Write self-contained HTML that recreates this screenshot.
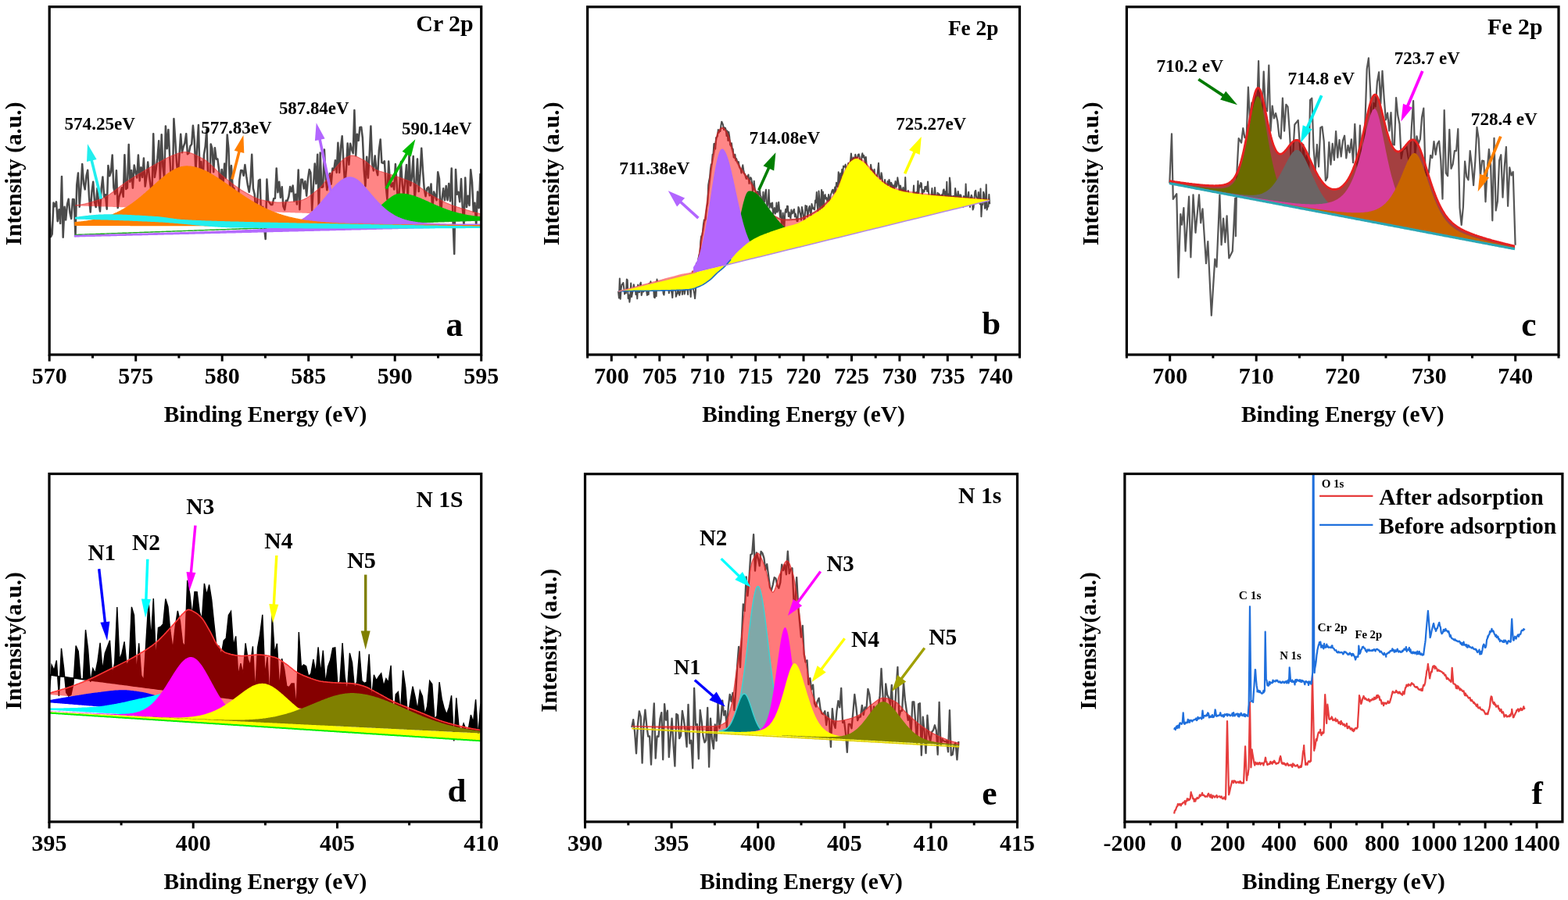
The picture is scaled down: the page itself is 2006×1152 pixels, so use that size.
<!DOCTYPE html><html><head><meta charset="utf-8"><style>html,body{margin:0;padding:0;background:#fff;}svg{display:block;}</style></head><body><svg width="2006" height="1152" viewBox="0 0 2006 1152" font-family="'Liberation Serif', 'Times New Roman', serif"><path d="M63.2 272.8L65 303.1L66.7 299.8L68.5 259.6L70.2 264.1L72 258.4L73.7 283.2L75.5 268.2L77.2 286.1L79 225.9L80.7 303.8L82.5 264.7L84.2 281.5L86 261.6L87.7 254.8L89.5 272.8L91.2 279.9L93 255.1L94.7 255.2L96.5 302L98.2 237L100 221.4L101.7 264.7L103.5 239.5L105.2 210.1L107 235L108.7 242.4L110.5 225.1L112.2 217.7L114 252.3L115.7 271.6L117.5 245L119.2 232.7L121 258.1L122.7 265.1L124.5 241.1L126.2 259.9L128 270.6L129.7 241.1L131.4 226.4L133.2 252.2L134.9 249L136.7 267.7L138.4 211.9L140.2 225.3L141.9 220.2L143.7 198.6L145.4 240.3L147.2 248.5L148.9 218.3L150.7 266.1L152.4 252L154.2 246.5L155.9 240.2L157.7 251.9L159.4 198.2L161.2 241.9L162.9 240.6L164.7 185.1L166.4 232.7L168.2 217.9L169.9 240.7L171.7 211.6L173.4 220.2L175.2 227.5L176.9 198.5L178.7 231.4L180.4 214.2L182.2 226.9L183.9 202.6L185.7 238.6L187.4 226.5L189.2 207.5L190.9 225.1L192.7 238.5L194.4 249.7L196.2 171.3L197.9 226.9L199.7 216.2L201.4 202.4L203.2 180.3L204.9 231.3L206.7 172.3L208.4 213.3L210.2 229.2L211.9 161.4L213.7 190.2L215.4 166.1L217.2 200.9L218.9 229.2L220.7 240.1L222.4 151.9L224.2 178.8L225.9 207.3L227.7 226.7L229.4 199.2L231.2 171.7L232.9 195.2L234.7 187.7L236.4 183.3L238.2 171.2L239.9 197.2L241.7 195.7L243.4 187L245.2 184.5L246.9 160.7L248.7 179.7L250.4 219.4L252.2 188L253.9 160.1L255.7 224.8L257.4 207.1L259.2 244.2L260.9 198.1L262.7 187.1L264.4 165.6L266.2 230.7L267.9 260.8L269.7 184.4L271.4 190L273.2 220.3L274.9 189.2L276.7 203.7L278.4 203.6L280.2 217.7L281.9 240.1L283.7 216.9L285.4 238.9L287.2 209.5L288.9 228L290.7 172.6L292.4 189.8L294.2 242.7L295.9 212.1L297.7 240.3L299.4 240.7L301.2 259.8L302.9 249.3L304.7 255.1L306.4 230.3L308.2 217.9L309.9 218.2L311.7 224.8L313.4 211L315.2 225.4L316.9 236.9L318.7 245.8L320.4 233.2L322.2 197.7L323.9 241.1L325.7 248.8L327.4 269.4L329.2 258.5L330.9 231L332.7 229.8L334.4 293.1L336.2 264.7L337.9 289.8L339.7 306L341.4 229.5L343.2 257.5L344.9 259.5L346.7 262.1L348.4 262L350.2 254.3L351.9 253.9L353.7 215.4L355.4 246.2L357.2 232.8L358.9 252.9L360.7 239.2L362.4 264.1L364.2 268.6L365.9 256.8L367.7 256.8L369.4 251.5L371.2 239L372.9 245.3L374.7 237.5L376.4 257.6L378.2 248.8L379.9 261.6L381.7 217.5L383.4 268.2L385.2 229.7L386.9 229.8L388.7 241.4L390.4 232.1L392.2 250.7L393.9 229.7L395.7 217.1L397.4 221L399.2 269.3L400.9 238.8L402.7 209.5L404.4 235.1L406.2 197.7L407.9 273.2L409.7 195.4L411.4 239.8L413.2 239.3L414.9 191.4L416.7 229.5L418.4 243.3L420.2 228.9L421.9 222L423.7 235.7L425.4 215.5L427.2 217.7L428.9 205.3L430.7 220.9L432.4 182.8L434.2 220.9L435.9 189.3L437.7 174.2L439.4 206.3L441.2 235.7L442.9 218.1L444.7 183.4L446.4 210.7L448.2 183.7L449.9 191.1L451.7 196.2L453.4 141.1L455.2 199.3L456.9 171.7L458.7 180L460.4 162.9L462.2 162.7L463.9 176.7L465.7 218.1L467.4 238.4L469.2 200.7L470.9 227.7L472.7 197.9L474.4 161.4L476.2 210.3L477.9 218.4L479.7 199.4L481.4 217.2L483.2 224.2L484.9 191.9L486.7 178.5L488.4 208.1L490.2 208.9L491.9 206.3L493.7 237.7L495.4 255.3L497.2 206.6L498.9 232.8L500.7 239L502.4 234.3L504.2 242.5L505.9 210L507.7 236.5L509.4 266.6L511.2 239.1L513 207L514.7 235.8L516.5 251.5L518.2 231.6L520 210.9L521.7 260L523.5 196.5L525.2 237.5L527 226.4L528.7 200.1L530.5 256.4L532.2 237.3L534 203.4L535.7 245.1L537.5 222.4L539.2 189.7L541 218.7L542.7 241.6L544.5 251.2L546.2 241.4L548 239.5L549.7 250.2L551.5 235.4L553.2 268.2L555 245.5L556.7 249.7L558.5 256.2L560.2 220.3L562 229.1L563.7 281.3L565.5 254.7L567.2 241.2L569 256.3L570.7 238L572.5 256.2L574.2 235.1L576 257.4L577.7 215.4L579.5 282.8L581.2 325L583 216.9L584.7 248.7L586.5 245.8L588.2 258.3L590 229L591.7 265L593.5 290L595.2 227.4L597 265.1L598.7 250.8L600.5 262.9L602.2 217.3L604 233.1L605.7 270.7L607.5 259.7L609.2 290L611 245.5L612.7 266.3L614.5 222" fill="none" stroke="#4a4a4a" stroke-width="2.5" stroke-linejoin="round"/><path d="M96 262.8L97 262.8L98 262.7L99 262.6L100 262.5L101 262.4L102 262.2L103 262.1L104 261.9L105 261.8L106 261.6L107 261.4L108 261.2L109 260.9L110 260.7L111 260.4L112 260.2L113 259.9L114 259.6L115 259.3L116 259L117 258.7L118 258.4L119 258.1L120 257.8L121 257.4L122 257.1L123 256.8L124 256.4L125 256.1L126 255.7L127 255.4L128 255L129 254.6L130 254.3L131 253.9L132 253.4L133 253L134 252.5L135 251.9L136 251.4L137 250.8L138 250.2L139 249.5L140 248.9L141 248.2L142 247.5L143 246.8L144 246.1L145 245.3L146 244.6L147 243.8L148 243.1L149 242.3L150 241.5L151 240.7L152 240L153 239.2L154 238.4L155 237.6L156 236.9L157 236.1L158 235.4L159 234.7L160 233.9L161 233.2L162 232.5L163 231.9L164 231.2L165 230.6L166 230L167 229.3L168 228.7L169 228.1L170 227.4L171 226.8L172 226.2L173 225.6L174 225L175 224.3L176 223.7L177 223.1L178 222.5L179 221.9L180 221.3L181 220.7L182 220.1L183 219.5L184 218.9L185 218.3L186 217.7L187 217.1L188 216.5L189 215.9L190 215.3L191 214.7L192 214.2L193 213.6L194 213L195 212.5L196 211.9L197 211.3L198 210.8L199 210.2L200 209.7L201 209.1L202 208.6L203 208L204 207.4L205 206.9L206 206.3L207 205.8L208 205.2L209 204.6L210 204.1L211 203.6L212 203L213 202.5L214 202L215 201.5L216 201L217 200.6L218 200.1L219 199.7L220 199.3L221 198.9L222 198.5L223 198.1L224 197.8L225 197.4L226 197L227 196.6L228 196.2L229 195.9L230 195.5L231 195.3L232 195L233 194.8L234 194.6L235 194.5L236 194.5L237 194.5L238 194.6L239 194.7L240 194.9L241 195.1L242 195.3L243 195.6L244 195.9L245 196.2L246 196.6L247 197L248 197.4L249 197.9L250 198.3L251 198.8L252 199.3L253 199.8L254 200.3L255 200.8L256 201.4L257 201.9L258 202.4L259 202.9L260 203.5L261 204L262 204.6L263 205.3L264 206L265 206.8L266 207.6L267 208.4L268 209.3L269 210.2L270 211.1L271 212.1L272 213L273 214L274 215L275 216L276 216.9L277 217.9L278 218.9L279 219.9L280 220.9L281 221.8L282 222.7L283 223.6L284 224.5L285 225.3L286 226.1L287 226.9L288 227.7L289 228.5L290 229.3L291 230.1L292 230.9L293 231.7L294 232.5L295 233.3L296 234.1L297 234.9L298 235.6L299 236.4L300 237.2L301 237.9L302 238.6L303 239.4L304 240.1L305 240.8L306 241.4L307 242.1L308 242.8L309 243.4L310 244L311 244.6L312 245.2L313 245.7L314 246.3L315 246.9L316 247.5L317 248.1L318 248.6L319 249.2L320 249.7L321 250.3L322 250.8L323 251.4L324 251.9L325 252.4L326 252.8L327 253.3L328 253.7L329 254.1L330 254.5L331 254.9L332 255.2L333 255.5L334 255.8L335 256L336 256.2L337 256.4L338 256.6L339 256.9L340 257.1L341 257.3L342 257.5L343 257.6L344 257.8L345 258L346 258.1L347 258.3L348 258.4L349 258.6L350 258.7L351 258.8L352 258.8L353 258.9L354 259L355 259L356 259L357 259L358 259L359 259L360 258.9L361 258.9L362 258.9L363 258.8L364 258.8L365 258.8L366 258.7L367 258.6L368 258.6L369 258.5L370 258.4L371 258.3L372 258.3L373 258.2L374 258.1L375 258L376 257.9L377 257.8L378 257.7L379 257.6L380 257.4L381 257.3L382 257.2L383 257L384 256.8L385 256.6L386 256.3L387 255.9L388 255.5L389 255.1L390 254.6L391 254.1L392 253.5L393 252.9L394 252.3L395 251.7L396 251L397 250.3L398 249.5L399 248.8L400 248L401 247.2L402 246.4L403 245.6L404 244.8L405 244L406 243.2L407 242.3L408 241.5L409 240.6L410 239.6L411 238.6L412 237.4L413 236.2L414 234.9L415 233.6L416 232.3L417 230.9L418 229.5L419 228L420 226.6L421 225.2L422 223.8L423 222.4L424 221.1L425 219.8L426 218.6L427 217.4L428 216.3L429 215.2L430 214L431 212.8L432 211.6L433 210.5L434 209.3L435 208.2L436 207.2L437 206.1L438 205.2L439 204.3L440 203.4L441 202.7L442 202L443 201.5L444 201L445 200.5L446 200L447 199.6L448 199.3L449 199.1L450 199L451 199.1L452 199.2L453 199.4L454 199.6L455 200L456 200.3L457 200.7L458 201.2L459 201.7L460 202.2L461 202.7L462 203.2L463 203.7L464 204.3L465 204.8L466 205.3L467 206L468 206.7L469 207.5L470 208.3L471 209.2L472 210.1L473 211L474 211.9L475 212.8L476 213.7L477 214.6L478 215.3L479 216.1L480 216.7L481 217.2L482 217.6L483 218.1L484 218.5L485 218.8L486 219.2L487 219.5L488 219.8L489 220.1L490 220.4L491 220.7L492 221L493 221.3L494 221.6L495 221.9L496 222.2L497 222.5L498 222.8L499 223.2L500 223.5L501 223.8L502 224.1L503 224.5L504 224.8L505 225.1L506 225.4L507 225.8L508 226.1L509 226.4L510 226.8L511 227.1L512 227.5L513 227.9L514 228.2L515 228.6L516 228.9L517 229.3L518 229.7L519 230L520 230.4L521 230.8L522 231.2L523 231.6L524 232L525 232.4L526 232.8L527 233.3L528 233.8L529 234.2L530 234.8L531 235.3L532 235.9L533 236.5L534 237.2L535 237.9L536 238.7L537 239.4L538 240.2L539 240.9L540 241.7L541 242.5L542 243.2L543 244L544 244.7L545 245.4L546 246.1L547 246.7L548 247.3L549 247.9L550 248.5L551 249.1L552 249.7L553 250.3L554 250.9L555 251.5L556 252.1L557 252.6L558 253.2L559 253.7L560 254.3L561 254.8L562 255.4L563 255.9L564 256.4L565 256.9L566 257.4L567 257.9L568 258.4L569 258.9L570 259.3L571 259.8L572 260.2L573 260.6L574 261L575 261.4L576 261.8L577 262.2L578 262.5L579 262.9L580 263.3L581 263.6L582 264L583 264.3L584 264.6L585 265L586 265.3L587 265.6L588 265.9L589 266.3L590 266.6L591 266.9L592 267.2L593 267.5L594 267.8L595 268.1L596 268.4L597 268.7L598 269L599 269.3L600 269.6L601 269.9L602 270.2L603 270.5L604 270.8L605 271.1L606 271.4L607 271.6L608 271.9L609 272.2L610 272.5L611 272.7L612 273L613 273.3L614 273.5L615 273.8L615 280L614 280L613 279.9L612 279.9L611 279.9L610 279.8L609 279.8L608 279.8L607 279.7L606 279.7L605 279.7L604 279.6L603 279.6L602 279.6L601 279.5L600 279.5L599 279.5L598 279.5L597 279.4L596 279.4L595 279.4L594 279.3L593 279.3L592 279.3L591 279.2L590 279.2L589 279.2L588 279.1L587 279.1L586 279.1L585 279L584 279L583 279L582 278.9L581 278.9L580 278.9L579 278.8L578 278.8L577 278.8L576 278.7L575 278.7L574 278.7L573 278.6L572 278.6L571 278.6L570 278.6L569 278.5L568 278.5L567 278.5L566 278.4L565 278.4L564 278.4L563 278.3L562 278.3L561 278.3L560 278.2L559 278.2L558 278.2L557 278.1L556 278.1L555 278.1L554 278L553 278L552 278L551 277.9L550 277.9L549 277.9L548 277.8L547 277.8L546 277.8L545 277.7L544 277.7L543 277.7L542 277.7L541 277.6L540 277.6L539 277.6L538 277.5L537 277.5L536 277.5L535 277.4L534 277.4L533 277.4L532 277.3L531 277.3L530 277.3L529 277.2L528 277.2L527 277.2L526 277.1L525 277.1L524 277.1L523 277L522 277L521 277L520 276.9L519 276.9L518 276.9L517 276.8L516 276.8L515 276.8L514 276.8L513 276.7L512 276.7L511 276.7L510 276.6L509 276.6L508 276.6L507 276.5L506 276.5L505 276.5L504 276.4L503 276.4L502 276.4L501 276.3L500 276.3L499 276.3L498 276.2L497 276.2L496 276.2L495 276.1L494 276.1L493 276.1L492 276L491 276L490 276L489 275.9L488 275.9L487 275.9L486 275.8L485 275.8L484 275.8L483 275.8L482 275.7L481 275.7L480 275.7L479 275.6L478 275.6L477 275.6L476 275.5L475 275.5L474 275.5L473 275.4L472 275.4L471 275.4L470 275.3L469 275.3L468 275.3L467 275.2L466 275.2L465 275.2L464 275.1L463 275.1L462 275.1L461 275L460 275L459 275L458 274.9L457 274.9L456 274.9L455 274.9L454 274.8L453 274.8L452 274.8L451 274.7L450 274.7L449 274.7L448 274.6L447 274.6L446 274.6L445 274.5L444 274.5L443 274.5L442 274.4L441 274.4L440 274.4L439 274.3L438 274.3L437 274.3L436 274.2L435 274.2L434 274.2L433 274.1L432 274.1L431 274.1L430 274L429 274L428 274L427 274L426 273.9L425 273.9L424 273.9L423 273.8L422 273.8L421 273.8L420 273.7L419 273.7L418 273.7L417 273.6L416 273.6L415 273.6L414 273.5L413 273.5L412 273.5L411 273.4L410 273.4L409 273.4L408 273.3L407 273.3L406 273.3L405 273.2L404 273.2L403 273.2L402 273.1L401 273.1L400 273.1L399 273L398 273L397 273L396 273L395 272.9L394 272.9L393 272.9L392 272.8L391 272.8L390 272.8L389 272.7L388 272.7L387 272.7L386 272.6L385 272.6L384 272.6L383 272.5L382 272.5L381 272.5L380 272.4L379 272.4L378 272.4L377 272.3L376 272.3L375 272.3L374 272.2L373 272.2L372 272.2L371 272.1L370 272.1L369 272.1L368 272.1L367 272L366 272L365 272L364 271.9L363 271.9L362 271.9L361 271.8L360 271.8L359 271.8L358 271.7L357 271.7L356 271.7L355 271.6L354 271.6L353 271.6L352 271.5L351 271.5L350 271.5L349 271.4L348 271.4L347 271.4L346 271.3L345 271.3L344 271.3L343 271.2L342 271.2L341 271.2L340 271.2L339 271.1L338 271.1L337 271.1L336 271L335 271L334 271L333 270.9L332 270.9L331 270.9L330 270.8L329 270.8L328 270.8L327 270.7L326 270.7L325 270.7L324 270.6L323 270.6L322 270.6L321 270.5L320 270.5L319 270.5L318 270.4L317 270.4L316 270.4L315 270.3L314 270.3L313 270.3L312 270.3L311 270.2L310 270.2L309 270.2L308 270.1L307 270.1L306 270.1L305 270L304 270L303 270L302 269.9L301 269.9L300 269.9L299 269.8L298 269.8L297 269.8L296 269.7L295 269.7L294 269.7L293 269.6L292 269.6L291 269.6L290 269.5L289 269.5L288 269.5L287 269.4L286 269.4L285 269.4L284 269.3L283 269.3L282 269.3L281 269.3L280 269.2L279 269.2L278 269.2L277 269.1L276 269.1L275 269.1L274 269L273 269L272 269L271 268.9L270 268.9L269 268.9L268 268.8L267 268.8L266 268.8L265 268.7L264 268.7L263 268.7L262 268.6L261 268.6L260 268.6L259 268.5L258 268.5L257 268.5L256 268.4L255 268.4L254 268.4L253 268.4L252 268.3L251 268.3L250 268.3L249 268.2L248 268.2L247 268.2L246 268.1L245 268.1L244 268.1L243 268L242 268L241 268L240 267.9L239 267.9L238 267.9L237 267.8L236 267.8L235 267.8L234 267.7L233 267.7L232 267.7L231 267.6L230 267.6L229 267.6L228 267.5L227 267.5L226 267.5L225 267.5L224 267.4L223 267.4L222 267.4L221 267.3L220 267.3L219 267.3L218 267.2L217 267.2L216 267.2L215 267.1L214 267.1L213 267.1L212 267L211 267L210 267L209 266.9L208 266.9L207 266.9L206 266.8L205 266.8L204 266.8L203 266.7L202 266.7L201 266.7L200 266.6L199 266.6L198 266.6L197 266.5L196 266.5L195 266.5L194 266.5L193 266.4L192 266.4L191 266.4L190 266.3L189 266.3L188 266.3L187 266.2L186 266.2L185 266.2L184 266.1L183 266.1L182 266.1L181 266L180 266L179 266L178 265.9L177 265.9L176 265.9L175 265.8L174 265.8L173 265.8L172 265.7L171 265.7L170 265.7L169 265.6L168 265.6L167 265.6L166 265.6L165 265.5L164 265.5L163 265.5L162 265.4L161 265.4L160 265.4L159 265.3L158 265.3L157 265.3L156 265.2L155 265.2L154 265.2L153 265.1L152 265.1L151 265.1L150 265L149 265L148 265L147 264.9L146 264.9L145 264.9L144 264.8L143 264.8L142 264.8L141 264.7L140 264.7L139 264.7L138 264.7L137 264.6L136 264.6L135 264.6L134 264.5L133 264.5L132 264.5L131 264.4L130 264.4L129 264.4L128 264.3L127 264.3L126 264.3L125 264.2L124 264.2L123 264.2L122 264.1L121 264.1L120 264.1L119 264L118 264L117 264L116 263.9L115 263.9L114 263.9L113 263.8L112 263.8L111 263.8L110 263.8L109 263.7L108 263.7L107 263.7L106 263.6L105 263.6L104 263.6L103 263.5L102 263.5L101 263.5L100 263.4L99 263.4L98 263.4L97 263.3L96 263.3Z" fill="#ff0000" fill-opacity="0.48"/><path d="M96 262.8L97 262.8L98 262.7L99 262.6L100 262.5L101 262.4L102 262.2L103 262.1L104 261.9L105 261.8L106 261.6L107 261.4L108 261.2L109 260.9L110 260.7L111 260.4L112 260.2L113 259.9L114 259.6L115 259.3L116 259L117 258.7L118 258.4L119 258.1L120 257.8L121 257.4L122 257.1L123 256.8L124 256.4L125 256.1L126 255.7L127 255.4L128 255L129 254.6L130 254.3L131 253.9L132 253.4L133 253L134 252.5L135 251.9L136 251.4L137 250.8L138 250.2L139 249.5L140 248.9L141 248.2L142 247.5L143 246.8L144 246.1L145 245.3L146 244.6L147 243.8L148 243.1L149 242.3L150 241.5L151 240.7L152 240L153 239.2L154 238.4L155 237.6L156 236.9L157 236.1L158 235.4L159 234.7L160 233.9L161 233.2L162 232.5L163 231.9L164 231.2L165 230.6L166 230L167 229.3L168 228.7L169 228.1L170 227.4L171 226.8L172 226.2L173 225.6L174 225L175 224.3L176 223.7L177 223.1L178 222.5L179 221.9L180 221.3L181 220.7L182 220.1L183 219.5L184 218.9L185 218.3L186 217.7L187 217.1L188 216.5L189 215.9L190 215.3L191 214.7L192 214.2L193 213.6L194 213L195 212.5L196 211.9L197 211.3L198 210.8L199 210.2L200 209.7L201 209.1L202 208.6L203 208L204 207.4L205 206.9L206 206.3L207 205.8L208 205.2L209 204.6L210 204.1L211 203.6L212 203L213 202.5L214 202L215 201.5L216 201L217 200.6L218 200.1L219 199.7L220 199.3L221 198.9L222 198.5L223 198.1L224 197.8L225 197.4L226 197L227 196.6L228 196.2L229 195.9L230 195.5L231 195.3L232 195L233 194.8L234 194.6L235 194.5L236 194.5L237 194.5L238 194.6L239 194.7L240 194.9L241 195.1L242 195.3L243 195.6L244 195.9L245 196.2L246 196.6L247 197L248 197.4L249 197.9L250 198.3L251 198.8L252 199.3L253 199.8L254 200.3L255 200.8L256 201.4L257 201.9L258 202.4L259 202.9L260 203.5L261 204L262 204.6L263 205.3L264 206L265 206.8L266 207.6L267 208.4L268 209.3L269 210.2L270 211.1L271 212.1L272 213L273 214L274 215L275 216L276 216.9L277 217.9L278 218.9L279 219.9L280 220.9L281 221.8L282 222.7L283 223.6L284 224.5L285 225.3L286 226.1L287 226.9L288 227.7L289 228.5L290 229.3L291 230.1L292 230.9L293 231.7L294 232.5L295 233.3L296 234.1L297 234.9L298 235.6L299 236.4L300 237.2L301 237.9L302 238.6L303 239.4L304 240.1L305 240.8L306 241.4L307 242.1L308 242.8L309 243.4L310 244L311 244.6L312 245.2L313 245.7L314 246.3L315 246.9L316 247.5L317 248.1L318 248.6L319 249.2L320 249.7L321 250.3L322 250.8L323 251.4L324 251.9L325 252.4L326 252.8L327 253.3L328 253.7L329 254.1L330 254.5L331 254.9L332 255.2L333 255.5L334 255.8L335 256L336 256.2L337 256.4L338 256.6L339 256.9L340 257.1L341 257.3L342 257.5L343 257.6L344 257.8L345 258L346 258.1L347 258.3L348 258.4L349 258.6L350 258.7L351 258.8L352 258.8L353 258.9L354 259L355 259L356 259L357 259L358 259L359 259L360 258.9L361 258.9L362 258.9L363 258.8L364 258.8L365 258.8L366 258.7L367 258.6L368 258.6L369 258.5L370 258.4L371 258.3L372 258.3L373 258.2L374 258.1L375 258L376 257.9L377 257.8L378 257.7L379 257.6L380 257.4L381 257.3L382 257.2L383 257L384 256.8L385 256.6L386 256.3L387 255.9L388 255.5L389 255.1L390 254.6L391 254.1L392 253.5L393 252.9L394 252.3L395 251.7L396 251L397 250.3L398 249.5L399 248.8L400 248L401 247.2L402 246.4L403 245.6L404 244.8L405 244L406 243.2L407 242.3L408 241.5L409 240.6L410 239.6L411 238.6L412 237.4L413 236.2L414 234.9L415 233.6L416 232.3L417 230.9L418 229.5L419 228L420 226.6L421 225.2L422 223.8L423 222.4L424 221.1L425 219.8L426 218.6L427 217.4L428 216.3L429 215.2L430 214L431 212.8L432 211.6L433 210.5L434 209.3L435 208.2L436 207.2L437 206.1L438 205.2L439 204.3L440 203.4L441 202.7L442 202L443 201.5L444 201L445 200.5L446 200L447 199.6L448 199.3L449 199.1L450 199L451 199.1L452 199.2L453 199.4L454 199.6L455 200L456 200.3L457 200.7L458 201.2L459 201.7L460 202.2L461 202.7L462 203.2L463 203.7L464 204.3L465 204.8L466 205.3L467 206L468 206.7L469 207.5L470 208.3L471 209.2L472 210.1L473 211L474 211.9L475 212.8L476 213.7L477 214.6L478 215.3L479 216.1L480 216.7L481 217.2L482 217.6L483 218.1L484 218.5L485 218.8L486 219.2L487 219.5L488 219.8L489 220.1L490 220.4L491 220.7L492 221L493 221.3L494 221.6L495 221.9L496 222.2L497 222.5L498 222.8L499 223.2L500 223.5L501 223.8L502 224.1L503 224.5L504 224.8L505 225.1L506 225.4L507 225.8L508 226.1L509 226.4L510 226.8L511 227.1L512 227.5L513 227.9L514 228.2L515 228.6L516 228.9L517 229.3L518 229.7L519 230L520 230.4L521 230.8L522 231.2L523 231.6L524 232L525 232.4L526 232.8L527 233.3L528 233.8L529 234.2L530 234.8L531 235.3L532 235.9L533 236.5L534 237.2L535 237.9L536 238.7L537 239.4L538 240.2L539 240.9L540 241.7L541 242.5L542 243.2L543 244L544 244.7L545 245.4L546 246.1L547 246.7L548 247.3L549 247.9L550 248.5L551 249.1L552 249.7L553 250.3L554 250.9L555 251.5L556 252.1L557 252.6L558 253.2L559 253.7L560 254.3L561 254.8L562 255.4L563 255.9L564 256.4L565 256.9L566 257.4L567 257.9L568 258.4L569 258.9L570 259.3L571 259.8L572 260.2L573 260.6L574 261L575 261.4L576 261.8L577 262.2L578 262.5L579 262.9L580 263.3L581 263.6L582 264L583 264.3L584 264.6L585 265L586 265.3L587 265.6L588 265.9L589 266.3L590 266.6L591 266.9L592 267.2L593 267.5L594 267.8L595 268.1L596 268.4L597 268.7L598 269L599 269.3L600 269.6L601 269.9L602 270.2L603 270.5L604 270.8L605 271.1L606 271.4L607 271.6L608 271.9L609 272.2L610 272.5L611 272.7L612 273L613 273.3L614 273.5L615 273.8" fill="none" stroke="#e03030" stroke-width="1.2" stroke-opacity="0.6"/><path d="M96 300.4L97 300.4L98 300.3L99 300.3L100 300.3L101 300.2L102 300.2L103 300.2L104 300.1L105 300.1L106 300.1L107 300L108 300L109 299.9L110 299.9L111 299.9L112 299.8L113 299.8L114 299.8L115 299.7L116 299.7L117 299.7L118 299.6L119 299.6L120 299.5L121 299.5L122 299.5L123 299.4L124 299.4L125 299.4L126 299.3L127 299.3L128 299.3L129 299.2L130 299.2L131 299.1L132 299.1L133 299.1L134 299L135 299L136 299L137 298.9L138 298.9L139 298.9L140 298.8L141 298.8L142 298.7L143 298.7L144 298.7L145 298.6L146 298.6L147 298.6L148 298.5L149 298.5L150 298.5L151 298.4L152 298.4L153 298.3L154 298.3L155 298.3L156 298.2L157 298.2L158 298.2L159 298.1L160 298.1L161 298.1L162 298L163 298L164 297.9L165 297.9L166 297.9L167 297.8L168 297.8L169 297.8L170 297.7L171 297.7L172 297.7L173 297.6L174 297.6L175 297.5L176 297.5L177 297.5L178 297.4L179 297.4L180 297.4L181 297.3L182 297.3L183 297.3L184 297.2L185 297.2L186 297.1L187 297.1L188 297.1L189 297L190 297L191 297L192 296.9L193 296.9L194 296.9L195 296.8L196 296.8L197 296.7L198 296.7L199 296.7L200 296.6L201 296.6L202 296.6L203 296.5L204 296.5L205 296.5L206 296.4L207 296.4L208 296.3L209 296.3L210 296.3L211 296.2L212 296.2L213 296.2L214 296.1L215 296.1L216 296L217 296L218 296L219 295.9L220 295.9L221 295.9L222 295.8L223 295.8L224 295.8L225 295.7L226 295.7L227 295.6L228 295.6L229 295.6L230 295.5L231 295.5L232 295.5L233 295.4L234 295.4L235 295.3L236 295.3L237 295.3L238 295.2L239 295.2L240 295.2L241 295.1L242 295.1L243 295L244 295L245 295L246 294.9L247 294.9L248 294.9L249 294.8L250 294.8L251 294.8L252 294.7L253 294.7L254 294.6L255 294.6L256 294.6L257 294.5L258 294.5L259 294.5L260 294.4L261 294.4L262 294.3L263 294.3L264 294.3L265 294.2L266 294.2L267 294.2L268 294.1L269 294.1L270 294L271 294L272 294L273 293.9L274 293.9L275 293.8L276 293.8L277 293.8L278 293.7L279 293.7L280 293.7L281 293.6L282 293.6L283 293.5L284 293.5L285 293.5L286 293.4L287 293.4L288 293.4L289 293.3L290 293.3L291 293.2L292 293.2L293 293.2L294 293.1L295 293.1L296 293L297 293L298 293L299 292.9L300 292.9L301 292.9L302 292.8L303 292.8L304 292.7L305 292.7L306 292.7L307 292.6L308 292.6L309 292.5L310 292.5L311 292.5L312 292.4L313 292.4L314 292.3L315 292.3L316 292.3L317 292.2L318 292.2L319 292.1L320 292.1L321 292.1L322 292L323 292L324 291.9L325 291.9L326 291.9L327 291.8L328 291.8L329 291.7L330 291.7L331 291.7L332 291.6L333 291.6L334 291.5L335 291.5L336 291.5L337 291.4L338 291.4L339 291.3L340 291.3L341 291.3L342 291.2L343 291.2L344 291.1L345 291.1L346 291L347 291L348 291L349 290.9L350 290.9L351 290.8L352 290.8L353 290.7L354 290.7L355 290.7L356 290.6L357 290.6L358 290.5L359 290.5L360 290.4L361 290.4L362 290.4L363 290.3L364 290.3L365 290.2L366 290.2L367 290.1L368 290.1L369 290L370 290L371 289.9L372 289.9L373 289.9L374 289.8L375 289.8L376 289.7L377 289.7L378 289.6L379 289.6L380 289.5L381 289.5L382 289.4L383 289.4L384 289.3L385 289.3L386 289.2L387 289.2L388 289.1L389 289.1L390 289L391 289L392 288.9L393 288.9L394 288.8L395 288.8L396 288.7L397 288.7L398 288.6L399 288.6L400 288.5L401 288.4L402 288.4L403 288.3L404 288.3L405 288.2L406 288.2L407 288.1L408 288L409 288L410 287.9L411 287.9L412 287.8L413 287.7L414 287.7L415 287.6L416 287.5L417 287.5L418 287.4L419 287.3L420 287.3L421 287.2L422 287.1L423 287L424 286.9L425 286.9L426 286.8L427 286.7L428 286.6L429 286.5L430 286.4L431 286.3L432 286.2L433 286.1L434 286L435 285.9L436 285.8L437 285.7L438 285.5L439 285.4L440 285.3L441 285.1L442 285L443 284.8L444 284.6L445 284.5L446 284.3L447 284.1L448 283.9L449 283.7L450 283.4L451 283.2L452 283L453 282.7L454 282.4L455 282.1L456 281.8L457 281.5L458 281.2L459 280.8L460 280.5L461 280.1L462 279.7L463 279.2L464 278.8L465 278.3L466 277.9L467 277.4L468 276.8L469 276.3L470 275.7L471 275.1L472 274.5L473 273.9L474 273.2L475 272.6L476 271.9L477 271.2L478 270.4L479 269.7L480 268.9L481 268.1L482 267.3L483 266.5L484 265.6L485 264.8L486 263.9L487 263.1L488 262.2L489 261.3L490 260.5L491 259.6L492 258.7L493 257.8L494 257L495 256.1L496 255.3L497 254.5L498 253.7L499 252.9L500 252.2L501 251.5L502 250.9L503 250.3L504 249.8L505 249.3L506 248.8L507 248.5L508 248.1L509 247.9L510 247.7L511 247.6L512 247.6L513 247.6L514 247.6L515 247.6L516 247.7L517 247.7L518 247.8L519 248L520 248.1L521 248.3L522 248.5L523 248.7L524 248.9L525 249.1L526 249.4L527 249.7L528 250L529 250.3L530 250.6L531 251L532 251.3L533 251.7L534 252L535 252.4L536 252.8L537 253.2L538 253.6L539 254L540 254.5L541 254.9L542 255.3L543 255.8L544 256.2L545 256.7L546 257.1L547 257.6L548 258L549 258.5L550 258.9L551 259.4L552 259.8L553 260.3L554 260.7L555 261.2L556 261.6L557 262L558 262.5L559 262.9L560 263.3L561 263.7L562 264.2L563 264.6L564 265L565 265.4L566 265.8L567 266.2L568 266.6L569 266.9L570 267.3L571 267.7L572 268L573 268.4L574 268.7L575 269.1L576 269.4L577 269.7L578 270.1L579 270.4L580 270.7L581 271L582 271.3L583 271.6L584 271.8L585 272.1L586 272.4L587 272.6L588 272.9L589 273.1L590 273.3L591 273.6L592 273.8L593 274L594 274.2L595 274.4L596 274.6L597 274.8L598 275L599 275.2L600 275.3L601 275.5L602 275.6L603 275.8L604 275.9L605 276.1L606 276.2L607 276.3L608 276.5L609 276.6L610 276.7L611 276.8L612 276.9L613 277L614 277.1L615 277.2L615 282L614 282L613 282.1L612 282.1L611 282.1L610 282.2L609 282.2L608 282.2L607 282.3L606 282.3L605 282.4L604 282.4L603 282.4L602 282.5L601 282.5L600 282.5L599 282.6L598 282.6L597 282.6L596 282.7L595 282.7L594 282.7L593 282.8L592 282.8L591 282.9L590 282.9L589 282.9L588 283L587 283L586 283L585 283.1L584 283.1L583 283.1L582 283.2L581 283.2L580 283.2L579 283.3L578 283.3L577 283.4L576 283.4L575 283.4L574 283.5L573 283.5L572 283.5L571 283.6L570 283.6L569 283.6L568 283.7L567 283.7L566 283.7L565 283.8L564 283.8L563 283.9L562 283.9L561 283.9L560 284L559 284L558 284L557 284.1L556 284.1L555 284.1L554 284.2L553 284.2L552 284.2L551 284.3L550 284.3L549 284.4L548 284.4L547 284.4L546 284.5L545 284.5L544 284.5L543 284.6L542 284.6L541 284.6L540 284.7L539 284.7L538 284.7L537 284.8L536 284.8L535 284.9L534 284.9L533 284.9L532 285L531 285L530 285L529 285.1L528 285.1L527 285.1L526 285.2L525 285.2L524 285.2L523 285.3L522 285.3L521 285.4L520 285.4L519 285.4L518 285.5L517 285.5L516 285.5L515 285.6L514 285.6L513 285.6L512 285.7L511 285.7L510 285.7L509 285.8L508 285.8L507 285.8L506 285.9L505 285.9L504 286L503 286L502 286L501 286.1L500 286.1L499 286.1L498 286.2L497 286.2L496 286.2L495 286.3L494 286.3L493 286.3L492 286.4L491 286.4L490 286.5L489 286.5L488 286.5L487 286.6L486 286.6L485 286.6L484 286.7L483 286.7L482 286.7L481 286.8L480 286.8L479 286.8L478 286.9L477 286.9L476 287L475 287L474 287L473 287.1L472 287.1L471 287.1L470 287.2L469 287.2L468 287.2L467 287.3L466 287.3L465 287.3L464 287.4L463 287.4L462 287.5L461 287.5L460 287.5L459 287.6L458 287.6L457 287.6L456 287.7L455 287.7L454 287.7L453 287.8L452 287.8L451 287.8L450 287.9L449 287.9L448 288L447 288L446 288L445 288.1L444 288.1L443 288.1L442 288.2L441 288.2L440 288.2L439 288.3L438 288.3L437 288.3L436 288.4L435 288.4L434 288.5L433 288.5L432 288.5L431 288.6L430 288.6L429 288.6L428 288.7L427 288.7L426 288.7L425 288.8L424 288.8L423 288.8L422 288.9L421 288.9L420 289L419 289L418 289L417 289.1L416 289.1L415 289.1L414 289.2L413 289.2L412 289.2L411 289.3L410 289.3L409 289.3L408 289.4L407 289.4L406 289.4L405 289.5L404 289.5L403 289.6L402 289.6L401 289.6L400 289.7L399 289.7L398 289.7L397 289.8L396 289.8L395 289.8L394 289.9L393 289.9L392 289.9L391 290L390 290L389 290.1L388 290.1L387 290.1L386 290.2L385 290.2L384 290.2L383 290.3L382 290.3L381 290.3L380 290.4L379 290.4L378 290.4L377 290.5L376 290.5L375 290.6L374 290.6L373 290.6L372 290.7L371 290.7L370 290.7L369 290.8L368 290.8L367 290.8L366 290.9L365 290.9L364 290.9L363 291L362 291L361 291.1L360 291.1L359 291.1L358 291.2L357 291.2L356 291.2L355 291.3L354 291.3L353 291.3L352 291.4L351 291.4L350 291.4L349 291.5L348 291.5L347 291.6L346 291.6L345 291.6L344 291.7L343 291.7L342 291.7L341 291.8L340 291.8L339 291.8L338 291.9L337 291.9L336 291.9L335 292L334 292L333 292.1L332 292.1L331 292.1L330 292.2L329 292.2L328 292.2L327 292.3L326 292.3L325 292.3L324 292.4L323 292.4L322 292.4L321 292.5L320 292.5L319 292.6L318 292.6L317 292.6L316 292.7L315 292.7L314 292.7L313 292.8L312 292.8L311 292.8L310 292.9L309 292.9L308 292.9L307 293L306 293L305 293.1L304 293.1L303 293.1L302 293.2L301 293.2L300 293.2L299 293.3L298 293.3L297 293.3L296 293.4L295 293.4L294 293.4L293 293.5L292 293.5L291 293.5L290 293.6L289 293.6L288 293.7L287 293.7L286 293.7L285 293.8L284 293.8L283 293.8L282 293.9L281 293.9L280 293.9L279 294L278 294L277 294L276 294.1L275 294.1L274 294.2L273 294.2L272 294.2L271 294.3L270 294.3L269 294.3L268 294.4L267 294.4L266 294.4L265 294.5L264 294.5L263 294.5L262 294.6L261 294.6L260 294.7L259 294.7L258 294.7L257 294.8L256 294.8L255 294.8L254 294.9L253 294.9L252 294.9L251 295L250 295L249 295L248 295.1L247 295.1L246 295.2L245 295.2L244 295.2L243 295.3L242 295.3L241 295.3L240 295.4L239 295.4L238 295.4L237 295.5L236 295.5L235 295.5L234 295.6L233 295.6L232 295.7L231 295.7L230 295.7L229 295.8L228 295.8L227 295.8L226 295.9L225 295.9L224 295.9L223 296L222 296L221 296L220 296.1L219 296.1L218 296.2L217 296.2L216 296.2L215 296.3L214 296.3L213 296.3L212 296.4L211 296.4L210 296.4L209 296.5L208 296.5L207 296.5L206 296.6L205 296.6L204 296.7L203 296.7L202 296.7L201 296.8L200 296.8L199 296.8L198 296.9L197 296.9L196 296.9L195 297L194 297L193 297L192 297.1L191 297.1L190 297.1L189 297.2L188 297.2L187 297.3L186 297.3L185 297.3L184 297.4L183 297.4L182 297.4L181 297.5L180 297.5L179 297.5L178 297.6L177 297.6L176 297.6L175 297.7L174 297.7L173 297.8L172 297.8L171 297.8L170 297.9L169 297.9L168 297.9L167 298L166 298L165 298L164 298.1L163 298.1L162 298.1L161 298.2L160 298.2L159 298.3L158 298.3L157 298.3L156 298.4L155 298.4L154 298.4L153 298.5L152 298.5L151 298.5L150 298.6L149 298.6L148 298.6L147 298.7L146 298.7L145 298.8L144 298.8L143 298.8L142 298.9L141 298.9L140 298.9L139 299L138 299L137 299L136 299.1L135 299.1L134 299.1L133 299.2L132 299.2L131 299.3L130 299.3L129 299.3L128 299.4L127 299.4L126 299.4L125 299.5L124 299.5L123 299.5L122 299.6L121 299.6L120 299.6L119 299.7L118 299.7L117 299.8L116 299.8L115 299.8L114 299.9L113 299.9L112 299.9L111 300L110 300L109 300L108 300.1L107 300.1L106 300.1L105 300.2L104 300.2L103 300.3L102 300.3L101 300.3L100 300.4L99 300.4L98 300.4L97 300.5L96 300.5Z" fill="#00bf00"/><path d="M96 300.5L97 300.5L98 300.4L99 300.4L100 300.4L101 300.3L102 300.3L103 300.3L104 300.2L105 300.2L106 300.1L107 300.1L108 300.1L109 300L110 300L111 300L112 299.9L113 299.9L114 299.9L115 299.8L116 299.8L117 299.8L118 299.7L119 299.7L120 299.6L121 299.6L122 299.6L123 299.5L124 299.5L125 299.5L126 299.4L127 299.4L128 299.4L129 299.3L130 299.3L131 299.3L132 299.2L133 299.2L134 299.1L135 299.1L136 299.1L137 299L138 299L139 299L140 298.9L141 298.9L142 298.9L143 298.8L144 298.8L145 298.8L146 298.7L147 298.7L148 298.6L149 298.6L150 298.6L151 298.5L152 298.5L153 298.5L154 298.4L155 298.4L156 298.4L157 298.3L158 298.3L159 298.3L160 298.2L161 298.2L162 298.1L163 298.1L164 298.1L165 298L166 298L167 298L168 297.9L169 297.9L170 297.9L171 297.8L172 297.8L173 297.8L174 297.7L175 297.7L176 297.6L177 297.6L178 297.6L179 297.5L180 297.5L181 297.5L182 297.4L183 297.4L184 297.4L185 297.3L186 297.3L187 297.3L188 297.2L189 297.2L190 297.1L191 297.1L192 297.1L193 297L194 297L195 297L196 296.9L197 296.9L198 296.9L199 296.8L200 296.8L201 296.8L202 296.7L203 296.7L204 296.7L205 296.6L206 296.6L207 296.5L208 296.5L209 296.5L210 296.4L211 296.4L212 296.4L213 296.3L214 296.3L215 296.3L216 296.2L217 296.2L218 296.2L219 296.1L220 296.1L221 296L222 296L223 296L224 295.9L225 295.9L226 295.9L227 295.8L228 295.8L229 295.8L230 295.7L231 295.7L232 295.7L233 295.6L234 295.6L235 295.5L236 295.5L237 295.5L238 295.4L239 295.4L240 295.4L241 295.3L242 295.3L243 295.3L244 295.2L245 295.2L246 295.2L247 295.1L248 295.1L249 295L250 295L251 295L252 294.9L253 294.9L254 294.9L255 294.8L256 294.8L257 294.8L258 294.7L259 294.7L260 294.7L261 294.6L262 294.6L263 294.5L264 294.5L265 294.5L266 294.4L267 294.4L268 294.4L269 294.3L270 294.3L271 294.3L272 294.2L273 294.2L274 294.2L275 294.1L276 294.1L277 294L278 294L279 294L280 293.9L281 293.9L282 293.9L283 293.8L284 293.8L285 293.8L286 293.7L287 293.7L288 293.7L289 293.6L290 293.6L291 293.5L292 293.5L293 293.5L294 293.4L295 293.4L296 293.4L297 293.3L298 293.3L299 293.3L300 293.2L301 293.2L302 293.2L303 293.1L304 293.1L305 293.1L306 293L307 293L308 292.9L309 292.9L310 292.9L311 292.8L312 292.8L313 292.8L314 292.7L315 292.7L316 292.7L317 292.6L318 292.6L319 292.6L320 292.5L321 292.5L322 292.4L323 292.4L324 292.4L325 292.3L326 292.3L327 292.3L328 292.2L329 292.2L330 292.2L331 292.1L332 292.1L333 292.1L334 292L335 292L336 291.9L337 291.9L338 291.9L339 291.8L340 291.8L341 291.8L342 291.7L343 291.7L344 291.7L345 291.6L346 291.6L347 291.6L348 291.5L349 291.5L350 291.4L351 291.4L352 291.4L353 291.3L354 291.3L355 291.3L356 291.2L357 291.2L358 291.2L359 291.1L360 291.1L361 291.1L362 291L363 291L364 290.9L365 290.9L366 290.9L367 290.8L368 290.8L369 290.8L370 290.7L371 290.7L372 290.7L373 290.6L374 290.6L375 290.6L376 290.5L377 290.5L378 290.4L379 290.4L380 290.4L381 290.3L382 290.3L383 290.3L384 290.2L385 290.2L386 290.2L387 290.1L388 290.1L389 290.1L390 290L391 290L392 289.9L393 289.9L394 289.9L395 289.8L396 289.8L397 289.8L398 289.7L399 289.7L400 289.7L401 289.6L402 289.6L403 289.6L404 289.5L405 289.5L406 289.4L407 289.4L408 289.4L409 289.3L410 289.3L411 289.3L412 289.2L413 289.2L414 289.2L415 289.1L416 289.1L417 289.1L418 289L419 289L420 289L421 288.9L422 288.9L423 288.8L424 288.8L425 288.8L426 288.7L427 288.7L428 288.7L429 288.6L430 288.6L431 288.6L432 288.5L433 288.5L434 288.5L435 288.4L436 288.4L437 288.3L438 288.3L439 288.3L440 288.2L441 288.2L442 288.2L443 288.1L444 288.1L445 288.1L446 288L447 288L448 288L449 287.9L450 287.9L451 287.8L452 287.8L453 287.8L454 287.7L455 287.7L456 287.7L457 287.6L458 287.6L459 287.6L460 287.5L461 287.5L462 287.5L463 287.4L464 287.4L465 287.3L466 287.3L467 287.3L468 287.2L469 287.2L470 287.2L471 287.1L472 287.1L473 287.1L474 287L475 287L476 287L477 286.9L478 286.9L479 286.8L480 286.8L481 286.8L482 286.7L483 286.7L484 286.7L485 286.6L486 286.6L487 286.6L488 286.5L489 286.5L490 286.5L491 286.4L492 286.4L493 286.3L494 286.3L495 286.3L496 286.2L497 286.2L498 286.2L499 286.1L500 286.1L501 286.1L502 286L503 286L504 286L505 285.9L506 285.9L507 285.8L508 285.8L509 285.8L510 285.7L511 285.7L512 285.7L513 285.6L514 285.6L515 285.6L516 285.5L517 285.5L518 285.5L519 285.4L520 285.4L521 285.4L522 285.3L523 285.3L524 285.2L525 285.2L526 285.2L527 285.1L528 285.1L529 285.1L530 285L531 285L532 285L533 284.9L534 284.9L535 284.9L536 284.8L537 284.8L538 284.7L539 284.7L540 284.7L541 284.6L542 284.6L543 284.6L544 284.5L545 284.5L546 284.5L547 284.4L548 284.4L549 284.4L550 284.3L551 284.3L552 284.2L553 284.2L554 284.2L555 284.1L556 284.1L557 284.1L558 284L559 284L560 284L561 283.9L562 283.9L563 283.9L564 283.8L565 283.8L566 283.7L567 283.7L568 283.7L569 283.6L570 283.6L571 283.6L572 283.5L573 283.5L574 283.5L575 283.4L576 283.4L577 283.4L578 283.3L579 283.3L580 283.2L581 283.2L582 283.2L583 283.1L584 283.1L585 283.1L586 283L587 283L588 283L589 282.9L590 282.9L591 282.9L592 282.8L593 282.8L594 282.7L595 282.7L596 282.7L597 282.6L598 282.6L599 282.6L600 282.5L601 282.5L602 282.5L603 282.4L604 282.4L605 282.4L606 282.3L607 282.3L608 282.2L609 282.2L610 282.2L611 282.1L612 282.1L613 282.1L614 282L615 282" fill="none" stroke="#1aaa1a" stroke-width="1.4"/><path d="M96 302.1L97 302L98 302L99 302L100 302L101 301.9L102 301.9L103 301.9L104 301.9L105 301.8L106 301.8L107 301.8L108 301.8L109 301.7L110 301.7L111 301.7L112 301.6L113 301.6L114 301.6L115 301.6L116 301.5L117 301.5L118 301.5L119 301.5L120 301.4L121 301.4L122 301.4L123 301.4L124 301.3L125 301.3L126 301.3L127 301.2L128 301.2L129 301.2L130 301.2L131 301.1L132 301.1L133 301.1L134 301.1L135 301L136 301L137 301L138 301L139 300.9L140 300.9L141 300.9L142 300.8L143 300.8L144 300.8L145 300.8L146 300.7L147 300.7L148 300.7L149 300.7L150 300.6L151 300.6L152 300.6L153 300.5L154 300.5L155 300.5L156 300.5L157 300.4L158 300.4L159 300.4L160 300.4L161 300.3L162 300.3L163 300.3L164 300.2L165 300.2L166 300.2L167 300.2L168 300.1L169 300.1L170 300.1L171 300.1L172 300L173 300L174 300L175 299.9L176 299.9L177 299.9L178 299.9L179 299.8L180 299.8L181 299.8L182 299.7L183 299.7L184 299.7L185 299.7L186 299.6L187 299.6L188 299.6L189 299.6L190 299.5L191 299.5L192 299.5L193 299.4L194 299.4L195 299.4L196 299.4L197 299.3L198 299.3L199 299.3L200 299.2L201 299.2L202 299.2L203 299.2L204 299.1L205 299.1L206 299.1L207 299L208 299L209 299L210 299L211 298.9L212 298.9L213 298.9L214 298.8L215 298.8L216 298.8L217 298.7L218 298.7L219 298.7L220 298.7L221 298.6L222 298.6L223 298.6L224 298.5L225 298.5L226 298.5L227 298.4L228 298.4L229 298.4L230 298.4L231 298.3L232 298.3L233 298.3L234 298.2L235 298.2L236 298.2L237 298.1L238 298.1L239 298.1L240 298.1L241 298L242 298L243 298L244 297.9L245 297.9L246 297.9L247 297.8L248 297.8L249 297.8L250 297.7L251 297.7L252 297.7L253 297.6L254 297.6L255 297.6L256 297.5L257 297.5L258 297.5L259 297.4L260 297.4L261 297.4L262 297.3L263 297.3L264 297.3L265 297.2L266 297.2L267 297.2L268 297.1L269 297.1L270 297.1L271 297L272 297L273 297L274 296.9L275 296.9L276 296.9L277 296.8L278 296.8L279 296.8L280 296.7L281 296.7L282 296.6L283 296.6L284 296.6L285 296.5L286 296.5L287 296.5L288 296.4L289 296.4L290 296.4L291 296.3L292 296.3L293 296.2L294 296.2L295 296.2L296 296.1L297 296.1L298 296L299 296L300 296L301 295.9L302 295.9L303 295.8L304 295.8L305 295.7L306 295.7L307 295.7L308 295.6L309 295.6L310 295.5L311 295.5L312 295.4L313 295.4L314 295.3L315 295.3L316 295.3L317 295.2L318 295.2L319 295.1L320 295.1L321 295L322 295L323 294.9L324 294.8L325 294.8L326 294.7L327 294.7L328 294.6L329 294.6L330 294.5L331 294.4L332 294.4L333 294.3L334 294.2L335 294.2L336 294.1L337 294L338 294L339 293.9L340 293.8L341 293.7L342 293.6L343 293.6L344 293.5L345 293.4L346 293.3L347 293.2L348 293.1L349 293L350 292.8L351 292.7L352 292.6L353 292.5L354 292.3L355 292.2L356 292L357 291.9L358 291.7L359 291.6L360 291.4L361 291.2L362 291L363 290.8L364 290.6L365 290.3L366 290.1L367 289.8L368 289.6L369 289.3L370 289L371 288.7L372 288.4L373 288.1L374 287.7L375 287.3L376 287L377 286.6L378 286.1L379 285.7L380 285.2L381 284.8L382 284.3L383 283.7L384 283.2L385 282.6L386 282L387 281.4L388 280.8L389 280.1L390 279.5L391 278.8L392 278L393 277.3L394 276.5L395 275.7L396 274.9L397 274L398 273.1L399 272.2L400 271.3L401 270.4L402 269.4L403 268.4L404 267.4L405 266.4L406 265.3L407 264.2L408 263.1L409 262L410 260.9L411 259.7L412 258.6L413 257.4L414 256.2L415 255L416 253.9L417 252.7L418 251.5L419 250.3L420 249.1L421 247.9L422 246.7L423 245.5L424 244.3L425 243.2L426 242L427 240.9L428 239.8L429 238.8L430 237.7L431 236.7L432 235.7L433 234.8L434 233.9L435 233.1L436 232.3L437 231.5L438 230.9L439 230.2L440 229.7L441 229.1L442 228.7L443 228.3L444 228L445 227.8L446 227.6L447 227.5L448 227.5L449 227.6L450 227.7L451 227.9L452 228.3L453 228.7L454 229.1L455 229.7L456 230.3L457 231L458 231.8L459 232.6L460 233.5L461 234.4L462 235.4L463 236.4L464 237.4L465 238.5L466 239.6L467 240.7L468 241.8L469 243L470 244.2L471 245.3L472 246.5L473 247.7L474 248.9L475 250.1L476 251.2L477 252.4L478 253.5L479 254.7L480 255.8L481 256.9L482 258L483 259.1L484 260.1L485 261.1L486 262.2L487 263.1L488 264.1L489 265L490 266L491 266.9L492 267.7L493 268.6L494 269.4L495 270.2L496 270.9L497 271.7L498 272.4L499 273.1L500 273.8L501 274.4L502 275L503 275.6L504 276.2L505 276.8L506 277.3L507 277.8L508 278.3L509 278.8L510 279.2L511 279.6L512 280L513 280.4L514 280.8L515 281.2L516 281.5L517 281.8L518 282.1L519 282.4L520 282.7L521 283L522 283.2L523 283.5L524 283.7L525 283.9L526 284.1L527 284.3L528 284.5L529 284.7L530 284.8L531 285L532 285.2L533 285.3L534 285.4L535 285.6L536 285.7L537 285.8L538 285.9L539 286L540 286.1L541 286.2L542 286.3L543 286.4L544 286.4L545 286.5L546 286.6L547 286.7L548 286.7L549 286.8L550 286.8L551 286.9L552 286.9L553 287L554 287L555 287.1L556 287.1L557 287.2L558 287.2L559 287.2L560 287.3L561 287.3L562 287.3L563 287.4L564 287.4L565 287.4L566 287.4L567 287.5L568 287.5L569 287.5L570 287.5L571 287.6L572 287.6L573 287.6L574 287.6L575 287.6L576 287.6L577 287.6L578 287.7L579 287.7L580 287.7L581 287.7L582 287.7L583 287.7L584 287.7L585 287.7L586 287.7L587 287.7L588 287.7L589 287.7L590 287.7L591 287.8L592 287.8L593 287.8L594 287.8L595 287.8L596 287.8L597 287.8L598 287.8L599 287.8L600 287.8L601 287.8L602 287.8L603 287.8L604 287.8L605 287.7L606 287.7L607 287.7L608 287.7L609 287.7L610 287.7L611 287.7L612 287.7L613 287.7L614 287.7L615 287.7L615 289.3L614 289.3L613 289.4L612 289.4L611 289.4L610 289.4L609 289.5L608 289.5L607 289.5L606 289.5L605 289.6L604 289.6L603 289.6L602 289.6L601 289.7L600 289.7L599 289.7L598 289.7L597 289.8L596 289.8L595 289.8L594 289.8L593 289.9L592 289.9L591 289.9L590 289.9L589 290L588 290L587 290L586 290L585 290.1L584 290.1L583 290.1L582 290.1L581 290.2L580 290.2L579 290.2L578 290.2L577 290.3L576 290.3L575 290.3L574 290.3L573 290.4L572 290.4L571 290.4L570 290.4L569 290.5L568 290.5L567 290.5L566 290.5L565 290.6L564 290.6L563 290.6L562 290.6L561 290.7L560 290.7L559 290.7L558 290.7L557 290.8L556 290.8L555 290.8L554 290.8L553 290.9L552 290.9L551 290.9L550 290.9L549 291L548 291L547 291L546 291L545 291.1L544 291.1L543 291.1L542 291.1L541 291.2L540 291.2L539 291.2L538 291.2L537 291.3L536 291.3L535 291.3L534 291.3L533 291.4L532 291.4L531 291.4L530 291.4L529 291.5L528 291.5L527 291.5L526 291.5L525 291.6L524 291.6L523 291.6L522 291.6L521 291.7L520 291.7L519 291.7L518 291.7L517 291.8L516 291.8L515 291.8L514 291.8L513 291.9L512 291.9L511 291.9L510 291.9L509 292L508 292L507 292L506 292L505 292.1L504 292.1L503 292.1L502 292.1L501 292.2L500 292.2L499 292.2L498 292.2L497 292.3L496 292.3L495 292.3L494 292.3L493 292.4L492 292.4L491 292.4L490 292.4L489 292.5L488 292.5L487 292.5L486 292.5L485 292.6L484 292.6L483 292.6L482 292.6L481 292.7L480 292.7L479 292.7L478 292.7L477 292.8L476 292.8L475 292.8L474 292.8L473 292.9L472 292.9L471 292.9L470 292.9L469 293L468 293L467 293L466 293L465 293.1L464 293.1L463 293.1L462 293.1L461 293.2L460 293.2L459 293.2L458 293.2L457 293.3L456 293.3L455 293.3L454 293.3L453 293.4L452 293.4L451 293.4L450 293.4L449 293.5L448 293.5L447 293.5L446 293.5L445 293.6L444 293.6L443 293.6L442 293.6L441 293.7L440 293.7L439 293.7L438 293.7L437 293.8L436 293.8L435 293.8L434 293.8L433 293.9L432 293.9L431 293.9L430 293.9L429 294L428 294L427 294L426 294L425 294.1L424 294.1L423 294.1L422 294.1L421 294.2L420 294.2L419 294.2L418 294.2L417 294.3L416 294.3L415 294.3L414 294.3L413 294.4L412 294.4L411 294.4L410 294.4L409 294.5L408 294.5L407 294.5L406 294.5L405 294.6L404 294.6L403 294.6L402 294.6L401 294.7L400 294.7L399 294.7L398 294.7L397 294.8L396 294.8L395 294.8L394 294.8L393 294.9L392 294.9L391 294.9L390 294.9L389 295L388 295L387 295L386 295L385 295.1L384 295.1L383 295.1L382 295.1L381 295.2L380 295.2L379 295.2L378 295.2L377 295.3L376 295.3L375 295.3L374 295.3L373 295.4L372 295.4L371 295.4L370 295.4L369 295.5L368 295.5L367 295.5L366 295.5L365 295.6L364 295.6L363 295.6L362 295.6L361 295.7L360 295.7L359 295.7L358 295.7L357 295.8L356 295.8L355 295.8L354 295.8L353 295.9L352 295.9L351 295.9L350 295.9L349 296L348 296L347 296L346 296L345 296.1L344 296.1L343 296.1L342 296.1L341 296.2L340 296.2L339 296.2L338 296.2L337 296.3L336 296.3L335 296.3L334 296.3L333 296.4L332 296.4L331 296.4L330 296.4L329 296.5L328 296.5L327 296.5L326 296.5L325 296.6L324 296.6L323 296.6L322 296.6L321 296.7L320 296.7L319 296.7L318 296.7L317 296.8L316 296.8L315 296.8L314 296.8L313 296.9L312 296.9L311 296.9L310 296.9L309 297L308 297L307 297L306 297L305 297.1L304 297.1L303 297.1L302 297.1L301 297.2L300 297.2L299 297.2L298 297.2L297 297.3L296 297.3L295 297.3L294 297.3L293 297.4L292 297.4L291 297.4L290 297.4L289 297.5L288 297.5L287 297.5L286 297.5L285 297.6L284 297.6L283 297.6L282 297.6L281 297.7L280 297.7L279 297.7L278 297.7L277 297.8L276 297.8L275 297.8L274 297.8L273 297.9L272 297.9L271 297.9L270 297.9L269 298L268 298L267 298L266 298L265 298.1L264 298.1L263 298.1L262 298.1L261 298.2L260 298.2L259 298.2L258 298.2L257 298.3L256 298.3L255 298.3L254 298.3L253 298.4L252 298.4L251 298.4L250 298.4L249 298.5L248 298.5L247 298.5L246 298.5L245 298.6L244 298.6L243 298.6L242 298.6L241 298.7L240 298.7L239 298.7L238 298.7L237 298.8L236 298.8L235 298.8L234 298.8L233 298.9L232 298.9L231 298.9L230 298.9L229 299L228 299L227 299L226 299L225 299.1L224 299.1L223 299.1L222 299.1L221 299.2L220 299.2L219 299.2L218 299.2L217 299.3L216 299.3L215 299.3L214 299.3L213 299.4L212 299.4L211 299.4L210 299.4L209 299.5L208 299.5L207 299.5L206 299.5L205 299.6L204 299.6L203 299.6L202 299.6L201 299.7L200 299.7L199 299.7L198 299.7L197 299.8L196 299.8L195 299.8L194 299.8L193 299.9L192 299.9L191 299.9L190 299.9L189 300L188 300L187 300L186 300L185 300.1L184 300.1L183 300.1L182 300.1L181 300.2L180 300.2L179 300.2L178 300.2L177 300.3L176 300.3L175 300.3L174 300.3L173 300.4L172 300.4L171 300.4L170 300.4L169 300.5L168 300.5L167 300.5L166 300.5L165 300.6L164 300.6L163 300.6L162 300.6L161 300.7L160 300.7L159 300.7L158 300.7L157 300.8L156 300.8L155 300.8L154 300.8L153 300.9L152 300.9L151 300.9L150 300.9L149 301L148 301L147 301L146 301L145 301.1L144 301.1L143 301.1L142 301.1L141 301.2L140 301.2L139 301.2L138 301.2L137 301.3L136 301.3L135 301.3L134 301.3L133 301.4L132 301.4L131 301.4L130 301.4L129 301.5L128 301.5L127 301.5L126 301.5L125 301.6L124 301.6L123 301.6L122 301.6L121 301.7L120 301.7L119 301.7L118 301.7L117 301.8L116 301.8L115 301.8L114 301.8L113 301.9L112 301.9L111 301.9L110 301.9L109 302L108 302L107 302L106 302L105 302.1L104 302.1L103 302.1L102 302.1L101 302.2L100 302.2L99 302.2L98 302.2L97 302.3L96 302.3Z" fill="#b46bff" stroke="#b46bff" stroke-width="2.4"/><path d="M96 284.6L97 284.5L98 284.4L99 284.3L100 284.3L101 284.2L102 284.1L103 284L104 283.9L105 283.8L106 283.7L107 283.5L108 283.4L109 283.3L110 283.2L111 283L112 282.9L113 282.7L114 282.6L115 282.4L116 282.3L117 282.1L118 281.9L119 281.8L120 281.6L121 281.4L122 281.2L123 281L124 280.8L125 280.6L126 280.3L127 280.1L128 279.8L129 279.6L130 279.3L131 279.1L132 278.8L133 278.5L134 278.2L135 277.9L136 277.6L137 277.2L138 276.9L139 276.6L140 276.2L141 275.8L142 275.5L143 275.1L144 274.7L145 274.3L146 273.8L147 273.4L148 272.9L149 272.5L150 272L151 271.5L152 271L153 270.5L154 270L155 269.5L156 268.9L157 268.4L158 267.8L159 267.2L160 266.6L161 266L162 265.4L163 264.8L164 264.1L165 263.4L166 262.8L167 262.1L168 261.4L169 260.7L170 260L171 259.2L172 258.5L173 257.7L174 257L175 256.2L176 255.4L177 254.6L178 253.8L179 253L180 252.2L181 251.4L182 250.5L183 249.7L184 248.8L185 247.9L186 247.1L187 246.2L188 245.3L189 244.4L190 243.6L191 242.7L192 241.8L193 240.9L194 240L195 239.1L196 238.2L197 237.3L198 236.4L199 235.5L200 234.6L201 233.7L202 232.8L203 232L204 231.1L205 230.2L206 229.4L207 228.5L208 227.7L209 226.9L210 226.1L211 225.3L212 224.5L213 223.7L214 223L215 222.3L216 221.6L217 220.9L218 220.2L219 219.6L220 218.9L221 218.4L222 217.8L223 217.2L224 216.7L225 216.2L226 215.8L227 215.4L228 215L229 214.6L230 214.3L231 214L232 213.7L233 213.5L234 213.3L235 213.2L236 213L237 213L238 212.9L239 212.9L240 212.9L241 213L242 213L243 213.1L244 213.2L245 213.3L246 213.5L247 213.7L248 213.9L249 214.1L250 214.3L251 214.6L252 214.8L253 215.1L254 215.5L255 215.8L256 216.1L257 216.5L258 216.9L259 217.3L260 217.7L261 218.2L262 218.6L263 219.1L264 219.6L265 220.1L266 220.6L267 221.1L268 221.7L269 222.2L270 222.8L271 223.4L272 224L273 224.6L274 225.2L275 225.8L276 226.4L277 227L278 227.7L279 228.3L280 229L281 229.7L282 230.3L283 231L284 231.7L285 232.4L286 233.1L287 233.7L288 234.4L289 235.1L290 235.8L291 236.5L292 237.2L293 237.9L294 238.7L295 239.4L296 240.1L297 240.8L298 241.5L299 242.2L300 242.9L301 243.6L302 244.3L303 245L304 245.7L305 246.4L306 247L307 247.7L308 248.4L309 249.1L310 249.8L311 250.4L312 251.1L313 251.7L314 252.4L315 253L316 253.7L317 254.3L318 255L319 255.6L320 256.2L321 256.8L322 257.4L323 258L324 258.6L325 259.2L326 259.8L327 260.4L328 260.9L329 261.5L330 262L331 262.6L332 263.1L333 263.6L334 264.2L335 264.7L336 265.2L337 265.7L338 266.2L339 266.7L340 267.1L341 267.6L342 268.1L343 268.5L344 269L345 269.4L346 269.8L347 270.2L348 270.7L349 271.1L350 271.5L351 271.9L352 272.2L353 272.6L354 273L355 273.4L356 273.7L357 274.1L358 274.4L359 274.7L360 275.1L361 275.4L362 275.7L363 276L364 276.3L365 276.6L366 276.9L367 277.1L368 277.4L369 277.7L370 278L371 278.2L372 278.5L373 278.7L374 278.9L375 279.2L376 279.4L377 279.6L378 279.8L379 280L380 280.2L381 280.4L382 280.6L383 280.8L384 281L385 281.2L386 281.4L387 281.5L388 281.7L389 281.9L390 282L391 282.2L392 282.3L393 282.5L394 282.6L395 282.7L396 282.9L397 283L398 283.1L399 283.2L400 283.4L401 283.5L402 283.6L403 283.7L404 283.8L405 283.9L406 284L407 284.1L408 284.2L409 284.3L410 284.4L411 284.5L412 284.6L413 284.7L414 284.7L415 284.8L416 284.9L417 285L418 285L419 285.1L420 285.2L421 285.2L422 285.3L423 285.4L424 285.4L425 285.5L426 285.5L427 285.6L428 285.7L429 285.7L430 285.8L431 285.8L432 285.9L433 285.9L434 286L435 286L436 286L437 286.1L438 286.1L439 286.2L440 286.2L441 286.2L442 286.3L443 286.3L444 286.4L445 286.4L446 286.4L447 286.5L448 286.5L449 286.5L450 286.6L451 286.6L452 286.6L453 286.7L454 286.7L455 286.7L456 286.7L457 286.8L458 286.8L459 286.8L460 286.8L461 286.9L462 286.9L463 286.9L464 286.9L465 287L466 287L467 287L468 287L469 287.1L470 287.1L471 287.1L472 287.1L473 287.1L474 287.2L475 287.2L476 287.2L477 287.2L478 287.2L479 287.3L480 287.3L481 287.3L482 287.3L483 287.3L484 287.3L485 287.4L486 287.4L487 287.4L488 287.4L489 287.4L490 287.4L491 287.5L492 287.5L493 287.5L494 287.5L495 287.5L496 287.5L497 287.6L498 287.6L499 287.6L500 287.6L501 287.6L502 287.6L503 287.6L504 287.7L505 287.7L506 287.7L507 287.7L508 287.7L509 287.7L510 287.7L511 287.8L512 287.8L513 287.8L514 287.8L515 287.8L516 287.8L517 287.8L518 287.8L519 287.8L520 287.9L521 287.9L522 287.9L523 287.9L524 287.9L525 287.9L526 287.9L527 287.9L528 288L529 288L530 288L531 288L532 288L533 288L534 288L535 288L536 288L537 288L538 288.1L539 288.1L540 288.1L541 288.1L542 288.1L543 288.1L544 288.1L545 288.1L546 288.1L547 288.1L548 288.2L549 288.2L550 288.2L551 288.2L552 288.2L553 288.2L554 288.2L555 288.2L556 288.2L557 288.2L558 288.2L559 288.3L560 288.3L561 288.3L562 288.3L563 288.3L564 288.3L565 288.3L566 288.3L567 288.3L568 288.3L569 288.3L570 288.4L571 288.4L572 288.4L573 288.4L574 288.4L575 288.4L576 288.4L577 288.4L578 288.4L579 288.4L580 288.4L581 288.4L582 288.4L583 288.5L584 288.5L585 288.5L586 288.5L587 288.5L588 288.5L589 288.5L590 288.5L591 288.5L592 288.5L593 288.5L594 288.5L595 288.5L596 288.5L597 288.6L598 288.6L599 288.6L600 288.6L601 288.6L602 288.6L603 288.6L604 288.6L605 288.6L606 288.6L607 288.6L608 288.6L609 288.6L610 288.6L611 288.6L612 288.7L613 288.7L614 288.7L615 288.7L615 289.5L614 289.5L613 289.5L612 289.5L611 289.5L610 289.5L609 289.5L608 289.5L607 289.5L606 289.5L605 289.5L604 289.5L603 289.5L602 289.5L601 289.5L600 289.5L599 289.5L598 289.5L597 289.5L596 289.5L595 289.5L594 289.5L593 289.5L592 289.5L591 289.4L590 289.4L589 289.4L588 289.4L587 289.4L586 289.4L585 289.4L584 289.4L583 289.4L582 289.4L581 289.4L580 289.4L579 289.4L578 289.4L577 289.4L576 289.4L575 289.4L574 289.4L573 289.4L572 289.4L571 289.4L570 289.4L569 289.4L568 289.4L567 289.4L566 289.4L565 289.4L564 289.4L563 289.4L562 289.4L561 289.4L560 289.4L559 289.4L558 289.4L557 289.4L556 289.4L555 289.4L554 289.4L553 289.4L552 289.4L551 289.4L550 289.4L549 289.4L548 289.4L547 289.4L546 289.4L545 289.4L544 289.3L543 289.3L542 289.3L541 289.3L540 289.3L539 289.3L538 289.3L537 289.3L536 289.3L535 289.3L534 289.3L533 289.3L532 289.3L531 289.3L530 289.3L529 289.3L528 289.3L527 289.3L526 289.3L525 289.3L524 289.3L523 289.3L522 289.3L521 289.3L520 289.3L519 289.3L518 289.3L517 289.3L516 289.3L515 289.3L514 289.3L513 289.3L512 289.3L511 289.3L510 289.3L509 289.3L508 289.3L507 289.3L506 289.3L505 289.3L504 289.3L503 289.3L502 289.3L501 289.3L500 289.3L499 289.3L498 289.3L497 289.2L496 289.2L495 289.2L494 289.2L493 289.2L492 289.2L491 289.2L490 289.2L489 289.2L488 289.2L487 289.2L486 289.2L485 289.2L484 289.2L483 289.2L482 289.2L481 289.2L480 289.2L479 289.2L478 289.2L477 289.2L476 289.2L475 289.2L474 289.2L473 289.2L472 289.2L471 289.2L470 289.2L469 289.2L468 289.2L467 289.2L466 289.2L465 289.2L464 289.2L463 289.2L462 289.2L461 289.2L460 289.2L459 289.2L458 289.2L457 289.2L456 289.2L455 289.2L454 289.2L453 289.2L452 289.2L451 289.2L450 289.2L449 289.1L448 289.1L447 289.1L446 289.1L445 289.1L444 289.1L443 289.1L442 289.1L441 289.1L440 289.1L439 289.1L438 289.1L437 289.1L436 289.1L435 289.1L434 289.1L433 289.1L432 289.1L431 289.1L430 289.1L429 289.1L428 289.1L427 289.1L426 289.1L425 289.1L424 289.1L423 289.1L422 289.1L421 289.1L420 289.1L419 289.1L418 289.1L417 289.1L416 289.1L415 289.1L414 289.1L413 289.1L412 289.1L411 289.1L410 289.1L409 289.1L408 289.1L407 289.1L406 289.1L405 289.1L404 289.1L403 289.1L402 289L401 289L400 289L399 289L398 289L397 289L396 289L395 289L394 289L393 289L392 289L391 289L390 289L389 289L388 289L387 289L386 289L385 289L384 289L383 289L382 289L381 289L380 289L379 289L378 289L377 289L376 289L375 289L374 289L373 289L372 289L371 289L370 289L369 289L368 289L367 289L366 289L365 289L364 289L363 289L362 289L361 289L360 289L359 289L358 289L357 289L356 289L355 288.9L354 288.9L353 288.9L352 288.9L351 288.9L350 288.9L349 288.9L348 288.9L347 288.9L346 288.9L345 288.9L344 288.9L343 288.9L342 288.9L341 288.9L340 288.9L339 288.9L338 288.9L337 288.9L336 288.9L335 288.9L334 288.9L333 288.9L332 288.9L331 288.9L330 288.9L329 288.9L328 288.9L327 288.9L326 288.9L325 288.9L324 288.9L323 288.9L322 288.9L321 288.9L320 288.9L319 288.9L318 288.9L317 288.9L316 288.9L315 288.9L314 288.9L313 288.9L312 288.9L311 288.9L310 288.9L309 288.9L308 288.8L307 288.8L306 288.8L305 288.8L304 288.8L303 288.8L302 288.8L301 288.8L300 288.8L299 288.8L298 288.8L297 288.8L296 288.8L295 288.8L294 288.8L293 288.8L292 288.8L291 288.8L290 288.8L289 288.8L288 288.8L287 288.8L286 288.8L285 288.8L284 288.8L283 288.8L282 288.8L281 288.8L280 288.8L279 288.8L278 288.8L277 288.8L276 288.8L275 288.8L274 288.8L273 288.8L272 288.8L271 288.8L270 288.8L269 288.8L268 288.8L267 288.8L266 288.8L265 288.8L264 288.8L263 288.8L262 288.8L261 288.7L260 288.7L259 288.7L258 288.7L257 288.7L256 288.7L255 288.7L254 288.7L253 288.7L252 288.7L251 288.7L250 288.7L249 288.7L248 288.7L247 288.7L246 288.7L245 288.7L244 288.7L243 288.7L242 288.7L241 288.7L240 288.7L239 288.7L238 288.7L237 288.7L236 288.7L235 288.7L234 288.7L233 288.7L232 288.7L231 288.7L230 288.7L229 288.7L228 288.7L227 288.7L226 288.7L225 288.7L224 288.7L223 288.7L222 288.7L221 288.7L220 288.7L219 288.7L218 288.7L217 288.7L216 288.7L215 288.7L214 288.7L213 288.6L212 288.6L211 288.6L210 288.6L209 288.6L208 288.6L207 288.6L206 288.6L205 288.6L204 288.6L203 288.6L202 288.6L201 288.6L200 288.6L199 288.6L198 288.6L197 288.6L196 288.6L195 288.6L194 288.6L193 288.6L192 288.6L191 288.6L190 288.6L189 288.6L188 288.6L187 288.6L186 288.6L185 288.6L184 288.6L183 288.6L182 288.6L181 288.6L180 288.6L179 288.6L178 288.6L177 288.6L176 288.6L175 288.6L174 288.6L173 288.6L172 288.6L171 288.6L170 288.6L169 288.6L168 288.6L167 288.6L166 288.5L165 288.5L164 288.5L163 288.5L162 288.5L161 288.5L160 288.5L159 288.5L158 288.5L157 288.5L156 288.5L155 288.5L154 288.5L153 288.5L152 288.5L151 288.5L150 288.5L149 288.5L148 288.5L147 288.5L146 288.5L145 288.5L144 288.5L143 288.5L142 288.5L141 288.5L140 288.5L139 288.5L138 288.5L137 288.5L136 288.5L135 288.5L134 288.5L133 288.5L132 288.5L131 288.5L130 288.5L129 288.5L128 288.5L127 288.5L126 288.5L125 288.5L124 288.5L123 288.5L122 288.5L121 288.5L120 288.5L119 288.4L118 288.4L117 288.4L116 288.4L115 288.4L114 288.4L113 288.4L112 288.4L111 288.4L110 288.4L109 288.4L108 288.4L107 288.4L106 288.4L105 288.4L104 288.4L103 288.4L102 288.4L101 288.4L100 288.4L99 288.4L98 288.4L97 288.4L96 288.4Z" fill="#ff7f00" stroke="#ff7f00" stroke-width="1.2"/><path d="M96 277.9L97 277.8L98 277.6L99 277.5L100 277.4L101 277.2L102 277.1L103 277L104 276.8L105 276.7L106 276.6L107 276.4L108 276.3L109 276.2L110 276.1L111 276L112 275.9L113 275.7L114 275.6L115 275.5L116 275.4L117 275.3L118 275.2L119 275.2L120 275.1L121 275L122 274.9L123 274.8L124 274.8L125 274.7L126 274.6L127 274.6L128 274.5L129 274.5L130 274.4L131 274.4L132 274.4L133 274.3L134 274.3L135 274.3L136 274.3L137 274.3L138 274.3L139 274.3L140 274.3L141 274.3L142 274.3L143 274.3L144 274.3L145 274.4L146 274.4L147 274.4L148 274.4L149 274.4L150 274.5L151 274.5L152 274.5L153 274.5L154 274.6L155 274.6L156 274.6L157 274.7L158 274.7L159 274.7L160 274.8L161 274.8L162 274.8L163 274.9L164 274.9L165 275L166 275L167 275.1L168 275.1L169 275.2L170 275.2L171 275.3L172 275.3L173 275.4L174 275.4L175 275.5L176 275.5L177 275.6L178 275.6L179 275.7L180 275.7L181 275.8L182 275.9L183 275.9L184 276L185 276L186 276.1L187 276.2L188 276.2L189 276.3L190 276.4L191 276.4L192 276.5L193 276.5L194 276.6L195 276.7L196 276.7L197 276.8L198 276.9L199 276.9L200 277L201 277.1L202 277.1L203 277.2L204 277.3L205 277.4L206 277.5L207 277.7L208 277.8L209 277.9L210 278L211 278.2L212 278.3L213 278.4L214 278.6L215 278.7L216 278.9L217 279L218 279.2L219 279.3L220 279.5L221 279.6L222 279.7L223 279.9L224 280L225 280.1L226 280.3L227 280.4L228 280.5L229 280.6L230 280.7L231 280.8L232 280.9L233 280.9L234 281L235 281.1L236 281.1L237 281.2L238 281.2L239 281.3L240 281.3L241 281.4L242 281.5L243 281.5L244 281.6L245 281.6L246 281.7L247 281.7L248 281.8L249 281.8L250 281.8L251 281.9L252 281.9L253 282L254 282L255 282.1L256 282.1L257 282.1L258 282.2L259 282.2L260 282.3L261 282.3L262 282.3L263 282.4L264 282.4L265 282.4L266 282.5L267 282.5L268 282.6L269 282.6L270 282.6L271 282.7L272 282.7L273 282.7L274 282.7L275 282.8L276 282.8L277 282.8L278 282.9L279 282.9L280 282.9L281 283L282 283L283 283L284 283L285 283.1L286 283.1L287 283.1L288 283.2L289 283.2L290 283.2L291 283.2L292 283.3L293 283.3L294 283.3L295 283.4L296 283.4L297 283.4L298 283.4L299 283.5L300 283.5L301 283.5L302 283.6L303 283.6L304 283.6L305 283.6L306 283.7L307 283.7L308 283.7L309 283.7L310 283.8L311 283.8L312 283.8L313 283.9L314 283.9L315 283.9L316 283.9L317 284L318 284L319 284L320 284L321 284.1L322 284.1L323 284.1L324 284.1L325 284.2L326 284.2L327 284.2L328 284.2L329 284.3L330 284.3L331 284.3L332 284.3L333 284.4L334 284.4L335 284.4L336 284.4L337 284.4L338 284.5L339 284.5L340 284.5L341 284.5L342 284.6L343 284.6L344 284.6L345 284.6L346 284.7L347 284.7L348 284.7L349 284.7L350 284.7L351 284.8L352 284.8L353 284.8L354 284.8L355 284.8L356 284.9L357 284.9L358 284.9L359 284.9L360 285L361 285L362 285L363 285L364 285L365 285.1L366 285.1L367 285.1L368 285.1L369 285.1L370 285.2L371 285.2L372 285.2L373 285.2L374 285.2L375 285.3L376 285.3L377 285.3L378 285.3L379 285.3L380 285.4L381 285.4L382 285.4L383 285.4L384 285.4L385 285.5L386 285.5L387 285.5L388 285.5L389 285.5L390 285.6L391 285.6L392 285.6L393 285.6L394 285.6L395 285.7L396 285.7L397 285.7L398 285.7L399 285.7L400 285.7L401 285.8L402 285.8L403 285.8L404 285.8L405 285.8L406 285.9L407 285.9L408 285.9L409 285.9L410 285.9L411 286L412 286L413 286L414 286L415 286L416 286L417 286.1L418 286.1L419 286.1L420 286.1L421 286.1L422 286.2L423 286.2L424 286.2L425 286.2L426 286.2L427 286.3L428 286.3L429 286.3L430 286.3L431 286.3L432 286.3L433 286.4L434 286.4L435 286.4L436 286.4L437 286.4L438 286.5L439 286.5L440 286.5L441 286.5L442 286.5L443 286.6L444 286.6L445 286.6L446 286.6L447 286.6L448 286.7L449 286.7L450 286.7L451 286.7L452 286.7L453 286.7L454 286.8L455 286.8L456 286.8L457 286.8L458 286.8L459 286.9L460 286.9L461 286.9L462 286.9L463 286.9L464 287L465 287L466 287L467 287L468 287L469 287L470 287.1L471 287.1L472 287.1L473 287.1L474 287.1L475 287.2L476 287.2L477 287.2L478 287.2L479 287.2L480 287.2L481 287.3L482 287.3L483 287.3L484 287.3L485 287.3L486 287.4L487 287.4L488 287.4L489 287.4L490 287.4L491 287.5L492 287.5L493 287.5L494 287.5L495 287.5L496 287.5L497 287.6L498 287.6L499 287.6L500 287.6L501 287.6L502 287.6L503 287.7L504 287.7L505 287.7L506 287.7L507 287.7L508 287.8L509 287.8L510 287.8L511 287.8L512 287.8L513 287.8L514 287.9L515 287.9L516 287.9L517 287.9L518 287.9L519 287.9L520 288L521 288L522 288L523 288L524 288L525 288.1L526 288.1L527 288.1L528 288.1L529 288.1L530 288.1L531 288.2L532 288.2L533 288.2L534 288.2L535 288.2L536 288.2L537 288.3L538 288.3L539 288.3L540 288.3L541 288.3L542 288.3L543 288.4L544 288.4L545 288.4L546 288.4L547 288.4L548 288.4L549 288.5L550 288.5L551 288.5L552 288.5L553 288.5L554 288.5L555 288.6L556 288.6L557 288.6L558 288.6L559 288.6L560 288.6L561 288.7L562 288.7L563 288.7L564 288.7L565 288.7L566 288.7L567 288.8L568 288.8L569 288.8L570 288.8L571 288.8L572 288.8L573 288.9L574 288.9L575 288.9L576 288.9L577 288.9L578 288.9L579 288.9L580 289L581 289L582 289L583 289L584 289L585 289L586 289.1L587 289.1L588 289.1L589 289.1L590 289.1L591 289.1L592 289.2L593 289.2L594 289.2L595 289.2L596 289.2L597 289.2L598 289.2L599 289.3L600 289.3L601 289.3L602 289.3L603 289.3L604 289.3L605 289.4L606 289.4L607 289.4L608 289.4L609 289.4L610 289.4L611 289.4L612 289.5L613 289.5L614 289.5L615 289.5L615 292L614 292L613 292L612 292L611 292L610 292L609 292L608 292.1L607 292.1L606 292.1L605 292.1L604 292.1L603 292.1L602 292.1L601 292.1L600 292.1L599 292.1L598 292.1L597 292.1L596 292.1L595 292.2L594 292.2L593 292.2L592 292.2L591 292.2L590 292.2L589 292.2L588 292.2L587 292.2L586 292.2L585 292.2L584 292.2L583 292.2L582 292.2L581 292.2L580 292.2L579 292.2L578 292.3L577 292.3L576 292.3L575 292.3L574 292.3L573 292.3L572 292.3L571 292.3L570 292.3L569 292.3L568 292.3L567 292.3L566 292.3L565 292.3L564 292.3L563 292.3L562 292.3L561 292.3L560 292.3L559 292.3L558 292.3L557 292.3L556 292.4L555 292.4L554 292.4L553 292.4L552 292.4L551 292.4L550 292.4L549 292.4L548 292.4L547 292.4L546 292.4L545 292.4L544 292.4L543 292.4L542 292.4L541 292.4L540 292.4L539 292.4L538 292.4L537 292.4L536 292.4L535 292.4L534 292.4L533 292.4L532 292.4L531 292.4L530 292.4L529 292.4L528 292.4L527 292.4L526 292.4L525 292.4L524 292.4L523 292.4L522 292.4L521 292.4L520 292.4L519 292.5L518 292.5L517 292.5L516 292.5L515 292.5L514 292.5L513 292.5L512 292.5L511 292.5L510 292.5L509 292.5L508 292.5L507 292.5L506 292.5L505 292.5L504 292.5L503 292.5L502 292.5L501 292.5L500 292.5L499 292.5L498 292.5L497 292.5L496 292.5L495 292.5L494 292.5L493 292.5L492 292.5L491 292.5L490 292.5L489 292.5L488 292.5L487 292.5L486 292.5L485 292.5L484 292.5L483 292.5L482 292.5L481 292.5L480 292.5L479 292.5L478 292.5L477 292.5L476 292.5L475 292.5L474 292.5L473 292.5L472 292.5L471 292.5L470 292.5L469 292.5L468 292.5L467 292.5L466 292.5L465 292.5L464 292.5L463 292.5L462 292.5L461 292.5L460 292.5L459 292.5L458 292.5L457 292.5L456 292.5L455 292.5L454 292.5L453 292.5L452 292.5L451 292.5L450 292.5L449 292.5L448 292.5L447 292.5L446 292.5L445 292.5L444 292.5L443 292.5L442 292.5L441 292.5L440 292.5L439 292.5L438 292.5L437 292.5L436 292.5L435 292.5L434 292.5L433 292.5L432 292.5L431 292.5L430 292.5L429 292.5L428 292.5L427 292.5L426 292.5L425 292.5L424 292.5L423 292.5L422 292.5L421 292.5L420 292.5L419 292.5L418 292.5L417 292.5L416 292.5L415 292.5L414 292.5L413 292.5L412 292.5L411 292.5L410 292.5L409 292.4L408 292.4L407 292.4L406 292.4L405 292.4L404 292.4L403 292.4L402 292.4L401 292.4L400 292.4L399 292.4L398 292.4L397 292.4L396 292.4L395 292.4L394 292.4L393 292.4L392 292.4L391 292.4L390 292.4L389 292.4L388 292.4L387 292.3L386 292.3L385 292.3L384 292.3L383 292.3L382 292.3L381 292.3L380 292.3L379 292.3L378 292.3L377 292.3L376 292.3L375 292.3L374 292.3L373 292.3L372 292.3L371 292.2L370 292.2L369 292.2L368 292.2L367 292.2L366 292.2L365 292.2L364 292.2L363 292.2L362 292.2L361 292.2L360 292.2L359 292.2L358 292.1L357 292.1L356 292.1L355 292.1L354 292.1L353 292.1L352 292.1L351 292.1L350 292.1L349 292.1L348 292.1L347 292L346 292L345 292L344 292L343 292L342 292L341 292L340 292L339 292L338 292L337 291.9L336 291.9L335 291.9L334 291.9L333 291.9L332 291.9L331 291.9L330 291.9L329 291.9L328 291.8L327 291.8L326 291.8L325 291.8L324 291.8L323 291.8L322 291.8L321 291.8L320 291.8L319 291.7L318 291.7L317 291.7L316 291.7L315 291.7L314 291.7L313 291.7L312 291.7L311 291.6L310 291.6L309 291.6L308 291.6L307 291.6L306 291.6L305 291.6L304 291.6L303 291.5L302 291.5L301 291.5L300 291.5L299 291.5L298 291.5L297 291.4L296 291.4L295 291.4L294 291.4L293 291.3L292 291.3L291 291.3L290 291.2L289 291.2L288 291.1L287 291.1L286 291L285 291L284 290.9L283 290.9L282 290.8L281 290.8L280 290.7L279 290.7L278 290.6L277 290.5L276 290.5L275 290.4L274 290.3L273 290.2L272 290.2L271 290.1L270 290L269 289.9L268 289.9L267 289.8L266 289.7L265 289.6L264 289.5L263 289.4L262 289.4L261 289.3L260 289.2L259 289.1L258 289L257 288.9L256 288.8L255 288.7L254 288.6L253 288.5L252 288.5L251 288.4L250 288.3L249 288.2L248 288.1L247 288L246 287.9L245 287.8L244 287.7L243 287.6L242 287.5L241 287.4L240 287.3L239 287.2L238 287.1L237 287L236 286.9L235 286.8L234 286.8L233 286.7L232 286.6L231 286.5L230 286.4L229 286.3L228 286.2L227 286.1L226 286L225 285.9L224 285.9L223 285.8L222 285.7L221 285.6L220 285.5L219 285.4L218 285.4L217 285.3L216 285.2L215 285.1L214 285.1L213 285L212 284.9L211 284.8L210 284.8L209 284.7L208 284.6L207 284.6L206 284.5L205 284.5L204 284.4L203 284.4L202 284.3L201 284.2L200 284.2L199 284.2L198 284.1L197 284.1L196 284L195 284L194 283.9L193 283.9L192 283.8L191 283.8L190 283.7L189 283.7L188 283.6L187 283.6L186 283.6L185 283.5L184 283.5L183 283.4L182 283.4L181 283.3L180 283.3L179 283.2L178 283.2L177 283.2L176 283.1L175 283.1L174 283L173 283L172 282.9L171 282.9L170 282.9L169 282.8L168 282.8L167 282.7L166 282.7L165 282.6L164 282.6L163 282.6L162 282.5L161 282.5L160 282.4L159 282.4L158 282.4L157 282.3L156 282.3L155 282.2L154 282.2L153 282.2L152 282.1L151 282.1L150 282.1L149 282L148 282L147 281.9L146 281.9L145 281.9L144 281.8L143 281.8L142 281.8L141 281.7L140 281.7L139 281.7L138 281.6L137 281.6L136 281.6L135 281.5L134 281.5L133 281.5L132 281.4L131 281.4L130 281.4L129 281.4L128 281.3L127 281.3L126 281.3L125 281.2L124 281.2L123 281.2L122 281.2L121 281.1L120 281.1L119 281.1L118 281L117 281L116 281L115 281L114 281L113 280.9L112 280.9L111 280.9L110 280.9L109 280.8L108 280.8L107 280.8L106 280.8L105 280.8L104 280.7L103 280.7L102 280.7L101 280.7L100 280.7L99 280.6L98 280.6L97 280.6L96 280.6Z" fill="#22eeee"/><line x1="129.4" y1="254.5" x2="116.2" y2="201.3" stroke="#22eeee" stroke-width="3.6"/><path d="M112 184.2L123.6 204L111 207.1Z" fill="#22eeee"/><line x1="297" y1="229.4" x2="307" y2="190.1" stroke="#ff7f00" stroke-width="3.6"/><path d="M311.4 173L312.3 195.9L299.7 192.7Z" fill="#ff7f00"/><line x1="422.9" y1="244.1" x2="408.3" y2="174.5" stroke="#b266ff" stroke-width="3.6"/><path d="M404.7 157.3L415.6 177.5L402.9 180.2Z" fill="#b266ff"/><line x1="494" y1="241.5" x2="522.4" y2="193.4" stroke="#00bb00" stroke-width="3.6"/><path d="M531.4 178.2L525.8 200.4L514.6 193.8Z" fill="#00bb00"/><text x="82.5" y="166.4" font-size="23.1" font-weight="bold" text-anchor="start" fill="#000">574.25eV</text><text x="257.3" y="171.1" font-size="23.1" font-weight="bold" text-anchor="start" fill="#000">577.83eV</text><text x="356.9" y="145.5" font-size="22.87" font-weight="bold" text-anchor="start" fill="#000">587.84eV</text><text x="514" y="171.6" font-size="22.87" font-weight="bold" text-anchor="start" fill="#000">590.14eV</text><text x="532.3" y="39.6" font-size="29.92" font-weight="bold" text-anchor="start" fill="#000">Cr 2p</text><text x="570.6" y="429.6" font-size="43.5" font-weight="bold" text-anchor="start" fill="#000">a</text><rect x="63.2" y="8.7" width="552.5" height="445.3" fill="none" stroke="#000" stroke-width="3.2"/><line x1="63.2" y1="454" x2="63.2" y2="462.5" stroke="#000" stroke-width="3.0"/><line x1="173.7" y1="454" x2="173.7" y2="462.5" stroke="#000" stroke-width="3.0"/><line x1="284.2" y1="454" x2="284.2" y2="462.5" stroke="#000" stroke-width="3.0"/><line x1="394.7" y1="454" x2="394.7" y2="462.5" stroke="#000" stroke-width="3.0"/><line x1="505.2" y1="454" x2="505.2" y2="462.5" stroke="#000" stroke-width="3.0"/><line x1="615.7" y1="454" x2="615.7" y2="462.5" stroke="#000" stroke-width="3.0"/><line x1="118.5" y1="454" x2="118.5" y2="458.5" stroke="#000" stroke-width="3.0"/><line x1="228.9" y1="454" x2="228.9" y2="458.5" stroke="#000" stroke-width="3.0"/><line x1="339.4" y1="454" x2="339.4" y2="458.5" stroke="#000" stroke-width="3.0"/><line x1="449.9" y1="454" x2="449.9" y2="458.5" stroke="#000" stroke-width="3.0"/><line x1="560.5" y1="454" x2="560.5" y2="458.5" stroke="#000" stroke-width="3.0"/><text x="63.2" y="491.3" font-size="29.9" font-weight="bold" text-anchor="middle" fill="#000">570</text><text x="173.7" y="491.3" font-size="29.9" font-weight="bold" text-anchor="middle" fill="#000">575</text><text x="284.2" y="491.3" font-size="29.9" font-weight="bold" text-anchor="middle" fill="#000">580</text><text x="394.7" y="491.3" font-size="29.9" font-weight="bold" text-anchor="middle" fill="#000">585</text><text x="505.2" y="491.3" font-size="29.9" font-weight="bold" text-anchor="middle" fill="#000">590</text><text x="615.7" y="491.3" font-size="29.9" font-weight="bold" text-anchor="middle" fill="#000">595</text><text x="339.5" y="539.8" font-size="29.4" font-weight="bold" text-anchor="middle" fill="#000">Binding Energy (eV)</text><text x="0" y="0" font-size="29.4" font-weight="bold" text-anchor="middle" transform="translate(26.8 222.4) rotate(-90)">Intensity (a.u.)</text><path d="M791 372.7L791.9 381.4L792.8 356.6L793.7 382.7L794.6 369.7L795.5 364.1L796.4 364.1L797.3 362L798.2 368.5L799.1 376.4L800 374.6L800.9 375L801.8 357.5L802.7 358.5L803.6 381.9L804.5 377.5L805.4 386.7L806.3 379.4L807.2 362.6L808.1 380L809 375L809.9 372L810.8 364.2L811.7 370.4L812.6 369.3L813.5 377.1L814.4 371.3L815.3 382.3L816.2 364.6L817.1 373.9L818 374.2L818.9 363.9L819.8 361.6L820.7 378L821.6 374.3L822.5 369.2L823.4 373.4L824.3 365.4L825.2 372.3L826.1 365.9L827 371.9L827.9 377.9L828.8 367.9L829.7 376.9L830.6 362.7L831.5 368.3L832.4 360.3L833.3 369.7L834.2 371.1L835.1 369L836 368.5L836.9 380.5L837.8 381.2L838.7 361.4L839.6 379.3L840.5 357.6L841.4 365L842.3 369.2L843.2 371.3L844.1 362.6L845 365.1L845.9 371.1L846.8 365.3L847.7 365.7L848.6 375.5L849.5 377.5L850.4 370L851.3 370.6L852.2 370.3L853.1 367.1L854 366.6L854.9 362.7L855.8 375.3L856.7 369.8L857.6 369.4L858.5 371.9L859.4 374.4L860.3 381L861.2 368.3L862.1 367.3L863 371.8L863.9 363.9L864.8 379.8L865.7 377.1L866.6 375.4L867.5 369.2L868.4 375.6L869.3 377.9L870.2 373.8L871.1 367.9L872 357.3L872.9 377L873.8 367.2L874.7 363.5L875.6 376.5L876.5 372.3L877.4 359L878.3 368.9L879.2 367.6L880.1 377L881 355.3L881.9 366.6L882.8 368.4L883.7 380L884.6 361.2L885.5 349.8L886.4 358.8L887.3 371.1L888.2 375.2L889.1 382.1L890 372L890.9 336.9L891.8 342.7L892.7 335.2L893.6 330.3L894.5 326.1L895.4 326.3L896.3 309L897.2 302.2L898.1 301.5L899 296.2L899.9 287.3L900.8 281.6L901.7 282.2L902.6 280.8L903.5 271.2L904.4 264.2L905.3 260L906.2 236.6L907.1 231.5L908 227.3L908.9 216.8L909.8 210.6L910.7 209.8L911.6 197.7L912.5 196.9L913.4 184L914.3 184.3L915.2 190.6L916.1 176.1L917 175.8L917.9 174.2L918.8 166L919.7 169.8L920.6 166.7L921.5 168L922.4 160.4L923.3 155.8L924.2 157.6L925.1 160.1L926 166.1L926.9 163.4L927.8 163.7L928.7 166.2L929.6 174.1L930.5 167.5L931.4 180L932.3 168.9L933.2 174.9L934.1 185.2L935 186.6L935.9 183.2L936.8 190.6L937.7 190.8L938.6 201.2L939.5 201.9L940.4 197.8L941.3 205.3L942.2 203.2L943.1 206.4L944 208.7L944.9 207.1L945.8 213.6L946.7 215.3L947.6 216.6L948.5 221.5L949.4 216L950.3 211.3L951.2 217.5L952.1 222.2L953 222.6L953.9 226.6L954.8 228.9L955.7 225.5L956.6 226.8L957.5 223.6L958.4 235L959.3 229.9L960.2 227.1L961.1 228.4L962 233.4L962.9 244.8L963.8 242.4L964.7 231.7L965.6 241.1L966.5 244.7L967.4 248.1L968.3 248.3L969.2 244.9L970.1 251.7L971 248.3L971.9 241.3L972.8 250.3L973.7 251.9L974.6 261.5L975.5 262.2L976.4 245.8L977.3 257.6L978.2 258.3L979.1 246.7L980 242.8L980.9 260.8L981.8 264L982.7 259L983.6 243L984.5 265.9L985.4 262.1L986.3 260.3L987.2 265.8L988.1 259.6L989 274.5L989.9 270.4L990.8 266.1L991.7 273.7L992.6 271.6L993.5 259.4L994.4 271.5L995.3 269.3L996.2 258.8L997.1 268.4L998 277.9L998.9 269.3L999.8 286.8L1000.7 289.5L1001.6 272.6L1002.5 280L1003.4 292.3L1004.3 272.6L1005.2 267.8L1006.1 271.8L1007 263.7L1007.9 263.9L1008.8 277.1L1009.7 271.7L1010.6 277.3L1011.5 279.3L1012.4 268.6L1013.3 273.4L1014.2 272.7L1015.1 269.3L1016 267.8L1016.9 277.5L1017.8 273.6L1018.7 277.5L1019.6 283.1L1020.5 283.1L1021.4 264.9L1022.3 266.9L1023.2 271.8L1024.1 274.8L1025 281.5L1025.9 265L1026.8 269.2L1027.7 274.6L1028.6 282.6L1029.5 283.5L1030.4 262.9L1031.3 269.2L1032.2 263.7L1033.1 277.4L1034 273.6L1034.9 266.3L1035.8 263.8L1036.7 271L1037.6 276.4L1038.5 261.1L1039.4 264.4L1040.3 267.6L1041.2 266.3L1042.1 268.4L1043 256.5L1043.9 259.4L1044.8 246L1045.7 263.7L1046.6 271.7L1047.5 244.4L1048.4 255.9L1049.3 268.2L1050.2 258.6L1051.1 243L1052 268.3L1052.9 245.5L1053.8 268.4L1054.7 251L1055.6 249.1L1056.5 254.5L1057.4 253.1L1058.3 257.5L1059.2 255.6L1060.1 249.1L1061 260.5L1061.9 254.3L1062.8 249.4L1063.7 247L1064.6 243.9L1065.5 242.7L1066.4 247.8L1067.3 244.8L1068.2 239.6L1069.1 246.3L1070 233.7L1070.9 237.6L1071.8 239.2L1072.7 220.2L1073.6 225.2L1074.5 239.4L1075.4 221.7L1076.3 233.2L1077.2 216.7L1078.1 224.1L1079 212.6L1079.9 213.7L1080.8 213.5L1081.7 210.6L1082.6 219L1083.5 216.1L1084.4 214.7L1085.3 208.8L1086.2 216.8L1087.1 211.6L1088 206.1L1088.9 196.4L1089.8 206.9L1090.7 205.9L1091.6 201.6L1092.5 205L1093.4 205L1094.3 197.7L1095.2 203.2L1096.1 201.8L1097 201.8L1097.9 197.8L1098.8 197.4L1099.7 201.6L1100.6 210.7L1101.5 217L1102.4 200.1L1103.3 196.2L1104.2 201.4L1105.1 198.9L1106 202.3L1106.9 208.5L1107.8 200.9L1108.7 211.7L1109.6 213.9L1110.5 219.7L1111.4 222.7L1112.3 218.5L1113.2 227.8L1114.1 210.8L1115 216.8L1115.9 217.1L1116.8 219.8L1117.7 224.6L1118.6 216.8L1119.5 231L1120.4 229.2L1121.3 224.2L1122.2 225.9L1123.1 217.6L1124 208.7L1124.9 225.2L1125.8 228.7L1126.7 229L1127.6 221.2L1128.5 226.2L1129.4 241.3L1130.3 235.3L1131.2 235.3L1132.1 230L1133 237.5L1133.9 241.7L1134.8 238.9L1135.7 232L1136.6 237L1137.5 230L1138.4 234.3L1139.3 240.6L1140.2 233.8L1141.1 236.1L1142 247.3L1142.9 237.3L1143.8 243.7L1144.7 237.1L1145.6 232L1146.5 239.7L1147.4 237.7L1148.3 227.3L1149.2 232.8L1150.1 238.1L1151 250.6L1151.9 237.6L1152.8 241.3L1153.7 245.8L1154.6 243.8L1155.5 240L1156.4 253.3L1157.3 251.2L1158.2 227L1159.1 249.1L1160 246.6L1160.9 249.6L1161.8 244.1L1162.7 249L1163.6 256.2L1164.5 255L1165.4 255.7L1166.3 251.1L1167.2 250.4L1168.1 250.7L1169 237.5L1169.9 259.5L1170.8 246.5L1171.7 247.2L1172.6 246L1173.5 248.5L1174.4 231.8L1175.3 247.1L1176.2 237.6L1177.1 239.5L1178 234L1178.9 235L1179.8 250L1180.7 243.1L1181.6 245.7L1182.5 245.4L1183.4 239.1L1184.3 242.1L1185.2 238.7L1186.1 244.9L1187 232.6L1187.9 244.5L1188.8 253L1189.7 255L1190.6 254.7L1191.5 250.6L1192.4 241L1193.3 253.4L1194.2 251L1195.1 249.4L1196 240L1196.9 250.4L1197.8 257.1L1198.7 252.8L1199.6 246.7L1200.5 251.7L1201.4 248.3L1202.3 249.5L1203.2 253.9L1204.1 250.8L1205 249.1L1205.9 251.2L1206.8 243.5L1207.7 242.4L1208.6 252.1L1209.5 245.2L1210.4 254.1L1211.3 232.7L1212.2 260L1213.1 248.5L1214 264.3L1214.9 227.4L1215.8 234.6L1216.7 262.2L1217.6 251.2L1218.5 252.6L1219.4 251L1220.3 251.4L1221.2 254.9L1222.1 241.1L1223 248.7L1223.9 261.9L1224.8 252L1225.7 245L1226.6 251.6L1227.5 260.3L1228.4 249.3L1229.3 249.7L1230.2 255.9L1231.1 259.3L1232 265.1L1232.9 250.9L1233.8 255.3L1234.7 261.7L1235.6 235.6L1236.5 254.1L1237.4 257.1L1238.3 252.4L1239.2 245.7L1240.1 258.8L1241 264.9L1241.9 253.1L1242.8 249.8L1243.7 252.4L1244.6 268.4L1245.5 265.8L1246.4 255.3L1247.3 245.3L1248.2 243.9L1249.1 252.6L1250 252.8L1250.9 258.2L1251.8 245.9L1252.7 255.1L1253.6 261.2L1254.5 241.5L1255.4 277.3L1256.3 262.1L1257.2 261.9L1258.1 245.7L1259 248.3L1259.9 266.8L1260.8 265.9L1261.7 236.2L1262.6 268.6L1263.5 265L1264.4 264.2L1265.3 248.9L1266.2 261.3" fill="none" stroke="#4a4a4a" stroke-width="2.0" stroke-linejoin="round"/><path d="M791 372.5L792 372.2L793 372L794 371.7L795 371.4L796 371.1L797 370.9L798 370.6L799 370.3L800 370L801 369.8L802 369.5L803 369.2L804 369L805 368.7L806 368.4L807 368.1L808 367.9L809 367.6L810 367.3L811 367.1L812 366.8L813 366.5L814 366.3L815 366L816 365.7L817 365.4L818 365.2L819 364.9L820 364.6L821 364.4L822 364.1L823 363.8L824 363.6L825 363.3L826 363L827 362.8L828 362.5L829 362.2L830 361.9L831 361.7L832 361.4L833 361.1L834 360.9L835 360.6L836 360.3L837 360.1L838 359.8L839 359.5L840 359.3L841 359L842 358.7L843 358.5L844 358.2L845 357.9L846 357.7L847 357.4L848 357.1L849 356.9L850 356.6L851 356.3L852 356.1L853 355.8L854 355.5L855 355.3L856 355L857 354.7L858 354.5L859 354.2L860 353.9L861 353.7L862 353.4L863 353.2L864 352.9L865 352.6L866 352.4L867 352.1L868 351.8L869 351.6L870 351.3L871 351.1L872 350.8L873 350.6L874 350.4L875 350.3L876 350.1L877 350L878 349.8L879 349.6L880 349.4L881 349.2L882 349L883 348.7L884 348.4L885 348L886 347.6L887 347.2L888 346.7L889 345.8L890 344.1L891 341.7L892 338.7L893 335.3L894 330.3L895 323.8L896 316.6L897 309.6L898 303.4L899 297.6L900 291.8L901 285.8L902 279.3L903 272.3L904 264.9L905 257.2L906 249.2L907 240.9L908 231.8L909 222.8L910 215L911 208.6L912 202.8L913 197.5L914 191.9L915 186L916 180.3L917 175.2L918 171.3L919 169L920 167.4L921 166L922 164.9L923 164.1L924 163.7L925 163.8L926 164.5L927 165.5L928 167L929 168.6L930 170.3L931 172.4L932 175.1L933 178.2L934 181.6L935 185L936 188.8L937 193L938 196.4L939 199L940 201.5L941 203.7L942 205.7L943 207.6L944 209.4L945 211.1L946 212.8L947 214.5L948 216.2L949 217.7L950 219.2L951 220.7L952 222.1L953 223.5L954 224.8L955 226.2L956 227.5L957 228.9L958 230.3L959 231.7L960 233.2L961 234.8L962 236.4L963 238.1L964 239.9L965 241.7L966 243.5L967 245.3L968 247L969 248.8L970 250.5L971 252.1L972 253.7L973 255.2L974 256.8L975 258.4L976 260L977 261.6L978 263.2L979 264.8L980 266.3L981 267.7L982 269.1L983 270.4L984 271.6L985 272.7L986 273.6L987 274.5L988 275.1L989 275.7L990 276.3L991 276.9L992 277.5L993 278.1L994 278.6L995 279.1L996 279.5L997 279.9L998 280.3L999 280.6L1000 280.9L1001 281.1L1002 281.3L1003 281.4L1004 281.4L1005 281.4L1006 281.4L1007 281.4L1008 281.3L1009 281.3L1010 281.3L1011 281.2L1012 281.2L1013 281.1L1014 281L1015 281L1016 280.9L1017 280.8L1018 280.7L1019 280.7L1020 280.6L1021 280.4L1022 280.3L1023 280L1024 279.8L1025 279.5L1026 279.2L1027 278.8L1028 278.4L1029 278L1030 277.6L1031 277.1L1032 276.7L1033 276.2L1034 275.8L1035 275.3L1036 274.9L1037 274.4L1038 273.9L1039 273.4L1040 272.8L1041 272.2L1042 271.6L1043 271L1044 270.4L1045 269.7L1046 269L1047 268.3L1048 267.5L1049 266.8L1050 266L1051 265.2L1052 264.4L1053 263.5L1054 262.6L1055 261.7L1056 260.7L1057 259.7L1058 258.7L1059 257.6L1060 256.5L1061 255.3L1062 254.1L1063 252.8L1064 251.5L1065 250.1L1066 248.7L1067 247.2L1068 245.7L1069 243.9L1070 241.9L1071 239.7L1072 237.4L1073 235L1074 232.5L1075 230L1076 227.5L1077 225L1078 222.7L1079 220.5L1080 218.5L1081 216.6L1082 214.6L1083 212.6L1084 210.7L1085 209L1086 207.4L1087 206.1L1088 205L1089 204.1L1090 203.2L1091 202.4L1092 201.7L1093 201.1L1094 200.7L1095 200.5L1096 200.5L1097 200.7L1098 201.1L1099 201.5L1100 202L1101 202.6L1102 203.2L1103 203.9L1104 204.5L1105 205.2L1106 206L1107 207L1108 208L1109 209.1L1110 210.3L1111 211.4L1112 212.6L1113 213.8L1114 214.9L1115 216L1116 217.1L1117 218.1L1118 219.2L1119 220.3L1120 221.5L1121 222.6L1122 223.7L1123 224.7L1124 225.8L1125 226.8L1126 227.8L1127 228.8L1128 229.7L1129 230.5L1130 231.3L1131 232.1L1132 232.9L1133 233.6L1134 234.3L1135 235.1L1136 235.7L1137 236.4L1138 237L1139 237.5L1140 238L1141 238.5L1142 238.9L1143 239.3L1144 239.7L1145 240.1L1146 240.4L1147 240.8L1148 241.1L1149 241.4L1150 241.7L1151 242L1152 242.2L1153 242.5L1154 242.7L1155 243L1156 243.2L1157 243.4L1158 243.6L1159 243.8L1160 244L1161 244.2L1162 244.4L1163 244.6L1164 244.8L1165 245L1166 245.1L1167 245.3L1168 245.5L1169 245.6L1170 245.8L1171 245.9L1172 246.1L1173 246.2L1174 246.4L1175 246.5L1176 246.6L1177 246.8L1178 246.9L1179 247L1180 247.1L1181 247.2L1182 247.4L1183 247.5L1184 247.6L1185 247.7L1186 247.8L1187 247.9L1188 248L1189 248.1L1190 248.2L1191 248.3L1192 248.4L1193 248.5L1194 248.6L1195 248.7L1196 248.8L1197 248.9L1198 249L1199 249.1L1200 249.2L1201 249.2L1202 249.3L1203 249.4L1204 249.5L1205 249.6L1206 249.7L1207 249.8L1208 249.9L1209 250L1210 250.1L1211 250.2L1212 250.3L1213 250.3L1214 250.4L1215 250.5L1216 250.6L1217 250.7L1218 250.8L1219 250.9L1220 250.9L1221 251L1222 251.1L1223 251.2L1224 251.3L1225 251.4L1226 251.4L1227 251.5L1228 251.6L1229 251.7L1230 251.8L1231 251.9L1232 251.9L1233 252L1234 252.1L1235 252.2L1236 252.3L1237 252.4L1238 252.5L1239 252.5L1240 252.6L1241 252.7L1242 252.8L1243 252.9L1244 253L1245 253L1246 253.1L1247 253.2L1248 253.3L1249 253.4L1250 253.5L1251 253.5L1252 253.6L1253 253.7L1254 253.8L1255 253.9L1256 253.9L1257 254L1258 254.1L1259 254.2L1260 254.3L1261 254.4L1262 254.4L1263 254.5L1264 254.6L1265 254.7L1266 254.8L1266 256.6L1265 256.9L1264 257.1L1263 257.4L1262 257.6L1261 257.8L1260 258.1L1259 258.3L1258 258.6L1257 258.8L1256 259.1L1255 259.3L1254 259.6L1253 259.8L1252 260.1L1251 260.3L1250 260.5L1249 260.8L1248 261L1247 261.3L1246 261.5L1245 261.8L1244 262L1243 262.3L1242 262.5L1241 262.7L1240 263L1239 263.2L1238 263.5L1237 263.7L1236 264L1235 264.2L1234 264.5L1233 264.7L1232 265L1231 265.2L1230 265.4L1229 265.7L1228 265.9L1227 266.2L1226 266.4L1225 266.7L1224 266.9L1223 267.2L1222 267.4L1221 267.6L1220 267.9L1219 268.1L1218 268.4L1217 268.6L1216 268.9L1215 269.1L1214 269.4L1213 269.6L1212 269.9L1211 270.1L1210 270.3L1209 270.6L1208 270.8L1207 271.1L1206 271.3L1205 271.6L1204 271.8L1203 272.1L1202 272.3L1201 272.5L1200 272.8L1199 273L1198 273.3L1197 273.5L1196 273.8L1195 274L1194 274.3L1193 274.5L1192 274.8L1191 275L1190 275.2L1189 275.5L1188 275.7L1187 276L1186 276.2L1185 276.5L1184 276.7L1183 277L1182 277.2L1181 277.4L1180 277.7L1179 277.9L1178 278.2L1177 278.4L1176 278.7L1175 278.9L1174 279.2L1173 279.4L1172 279.7L1171 279.9L1170 280.1L1169 280.4L1168 280.6L1167 280.9L1166 281.1L1165 281.4L1164 281.6L1163 281.9L1162 282.1L1161 282.3L1160 282.6L1159 282.8L1158 283.1L1157 283.3L1156 283.6L1155 283.8L1154 284.1L1153 284.3L1152 284.6L1151 284.8L1150 285L1149 285.3L1148 285.5L1147 285.8L1146 286L1145 286.3L1144 286.5L1143 286.8L1142 287L1141 287.2L1140 287.5L1139 287.7L1138 288L1137 288.2L1136 288.5L1135 288.7L1134 289L1133 289.2L1132 289.5L1131 289.7L1130 289.9L1129 290.2L1128 290.4L1127 290.7L1126 290.9L1125 291.2L1124 291.4L1123 291.7L1122 291.9L1121 292.1L1120 292.4L1119 292.6L1118 292.9L1117 293.1L1116 293.4L1115 293.6L1114 293.9L1113 294.1L1112 294.4L1111 294.6L1110 294.8L1109 295.1L1108 295.3L1107 295.6L1106 295.8L1105 296.1L1104 296.3L1103 296.6L1102 296.8L1101 297L1100 297.3L1099 297.5L1098 297.8L1097 298L1096 298.3L1095 298.5L1094 298.8L1093 299L1092 299.3L1091 299.5L1090 299.7L1089 300L1088 300.2L1087 300.5L1086 300.7L1085 301L1084 301.2L1083 301.5L1082 301.7L1081 301.9L1080 302.2L1079 302.4L1078 302.7L1077 302.9L1076 303.2L1075 303.4L1074 303.7L1073 303.9L1072 304.2L1071 304.4L1070 304.6L1069 304.9L1068 305.1L1067 305.4L1066 305.6L1065 305.9L1064 306.1L1063 306.4L1062 306.6L1061 306.8L1060 307.1L1059 307.3L1058 307.6L1057 307.8L1056 308.1L1055 308.3L1054 308.6L1053 308.8L1052 309.1L1051 309.3L1050 309.5L1049 309.8L1048 310L1047 310.3L1046 310.5L1045 310.8L1044 311L1043 311.3L1042 311.5L1041 311.7L1040 312L1039 312.2L1038 312.5L1037 312.7L1036 313L1035 313.2L1034 313.5L1033 313.7L1032 314L1031 314.2L1030 314.4L1029 314.7L1028 314.9L1027 315.2L1026 315.4L1025 315.7L1024 315.9L1023 316.2L1022 316.4L1021 316.6L1020 316.9L1019 317.1L1018 317.4L1017 317.6L1016 317.9L1015 318.1L1014 318.4L1013 318.6L1012 318.9L1011 319.1L1010 319.3L1009 319.6L1008 319.8L1007 320.1L1006 320.3L1005 320.6L1004 320.8L1003 321.1L1002 321.3L1001 321.5L1000 321.8L999 322L998 322.3L997 322.5L996 322.8L995 323L994 323.3L993 323.5L992 323.8L991 324L990 324.2L989 324.5L988 324.7L987 325L986 325.2L985 325.5L984 325.7L983 326L982 326.2L981 326.4L980 326.7L979 326.9L978 327.2L977 327.4L976 327.7L975 327.9L974 328.2L973 328.4L972 328.7L971 328.9L970 329.1L969 329.4L968 329.6L967 329.9L966 330.1L965 330.4L964 330.6L963 330.9L962 331.1L961 331.3L960 331.6L959 331.8L958 332.1L957 332.3L956 332.6L955 332.8L954 333.1L953 333.3L952 333.6L951 333.8L950 334L949 334.3L948 334.5L947 334.8L946 335L945 335.3L944 335.5L943 335.8L942 336L941 336.2L940 336.5L939 336.7L938 337L937 337.2L936 337.5L935 337.7L934 338L933 338.2L932 338.5L931 338.7L930 338.9L929 339.2L928 339.4L927 339.7L926 339.9L925 340.2L924 340.4L923 340.7L922 340.9L921 341.1L920 341.4L919 341.6L918 341.9L917 342.1L916 342.4L915 342.6L914 342.9L913 343.1L912 343.4L911 343.6L910 343.8L909 344.1L908 344.3L907 344.6L906 344.8L905 345.1L904 345.3L903 345.6L902 345.8L901 346L900 346.3L899 346.5L898 346.8L897 347L896 347.3L895 347.5L894 347.8L893 348L892 348.3L891 348.5L890 348.7L889 349L888 349.2L887 349.5L886 349.7L885 350L884 350.2L883 350.5L882 350.7L881 350.9L880 351.2L879 351.4L878 351.7L877 351.9L876 352.2L875 352.4L874 352.7L873 352.9L872 353.2L871 353.4L870 353.6L869 353.9L868 354.1L867 354.4L866 354.6L865 354.9L864 355.1L863 355.4L862 355.6L861 355.8L860 356.1L859 356.3L858 356.6L857 356.8L856 357.1L855 357.3L854 357.6L853 357.8L852 358.1L851 358.3L850 358.5L849 358.8L848 359L847 359.3L846 359.5L845 359.8L844 360L843 360.3L842 360.5L841 360.7L840 361L839 361.2L838 361.5L837 361.7L836 362L835 362.2L834 362.5L833 362.7L832 363L831 363.2L830 363.4L829 363.7L828 363.9L827 364.2L826 364.4L825 364.7L824 364.9L823 365.2L822 365.4L821 365.6L820 365.9L819 366.1L818 366.4L817 366.6L816 366.9L815 367.1L814 367.4L813 367.6L812 367.9L811 368.1L810 368.3L809 368.6L808 368.8L807 369.1L806 369.3L805 369.6L804 369.8L803 370.1L802 370.3L801 370.5L800 370.8L799 371L798 371.3L797 371.5L796 371.8L795 372L794 372.3L793 372.5L792 372.8L791 373Z" fill="#ff0000" fill-opacity="0.47"/><path d="M885 348L886 347.6L887 347.2L888 346.7L889 345.8L890 344.1L891 341.7L892 338.7L893 335.3L894 330.3L895 323.8L896 316.6L897 309.6L898 303.4L899 297.6L900 291.8L901 285.8L902 279.3L903 272.3L904 264.9L905 257.2L906 249.2L907 240.9L908 231.8L909 222.8L910 215L911 208.6L912 202.8L913 197.5L914 191.9L915 186L916 180.3L917 175.2L918 171.3L919 169L920 167.4L921 166L922 164.9L923 164.1L924 163.7L925 163.8L926 164.5L927 165.5L928 167L929 168.6L930 170.3L931 172.4L932 175.1L933 178.2L934 181.6L935 185L936 188.8L937 193L938 196.4L939 199L940 201.5L941 203.7L942 205.7L943 207.6L944 209.4L945 211.1L946 212.8L947 214.5L948 216.2L949 217.7L950 219.2L951 220.7L952 222.1L953 223.5L954 224.8L955 226.2L956 227.5L957 228.9L958 230.3L959 231.7L960 233.2L961 234.8L962 236.4L963 238.1L964 239.9L965 241.7L966 243.5L967 245.3L968 247L969 248.8L970 250.5L971 252.1L972 253.7L973 255.2L974 256.8L975 258.4L976 260L977 261.6L978 263.2L979 264.8L980 266.3L981 267.7L982 269.1L983 270.4L984 271.6L985 272.7L986 273.6L987 274.5L988 275.1L989 275.7L990 276.3L991 276.9L992 277.5L993 278.1L994 278.6L995 279.1L996 279.5L997 279.9L998 280.3L999 280.6L1000 280.9L1001 281.1L1002 281.3L1003 281.4L1004 281.4L1005 281.4L1006 281.4L1007 281.4L1008 281.3L1009 281.3L1010 281.3L1011 281.2L1012 281.2L1013 281.1L1014 281L1015 281L1016 280.9L1017 280.8L1018 280.7L1019 280.7L1020 280.6L1021 280.4L1022 280.3L1023 280L1024 279.8L1025 279.5L1026 279.2L1027 278.8L1028 278.4L1029 278L1030 277.6L1031 277.1L1032 276.7L1033 276.2L1034 275.8L1035 275.3L1036 274.9L1037 274.4L1038 273.9L1039 273.4L1040 272.8L1041 272.2L1042 271.6L1043 271L1044 270.4L1045 269.7L1046 269L1047 268.3L1048 267.5L1049 266.8L1050 266L1051 265.2L1052 264.4L1053 263.5L1054 262.6L1055 261.7L1056 260.7L1057 259.7L1058 258.7L1059 257.6L1060 256.5" fill="none" stroke="#c02828" stroke-width="2.2" stroke-opacity="0.8"/><path d="M930 328.7L931 327.3L932 325.7L933 323.9L934 321.9L935 319.7L936 317.3L937 314.6L938 311.7L939 308.6L940 305.3L941 301.7L942 297.9L943 293.9L944 289.8L945 285.5L946 281.1L947 276.7L948 272.2L949 267.9L950 263.6L951 259.6L952 255.9L953 252.6L954 249.8L955 247.5L956 245.9L957 244.9L958 244.6L959 244.5L960 244.4L961 244.5L962 244.7L963 245L964 245.4L965 245.9L966 246.5L967 247.2L968 248L969 248.8L970 249.7L971 250.7L972 251.8L973 252.9L974 254L975 255.2L976 256.4L977 257.7L978 259L979 260.3L980 261.7L981 263L982 264.4L983 265.8L984 267.1L985 268.5L986 269.9L987 271.2L988 272.6L989 273.9L990 275.2L991 276.5L992 277.8L993 279L994 280.2L995 281.5L996 282.6L997 283.8L998 284.9L999 286L1000 287L1001 288.1L1002 289L1003 290L1004 290.9L1005 291.8L1006 292.7L1007 293.5L1008 294.3L1009 295L1010 295.7L1011 296.4L1012 297.1L1013 297.7L1014 298.3L1015 298.8L1016 299.3L1017 299.8L1018 300.3L1019 300.7L1020 301.1L1021 301.5L1022 301.9L1023 302.2L1024 302.5L1025 302.7L1026 303L1027 303.2L1028 303.4L1029 303.6L1030 303.8L1031 303.9L1032 304L1033 304.1L1034 304.2L1035 304.3L1036 304.3L1037 304.4L1038 304.4L1039 304.4L1040 304.4L1041 304.4L1042 304.4L1043 304.4L1044 304.3L1045 304.3L1046 304.2L1047 304.1L1048 304.1L1049 304L1050 303.9L1051 303.8L1052 303.7L1053 303.5L1054 303.4L1055 303.3L1056 303.2L1057 303L1058 302.9L1059 302.7L1060 302.6L1061 302.4L1062 302.3L1063 302.1L1064 302L1065 301.8L1066 301.6L1067 301.5L1068 301.3L1069 301.1L1070 300.9L1071 300.8L1072 300.6L1073 300.4L1074 300.2L1075 300L1076 299.8L1077 299.6L1078 299.4L1079 299.2L1080 299L1081 298.9L1082 298.7L1083 298.5L1084 298.3L1085 298.1L1086 297.9L1087 297.6L1088 297.4L1089 297.2L1090 297L1091 296.8L1092 296.6L1093 296.4L1094 296.2L1095 296L1096 295.8L1097 295.6L1098 295.4L1099 295.1L1100 294.9L1100 297.3L1099 297.5L1098 297.8L1097 298L1096 298.3L1095 298.5L1094 298.8L1093 299L1092 299.3L1091 299.5L1090 299.7L1089 300L1088 300.2L1087 300.5L1086 300.7L1085 301L1084 301.2L1083 301.5L1082 301.7L1081 301.9L1080 302.2L1079 302.4L1078 302.7L1077 302.9L1076 303.2L1075 303.4L1074 303.7L1073 303.9L1072 304.2L1071 304.4L1070 304.6L1069 304.9L1068 305.1L1067 305.4L1066 305.6L1065 305.9L1064 306.1L1063 306.4L1062 306.6L1061 306.8L1060 307.1L1059 307.3L1058 307.6L1057 307.8L1056 308.1L1055 308.3L1054 308.6L1053 308.8L1052 309.1L1051 309.3L1050 309.5L1049 309.8L1048 310L1047 310.3L1046 310.5L1045 310.8L1044 311L1043 311.3L1042 311.5L1041 311.7L1040 312L1039 312.2L1038 312.5L1037 312.7L1036 313L1035 313.2L1034 313.5L1033 313.7L1032 314L1031 314.2L1030 314.4L1029 314.7L1028 314.9L1027 315.2L1026 315.4L1025 315.7L1024 315.9L1023 316.2L1022 316.4L1021 316.6L1020 316.9L1019 317.1L1018 317.4L1017 317.6L1016 317.9L1015 318.1L1014 318.4L1013 318.6L1012 318.9L1011 319.1L1010 319.3L1009 319.6L1008 319.8L1007 320.1L1006 320.3L1005 320.6L1004 320.8L1003 321.1L1002 321.3L1001 321.5L1000 321.8L999 322L998 322.3L997 322.5L996 322.8L995 323L994 323.3L993 323.5L992 323.8L991 324L990 324.2L989 324.5L988 324.7L987 325L986 325.2L985 325.5L984 325.7L983 326L982 326.2L981 326.4L980 326.7L979 326.9L978 327.2L977 327.4L976 327.7L975 327.9L974 328.2L973 328.4L972 328.7L971 328.9L970 329.1L969 329.4L968 329.6L967 329.9L966 330.1L965 330.4L964 330.6L963 330.9L962 331.1L961 331.3L960 331.6L959 331.8L958 332.1L957 332.3L956 332.6L955 332.8L954 333.1L953 333.3L952 333.6L951 333.8L950 334L949 334.3L948 334.5L947 334.8L946 335L945 335.3L944 335.5L943 335.8L942 336L941 336.2L940 336.5L939 336.7L938 337L937 337.2L936 337.5L935 337.7L934 338L933 338.2L932 338.5L931 338.7L930 338.9Z" fill="#007f00"/><path d="M887 342.1L888 340.6L889 339L890 337.2L891 335.2L892 333L893 330.5L894 327.7L895 324.7L896 321.3L897 317.7L898 313.8L899 309.5L900 304.9L901 300.1L902 294.9L903 289.4L904 283.7L905 277.8L906 271.6L907 265.3L908 258.9L909 252.4L910 246L911 239.5L912 233.2L913 227.1L914 221.3L915 215.8L916 210.6L917 206L918 201.8L919 198.3L920 195.3L921 193.1L922 191.5L923 190.7L924 190.5L925 190.8L926 191.6L927 192.8L928 194.4L929 196.5L930 198.9L931 201.7L932 204.8L933 208.2L934 211.9L935 215.9L936 220L937 224.4L938 228.8L939 233.4L940 238L941 242.7L942 247.4L943 252.1L944 256.7L945 261.2L946 265.7L947 270L948 274.2L949 278.3L950 282.2L951 285.9L952 289.4L953 292.8L954 295.9L955 298.9L956 301.6L957 304.2L958 306.6L959 308.8L960 310.8L961 312.6L962 314.3L963 315.7L964 317.1L965 318.3L966 319.4L967 320.3L968 321.1L969 321.8L970 322.4L971 322.9L972 323.4L973 323.7L974 324L975 324.2L976 324.4L977 324.5L978 324.6L979 324.6L980 324.6L981 324.6L982 324.5L983 324.4L984 324.3L985 324.2L986 324L987 323.9L988 323.7L989 323.5L990 323.4L991 323.2L992 323L993 322.8L994 322.5L995 322.3L996 322.1L997 321.9L998 321.7L999 321.5L1000 321.2L1000 321.8L999 322L998 322.3L997 322.5L996 322.8L995 323L994 323.3L993 323.5L992 323.8L991 324L990 324.2L989 324.5L988 324.7L987 325L986 325.2L985 325.5L984 325.7L983 326L982 326.2L981 326.4L980 326.7L979 326.9L978 327.2L977 327.4L976 327.7L975 327.9L974 328.2L973 328.4L972 328.7L971 328.9L970 329.1L969 329.4L968 329.6L967 329.9L966 330.1L965 330.4L964 330.6L963 330.9L962 331.1L961 331.3L960 331.6L959 331.8L958 332.1L957 332.3L956 332.6L955 332.8L954 333.1L953 333.3L952 333.6L951 333.8L950 334L949 334.3L948 334.5L947 334.8L946 335L945 335.3L944 335.5L943 335.8L942 336L941 336.2L940 336.5L939 336.7L938 337L937 337.2L936 337.5L935 337.7L934 338L933 338.2L932 338.5L931 338.7L930 338.9L929 339.2L928 339.4L927 339.7L926 339.9L925 340.2L924 340.4L923 340.7L922 340.9L921 341.1L920 341.4L919 341.6L918 341.9L917 342.1L916 342.4L915 342.6L914 342.9L913 343.1L912 343.4L911 343.6L910 343.8L909 344.1L908 344.3L907 344.6L906 344.8L905 345.1L904 345.3L903 345.6L902 345.8L901 346L900 346.3L899 346.5L898 346.8L897 347L896 347.3L895 347.5L894 347.8L893 348L892 348.3L891 348.5L890 348.7L889 349L888 349.2L887 349.5Z" fill="#b266ff"/><path d="M791 372.6L792 372.6L793 372.6L794 372.6L795 372.6L796 372.6L797 372.6L798 372.6L799 372.6L800 372.5L801 372.5L802 372.5L803 372.5L804 372.5L805 372.5L806 372.5L807 372.5L808 372.5L809 372.5L810 372.4L811 372.4L812 372.4L813 372.4L814 372.4L815 372.4L816 372.4L817 372.4L818 372.4L819 372.3L820 372.3L821 372.3L822 372.3L823 372.3L824 372.3L825 372.3L826 372.3L827 372.2L828 372.2L829 372.2L830 372.2L831 372.2L832 372.2L833 372.2L834 372.1L835 372.1L836 372.1L837 372.1L838 372.1L839 372.1L840 372L841 372L842 372L843 372L844 372L845 372L846 371.9L847 371.9L848 371.9L849 371.9L850 371.9L851 371.8L852 371.8L853 371.8L854 371.8L855 371.7L856 371.7L857 371.7L858 371.7L859 371.6L860 371.6L861 371.6L862 371.5L863 371.5L864 371.5L865 371.5L866 371.4L867 371.4L868 371.4L869 371.3L870 371.3L871 371.2L872 371.2L873 371.2L874 371.1L875 371.1L876 371L877 370.9L878 370.9L879 370.8L880 370.7L881 370.7L882 370.6L883 370.4L884 370.3L885 370L886 369.8L887 369.5L888 369.2L889 368.9L890 368.5L891 368.1L892 367.7L893 367.3L894 366.9L895 366.5L896 366.1L897 365.6L898 365.1L899 364.6L900 364L901 363.4L902 362.7L903 362.1L904 361.4L905 360.7L906 360L907 359.2L908 358.5L909 357.7L910 356.8L911 355.9L912 354.9L913 353.9L914 352.9L915 351.9L916 350.9L917 349.9L918 349L919 348.1L920 347.3L921 346.4L922 345.6L923 344.8L924 343.9L925 343.1L926 342.2L927 341.2L928 340.2L929 339.2L930 338.1L931 336.9L932 335.8L933 334.6L934 333.4L935 332.2L936 331L937 329.8L938 328.6L939 327.4L940 326.2L941 325.1L942 324L943 323L944 321.9L945 321L946 320.1L947 319.2L948 318.3L949 317.4L950 316.5L951 315.6L952 314.8L953 314L954 313.1L955 312.3L956 311.5L957 310.8L958 310L959 309.3L960 308.6L961 307.9L962 307.3L963 306.7L964 306.1L965 305.5L966 305L967 304.4L968 303.9L969 303.4L970 303L971 302.5L972 302.1L973 301.6L974 301.2L975 300.8L976 300.4L977 300L978 299.6L979 299.2L980 298.9L981 298.5L982 298.1L983 297.7L984 297.4L985 297L986 296.6L987 296.3L988 295.9L989 295.6L990 295.2L991 294.9L992 294.5L993 294.2L994 293.9L995 293.5L996 293.2L997 292.9L998 292.6L999 292.2L1000 291.9L1001 291.6L1002 291.3L1003 291L1004 290.7L1005 290.4L1006 290.1L1007 289.8L1008 289.6L1009 289.3L1010 289L1011 288.8L1012 288.5L1013 288.3L1014 288L1015 287.7L1016 287.4L1017 287.1L1018 286.8L1019 286.5L1020 286.1L1021 285.7L1022 285.2L1023 284.8L1024 284.3L1025 283.8L1026 283.2L1027 282.6L1028 282.1L1029 281.5L1030 280.9L1031 280.3L1032 279.7L1033 279L1034 278.4L1035 277.8L1036 277.2L1037 276.6L1038 276L1039 275.4L1040 274.9L1041 274.3L1042 273.7L1043 273L1044 272.4L1045 271.8L1046 271.1L1047 270.4L1048 269.7L1049 269L1050 268.3L1051 267.5L1052 266.7L1053 265.8L1054 264.9L1055 264L1056 263L1057 262L1058 260.9L1059 259.8L1060 258.7L1061 257.5L1062 256.3L1063 255.1L1064 253.8L1065 252.4L1066 251L1067 249.5L1068 247.9L1069 246.3L1070 244.5L1071 242.7L1072 240.7L1073 238.4L1074 235.8L1075 233L1076 230.2L1077 227.4L1078 224.7L1079 222.3L1080 220.2L1081 218.2L1082 216.1L1083 214.2L1084 212.4L1085 210.7L1086 209.2L1087 208L1088 207L1089 206.2L1090 205.4L1091 204.7L1092 204L1093 203.5L1094 203.2L1095 203L1096 203L1097 203.2L1098 203.5L1099 204L1100 204.5L1101 205.1L1102 205.7L1103 206.4L1104 207L1105 207.7L1106 208.6L1107 209.6L1108 210.7L1109 211.8L1110 213.1L1111 214.3L1112 215.5L1113 216.7L1114 217.9L1115 219L1116 220.1L1117 221.1L1118 222.2L1119 223.3L1120 224.4L1121 225.4L1122 226.5L1123 227.5L1124 228.5L1125 229.5L1126 230.5L1127 231.4L1128 232.2L1129 233L1130 233.8L1131 234.5L1132 235.2L1133 235.9L1134 236.6L1135 237.3L1136 237.9L1137 238.5L1138 239L1139 239.6L1140 240L1141 240.5L1142 240.9L1143 241.3L1144 241.7L1145 242.1L1146 242.4L1147 242.8L1148 243.1L1149 243.4L1150 243.7L1151 244L1152 244.2L1153 244.5L1154 244.7L1155 244.9L1156 245.2L1157 245.4L1158 245.6L1159 245.8L1160 246L1161 246.1L1162 246.3L1163 246.5L1164 246.7L1165 246.8L1166 247L1167 247.1L1168 247.3L1169 247.4L1170 247.6L1171 247.7L1172 247.8L1173 248L1174 248.1L1175 248.2L1176 248.3L1177 248.4L1178 248.6L1179 248.7L1180 248.8L1181 248.9L1182 249L1183 249.1L1184 249.2L1185 249.3L1186 249.4L1187 249.5L1188 249.6L1189 249.6L1190 249.7L1191 249.8L1192 249.9L1193 250L1194 250.1L1195 250.2L1196 250.2L1197 250.3L1198 250.4L1199 250.5L1200 250.6L1201 250.7L1202 250.8L1203 250.8L1204 250.9L1205 251L1206 251.1L1207 251.2L1208 251.3L1209 251.3L1210 251.4L1211 251.5L1212 251.6L1213 251.7L1214 251.8L1215 251.8L1216 251.9L1217 252L1218 252.1L1219 252.1L1220 252.2L1221 252.3L1222 252.4L1223 252.5L1224 252.5L1225 252.6L1226 252.7L1227 252.8L1228 252.9L1229 252.9L1230 253L1231 253.1L1232 253.2L1233 253.2L1234 253.3L1235 253.4L1236 253.5L1237 253.6L1238 253.6L1239 253.7L1240 253.8L1241 253.9L1242 254L1243 254L1244 254.1L1245 254.2L1246 254.3L1247 254.4L1248 254.4L1249 254.5L1250 254.6L1251 254.7L1252 254.8L1253 254.8L1254 254.9L1255 255L1256 255.1L1257 255.1L1258 255.2L1259 255.3L1260 255.4L1261 255.5L1262 255.5L1263 255.6L1264 255.7L1265 255.8L1266 255.9L1266 256.6L1265 256.9L1264 257.1L1263 257.4L1262 257.6L1261 257.8L1260 258.1L1259 258.3L1258 258.6L1257 258.8L1256 259.1L1255 259.3L1254 259.6L1253 259.8L1252 260.1L1251 260.3L1250 260.5L1249 260.8L1248 261L1247 261.3L1246 261.5L1245 261.8L1244 262L1243 262.3L1242 262.5L1241 262.7L1240 263L1239 263.2L1238 263.5L1237 263.7L1236 264L1235 264.2L1234 264.5L1233 264.7L1232 265L1231 265.2L1230 265.4L1229 265.7L1228 265.9L1227 266.2L1226 266.4L1225 266.7L1224 266.9L1223 267.2L1222 267.4L1221 267.6L1220 267.9L1219 268.1L1218 268.4L1217 268.6L1216 268.9L1215 269.1L1214 269.4L1213 269.6L1212 269.9L1211 270.1L1210 270.3L1209 270.6L1208 270.8L1207 271.1L1206 271.3L1205 271.6L1204 271.8L1203 272.1L1202 272.3L1201 272.5L1200 272.8L1199 273L1198 273.3L1197 273.5L1196 273.8L1195 274L1194 274.3L1193 274.5L1192 274.8L1191 275L1190 275.2L1189 275.5L1188 275.7L1187 276L1186 276.2L1185 276.5L1184 276.7L1183 277L1182 277.2L1181 277.4L1180 277.7L1179 277.9L1178 278.2L1177 278.4L1176 278.7L1175 278.9L1174 279.2L1173 279.4L1172 279.7L1171 279.9L1170 280.1L1169 280.4L1168 280.6L1167 280.9L1166 281.1L1165 281.4L1164 281.6L1163 281.9L1162 282.1L1161 282.3L1160 282.6L1159 282.8L1158 283.1L1157 283.3L1156 283.6L1155 283.8L1154 284.1L1153 284.3L1152 284.6L1151 284.8L1150 285L1149 285.3L1148 285.5L1147 285.8L1146 286L1145 286.3L1144 286.5L1143 286.8L1142 287L1141 287.2L1140 287.5L1139 287.7L1138 288L1137 288.2L1136 288.5L1135 288.7L1134 289L1133 289.2L1132 289.5L1131 289.7L1130 289.9L1129 290.2L1128 290.4L1127 290.7L1126 290.9L1125 291.2L1124 291.4L1123 291.7L1122 291.9L1121 292.1L1120 292.4L1119 292.6L1118 292.9L1117 293.1L1116 293.4L1115 293.6L1114 293.9L1113 294.1L1112 294.4L1111 294.6L1110 294.8L1109 295.1L1108 295.3L1107 295.6L1106 295.8L1105 296.1L1104 296.3L1103 296.6L1102 296.8L1101 297L1100 297.3L1099 297.5L1098 297.8L1097 298L1096 298.3L1095 298.5L1094 298.8L1093 299L1092 299.3L1091 299.5L1090 299.7L1089 300L1088 300.2L1087 300.5L1086 300.7L1085 301L1084 301.2L1083 301.5L1082 301.7L1081 301.9L1080 302.2L1079 302.4L1078 302.7L1077 302.9L1076 303.2L1075 303.4L1074 303.7L1073 303.9L1072 304.2L1071 304.4L1070 304.6L1069 304.9L1068 305.1L1067 305.4L1066 305.6L1065 305.9L1064 306.1L1063 306.4L1062 306.6L1061 306.8L1060 307.1L1059 307.3L1058 307.6L1057 307.8L1056 308.1L1055 308.3L1054 308.6L1053 308.8L1052 309.1L1051 309.3L1050 309.5L1049 309.8L1048 310L1047 310.3L1046 310.5L1045 310.8L1044 311L1043 311.3L1042 311.5L1041 311.7L1040 312L1039 312.2L1038 312.5L1037 312.7L1036 313L1035 313.2L1034 313.5L1033 313.7L1032 314L1031 314.2L1030 314.4L1029 314.7L1028 314.9L1027 315.2L1026 315.4L1025 315.7L1024 315.9L1023 316.2L1022 316.4L1021 316.6L1020 316.9L1019 317.1L1018 317.4L1017 317.6L1016 317.9L1015 318.1L1014 318.4L1013 318.6L1012 318.9L1011 319.1L1010 319.3L1009 319.6L1008 319.8L1007 320.1L1006 320.3L1005 320.6L1004 320.8L1003 321.1L1002 321.3L1001 321.5L1000 321.8L999 322L998 322.3L997 322.5L996 322.8L995 323L994 323.3L993 323.5L992 323.8L991 324L990 324.2L989 324.5L988 324.7L987 325L986 325.2L985 325.5L984 325.7L983 326L982 326.2L981 326.4L980 326.7L979 326.9L978 327.2L977 327.4L976 327.7L975 327.9L974 328.2L973 328.4L972 328.7L971 328.9L970 329.1L969 329.4L968 329.6L967 329.9L966 330.1L965 330.4L964 330.6L963 330.9L962 331.1L961 331.3L960 331.6L959 331.8L958 332.1L957 332.3L956 332.6L955 332.8L954 333.1L953 333.3L952 333.6L951 333.8L950 334L949 334.3L948 334.5L947 334.8L946 335L945 335.3L944 335.5L943 335.8L942 336L941 336.2L940 336.5L939 336.7L938 337L937 337.2L936 337.5L935 337.7L934 338L933 338.2L932 338.5L931 338.7L930 338.9L929 339.2L928 339.4L927 339.7L926 339.9L925 340.2L924 340.4L923 340.7L922 340.9L921 341.1L920 341.4L919 341.6L918 341.9L917 342.1L916 342.4L915 342.6L914 342.9L913 343.1L912 343.4L911 343.6L910 343.8L909 344.1L908 344.3L907 344.6L906 344.8L905 345.1L904 345.3L903 345.6L902 345.8L901 346L900 346.3L899 346.5L898 346.8L897 347L896 347.3L895 347.5L894 347.8L893 348L892 348.3L891 348.5L890 348.7L889 349L888 349.2L887 349.5L886 349.7L885 350L884 350.2L883 350.5L882 350.7L881 350.9L880 351.2L879 351.4L878 351.7L877 351.9L876 352.2L875 352.4L874 352.7L873 352.9L872 353.2L871 353.4L870 353.6L869 353.9L868 354.1L867 354.4L866 354.6L865 354.9L864 355.1L863 355.4L862 355.6L861 355.8L860 356.1L859 356.3L858 356.6L857 356.8L856 357.1L855 357.3L854 357.6L853 357.8L852 358.1L851 358.3L850 358.5L849 358.8L848 359L847 359.3L846 359.5L845 359.8L844 360L843 360.3L842 360.5L841 360.7L840 361L839 361.2L838 361.5L837 361.7L836 362L835 362.2L834 362.5L833 362.7L832 363L831 363.2L830 363.4L829 363.7L828 363.9L827 364.2L826 364.4L825 364.7L824 364.9L823 365.2L822 365.4L821 365.6L820 365.9L819 366.1L818 366.4L817 366.6L816 366.9L815 367.1L814 367.4L813 367.6L812 367.9L811 368.1L810 368.3L809 368.6L808 368.8L807 369.1L806 369.3L805 369.6L804 369.8L803 370.1L802 370.3L801 370.5L800 370.8L799 371L798 371.3L797 371.5L796 371.8L795 372L794 372.3L793 372.5L792 372.8L791 373Z" fill="#ffff00"/><path d="M791 372.6L792 372.6L793 372.6L794 372.6L795 372.6L796 372.6L797 372.6L798 372.6L799 372.6L800 372.5L801 372.5L802 372.5L803 372.5L804 372.5L805 372.5L806 372.5L807 372.5L808 372.5L809 372.5L810 372.4L811 372.4L812 372.4L813 372.4L814 372.4L815 372.4L816 372.4L817 372.4L818 372.4L819 372.3L820 372.3L821 372.3L822 372.3L823 372.3L824 372.3L825 372.3L826 372.3L827 372.2L828 372.2L829 372.2L830 372.2L831 372.2L832 372.2L833 372.2L834 372.1L835 372.1L836 372.1L837 372.1L838 372.1L839 372.1L840 372L841 372L842 372L843 372L844 372L845 372L846 371.9L847 371.9L848 371.9L849 371.9L850 371.9L851 371.8L852 371.8L853 371.8L854 371.8L855 371.7L856 371.7L857 371.7L858 371.7L859 371.6L860 371.6L861 371.6L862 371.5L863 371.5L864 371.5L865 371.5L866 371.4L867 371.4L868 371.4L869 371.3L870 371.3L871 371.2L872 371.2L873 371.2L874 371.1L875 371.1L876 371L877 370.9L878 370.9L879 370.8L880 370.7L881 370.7L882 370.6L883 370.4L884 370.3L885 370L886 369.8L887 369.5L888 369.2L889 368.9L890 368.5L891 368.1L892 367.7L893 367.3L894 366.9L895 366.5L896 366.1L897 365.6L898 365.1L899 364.6L900 364L901 363.4L902 362.7L903 362.1L904 361.4L905 360.7L906 360L907 359.2L908 358.5L909 357.7L910 356.8L911 355.9L912 354.9L913 353.9L914 352.9L915 351.9L916 350.9L917 349.9L918 349L919 348.1L920 347.3L921 346.4L922 345.6L923 344.8L924 343.9L925 343.1L926 342.2L927 341.2L928 340.2L929 339.2L930 338.1L931 336.9L932 335.8L933 334.6L934 333.4L935 332.2" fill="none" stroke="#1f6fc0" stroke-width="1.6"/><path d="M791 373L792 372.8L793 372.5L794 372.3L795 372L796 371.8L797 371.5L798 371.3L799 371L800 370.8L801 370.5L802 370.3L803 370.1L804 369.8L805 369.6L806 369.3L807 369.1L808 368.8L809 368.6L810 368.3L811 368.1L812 367.9L813 367.6L814 367.4L815 367.1L816 366.9L817 366.6L818 366.4L819 366.1L820 365.9L821 365.6L822 365.4L823 365.2L824 364.9L825 364.7L826 364.4L827 364.2L828 363.9L829 363.7L830 363.4L831 363.2L832 363L833 362.7L834 362.5L835 362.2L836 362L837 361.7L838 361.5L839 361.2L840 361L841 360.7L842 360.5L843 360.3L844 360L845 359.8L846 359.5L847 359.3L848 359L849 358.8L850 358.5L851 358.3L852 358.1L853 357.8L854 357.6L855 357.3L856 357.1L857 356.8L858 356.6L859 356.3L860 356.1L861 355.8L862 355.6L863 355.4L864 355.1L865 354.9L866 354.6L867 354.4L868 354.1L869 353.9L870 353.6L871 353.4L872 353.2L873 352.9L874 352.7L875 352.4L876 352.2L877 351.9L878 351.7L879 351.4L880 351.2L881 350.9L882 350.7L883 350.5L884 350.2L885 350L886 349.7L887 349.5L888 349.2L889 349L890 348.7" fill="none" stroke="#f08080" stroke-width="1.3"/><path d="M925 340.2L926 339.9L927 339.7L928 339.4L929 339.2L930 338.9L931 338.7L932 338.5L933 338.2L934 338L935 337.7L936 337.5L937 337.2L938 337L939 336.7L940 336.5L941 336.2L942 336L943 335.8L944 335.5L945 335.3L946 335L947 334.8L948 334.5L949 334.3L950 334L951 333.8L952 333.6L953 333.3L954 333.1L955 332.8L956 332.6L957 332.3L958 332.1L959 331.8L960 331.6L961 331.3L962 331.1L963 330.9L964 330.6L965 330.4L966 330.1L967 329.9L968 329.6L969 329.4L970 329.1L971 328.9L972 328.7L973 328.4L974 328.2L975 327.9L976 327.7L977 327.4L978 327.2L979 326.9L980 326.7L981 326.4L982 326.2L983 326L984 325.7L985 325.5L986 325.2L987 325L988 324.7L989 324.5L990 324.2L991 324L992 323.8L993 323.5L994 323.3L995 323L996 322.8L997 322.5L998 322.3L999 322L1000 321.8L1001 321.5L1002 321.3L1003 321.1L1004 320.8L1005 320.6L1006 320.3L1007 320.1L1008 319.8L1009 319.6L1010 319.3L1011 319.1L1012 318.9L1013 318.6L1014 318.4L1015 318.1L1016 317.9L1017 317.6L1018 317.4L1019 317.1L1020 316.9L1021 316.6L1022 316.4L1023 316.2L1024 315.9L1025 315.7L1026 315.4L1027 315.2L1028 314.9L1029 314.7L1030 314.4L1031 314.2L1032 314L1033 313.7L1034 313.5L1035 313.2L1036 313L1037 312.7L1038 312.5L1039 312.2L1040 312L1041 311.7L1042 311.5L1043 311.3L1044 311L1045 310.8L1046 310.5L1047 310.3L1048 310L1049 309.8L1050 309.5L1051 309.3L1052 309.1L1053 308.8L1054 308.6L1055 308.3L1056 308.1L1057 307.8L1058 307.6L1059 307.3L1060 307.1L1061 306.8L1062 306.6L1063 306.4L1064 306.1L1065 305.9L1066 305.6L1067 305.4L1068 305.1L1069 304.9L1070 304.6L1071 304.4L1072 304.2L1073 303.9L1074 303.7L1075 303.4L1076 303.2L1077 302.9L1078 302.7L1079 302.4L1080 302.2L1081 301.9L1082 301.7L1083 301.5L1084 301.2L1085 301L1086 300.7L1087 300.5L1088 300.2L1089 300L1090 299.7L1091 299.5L1092 299.3L1093 299L1094 298.8L1095 298.5L1096 298.3L1097 298L1098 297.8L1099 297.5L1100 297.3L1101 297L1102 296.8L1103 296.6L1104 296.3L1105 296.1L1106 295.8L1107 295.6L1108 295.3L1109 295.1L1110 294.8L1111 294.6L1112 294.4L1113 294.1L1114 293.9L1115 293.6L1116 293.4L1117 293.1L1118 292.9L1119 292.6L1120 292.4L1121 292.1L1122 291.9L1123 291.7L1124 291.4L1125 291.2L1126 290.9L1127 290.7L1128 290.4L1129 290.2L1130 289.9L1131 289.7L1132 289.5L1133 289.2L1134 289L1135 288.7L1136 288.5L1137 288.2L1138 288L1139 287.7L1140 287.5L1141 287.2L1142 287L1143 286.8L1144 286.5L1145 286.3L1146 286L1147 285.8L1148 285.5L1149 285.3L1150 285L1151 284.8L1152 284.6L1153 284.3L1154 284.1L1155 283.8L1156 283.6L1157 283.3L1158 283.1L1159 282.8L1160 282.6L1161 282.3L1162 282.1L1163 281.9L1164 281.6L1165 281.4L1166 281.1L1167 280.9L1168 280.6L1169 280.4L1170 280.1L1171 279.9L1172 279.7L1173 279.4L1174 279.2L1175 278.9L1176 278.7L1177 278.4L1178 278.2L1179 277.9L1180 277.7L1181 277.4L1182 277.2L1183 277L1184 276.7L1185 276.5L1186 276.2L1187 276L1188 275.7L1189 275.5L1190 275.2L1191 275L1192 274.8L1193 274.5L1194 274.3L1195 274L1196 273.8L1197 273.5L1198 273.3L1199 273L1200 272.8L1201 272.5L1202 272.3L1203 272.1L1204 271.8L1205 271.6L1206 271.3L1207 271.1L1208 270.8L1209 270.6L1210 270.3L1211 270.1L1212 269.9L1213 269.6L1214 269.4L1215 269.1L1216 268.9L1217 268.6L1218 268.4L1219 268.1L1220 267.9L1221 267.6L1222 267.4L1223 267.2L1224 266.9L1225 266.7L1226 266.4L1227 266.2L1228 265.9L1229 265.7L1230 265.4L1231 265.2L1232 265L1233 264.7L1234 264.5L1235 264.2L1236 264L1237 263.7L1238 263.5L1239 263.2L1240 263L1241 262.7L1242 262.5L1243 262.3L1244 262L1245 261.8L1246 261.5L1247 261.3L1248 261L1249 260.8L1250 260.5L1251 260.3L1252 260.1L1253 259.8L1254 259.6L1255 259.3L1256 259.1L1257 258.8L1258 258.6L1259 258.3L1260 258.1L1261 257.8L1262 257.6L1263 257.4L1264 257.1L1265 256.9L1266 256.6" fill="none" stroke="#b48ae0" stroke-width="1.5"/><line x1="893.4" y1="279.1" x2="867.9" y2="256" stroke="#b266ff" stroke-width="3.6"/><path d="M854.8 244.2L876.1 253.4L866.1 264.5Z" fill="#b266ff"/><line x1="970.7" y1="243.4" x2="985.2" y2="211.3" stroke="#007f00" stroke-width="3.6"/><path d="M992.4 195.3L990.2 218.4L976.5 212.3Z" fill="#007f00"/><line x1="1157.6" y1="222.3" x2="1171.6" y2="191" stroke="#ffff00" stroke-width="3.6"/><path d="M1178.8 174.9L1176.7 198L1163 191.9Z" fill="#ffff00"/><text x="792.3" y="223" font-size="23.35" font-weight="bold" text-anchor="start" fill="#000">711.38eV</text><text x="958.6" y="184.4" font-size="23.17" font-weight="bold" text-anchor="start" fill="#000">714.08eV</text><text x="1146.2" y="166.4" font-size="22.99" font-weight="bold" text-anchor="start" fill="#000">725.27eV</text><text x="1212.9" y="45" font-size="27.3" font-weight="bold" text-anchor="start" fill="#000">Fe 2p</text><text x="1256.3" y="428.4" font-size="43.0" font-weight="bold" text-anchor="start" fill="#000">b</text><rect x="751.6" y="8.8" width="552.9" height="445.2" fill="none" stroke="#000" stroke-width="3.2"/><line x1="782.3" y1="454" x2="782.3" y2="462.5" stroke="#000" stroke-width="3.0"/><line x1="843.8" y1="454" x2="843.8" y2="462.5" stroke="#000" stroke-width="3.0"/><line x1="905.2" y1="454" x2="905.2" y2="462.5" stroke="#000" stroke-width="3.0"/><line x1="966.6" y1="454" x2="966.6" y2="462.5" stroke="#000" stroke-width="3.0"/><line x1="1028" y1="454" x2="1028" y2="462.5" stroke="#000" stroke-width="3.0"/><line x1="1089.5" y1="454" x2="1089.5" y2="462.5" stroke="#000" stroke-width="3.0"/><line x1="1150.9" y1="454" x2="1150.9" y2="462.5" stroke="#000" stroke-width="3.0"/><line x1="1212.3" y1="454" x2="1212.3" y2="462.5" stroke="#000" stroke-width="3.0"/><line x1="1273.8" y1="454" x2="1273.8" y2="462.5" stroke="#000" stroke-width="3.0"/><line x1="751.6" y1="454" x2="751.6" y2="458.5" stroke="#000" stroke-width="3.0"/><line x1="813" y1="454" x2="813" y2="458.5" stroke="#000" stroke-width="3.0"/><line x1="874.5" y1="454" x2="874.5" y2="458.5" stroke="#000" stroke-width="3.0"/><line x1="935.9" y1="454" x2="935.9" y2="458.5" stroke="#000" stroke-width="3.0"/><line x1="997.3" y1="454" x2="997.3" y2="458.5" stroke="#000" stroke-width="3.0"/><line x1="1058.8" y1="454" x2="1058.8" y2="458.5" stroke="#000" stroke-width="3.0"/><line x1="1120.2" y1="454" x2="1120.2" y2="458.5" stroke="#000" stroke-width="3.0"/><line x1="1181.6" y1="454" x2="1181.6" y2="458.5" stroke="#000" stroke-width="3.0"/><line x1="1243.1" y1="454" x2="1243.1" y2="458.5" stroke="#000" stroke-width="3.0"/><line x1="1304.5" y1="454" x2="1304.5" y2="458.5" stroke="#000" stroke-width="3.0"/><text x="782.3" y="491.3" font-size="29.9" font-weight="bold" text-anchor="middle" fill="#000">700</text><text x="843.8" y="491.3" font-size="29.9" font-weight="bold" text-anchor="middle" fill="#000">705</text><text x="905.2" y="491.3" font-size="29.9" font-weight="bold" text-anchor="middle" fill="#000">710</text><text x="966.6" y="491.3" font-size="29.9" font-weight="bold" text-anchor="middle" fill="#000">715</text><text x="1028" y="491.3" font-size="29.9" font-weight="bold" text-anchor="middle" fill="#000">720</text><text x="1089.5" y="491.3" font-size="29.9" font-weight="bold" text-anchor="middle" fill="#000">725</text><text x="1150.9" y="491.3" font-size="29.9" font-weight="bold" text-anchor="middle" fill="#000">730</text><text x="1212.3" y="491.3" font-size="29.9" font-weight="bold" text-anchor="middle" fill="#000">735</text><text x="1273.8" y="491.3" font-size="29.9" font-weight="bold" text-anchor="middle" fill="#000">740</text><text x="1028" y="539.8" font-size="29.4" font-weight="bold" text-anchor="middle" fill="#000">Binding Energy (eV)</text><text x="0" y="0" font-size="29.4" font-weight="bold" text-anchor="middle" transform="translate(715 222.4) rotate(-90)">Intensity (a.u.)</text><path d="M1496.3 234.6L1499 171.4L1500.8 254.9L1505.3 248.1L1507.6 355.3L1510.3 274L1512.1 287.6L1514.4 266.2L1516.6 321.4L1521.1 251.5L1523.4 329.3L1526.5 249.3L1529.5 297.8L1534 249.3L1536.2 285.3L1538.5 267.3L1543 337.2L1545.3 309L1549.8 403.8L1554.3 331.6L1556.5 341.7L1560.4 249.3L1562.6 313.5L1565.1 279.7L1567.4 310.2L1569.6 276.3L1572.3 330.5L1576.8 321.4L1580.2 253.8L1580.9 302.3L1582.5 217.7L1584.7 177.1L1588.1 182.7L1590.3 164.2L1592.5 176.2L1594.7 175.3L1596.9 111.7L1599.1 156.1L1601.3 131.7L1603.5 141.2L1605.7 119.1L1607.9 145.2L1610.1 78.1L1612.3 165.5L1614.5 147.8L1616.7 91.5L1618.9 138.4L1621.1 142.2L1623.3 83.6L1625.5 167.6L1627.7 135.5L1629.9 151.5L1632.1 145L1634.3 154.8L1636.5 174.1L1638.7 177.3L1640.9 125.5L1643.1 167.6L1645.3 133.8L1647.5 136.6L1649.7 166.6L1651.9 205.4L1654.1 198.6L1656.3 159.5L1658.5 156.8L1660.7 153.8L1662.9 186L1665.1 212.9L1667.3 185.2L1669.5 208.7L1671.7 198.5L1673.9 238.5L1676.1 128L1678.3 125.7L1680.5 189L1682.7 217.1L1684.9 185L1687.1 213.3L1689.3 163.5L1691.5 162.1L1693.7 180.5L1695.9 231.2L1698.1 227.1L1700.3 182.2L1702.5 210.7L1704.7 183.9L1706.9 204.9L1709.1 168.1L1711.3 201.7L1713.5 179L1715.7 200.3L1717.9 180L1720.1 173.7L1722.3 202.3L1724.5 186.1L1726.7 195.3L1728.9 178.3L1731.1 208.2L1733.3 158.8L1735.5 205.5L1737.7 219L1739.9 160.7L1742.1 215.8L1744.3 214.6L1746.5 153.9L1748.7 88.1L1750.9 74.3L1753.1 115.4L1755.3 173.5L1757.5 131.8L1759.7 136.3L1761.9 105L1764.1 92.4L1766.3 132.8L1768.5 90.9L1770.7 125.7L1772.9 153.5L1775.1 144.5L1777.3 167.4L1779.5 144L1781.7 184.9L1783.9 185.4L1786.1 125L1788.3 147.8L1790.5 158.8L1792.7 202.9L1794.9 191.3L1797.1 190.4L1799.3 186.5L1801.5 201L1803.7 210.5L1805.9 162.3L1808.1 129.1L1810.3 201.7L1812.5 174.4L1814.7 183.8L1816.9 178.2L1819.1 149.7L1821.3 138.6L1823.5 219.3L1825.7 224.8L1827.9 220.8L1830.1 198.9L1832.3 202L1834.5 181.1L1836.7 197.9L1838.9 184L1841.1 180.6L1843.3 205.7L1845.5 254.6L1847.7 141.1L1849.9 221.7L1852.1 225.2L1854.3 165.8L1856.5 215.8L1858.7 210.1L1860.9 193.1L1863.1 193.2L1865.3 165.2L1867.5 266L1869.7 287.9L1871.9 265L1874.1 206.5L1876.3 226.2L1878.5 230.3L1880.7 193.2L1882.9 211.5L1885.1 237.1L1887.3 206.3L1889.5 162.8L1891.7 177.7L1893.9 225.5L1896.1 205.6L1898.3 206L1900.5 258.3L1902.7 217.1L1904.9 191.1L1907.1 211.6L1909.3 282.3L1911.5 176.8L1913.7 269.5L1915.9 257.8L1918.1 205.3L1920.3 198.2L1922.5 252.7L1924.7 213.7L1926.9 188.1L1929.1 263.8L1931.3 214.4L1933.5 224.4L1935.7 220L1938.6 313.8" fill="none" stroke="#555555" stroke-width="2.2" stroke-linejoin="round"/><path d="M1496 231.6L1497 231.7L1498 231.9L1499 232.1L1500 232.2L1501 232.4L1502 232.5L1503 232.7L1504 232.8L1505 232.9L1506 233.1L1507 233.2L1508 233.4L1509 233.5L1510 233.7L1511 233.8L1512 234L1513 234.1L1514 234.2L1515 234.4L1516 234.5L1517 234.6L1518 234.8L1519 234.9L1520 235L1521 235.2L1522 235.3L1523 235.4L1524 235.5L1525 235.6L1526 235.8L1527 235.9L1528 236L1529 236.1L1530 236.2L1531 236.3L1532 236.4L1533 236.5L1534 236.6L1535 236.7L1536 236.8L1537 236.9L1538 237L1539 237.1L1540 237.2L1541 237.2L1542 237.3L1543 237.4L1544 237.4L1545 237.5L1546 237.5L1547 237.6L1548 237.6L1549 237.7L1550 237.7L1551 237.7L1552 237.7L1553 237.8L1554 237.8L1555 237.7L1556 237.7L1557 237.7L1558 237.7L1559 237.6L1560 237.5L1561 237.4L1562 237.3L1563 237.2L1564 237.1L1565 236.9L1566 236.7L1567 236.4L1568 236.1L1569 235.8L1570 235.4L1571 234.9L1572 234.4L1573 233.8L1574 233.1L1575 232.3L1576 231.4L1577 230.3L1578 229.1L1579 227.8L1580 226.2L1581 224.5L1582 222.5L1583 220.4L1584 218L1585 215.3L1586 212.4L1587 209.2L1588 205.7L1589 201.9L1590 197.9L1591 193.5L1592 188.9L1593 184.1L1594 179L1595 173.7L1596 168.2L1597 162.6L1598 156.9L1599 151.2L1600 145.6L1601 140.1L1602 134.8L1603 129.8L1604 125.3L1605 121.3L1606 118L1607 115.4L1608 113.6L1609 112.6L1610 112.6L1611 113.4L1612 115.1L1613 117.5L1614 120.6L1615 124.3L1616 128.5L1617 133.1L1618 137.8L1619 142.8L1620 147.8L1621 152.7L1622 157.6L1623 162.3L1624 166.9L1625 171.2L1626 175.2L1627 178.8L1628 182.2L1629 185.2L1630 187.9L1631 190.2L1632 192.2L1633 193.8L1634 195.1L1635 196.1L1636 196.7L1637 197.1L1638 197.2L1639 197.1L1640 196.7L1641 196.1L1642 195.4L1643 194.5L1644 193.4L1645 192.3L1646 191.1L1647 189.8L1648 188.5L1649 187.2L1650 185.9L1651 184.7L1652 183.5L1653 182.4L1654 181.5L1655 180.7L1656 180L1657 179.6L1658 179.3L1659 179.3L1660 179.4L1661 179.8L1662 180.4L1663 181.1L1664 182.1L1665 183.3L1666 184.7L1667 186.2L1668 187.9L1669 189.7L1670 191.6L1671 193.6L1672 195.6L1673 197.8L1674 199.9L1675 202.1L1676 204.3L1677 206.5L1678 208.7L1679 210.8L1680 213L1681 215L1682 217.1L1683 219L1684 221L1685 222.8L1686 224.6L1687 226.3L1688 227.9L1689 229.4L1690 230.8L1691 232.2L1692 233.5L1693 234.7L1694 235.8L1695 236.8L1696 237.7L1697 238.6L1698 239.3L1699 240L1700 240.6L1701 241.1L1702 241.5L1703 241.9L1704 242.2L1705 242.4L1706 242.5L1707 242.5L1708 242.5L1709 242.4L1710 242.2L1711 241.9L1712 241.6L1713 241.2L1714 240.7L1715 240.1L1716 239.4L1717 238.7L1718 237.8L1719 236.9L1720 235.8L1721 234.7L1722 233.5L1723 232.1L1724 230.6L1725 229L1726 227.3L1727 225.5L1728 223.5L1729 221.4L1730 219.1L1731 216.7L1732 214.1L1733 211.4L1734 208.5L1735 205.5L1736 202.2L1737 198.8L1738 195.3L1739 191.6L1740 187.7L1741 183.7L1742 179.5L1743 175.2L1744 170.8L1745 166.3L1746 161.8L1747 157.3L1748 152.7L1749 148.3L1750 144L1751 139.9L1752 136L1753 132.5L1754 129.3L1755 126.6L1756 124.4L1757 122.7L1758 121.6L1759 121.1L1760 121.3L1761 122.2L1762 123.8L1763 126L1764 128.7L1765 131.9L1766 135.5L1767 139.3L1768 143.3L1769 147.5L1770 151.6L1771 155.8L1772 159.8L1773 163.7L1774 167.5L1775 171L1776 174.3L1777 177.4L1778 180.2L1779 182.8L1780 185.1L1781 187.1L1782 188.8L1783 190.3L1784 191.6L1785 192.5L1786 193.2L1787 193.7L1788 194L1789 194L1790 193.8L1791 193.4L1792 192.9L1793 192.1L1794 191.3L1795 190.3L1796 189.2L1797 188L1798 186.8L1799 185.5L1800 184.3L1801 183.1L1802 182L1803 181L1804 180.1L1805 179.5L1806 179L1807 178.8L1808 178.8L1809 179.1L1810 179.7L1811 180.6L1812 181.8L1813 183.3L1814 185L1815 187L1816 189.3L1817 191.8L1818 194.4L1819 197.2L1820 200.2L1821 203.2L1822 206.4L1823 209.6L1824 212.8L1825 216.1L1826 219.4L1827 222.6L1828 225.8L1829 229L1830 232.1L1831 235.2L1832 238.1L1833 241L1834 243.9L1835 246.6L1836 249.2L1837 251.8L1838 254.2L1839 256.6L1840 258.9L1841 261L1842 263.1L1843 265.1L1844 267L1845 268.8L1846 270.5L1847 272.1L1848 273.7L1849 275.2L1850 276.6L1851 277.9L1852 279.2L1853 280.4L1854 281.5L1855 282.6L1856 283.6L1857 284.6L1858 285.5L1859 286.3L1860 287.2L1861 288L1862 288.7L1863 289.4L1864 290.1L1865 290.8L1866 291.4L1867 292L1868 292.6L1869 293.2L1870 293.7L1871 294.2L1872 294.8L1873 295.2L1874 295.7L1875 296.2L1876 296.6L1877 297.1L1878 297.5L1879 297.9L1880 298.3L1881 298.7L1882 299.1L1883 299.5L1884 299.9L1885 300.2L1886 300.6L1887 301L1888 301.3L1889 301.6L1890 302L1891 302.3L1892 302.7L1893 303L1894 303.3L1895 303.6L1896 303.9L1897 304.3L1898 304.6L1899 304.9L1900 305.2L1901 305.5L1902 305.8L1903 306.1L1904 306.3L1905 306.6L1906 306.9L1907 307.2L1908 307.5L1909 307.8L1910 308L1911 308.3L1912 308.6L1913 308.8L1914 309.1L1915 309.4L1916 309.6L1917 309.9L1918 310.2L1919 310.4L1920 310.7L1921 310.9L1922 311.2L1923 311.5L1924 311.7L1925 312L1926 312.2L1927 312.5L1928 312.7L1929 312.9L1930 313.2L1931 313.4L1932 313.7L1933 313.9L1934 314.2L1935 314.4L1936 314.6L1937 314.9L1938 315.1L1938 318.7L1937 318.5L1936 318.3L1935 318.1L1934 317.9L1933 317.7L1932 317.5L1931 317.4L1930 317.2L1929 317L1928 316.8L1927 316.6L1926 316.4L1925 316.2L1924 316L1923 315.8L1922 315.6L1921 315.5L1920 315.3L1919 315.1L1918 314.9L1917 314.7L1916 314.5L1915 314.3L1914 314.1L1913 313.9L1912 313.7L1911 313.5L1910 313.4L1909 313.2L1908 313L1907 312.8L1906 312.6L1905 312.4L1904 312.2L1903 312L1902 311.8L1901 311.6L1900 311.5L1899 311.3L1898 311.1L1897 310.9L1896 310.7L1895 310.5L1894 310.3L1893 310.1L1892 309.9L1891 309.7L1890 309.6L1889 309.4L1888 309.2L1887 309L1886 308.8L1885 308.6L1884 308.4L1883 308.2L1882 308L1881 307.8L1880 307.7L1879 307.5L1878 307.3L1877 307.1L1876 306.9L1875 306.7L1874 306.5L1873 306.3L1872 306.1L1871 305.9L1870 305.7L1869 305.6L1868 305.4L1867 305.2L1866 305L1865 304.8L1864 304.6L1863 304.4L1862 304.2L1861 304L1860 303.8L1859 303.7L1858 303.5L1857 303.3L1856 303.1L1855 302.9L1854 302.7L1853 302.5L1852 302.3L1851 302.1L1850 301.9L1849 301.8L1848 301.6L1847 301.4L1846 301.2L1845 301L1844 300.8L1843 300.6L1842 300.4L1841 300.2L1840 300L1839 299.9L1838 299.7L1837 299.5L1836 299.3L1835 299.1L1834 298.9L1833 298.7L1832 298.5L1831 298.3L1830 298.1L1829 297.9L1828 297.8L1827 297.6L1826 297.4L1825 297.2L1824 297L1823 296.8L1822 296.6L1821 296.4L1820 296.2L1819 296L1818 295.9L1817 295.7L1816 295.5L1815 295.3L1814 295.1L1813 294.9L1812 294.7L1811 294.5L1810 294.3L1809 294.1L1808 294L1807 293.8L1806 293.6L1805 293.4L1804 293.2L1803 293L1802 292.8L1801 292.6L1800 292.4L1799 292.2L1798 292.1L1797 291.9L1796 291.7L1795 291.5L1794 291.3L1793 291.1L1792 290.9L1791 290.7L1790 290.5L1789 290.3L1788 290.1L1787 290L1786 289.8L1785 289.6L1784 289.4L1783 289.2L1782 289L1781 288.8L1780 288.6L1779 288.4L1778 288.2L1777 288.1L1776 287.9L1775 287.7L1774 287.5L1773 287.3L1772 287.1L1771 286.9L1770 286.7L1769 286.5L1768 286.3L1767 286.2L1766 286L1765 285.8L1764 285.6L1763 285.4L1762 285.2L1761 285L1760 284.8L1759 284.6L1758 284.4L1757 284.3L1756 284.1L1755 283.9L1754 283.7L1753 283.5L1752 283.3L1751 283.1L1750 282.9L1749 282.7L1748 282.5L1747 282.4L1746 282.2L1745 282L1744 281.8L1743 281.6L1742 281.4L1741 281.2L1740 281L1739 280.8L1738 280.6L1737 280.4L1736 280.3L1735 280.1L1734 279.9L1733 279.7L1732 279.5L1731 279.3L1730 279.1L1729 278.9L1728 278.7L1727 278.5L1726 278.4L1725 278.2L1724 278L1723 277.8L1722 277.6L1721 277.4L1720 277.2L1719 277L1718 276.8L1717 276.6L1716 276.5L1715 276.3L1714 276.1L1713 275.9L1712 275.7L1711 275.5L1710 275.3L1709 275.1L1708 274.9L1707 274.7L1706 274.6L1705 274.4L1704 274.2L1703 274L1702 273.8L1701 273.6L1700 273.4L1699 273.2L1698 273L1697 272.8L1696 272.6L1695 272.5L1694 272.3L1693 272.1L1692 271.9L1691 271.7L1690 271.5L1689 271.3L1688 271.1L1687 270.9L1686 270.7L1685 270.6L1684 270.4L1683 270.2L1682 270L1681 269.8L1680 269.6L1679 269.4L1678 269.2L1677 269L1676 268.8L1675 268.7L1674 268.5L1673 268.3L1672 268.1L1671 267.9L1670 267.7L1669 267.5L1668 267.3L1667 267.1L1666 266.9L1665 266.8L1664 266.6L1663 266.4L1662 266.2L1661 266L1660 265.8L1659 265.6L1658 265.4L1657 265.2L1656 265L1655 264.8L1654 264.7L1653 264.5L1652 264.3L1651 264.1L1650 263.9L1649 263.7L1648 263.5L1647 263.3L1646 263.1L1645 262.9L1644 262.8L1643 262.6L1642 262.4L1641 262.2L1640 262L1639 261.8L1638 261.6L1637 261.4L1636 261.2L1635 261L1634 260.9L1633 260.7L1632 260.5L1631 260.3L1630 260.1L1629 259.9L1628 259.7L1627 259.5L1626 259.3L1625 259.1L1624 259L1623 258.8L1622 258.6L1621 258.4L1620 258.2L1619 258L1618 257.8L1617 257.6L1616 257.4L1615 257.2L1614 257L1613 256.9L1612 256.7L1611 256.5L1610 256.3L1609 256.1L1608 255.9L1607 255.7L1606 255.5L1605 255.3L1604 255.1L1603 255L1602 254.8L1601 254.6L1600 254.4L1599 254.2L1598 254L1597 253.8L1596 253.6L1595 253.4L1594 253.2L1593 253.1L1592 252.9L1591 252.7L1590 252.5L1589 252.3L1588 252.1L1587 251.9L1586 251.7L1585 251.5L1584 251.3L1583 251.2L1582 251L1581 250.8L1580 250.6L1579 250.4L1578 250.2L1577 250L1576 249.8L1575 249.6L1574 249.4L1573 249.2L1572 249.1L1571 248.9L1570 248.7L1569 248.5L1568 248.3L1567 248.1L1566 247.9L1565 247.7L1564 247.5L1563 247.3L1562 247.2L1561 247L1560 246.8L1559 246.6L1558 246.4L1557 246.2L1556 246L1555 245.8L1554 245.6L1553 245.4L1552 245.3L1551 245.1L1550 244.9L1549 244.7L1548 244.5L1547 244.3L1546 244.1L1545 243.9L1544 243.7L1543 243.5L1542 243.4L1541 243.2L1540 243L1539 242.8L1538 242.6L1537 242.4L1536 242.2L1535 242L1534 241.8L1533 241.6L1532 241.4L1531 241.3L1530 241.1L1529 240.9L1528 240.7L1527 240.5L1526 240.3L1525 240.1L1524 239.9L1523 239.7L1522 239.5L1521 239.4L1520 239.2L1519 239L1518 238.8L1517 238.6L1516 238.4L1515 238.2L1514 238L1513 237.8L1512 237.6L1511 237.5L1510 237.3L1509 237.1L1508 236.9L1507 236.7L1506 236.5L1505 236.3L1504 236.1L1503 235.9L1502 235.7L1501 235.6L1500 235.4L1499 235.2L1498 235L1497 234.8L1496 234.6Z" fill="#8b0a0a" fill-opacity="0.78"/><path d="M1496 233.5L1497 233.7L1498 233.8L1499 234L1500 234.2L1501 234.3L1502 234.5L1503 234.7L1504 234.9L1505 235L1506 235.2L1507 235.3L1508 235.5L1509 235.7L1510 235.8L1511 236L1512 236.2L1513 236.3L1514 236.5L1515 236.6L1516 236.8L1517 237L1518 237.1L1519 237.3L1520 237.4L1521 237.6L1522 237.7L1523 237.9L1524 238L1525 238.2L1526 238.3L1527 238.4L1528 238.6L1529 238.7L1530 238.9L1531 239L1532 239.1L1533 239.3L1534 239.4L1535 239.5L1536 239.6L1537 239.8L1538 239.9L1539 240L1540 240.1L1541 240.2L1542 240.3L1543 240.4L1544 240.5L1545 240.6L1546 240.7L1547 240.8L1548 240.9L1549 241L1550 241L1551 241.1L1552 241.2L1553 241.2L1554 241.3L1555 241.3L1556 241.3L1557 241.3L1558 241.4L1559 241.3L1560 241.3L1561 241.3L1562 241.2L1563 241.2L1564 241.1L1565 240.9L1566 240.8L1567 240.6L1568 240.4L1569 240.1L1570 239.8L1571 239.4L1572 238.9L1573 238.4L1574 237.8L1575 237L1576 236.2L1577 235.2L1578 234.1L1579 232.8L1580 231.3L1581 229.7L1582 227.9L1583 225.8L1584 223.5L1585 220.9L1586 218.1L1587 215L1588 211.6L1589 208L1590 204L1591 199.8L1592 195.4L1593 190.6L1594 185.7L1595 180.6L1596 175.2L1597 169.8L1598 164.3L1599 158.8L1600 153.4L1601 148.1L1602 143.1L1603 138.4L1604 134.1L1605 130.4L1606 127.4L1607 125.1L1608 123.7L1609 123.1L1610 123.5L1611 124.8L1612 127L1613 129.9L1614 133.6L1615 137.9L1616 142.7L1617 148L1618 153.5L1619 159.2L1620 165.1L1621 171L1622 176.8L1623 182.6L1624 188.2L1625 193.7L1626 198.9L1627 203.9L1628 208.7L1629 213.1L1630 217.3L1631 221.3L1632 224.9L1633 228.3L1634 231.4L1635 234.2L1636 236.8L1637 239.2L1638 241.3L1639 243.3L1640 245L1641 246.6L1642 248L1643 249.4L1644 250.5L1645 251.6L1646 252.6L1647 253.5L1648 254.3L1649 255L1650 255.7L1651 256.3L1652 256.9L1653 257.5L1654 258L1655 258.5L1656 259L1657 259.4L1658 259.8L1659 260.2L1660 260.6L1661 261L1662 261.4L1663 261.7L1664 262.1L1665 262.4L1666 262.8L1667 263.1L1668 263.4L1669 263.7L1670 264L1671 264.3L1672 264.6L1673 264.9L1674 265.2L1675 265.5L1676 265.8L1677 266.1L1678 266.3L1679 266.6L1680 266.9L1681 267.1L1682 267.4L1683 267.6L1684 267.9L1685 268.1L1686 268.4L1687 268.6L1688 268.9L1689 269.1L1690 269.4L1691 269.6L1692 269.9L1693 270.1L1694 270.3L1695 270.6L1696 270.8L1697 271L1698 271.3L1699 271.5L1700 271.7L1701 271.9L1702 272.2L1703 272.4L1704 272.6L1705 272.8L1706 273.1L1707 273.3L1708 273.5L1709 273.7L1710 273.9L1711 274.1L1712 274.4L1713 274.6L1714 274.8L1715 275L1716 275.2L1717 275.4L1718 275.6L1719 275.9L1720 276.1L1721 276.3L1722 276.5L1723 276.7L1724 276.9L1725 277.1L1726 277.3L1727 277.5L1728 277.7L1729 277.9L1730 278.1L1731 278.4L1732 278.6L1733 278.8L1734 279L1735 279.2L1736 279.4L1737 279.6L1738 279.8L1739 280L1740 280.2L1741 280.4L1742 280.6L1743 280.8L1744 281L1745 281.2L1746 281.4L1747 281.6L1748 281.8L1749 282L1750 282.2L1751 282.4L1752 282.6L1753 282.8L1754 283L1755 283.2L1756 283.4L1757 283.6L1758 283.8L1759 284L1760 284.2L1761 284.4L1762 284.6L1763 284.8L1764 285L1765 285.2L1766 285.4L1767 285.6L1768 285.8L1769 286L1770 286.2L1771 286.4L1772 286.6L1773 286.8L1774 287L1775 287.2L1776 287.4L1777 287.6L1778 287.7L1779 287.9L1780 288.1L1781 288.3L1782 288.5L1783 288.7L1784 288.9L1785 289.1L1786 289.3L1787 289.5L1788 289.7L1789 289.9L1790 290.1L1791 290.3L1792 290.5L1793 290.7L1794 290.9L1795 291.1L1796 291.3L1797 291.5L1798 291.7L1799 291.8L1800 292L1801 292.2L1802 292.4L1803 292.6L1804 292.8L1805 293L1806 293.2L1807 293.4L1808 293.6L1809 293.8L1810 294L1811 294.2L1812 294.4L1813 294.6L1814 294.8L1815 294.9L1816 295.1L1817 295.3L1818 295.5L1819 295.7L1820 295.9L1821 296.1L1822 296.3L1823 296.5L1824 296.7L1825 296.9L1826 297.1L1827 297.3L1828 297.5L1829 297.7L1830 297.8L1831 298L1832 298.2L1833 298.4L1834 298.6L1835 298.8L1836 299L1837 299.2L1838 299.4L1839 299.6L1840 299.8L1841 300L1842 300.2L1843 300.4L1844 300.5L1845 300.7L1846 300.9L1847 301.1L1848 301.3L1849 301.5L1850 301.7L1851 301.9L1852 302.1L1853 302.3L1854 302.5L1855 302.7L1856 302.9L1857 303L1858 303.2L1859 303.4L1860 303.6L1861 303.8L1862 304L1863 304.2L1864 304.4L1865 304.6L1866 304.8L1867 305L1868 305.2L1869 305.3L1870 305.5L1871 305.7L1872 305.9L1873 306.1L1874 306.3L1875 306.5L1876 306.7L1877 306.9L1878 307.1L1879 307.3L1880 307.5L1881 307.6L1882 307.8L1883 308L1884 308.2L1885 308.4L1886 308.6L1887 308.8L1888 309L1889 309.2L1890 309.4L1891 309.6L1892 309.8L1893 309.9L1894 310.1L1895 310.3L1896 310.5L1897 310.7L1898 310.9L1899 311.1L1900 311.3L1901 311.5L1902 311.7L1903 311.9L1904 312.1L1905 312.2L1906 312.4L1907 312.6L1908 312.8L1909 313L1910 313.2L1911 313.4L1912 313.6L1913 313.8L1914 314L1915 314.2L1916 314.3L1917 314.5L1918 314.7L1919 314.9L1920 315.1L1921 315.3L1922 315.5L1923 315.7L1924 315.9L1925 316.1L1926 316.3L1927 316.5L1928 316.6L1929 316.8L1930 317L1931 317.2L1932 317.4L1933 317.6L1934 317.8L1935 318L1936 318.2L1937 318.4L1938 318.6L1938 318.7L1937 318.5L1936 318.3L1935 318.1L1934 317.9L1933 317.7L1932 317.5L1931 317.4L1930 317.2L1929 317L1928 316.8L1927 316.6L1926 316.4L1925 316.2L1924 316L1923 315.8L1922 315.6L1921 315.5L1920 315.3L1919 315.1L1918 314.9L1917 314.7L1916 314.5L1915 314.3L1914 314.1L1913 313.9L1912 313.7L1911 313.5L1910 313.4L1909 313.2L1908 313L1907 312.8L1906 312.6L1905 312.4L1904 312.2L1903 312L1902 311.8L1901 311.6L1900 311.5L1899 311.3L1898 311.1L1897 310.9L1896 310.7L1895 310.5L1894 310.3L1893 310.1L1892 309.9L1891 309.7L1890 309.6L1889 309.4L1888 309.2L1887 309L1886 308.8L1885 308.6L1884 308.4L1883 308.2L1882 308L1881 307.8L1880 307.7L1879 307.5L1878 307.3L1877 307.1L1876 306.9L1875 306.7L1874 306.5L1873 306.3L1872 306.1L1871 305.9L1870 305.7L1869 305.6L1868 305.4L1867 305.2L1866 305L1865 304.8L1864 304.6L1863 304.4L1862 304.2L1861 304L1860 303.8L1859 303.7L1858 303.5L1857 303.3L1856 303.1L1855 302.9L1854 302.7L1853 302.5L1852 302.3L1851 302.1L1850 301.9L1849 301.8L1848 301.6L1847 301.4L1846 301.2L1845 301L1844 300.8L1843 300.6L1842 300.4L1841 300.2L1840 300L1839 299.9L1838 299.7L1837 299.5L1836 299.3L1835 299.1L1834 298.9L1833 298.7L1832 298.5L1831 298.3L1830 298.1L1829 297.9L1828 297.8L1827 297.6L1826 297.4L1825 297.2L1824 297L1823 296.8L1822 296.6L1821 296.4L1820 296.2L1819 296L1818 295.9L1817 295.7L1816 295.5L1815 295.3L1814 295.1L1813 294.9L1812 294.7L1811 294.5L1810 294.3L1809 294.1L1808 294L1807 293.8L1806 293.6L1805 293.4L1804 293.2L1803 293L1802 292.8L1801 292.6L1800 292.4L1799 292.2L1798 292.1L1797 291.9L1796 291.7L1795 291.5L1794 291.3L1793 291.1L1792 290.9L1791 290.7L1790 290.5L1789 290.3L1788 290.1L1787 290L1786 289.8L1785 289.6L1784 289.4L1783 289.2L1782 289L1781 288.8L1780 288.6L1779 288.4L1778 288.2L1777 288.1L1776 287.9L1775 287.7L1774 287.5L1773 287.3L1772 287.1L1771 286.9L1770 286.7L1769 286.5L1768 286.3L1767 286.2L1766 286L1765 285.8L1764 285.6L1763 285.4L1762 285.2L1761 285L1760 284.8L1759 284.6L1758 284.4L1757 284.3L1756 284.1L1755 283.9L1754 283.7L1753 283.5L1752 283.3L1751 283.1L1750 282.9L1749 282.7L1748 282.5L1747 282.4L1746 282.2L1745 282L1744 281.8L1743 281.6L1742 281.4L1741 281.2L1740 281L1739 280.8L1738 280.6L1737 280.4L1736 280.3L1735 280.1L1734 279.9L1733 279.7L1732 279.5L1731 279.3L1730 279.1L1729 278.9L1728 278.7L1727 278.5L1726 278.4L1725 278.2L1724 278L1723 277.8L1722 277.6L1721 277.4L1720 277.2L1719 277L1718 276.8L1717 276.6L1716 276.5L1715 276.3L1714 276.1L1713 275.9L1712 275.7L1711 275.5L1710 275.3L1709 275.1L1708 274.9L1707 274.7L1706 274.6L1705 274.4L1704 274.2L1703 274L1702 273.8L1701 273.6L1700 273.4L1699 273.2L1698 273L1697 272.8L1696 272.6L1695 272.5L1694 272.3L1693 272.1L1692 271.9L1691 271.7L1690 271.5L1689 271.3L1688 271.1L1687 270.9L1686 270.7L1685 270.6L1684 270.4L1683 270.2L1682 270L1681 269.8L1680 269.6L1679 269.4L1678 269.2L1677 269L1676 268.8L1675 268.7L1674 268.5L1673 268.3L1672 268.1L1671 267.9L1670 267.7L1669 267.5L1668 267.3L1667 267.1L1666 266.9L1665 266.8L1664 266.6L1663 266.4L1662 266.2L1661 266L1660 265.8L1659 265.6L1658 265.4L1657 265.2L1656 265L1655 264.8L1654 264.7L1653 264.5L1652 264.3L1651 264.1L1650 263.9L1649 263.7L1648 263.5L1647 263.3L1646 263.1L1645 262.9L1644 262.8L1643 262.6L1642 262.4L1641 262.2L1640 262L1639 261.8L1638 261.6L1637 261.4L1636 261.2L1635 261L1634 260.9L1633 260.7L1632 260.5L1631 260.3L1630 260.1L1629 259.9L1628 259.7L1627 259.5L1626 259.3L1625 259.1L1624 259L1623 258.8L1622 258.6L1621 258.4L1620 258.2L1619 258L1618 257.8L1617 257.6L1616 257.4L1615 257.2L1614 257L1613 256.9L1612 256.7L1611 256.5L1610 256.3L1609 256.1L1608 255.9L1607 255.7L1606 255.5L1605 255.3L1604 255.1L1603 255L1602 254.8L1601 254.6L1600 254.4L1599 254.2L1598 254L1597 253.8L1596 253.6L1595 253.4L1594 253.2L1593 253.1L1592 252.9L1591 252.7L1590 252.5L1589 252.3L1588 252.1L1587 251.9L1586 251.7L1585 251.5L1584 251.3L1583 251.2L1582 251L1581 250.8L1580 250.6L1579 250.4L1578 250.2L1577 250L1576 249.8L1575 249.6L1574 249.4L1573 249.2L1572 249.1L1571 248.9L1570 248.7L1569 248.5L1568 248.3L1567 248.1L1566 247.9L1565 247.7L1564 247.5L1563 247.3L1562 247.2L1561 247L1560 246.8L1559 246.6L1558 246.4L1557 246.2L1556 246L1555 245.8L1554 245.6L1553 245.4L1552 245.3L1551 245.1L1550 244.9L1549 244.7L1548 244.5L1547 244.3L1546 244.1L1545 243.9L1544 243.7L1543 243.5L1542 243.4L1541 243.2L1540 243L1539 242.8L1538 242.6L1537 242.4L1536 242.2L1535 242L1534 241.8L1533 241.6L1532 241.4L1531 241.3L1530 241.1L1529 240.9L1528 240.7L1527 240.5L1526 240.3L1525 240.1L1524 239.9L1523 239.7L1522 239.5L1521 239.4L1520 239.2L1519 239L1518 238.8L1517 238.6L1516 238.4L1515 238.2L1514 238L1513 237.8L1512 237.6L1511 237.5L1510 237.3L1509 237.1L1508 236.9L1507 236.7L1506 236.5L1505 236.3L1504 236.1L1503 235.9L1502 235.7L1501 235.6L1500 235.4L1499 235.2L1498 235L1497 234.8L1496 234.6Z" fill="#6b6b00"/><path d="M1496 234L1497 234.1L1498 234.3L1499 234.5L1500 234.7L1501 234.9L1502 235.1L1503 235.2L1504 235.4L1505 235.6L1506 235.8L1507 236L1508 236.1L1509 236.3L1510 236.5L1511 236.7L1512 236.9L1513 237L1514 237.2L1515 237.4L1516 237.6L1517 237.8L1518 237.9L1519 238.1L1520 238.3L1521 238.5L1522 238.6L1523 238.8L1524 239L1525 239.2L1526 239.4L1527 239.5L1528 239.7L1529 239.9L1530 240.1L1531 240.2L1532 240.4L1533 240.6L1534 240.8L1535 240.9L1536 241.1L1537 241.3L1538 241.5L1539 241.6L1540 241.8L1541 242L1542 242.1L1543 242.3L1544 242.5L1545 242.6L1546 242.8L1547 243L1548 243.1L1549 243.3L1550 243.5L1551 243.6L1552 243.8L1553 244L1554 244.1L1555 244.3L1556 244.5L1557 244.6L1558 244.8L1559 244.9L1560 245.1L1561 245.3L1562 245.4L1563 245.6L1564 245.7L1565 245.9L1566 246L1567 246.2L1568 246.3L1569 246.5L1570 246.6L1571 246.8L1572 246.9L1573 247.1L1574 247.2L1575 247.4L1576 247.5L1577 247.6L1578 247.8L1579 247.9L1580 248L1581 248.2L1582 248.3L1583 248.4L1584 248.5L1585 248.7L1586 248.8L1587 248.9L1588 249L1589 249.1L1590 249.2L1591 249.3L1592 249.4L1593 249.4L1594 249.5L1595 249.6L1596 249.6L1597 249.7L1598 249.7L1599 249.8L1600 249.8L1601 249.8L1602 249.8L1603 249.7L1604 249.7L1605 249.6L1606 249.5L1607 249.4L1608 249.3L1609 249.1L1610 249L1611 248.7L1612 248.5L1613 248.2L1614 247.9L1615 247.5L1616 247.1L1617 246.6L1618 246.1L1619 245.6L1620 244.9L1621 244.3L1622 243.5L1623 242.8L1624 241.9L1625 241L1626 240L1627 238.9L1628 237.8L1629 236.6L1630 235.3L1631 234L1632 232.6L1633 231.1L1634 229.5L1635 227.9L1636 226.3L1637 224.5L1638 222.7L1639 220.9L1640 219.1L1641 217.2L1642 215.2L1643 213.3L1644 211.4L1645 209.4L1646 207.5L1647 205.6L1648 203.8L1649 202L1650 200.4L1651 198.8L1652 197.3L1653 196L1654 194.8L1655 193.9L1656 193.1L1657 192.5L1658 192.1L1659 191.9L1660 192L1661 192.3L1662 192.8L1663 193.6L1664 194.6L1665 195.8L1666 197.1L1667 198.7L1668 200.4L1669 202.2L1670 204.2L1671 206.2L1672 208.4L1673 210.6L1674 212.8L1675 215.1L1676 217.4L1677 219.8L1678 222.1L1679 224.4L1680 226.7L1681 228.9L1682 231.1L1683 233.3L1684 235.4L1685 237.4L1686 239.4L1687 241.4L1688 243.2L1689 245L1690 246.7L1691 248.4L1692 250L1693 251.5L1694 252.9L1695 254.3L1696 255.6L1697 256.8L1698 258L1699 259.1L1700 260.2L1701 261.2L1702 262.1L1703 263L1704 263.8L1705 264.6L1706 265.4L1707 266.1L1708 266.7L1709 267.4L1710 268L1711 268.5L1712 269.1L1713 269.6L1714 270.1L1715 270.5L1716 271L1717 271.4L1718 271.8L1719 272.2L1720 272.6L1721 273L1722 273.3L1723 273.7L1724 274L1725 274.3L1726 274.6L1727 274.9L1728 275.2L1729 275.5L1730 275.8L1731 276.1L1732 276.4L1733 276.7L1734 276.9L1735 277.2L1736 277.5L1737 277.7L1738 278L1739 278.2L1740 278.5L1741 278.7L1742 279L1743 279.2L1744 279.5L1745 279.7L1746 279.9L1747 280.2L1748 280.4L1749 280.7L1750 280.9L1751 281.1L1752 281.3L1753 281.6L1754 281.8L1755 282L1756 282.3L1757 282.5L1758 282.7L1759 282.9L1760 283.2L1761 283.4L1762 283.6L1763 283.8L1764 284L1765 284.3L1766 284.5L1767 284.7L1768 284.9L1769 285.1L1770 285.3L1771 285.5L1772 285.8L1773 286L1774 286.2L1775 286.4L1776 286.6L1777 286.8L1778 287L1779 287.2L1780 287.5L1781 287.7L1782 287.9L1783 288.1L1784 288.3L1785 288.5L1786 288.7L1787 288.9L1788 289.1L1789 289.3L1790 289.5L1791 289.7L1792 289.9L1793 290.1L1794 290.3L1795 290.5L1796 290.7L1797 291L1798 291.2L1799 291.4L1800 291.6L1801 291.8L1802 292L1803 292.2L1804 292.4L1805 292.6L1806 292.8L1807 293L1808 293.2L1809 293.4L1810 293.6L1811 293.8L1812 294L1813 294.2L1814 294.4L1815 294.6L1816 294.8L1817 295L1818 295.2L1819 295.4L1820 295.6L1821 295.8L1822 296L1823 296.2L1824 296.4L1825 296.6L1826 296.8L1827 297L1828 297.1L1829 297.3L1830 297.5L1831 297.7L1832 297.9L1833 298.1L1834 298.3L1835 298.5L1836 298.7L1837 298.9L1838 299.1L1839 299.3L1840 299.5L1841 299.7L1842 299.9L1843 300.1L1844 300.3L1845 300.5L1846 300.7L1847 300.9L1848 301.1L1849 301.3L1850 301.5L1851 301.7L1852 301.9L1853 302.1L1854 302.2L1855 302.4L1856 302.6L1857 302.8L1858 303L1859 303.2L1860 303.4L1861 303.6L1862 303.8L1863 304L1864 304.2L1865 304.4L1866 304.6L1867 304.8L1868 305L1869 305.2L1870 305.4L1871 305.5L1872 305.7L1873 305.9L1874 306.1L1875 306.3L1876 306.5L1877 306.7L1878 306.9L1879 307.1L1880 307.3L1881 307.5L1882 307.7L1883 307.9L1884 308.1L1885 308.3L1886 308.5L1887 308.6L1888 308.8L1889 309L1890 309.2L1891 309.4L1892 309.6L1893 309.8L1894 310L1895 310.2L1896 310.4L1897 310.6L1898 310.8L1899 311L1900 311.2L1901 311.3L1902 311.5L1903 311.7L1904 311.9L1905 312.1L1906 312.3L1907 312.5L1908 312.7L1909 312.9L1910 313.1L1911 313.3L1912 313.5L1913 313.7L1914 313.9L1915 314L1916 314.2L1917 314.4L1918 314.6L1919 314.8L1920 315L1921 315.2L1922 315.4L1923 315.6L1924 315.8L1925 316L1926 316.2L1927 316.3L1928 316.5L1929 316.7L1930 316.9L1931 317.1L1932 317.3L1933 317.5L1934 317.7L1935 317.9L1936 318.1L1937 318.3L1938 318.5L1938 318.7L1937 318.5L1936 318.3L1935 318.1L1934 317.9L1933 317.7L1932 317.5L1931 317.4L1930 317.2L1929 317L1928 316.8L1927 316.6L1926 316.4L1925 316.2L1924 316L1923 315.8L1922 315.6L1921 315.5L1920 315.3L1919 315.1L1918 314.9L1917 314.7L1916 314.5L1915 314.3L1914 314.1L1913 313.9L1912 313.7L1911 313.5L1910 313.4L1909 313.2L1908 313L1907 312.8L1906 312.6L1905 312.4L1904 312.2L1903 312L1902 311.8L1901 311.6L1900 311.5L1899 311.3L1898 311.1L1897 310.9L1896 310.7L1895 310.5L1894 310.3L1893 310.1L1892 309.9L1891 309.7L1890 309.6L1889 309.4L1888 309.2L1887 309L1886 308.8L1885 308.6L1884 308.4L1883 308.2L1882 308L1881 307.8L1880 307.7L1879 307.5L1878 307.3L1877 307.1L1876 306.9L1875 306.7L1874 306.5L1873 306.3L1872 306.1L1871 305.9L1870 305.7L1869 305.6L1868 305.4L1867 305.2L1866 305L1865 304.8L1864 304.6L1863 304.4L1862 304.2L1861 304L1860 303.8L1859 303.7L1858 303.5L1857 303.3L1856 303.1L1855 302.9L1854 302.7L1853 302.5L1852 302.3L1851 302.1L1850 301.9L1849 301.8L1848 301.6L1847 301.4L1846 301.2L1845 301L1844 300.8L1843 300.6L1842 300.4L1841 300.2L1840 300L1839 299.9L1838 299.7L1837 299.5L1836 299.3L1835 299.1L1834 298.9L1833 298.7L1832 298.5L1831 298.3L1830 298.1L1829 297.9L1828 297.8L1827 297.6L1826 297.4L1825 297.2L1824 297L1823 296.8L1822 296.6L1821 296.4L1820 296.2L1819 296L1818 295.9L1817 295.7L1816 295.5L1815 295.3L1814 295.1L1813 294.9L1812 294.7L1811 294.5L1810 294.3L1809 294.1L1808 294L1807 293.8L1806 293.6L1805 293.4L1804 293.2L1803 293L1802 292.8L1801 292.6L1800 292.4L1799 292.2L1798 292.1L1797 291.9L1796 291.7L1795 291.5L1794 291.3L1793 291.1L1792 290.9L1791 290.7L1790 290.5L1789 290.3L1788 290.1L1787 290L1786 289.8L1785 289.6L1784 289.4L1783 289.2L1782 289L1781 288.8L1780 288.6L1779 288.4L1778 288.2L1777 288.1L1776 287.9L1775 287.7L1774 287.5L1773 287.3L1772 287.1L1771 286.9L1770 286.7L1769 286.5L1768 286.3L1767 286.2L1766 286L1765 285.8L1764 285.6L1763 285.4L1762 285.2L1761 285L1760 284.8L1759 284.6L1758 284.4L1757 284.3L1756 284.1L1755 283.9L1754 283.7L1753 283.5L1752 283.3L1751 283.1L1750 282.9L1749 282.7L1748 282.5L1747 282.4L1746 282.2L1745 282L1744 281.8L1743 281.6L1742 281.4L1741 281.2L1740 281L1739 280.8L1738 280.6L1737 280.4L1736 280.3L1735 280.1L1734 279.9L1733 279.7L1732 279.5L1731 279.3L1730 279.1L1729 278.9L1728 278.7L1727 278.5L1726 278.4L1725 278.2L1724 278L1723 277.8L1722 277.6L1721 277.4L1720 277.2L1719 277L1718 276.8L1717 276.6L1716 276.5L1715 276.3L1714 276.1L1713 275.9L1712 275.7L1711 275.5L1710 275.3L1709 275.1L1708 274.9L1707 274.7L1706 274.6L1705 274.4L1704 274.2L1703 274L1702 273.8L1701 273.6L1700 273.4L1699 273.2L1698 273L1697 272.8L1696 272.6L1695 272.5L1694 272.3L1693 272.1L1692 271.9L1691 271.7L1690 271.5L1689 271.3L1688 271.1L1687 270.9L1686 270.7L1685 270.6L1684 270.4L1683 270.2L1682 270L1681 269.8L1680 269.6L1679 269.4L1678 269.2L1677 269L1676 268.8L1675 268.7L1674 268.5L1673 268.3L1672 268.1L1671 267.9L1670 267.7L1669 267.5L1668 267.3L1667 267.1L1666 266.9L1665 266.8L1664 266.6L1663 266.4L1662 266.2L1661 266L1660 265.8L1659 265.6L1658 265.4L1657 265.2L1656 265L1655 264.8L1654 264.7L1653 264.5L1652 264.3L1651 264.1L1650 263.9L1649 263.7L1648 263.5L1647 263.3L1646 263.1L1645 262.9L1644 262.8L1643 262.6L1642 262.4L1641 262.2L1640 262L1639 261.8L1638 261.6L1637 261.4L1636 261.2L1635 261L1634 260.9L1633 260.7L1632 260.5L1631 260.3L1630 260.1L1629 259.9L1628 259.7L1627 259.5L1626 259.3L1625 259.1L1624 259L1623 258.8L1622 258.6L1621 258.4L1620 258.2L1619 258L1618 257.8L1617 257.6L1616 257.4L1615 257.2L1614 257L1613 256.9L1612 256.7L1611 256.5L1610 256.3L1609 256.1L1608 255.9L1607 255.7L1606 255.5L1605 255.3L1604 255.1L1603 255L1602 254.8L1601 254.6L1600 254.4L1599 254.2L1598 254L1597 253.8L1596 253.6L1595 253.4L1594 253.2L1593 253.1L1592 252.9L1591 252.7L1590 252.5L1589 252.3L1588 252.1L1587 251.9L1586 251.7L1585 251.5L1584 251.3L1583 251.2L1582 251L1581 250.8L1580 250.6L1579 250.4L1578 250.2L1577 250L1576 249.8L1575 249.6L1574 249.4L1573 249.2L1572 249.1L1571 248.9L1570 248.7L1569 248.5L1568 248.3L1567 248.1L1566 247.9L1565 247.7L1564 247.5L1563 247.3L1562 247.2L1561 247L1560 246.8L1559 246.6L1558 246.4L1557 246.2L1556 246L1555 245.8L1554 245.6L1553 245.4L1552 245.3L1551 245.1L1550 244.9L1549 244.7L1548 244.5L1547 244.3L1546 244.1L1545 243.9L1544 243.7L1543 243.5L1542 243.4L1541 243.2L1540 243L1539 242.8L1538 242.6L1537 242.4L1536 242.2L1535 242L1534 241.8L1533 241.6L1532 241.4L1531 241.3L1530 241.1L1529 240.9L1528 240.7L1527 240.5L1526 240.3L1525 240.1L1524 239.9L1523 239.7L1522 239.5L1521 239.4L1520 239.2L1519 239L1518 238.8L1517 238.6L1516 238.4L1515 238.2L1514 238L1513 237.8L1512 237.6L1511 237.5L1510 237.3L1509 237.1L1508 236.9L1507 236.7L1506 236.5L1505 236.3L1504 236.1L1503 235.9L1502 235.7L1501 235.6L1500 235.4L1499 235.2L1498 235L1497 234.8L1496 234.6Z" fill="#6b6464"/><path d="M1496 233.8L1497 234L1498 234.2L1499 234.4L1500 234.6L1501 234.7L1502 234.9L1503 235.1L1504 235.3L1505 235.5L1506 235.7L1507 235.8L1508 236L1509 236.2L1510 236.4L1511 236.6L1512 236.8L1513 236.9L1514 237.1L1515 237.3L1516 237.5L1517 237.7L1518 237.9L1519 238L1520 238.2L1521 238.4L1522 238.6L1523 238.8L1524 238.9L1525 239.1L1526 239.3L1527 239.5L1528 239.7L1529 239.9L1530 240L1531 240.2L1532 240.4L1533 240.6L1534 240.8L1535 240.9L1536 241.1L1537 241.3L1538 241.5L1539 241.7L1540 241.8L1541 242L1542 242.2L1543 242.4L1544 242.6L1545 242.7L1546 242.9L1547 243.1L1548 243.3L1549 243.5L1550 243.6L1551 243.8L1552 244L1553 244.2L1554 244.3L1555 244.5L1556 244.7L1557 244.9L1558 245.1L1559 245.2L1560 245.4L1561 245.6L1562 245.8L1563 245.9L1564 246.1L1565 246.3L1566 246.5L1567 246.6L1568 246.8L1569 247L1570 247.2L1571 247.3L1572 247.5L1573 247.7L1574 247.9L1575 248L1576 248.2L1577 248.4L1578 248.6L1579 248.7L1580 248.9L1581 249.1L1582 249.2L1583 249.4L1584 249.6L1585 249.8L1586 249.9L1587 250.1L1588 250.3L1589 250.4L1590 250.6L1591 250.8L1592 250.9L1593 251.1L1594 251.3L1595 251.4L1596 251.6L1597 251.8L1598 251.9L1599 252.1L1600 252.3L1601 252.4L1602 252.6L1603 252.8L1604 252.9L1605 253.1L1606 253.2L1607 253.4L1608 253.6L1609 253.7L1610 253.9L1611 254L1612 254.2L1613 254.3L1614 254.5L1615 254.7L1616 254.8L1617 255L1618 255.1L1619 255.3L1620 255.4L1621 255.6L1622 255.7L1623 255.9L1624 256L1625 256.2L1626 256.3L1627 256.5L1628 256.6L1629 256.7L1630 256.9L1631 257L1632 257.2L1633 257.3L1634 257.5L1635 257.6L1636 257.7L1637 257.9L1638 258L1639 258.1L1640 258.2L1641 258.4L1642 258.5L1643 258.6L1644 258.8L1645 258.9L1646 259L1647 259.1L1648 259.2L1649 259.3L1650 259.5L1651 259.6L1652 259.7L1653 259.8L1654 259.9L1655 260L1656 260.1L1657 260.2L1658 260.3L1659 260.4L1660 260.5L1661 260.5L1662 260.6L1663 260.7L1664 260.8L1665 260.9L1666 260.9L1667 261L1668 261L1669 261.1L1670 261.2L1671 261.2L1672 261.2L1673 261.3L1674 261.3L1675 261.3L1676 261.4L1677 261.4L1678 261.4L1679 261.4L1680 261.4L1681 261.4L1682 261.4L1683 261.4L1684 261.3L1685 261.3L1686 261.2L1687 261.2L1688 261.1L1689 261L1690 261L1691 260.9L1692 260.8L1693 260.6L1694 260.5L1695 260.3L1696 260.2L1697 260L1698 259.8L1699 259.6L1700 259.3L1701 259.1L1702 258.8L1703 258.5L1704 258.2L1705 257.8L1706 257.4L1707 257L1708 256.5L1709 256L1710 255.5L1711 254.9L1712 254.3L1713 253.6L1714 252.9L1715 252.1L1716 251.2L1717 250.3L1718 249.4L1719 248.3L1720 247.2L1721 245.9L1722 244.6L1723 243.2L1724 241.7L1725 240.1L1726 238.4L1727 236.6L1728 234.6L1729 232.5L1730 230.3L1731 227.9L1732 225.4L1733 222.8L1734 220L1735 217L1736 213.9L1737 210.6L1738 207.2L1739 203.6L1740 199.9L1741 196L1742 192L1743 187.9L1744 183.7L1745 179.5L1746 175.2L1747 170.9L1748 166.6L1749 162.5L1750 158.5L1751 154.7L1752 151.2L1753 148L1754 145.2L1755 142.9L1756 141.1L1757 139.9L1758 139.2L1759 139.2L1760 140L1761 141.5L1762 143.6L1763 146.5L1764 149.9L1765 153.8L1766 158.2L1767 162.8L1768 167.7L1769 172.7L1770 177.9L1771 183L1772 188.1L1773 193.2L1774 198.1L1775 202.9L1776 207.6L1777 212.1L1778 216.4L1779 220.5L1780 224.4L1781 228.1L1782 231.6L1783 235L1784 238.2L1785 241.1L1786 244L1787 246.6L1788 249.1L1789 251.5L1790 253.7L1791 255.8L1792 257.8L1793 259.6L1794 261.4L1795 263L1796 264.6L1797 266L1798 267.4L1799 268.7L1800 269.9L1801 271.1L1802 272.2L1803 273.2L1804 274.2L1805 275.1L1806 276L1807 276.9L1808 277.7L1809 278.5L1810 279.2L1811 280L1812 280.6L1813 281.3L1814 281.9L1815 282.6L1816 283.2L1817 283.7L1818 284.3L1819 284.8L1820 285.4L1821 285.9L1822 286.4L1823 286.8L1824 287.3L1825 287.8L1826 288.2L1827 288.7L1828 289.1L1829 289.5L1830 289.9L1831 290.3L1832 290.7L1833 291.1L1834 291.5L1835 291.9L1836 292.2L1837 292.6L1838 292.9L1839 293.3L1840 293.6L1841 294L1842 294.3L1843 294.6L1844 294.9L1845 295.3L1846 295.6L1847 295.9L1848 296.2L1849 296.5L1850 296.8L1851 297.1L1852 297.4L1853 297.7L1854 298L1855 298.3L1856 298.5L1857 298.8L1858 299.1L1859 299.4L1860 299.6L1861 299.9L1862 300.2L1863 300.4L1864 300.7L1865 301L1866 301.2L1867 301.5L1868 301.7L1869 302L1870 302.2L1871 302.5L1872 302.7L1873 303L1874 303.2L1875 303.5L1876 303.7L1877 304L1878 304.2L1879 304.4L1880 304.7L1881 304.9L1882 305.2L1883 305.4L1884 305.6L1885 305.9L1886 306.1L1887 306.3L1888 306.6L1889 306.8L1890 307L1891 307.2L1892 307.5L1893 307.7L1894 307.9L1895 308.1L1896 308.4L1897 308.6L1898 308.8L1899 309L1900 309.3L1901 309.5L1902 309.7L1903 309.9L1904 310.1L1905 310.4L1906 310.6L1907 310.8L1908 311L1909 311.2L1910 311.4L1911 311.7L1912 311.9L1913 312.1L1914 312.3L1915 312.5L1916 312.7L1917 312.9L1918 313.1L1919 313.4L1920 313.6L1921 313.8L1922 314L1923 314.2L1924 314.4L1925 314.6L1926 314.8L1927 315L1928 315.2L1929 315.5L1930 315.7L1931 315.9L1932 316.1L1933 316.3L1934 316.5L1935 316.7L1936 316.9L1937 317.1L1938 317.3L1938 318.7L1937 318.5L1936 318.3L1935 318.1L1934 317.9L1933 317.7L1932 317.5L1931 317.4L1930 317.2L1929 317L1928 316.8L1927 316.6L1926 316.4L1925 316.2L1924 316L1923 315.8L1922 315.6L1921 315.5L1920 315.3L1919 315.1L1918 314.9L1917 314.7L1916 314.5L1915 314.3L1914 314.1L1913 313.9L1912 313.7L1911 313.5L1910 313.4L1909 313.2L1908 313L1907 312.8L1906 312.6L1905 312.4L1904 312.2L1903 312L1902 311.8L1901 311.6L1900 311.5L1899 311.3L1898 311.1L1897 310.9L1896 310.7L1895 310.5L1894 310.3L1893 310.1L1892 309.9L1891 309.7L1890 309.6L1889 309.4L1888 309.2L1887 309L1886 308.8L1885 308.6L1884 308.4L1883 308.2L1882 308L1881 307.8L1880 307.7L1879 307.5L1878 307.3L1877 307.1L1876 306.9L1875 306.7L1874 306.5L1873 306.3L1872 306.1L1871 305.9L1870 305.7L1869 305.6L1868 305.4L1867 305.2L1866 305L1865 304.8L1864 304.6L1863 304.4L1862 304.2L1861 304L1860 303.8L1859 303.7L1858 303.5L1857 303.3L1856 303.1L1855 302.9L1854 302.7L1853 302.5L1852 302.3L1851 302.1L1850 301.9L1849 301.8L1848 301.6L1847 301.4L1846 301.2L1845 301L1844 300.8L1843 300.6L1842 300.4L1841 300.2L1840 300L1839 299.9L1838 299.7L1837 299.5L1836 299.3L1835 299.1L1834 298.9L1833 298.7L1832 298.5L1831 298.3L1830 298.1L1829 297.9L1828 297.8L1827 297.6L1826 297.4L1825 297.2L1824 297L1823 296.8L1822 296.6L1821 296.4L1820 296.2L1819 296L1818 295.9L1817 295.7L1816 295.5L1815 295.3L1814 295.1L1813 294.9L1812 294.7L1811 294.5L1810 294.3L1809 294.1L1808 294L1807 293.8L1806 293.6L1805 293.4L1804 293.2L1803 293L1802 292.8L1801 292.6L1800 292.4L1799 292.2L1798 292.1L1797 291.9L1796 291.7L1795 291.5L1794 291.3L1793 291.1L1792 290.9L1791 290.7L1790 290.5L1789 290.3L1788 290.1L1787 290L1786 289.8L1785 289.6L1784 289.4L1783 289.2L1782 289L1781 288.8L1780 288.6L1779 288.4L1778 288.2L1777 288.1L1776 287.9L1775 287.7L1774 287.5L1773 287.3L1772 287.1L1771 286.9L1770 286.7L1769 286.5L1768 286.3L1767 286.2L1766 286L1765 285.8L1764 285.6L1763 285.4L1762 285.2L1761 285L1760 284.8L1759 284.6L1758 284.4L1757 284.3L1756 284.1L1755 283.9L1754 283.7L1753 283.5L1752 283.3L1751 283.1L1750 282.9L1749 282.7L1748 282.5L1747 282.4L1746 282.2L1745 282L1744 281.8L1743 281.6L1742 281.4L1741 281.2L1740 281L1739 280.8L1738 280.6L1737 280.4L1736 280.3L1735 280.1L1734 279.9L1733 279.7L1732 279.5L1731 279.3L1730 279.1L1729 278.9L1728 278.7L1727 278.5L1726 278.4L1725 278.2L1724 278L1723 277.8L1722 277.6L1721 277.4L1720 277.2L1719 277L1718 276.8L1717 276.6L1716 276.5L1715 276.3L1714 276.1L1713 275.9L1712 275.7L1711 275.5L1710 275.3L1709 275.1L1708 274.9L1707 274.7L1706 274.6L1705 274.4L1704 274.2L1703 274L1702 273.8L1701 273.6L1700 273.4L1699 273.2L1698 273L1697 272.8L1696 272.6L1695 272.5L1694 272.3L1693 272.1L1692 271.9L1691 271.7L1690 271.5L1689 271.3L1688 271.1L1687 270.9L1686 270.7L1685 270.6L1684 270.4L1683 270.2L1682 270L1681 269.8L1680 269.6L1679 269.4L1678 269.2L1677 269L1676 268.8L1675 268.7L1674 268.5L1673 268.3L1672 268.1L1671 267.9L1670 267.7L1669 267.5L1668 267.3L1667 267.1L1666 266.9L1665 266.8L1664 266.6L1663 266.4L1662 266.2L1661 266L1660 265.8L1659 265.6L1658 265.4L1657 265.2L1656 265L1655 264.8L1654 264.7L1653 264.5L1652 264.3L1651 264.1L1650 263.9L1649 263.7L1648 263.5L1647 263.3L1646 263.1L1645 262.9L1644 262.8L1643 262.6L1642 262.4L1641 262.2L1640 262L1639 261.8L1638 261.6L1637 261.4L1636 261.2L1635 261L1634 260.9L1633 260.7L1632 260.5L1631 260.3L1630 260.1L1629 259.9L1628 259.7L1627 259.5L1626 259.3L1625 259.1L1624 259L1623 258.8L1622 258.6L1621 258.4L1620 258.2L1619 258L1618 257.8L1617 257.6L1616 257.4L1615 257.2L1614 257L1613 256.9L1612 256.7L1611 256.5L1610 256.3L1609 256.1L1608 255.9L1607 255.7L1606 255.5L1605 255.3L1604 255.1L1603 255L1602 254.8L1601 254.6L1600 254.4L1599 254.2L1598 254L1597 253.8L1596 253.6L1595 253.4L1594 253.2L1593 253.1L1592 252.9L1591 252.7L1590 252.5L1589 252.3L1588 252.1L1587 251.9L1586 251.7L1585 251.5L1584 251.3L1583 251.2L1582 251L1581 250.8L1580 250.6L1579 250.4L1578 250.2L1577 250L1576 249.8L1575 249.6L1574 249.4L1573 249.2L1572 249.1L1571 248.9L1570 248.7L1569 248.5L1568 248.3L1567 248.1L1566 247.9L1565 247.7L1564 247.5L1563 247.3L1562 247.2L1561 247L1560 246.8L1559 246.6L1558 246.4L1557 246.2L1556 246L1555 245.8L1554 245.6L1553 245.4L1552 245.3L1551 245.1L1550 244.9L1549 244.7L1548 244.5L1547 244.3L1546 244.1L1545 243.9L1544 243.7L1543 243.5L1542 243.4L1541 243.2L1540 243L1539 242.8L1538 242.6L1537 242.4L1536 242.2L1535 242L1534 241.8L1533 241.6L1532 241.4L1531 241.3L1530 241.1L1529 240.9L1528 240.7L1527 240.5L1526 240.3L1525 240.1L1524 239.9L1523 239.7L1522 239.5L1521 239.4L1520 239.2L1519 239L1518 238.8L1517 238.6L1516 238.4L1515 238.2L1514 238L1513 237.8L1512 237.6L1511 237.5L1510 237.3L1509 237.1L1508 236.9L1507 236.7L1506 236.5L1505 236.3L1504 236.1L1503 235.9L1502 235.7L1501 235.6L1500 235.4L1499 235.2L1498 235L1497 234.8L1496 234.6Z" fill="#d63e9a"/><path d="M1496 234.1L1497 234.3L1498 234.5L1499 234.7L1500 234.9L1501 235L1502 235.2L1503 235.4L1504 235.6L1505 235.8L1506 236L1507 236.2L1508 236.4L1509 236.5L1510 236.7L1511 236.9L1512 237.1L1513 237.3L1514 237.5L1515 237.7L1516 237.9L1517 238L1518 238.2L1519 238.4L1520 238.6L1521 238.8L1522 239L1523 239.2L1524 239.3L1525 239.5L1526 239.7L1527 239.9L1528 240.1L1529 240.3L1530 240.5L1531 240.6L1532 240.8L1533 241L1534 241.2L1535 241.4L1536 241.6L1537 241.8L1538 241.9L1539 242.1L1540 242.3L1541 242.5L1542 242.7L1543 242.9L1544 243.1L1545 243.2L1546 243.4L1547 243.6L1548 243.8L1549 244L1550 244.2L1551 244.4L1552 244.5L1553 244.7L1554 244.9L1555 245.1L1556 245.3L1557 245.5L1558 245.6L1559 245.8L1560 246L1561 246.2L1562 246.4L1563 246.6L1564 246.7L1565 246.9L1566 247.1L1567 247.3L1568 247.5L1569 247.7L1570 247.8L1571 248L1572 248.2L1573 248.4L1574 248.6L1575 248.8L1576 248.9L1577 249.1L1578 249.3L1579 249.5L1580 249.7L1581 249.9L1582 250L1583 250.2L1584 250.4L1585 250.6L1586 250.8L1587 251L1588 251.1L1589 251.3L1590 251.5L1591 251.7L1592 251.9L1593 252L1594 252.2L1595 252.4L1596 252.6L1597 252.8L1598 252.9L1599 253.1L1600 253.3L1601 253.5L1602 253.7L1603 253.8L1604 254L1605 254.2L1606 254.4L1607 254.6L1608 254.7L1609 254.9L1610 255.1L1611 255.3L1612 255.5L1613 255.6L1614 255.8L1615 256L1616 256.2L1617 256.3L1618 256.5L1619 256.7L1620 256.9L1621 257.1L1622 257.2L1623 257.4L1624 257.6L1625 257.8L1626 257.9L1627 258.1L1628 258.3L1629 258.5L1630 258.6L1631 258.8L1632 259L1633 259.2L1634 259.3L1635 259.5L1636 259.7L1637 259.8L1638 260L1639 260.2L1640 260.4L1641 260.5L1642 260.7L1643 260.9L1644 261L1645 261.2L1646 261.4L1647 261.6L1648 261.7L1649 261.9L1650 262.1L1651 262.2L1652 262.4L1653 262.6L1654 262.7L1655 262.9L1656 263.1L1657 263.2L1658 263.4L1659 263.5L1660 263.7L1661 263.9L1662 264L1663 264.2L1664 264.4L1665 264.5L1666 264.7L1667 264.8L1668 265L1669 265.2L1670 265.3L1671 265.5L1672 265.6L1673 265.8L1674 265.9L1675 266.1L1676 266.2L1677 266.4L1678 266.5L1679 266.7L1680 266.8L1681 267L1682 267.1L1683 267.3L1684 267.4L1685 267.6L1686 267.7L1687 267.9L1688 268L1689 268.2L1690 268.3L1691 268.4L1692 268.6L1693 268.7L1694 268.8L1695 269L1696 269.1L1697 269.2L1698 269.4L1699 269.5L1700 269.6L1701 269.7L1702 269.9L1703 270L1704 270.1L1705 270.2L1706 270.3L1707 270.4L1708 270.5L1709 270.7L1710 270.8L1711 270.9L1712 271L1713 271.1L1714 271.2L1715 271.2L1716 271.3L1717 271.4L1718 271.5L1719 271.6L1720 271.7L1721 271.7L1722 271.8L1723 271.9L1724 271.9L1725 272L1726 272L1727 272.1L1728 272.1L1729 272.2L1730 272.2L1731 272.2L1732 272.3L1733 272.3L1734 272.3L1735 272.3L1736 272.3L1737 272.3L1738 272.2L1739 272.2L1740 272.2L1741 272.1L1742 272.1L1743 272L1744 271.9L1745 271.8L1746 271.7L1747 271.6L1748 271.5L1749 271.4L1750 271.2L1751 271L1752 270.8L1753 270.6L1754 270.4L1755 270.1L1756 269.8L1757 269.5L1758 269.2L1759 268.8L1760 268.4L1761 268L1762 267.6L1763 267.1L1764 266.5L1765 266L1766 265.3L1767 264.7L1768 264L1769 263.2L1770 262.4L1771 261.6L1772 260.7L1773 259.7L1774 258.6L1775 257.5L1776 256.4L1777 255.1L1778 253.8L1779 252.4L1780 251L1781 249.5L1782 247.8L1783 246.1L1784 244.4L1785 242.5L1786 240.6L1787 238.6L1788 236.5L1789 234.3L1790 232L1791 229.7L1792 227.4L1793 225L1794 222.5L1795 220.1L1796 217.6L1797 215.2L1798 212.7L1799 210.4L1800 208.1L1801 205.9L1802 203.9L1803 202L1804 200.3L1805 198.9L1806 197.7L1807 196.8L1808 196.2L1809 195.9L1810 195.9L1811 196.3L1812 197L1813 198L1814 199.2L1815 200.8L1816 202.7L1817 204.7L1818 207L1819 209.5L1820 212.1L1821 214.8L1822 217.6L1823 220.5L1824 223.5L1825 226.5L1826 229.4L1827 232.4L1828 235.4L1829 238.3L1830 241.2L1831 244L1832 246.8L1833 249.5L1834 252.1L1835 254.7L1836 257.1L1837 259.5L1838 261.8L1839 264L1840 266.1L1841 268.1L1842 270L1843 271.9L1844 273.6L1845 275.3L1846 276.9L1847 278.4L1848 279.8L1849 281.2L1850 282.4L1851 283.7L1852 284.8L1853 285.9L1854 286.9L1855 287.9L1856 288.8L1857 289.7L1858 290.5L1859 291.3L1860 292L1861 292.8L1862 293.4L1863 294.1L1864 294.7L1865 295.3L1866 295.8L1867 296.4L1868 296.9L1869 297.4L1870 297.8L1871 298.3L1872 298.7L1873 299.2L1874 299.6L1875 300L1876 300.4L1877 300.7L1878 301.1L1879 301.5L1880 301.8L1881 302.2L1882 302.5L1883 302.9L1884 303.2L1885 303.5L1886 303.8L1887 304.1L1888 304.4L1889 304.7L1890 305L1891 305.3L1892 305.6L1893 305.9L1894 306.2L1895 306.5L1896 306.8L1897 307L1898 307.3L1899 307.6L1900 307.8L1901 308.1L1902 308.4L1903 308.6L1904 308.9L1905 309.1L1906 309.4L1907 309.6L1908 309.9L1909 310.1L1910 310.4L1911 310.6L1912 310.9L1913 311.1L1914 311.4L1915 311.6L1916 311.8L1917 312.1L1918 312.3L1919 312.6L1920 312.8L1921 313L1922 313.3L1923 313.5L1924 313.7L1925 313.9L1926 314.2L1927 314.4L1928 314.6L1929 314.8L1930 315.1L1931 315.3L1932 315.5L1933 315.7L1934 316L1935 316.2L1936 316.4L1937 316.6L1938 316.8L1938 318.7L1937 318.5L1936 318.3L1935 318.1L1934 317.9L1933 317.7L1932 317.5L1931 317.4L1930 317.2L1929 317L1928 316.8L1927 316.6L1926 316.4L1925 316.2L1924 316L1923 315.8L1922 315.6L1921 315.5L1920 315.3L1919 315.1L1918 314.9L1917 314.7L1916 314.5L1915 314.3L1914 314.1L1913 313.9L1912 313.7L1911 313.5L1910 313.4L1909 313.2L1908 313L1907 312.8L1906 312.6L1905 312.4L1904 312.2L1903 312L1902 311.8L1901 311.6L1900 311.5L1899 311.3L1898 311.1L1897 310.9L1896 310.7L1895 310.5L1894 310.3L1893 310.1L1892 309.9L1891 309.7L1890 309.6L1889 309.4L1888 309.2L1887 309L1886 308.8L1885 308.6L1884 308.4L1883 308.2L1882 308L1881 307.8L1880 307.7L1879 307.5L1878 307.3L1877 307.1L1876 306.9L1875 306.7L1874 306.5L1873 306.3L1872 306.1L1871 305.9L1870 305.7L1869 305.6L1868 305.4L1867 305.2L1866 305L1865 304.8L1864 304.6L1863 304.4L1862 304.2L1861 304L1860 303.8L1859 303.7L1858 303.5L1857 303.3L1856 303.1L1855 302.9L1854 302.7L1853 302.5L1852 302.3L1851 302.1L1850 301.9L1849 301.8L1848 301.6L1847 301.4L1846 301.2L1845 301L1844 300.8L1843 300.6L1842 300.4L1841 300.2L1840 300L1839 299.9L1838 299.7L1837 299.5L1836 299.3L1835 299.1L1834 298.9L1833 298.7L1832 298.5L1831 298.3L1830 298.1L1829 297.9L1828 297.8L1827 297.6L1826 297.4L1825 297.2L1824 297L1823 296.8L1822 296.6L1821 296.4L1820 296.2L1819 296L1818 295.9L1817 295.7L1816 295.5L1815 295.3L1814 295.1L1813 294.9L1812 294.7L1811 294.5L1810 294.3L1809 294.1L1808 294L1807 293.8L1806 293.6L1805 293.4L1804 293.2L1803 293L1802 292.8L1801 292.6L1800 292.4L1799 292.2L1798 292.1L1797 291.9L1796 291.7L1795 291.5L1794 291.3L1793 291.1L1792 290.9L1791 290.7L1790 290.5L1789 290.3L1788 290.1L1787 290L1786 289.8L1785 289.6L1784 289.4L1783 289.2L1782 289L1781 288.8L1780 288.6L1779 288.4L1778 288.2L1777 288.1L1776 287.9L1775 287.7L1774 287.5L1773 287.3L1772 287.1L1771 286.9L1770 286.7L1769 286.5L1768 286.3L1767 286.2L1766 286L1765 285.8L1764 285.6L1763 285.4L1762 285.2L1761 285L1760 284.8L1759 284.6L1758 284.4L1757 284.3L1756 284.1L1755 283.9L1754 283.7L1753 283.5L1752 283.3L1751 283.1L1750 282.9L1749 282.7L1748 282.5L1747 282.4L1746 282.2L1745 282L1744 281.8L1743 281.6L1742 281.4L1741 281.2L1740 281L1739 280.8L1738 280.6L1737 280.4L1736 280.3L1735 280.1L1734 279.9L1733 279.7L1732 279.5L1731 279.3L1730 279.1L1729 278.9L1728 278.7L1727 278.5L1726 278.4L1725 278.2L1724 278L1723 277.8L1722 277.6L1721 277.4L1720 277.2L1719 277L1718 276.8L1717 276.6L1716 276.5L1715 276.3L1714 276.1L1713 275.9L1712 275.7L1711 275.5L1710 275.3L1709 275.1L1708 274.9L1707 274.7L1706 274.6L1705 274.4L1704 274.2L1703 274L1702 273.8L1701 273.6L1700 273.4L1699 273.2L1698 273L1697 272.8L1696 272.6L1695 272.5L1694 272.3L1693 272.1L1692 271.9L1691 271.7L1690 271.5L1689 271.3L1688 271.1L1687 270.9L1686 270.7L1685 270.6L1684 270.4L1683 270.2L1682 270L1681 269.8L1680 269.6L1679 269.4L1678 269.2L1677 269L1676 268.8L1675 268.7L1674 268.5L1673 268.3L1672 268.1L1671 267.9L1670 267.7L1669 267.5L1668 267.3L1667 267.1L1666 266.9L1665 266.8L1664 266.6L1663 266.4L1662 266.2L1661 266L1660 265.8L1659 265.6L1658 265.4L1657 265.2L1656 265L1655 264.8L1654 264.7L1653 264.5L1652 264.3L1651 264.1L1650 263.9L1649 263.7L1648 263.5L1647 263.3L1646 263.1L1645 262.9L1644 262.8L1643 262.6L1642 262.4L1641 262.2L1640 262L1639 261.8L1638 261.6L1637 261.4L1636 261.2L1635 261L1634 260.9L1633 260.7L1632 260.5L1631 260.3L1630 260.1L1629 259.9L1628 259.7L1627 259.5L1626 259.3L1625 259.1L1624 259L1623 258.8L1622 258.6L1621 258.4L1620 258.2L1619 258L1618 257.8L1617 257.6L1616 257.4L1615 257.2L1614 257L1613 256.9L1612 256.7L1611 256.5L1610 256.3L1609 256.1L1608 255.9L1607 255.7L1606 255.5L1605 255.3L1604 255.1L1603 255L1602 254.8L1601 254.6L1600 254.4L1599 254.2L1598 254L1597 253.8L1596 253.6L1595 253.4L1594 253.2L1593 253.1L1592 252.9L1591 252.7L1590 252.5L1589 252.3L1588 252.1L1587 251.9L1586 251.7L1585 251.5L1584 251.3L1583 251.2L1582 251L1581 250.8L1580 250.6L1579 250.4L1578 250.2L1577 250L1576 249.8L1575 249.6L1574 249.4L1573 249.2L1572 249.1L1571 248.9L1570 248.7L1569 248.5L1568 248.3L1567 248.1L1566 247.9L1565 247.7L1564 247.5L1563 247.3L1562 247.2L1561 247L1560 246.8L1559 246.6L1558 246.4L1557 246.2L1556 246L1555 245.8L1554 245.6L1553 245.4L1552 245.3L1551 245.1L1550 244.9L1549 244.7L1548 244.5L1547 244.3L1546 244.1L1545 243.9L1544 243.7L1543 243.5L1542 243.4L1541 243.2L1540 243L1539 242.8L1538 242.6L1537 242.4L1536 242.2L1535 242L1534 241.8L1533 241.6L1532 241.4L1531 241.3L1530 241.1L1529 240.9L1528 240.7L1527 240.5L1526 240.3L1525 240.1L1524 239.9L1523 239.7L1522 239.5L1521 239.4L1520 239.2L1519 239L1518 238.8L1517 238.6L1516 238.4L1515 238.2L1514 238L1513 237.8L1512 237.6L1511 237.5L1510 237.3L1509 237.1L1508 236.9L1507 236.7L1506 236.5L1505 236.3L1504 236.1L1503 235.9L1502 235.7L1501 235.6L1500 235.4L1499 235.2L1498 235L1497 234.8L1496 234.6Z" fill="#c86400"/><path d="M1496 231.6L1497 231.7L1498 231.9L1499 232.1L1500 232.2L1501 232.4L1502 232.5L1503 232.7L1504 232.8L1505 232.9L1506 233.1L1507 233.2L1508 233.4L1509 233.5L1510 233.7L1511 233.8L1512 234L1513 234.1L1514 234.2L1515 234.4L1516 234.5L1517 234.6L1518 234.8L1519 234.9L1520 235L1521 235.2L1522 235.3L1523 235.4L1524 235.5L1525 235.6L1526 235.8L1527 235.9L1528 236L1529 236.1L1530 236.2L1531 236.3L1532 236.4L1533 236.5L1534 236.6L1535 236.7L1536 236.8L1537 236.9L1538 237L1539 237.1L1540 237.2L1541 237.2L1542 237.3L1543 237.4L1544 237.4L1545 237.5L1546 237.5L1547 237.6L1548 237.6L1549 237.7L1550 237.7L1551 237.7L1552 237.7L1553 237.8L1554 237.8L1555 237.7L1556 237.7L1557 237.7L1558 237.7L1559 237.6L1560 237.5L1561 237.4L1562 237.3L1563 237.2L1564 237.1L1565 236.9L1566 236.7L1567 236.4L1568 236.1L1569 235.8L1570 235.4L1571 234.9L1572 234.4L1573 233.8L1574 233.1L1575 232.3L1576 231.4L1577 230.3L1578 229.1L1579 227.8L1580 226.2L1581 224.5L1582 222.5L1583 220.4L1584 218L1585 215.3L1586 212.4L1587 209.2L1588 205.7L1589 201.9L1590 197.9L1591 193.5L1592 188.9L1593 184.1L1594 179L1595 173.7L1596 168.2L1597 162.6L1598 156.9L1599 151.2L1600 145.6L1601 140.1L1602 134.8L1603 129.8L1604 125.3L1605 121.3L1606 118L1607 115.4L1608 113.6L1609 112.6L1610 112.6L1611 113.4L1612 115.1L1613 117.5L1614 120.6L1615 124.3L1616 128.5L1617 133.1L1618 137.8L1619 142.8L1620 147.8L1621 152.7L1622 157.6L1623 162.3L1624 166.9L1625 171.2L1626 175.2L1627 178.8L1628 182.2L1629 185.2L1630 187.9L1631 190.2L1632 192.2L1633 193.8L1634 195.1L1635 196.1L1636 196.7L1637 197.1L1638 197.2L1639 197.1L1640 196.7L1641 196.1L1642 195.4L1643 194.5L1644 193.4L1645 192.3L1646 191.1L1647 189.8L1648 188.5L1649 187.2L1650 185.9L1651 184.7L1652 183.5L1653 182.4L1654 181.5L1655 180.7L1656 180L1657 179.6L1658 179.3L1659 179.3L1660 179.4L1661 179.8L1662 180.4L1663 181.1L1664 182.1L1665 183.3L1666 184.7L1667 186.2L1668 187.9L1669 189.7L1670 191.6L1671 193.6L1672 195.6L1673 197.8L1674 199.9L1675 202.1L1676 204.3L1677 206.5L1678 208.7L1679 210.8L1680 213L1681 215L1682 217.1L1683 219L1684 221L1685 222.8L1686 224.6L1687 226.3L1688 227.9L1689 229.4L1690 230.8L1691 232.2L1692 233.5L1693 234.7L1694 235.8L1695 236.8L1696 237.7L1697 238.6L1698 239.3L1699 240L1700 240.6L1701 241.1L1702 241.5L1703 241.9L1704 242.2L1705 242.4L1706 242.5L1707 242.5L1708 242.5L1709 242.4L1710 242.2L1711 241.9L1712 241.6L1713 241.2L1714 240.7L1715 240.1L1716 239.4L1717 238.7L1718 237.8L1719 236.9L1720 235.8L1721 234.7L1722 233.5L1723 232.1L1724 230.6L1725 229L1726 227.3L1727 225.5L1728 223.5L1729 221.4L1730 219.1L1731 216.7L1732 214.1L1733 211.4L1734 208.5L1735 205.5L1736 202.2L1737 198.8L1738 195.3L1739 191.6L1740 187.7L1741 183.7L1742 179.5L1743 175.2L1744 170.8L1745 166.3L1746 161.8L1747 157.3L1748 152.7L1749 148.3L1750 144L1751 139.9L1752 136L1753 132.5L1754 129.3L1755 126.6L1756 124.4L1757 122.7L1758 121.6L1759 121.1L1760 121.3L1761 122.2L1762 123.8L1763 126L1764 128.7L1765 131.9L1766 135.5L1767 139.3L1768 143.3L1769 147.5L1770 151.6L1771 155.8L1772 159.8L1773 163.7L1774 167.5L1775 171L1776 174.3L1777 177.4L1778 180.2L1779 182.8L1780 185.1L1781 187.1L1782 188.8L1783 190.3L1784 191.6L1785 192.5L1786 193.2L1787 193.7L1788 194L1789 194L1790 193.8L1791 193.4L1792 192.9L1793 192.1L1794 191.3L1795 190.3L1796 189.2L1797 188L1798 186.8L1799 185.5L1800 184.3L1801 183.1L1802 182L1803 181L1804 180.1L1805 179.5L1806 179L1807 178.8L1808 178.8L1809 179.1L1810 179.7L1811 180.6L1812 181.8L1813 183.3L1814 185L1815 187L1816 189.3L1817 191.8L1818 194.4L1819 197.2L1820 200.2L1821 203.2L1822 206.4L1823 209.6L1824 212.8L1825 216.1L1826 219.4L1827 222.6L1828 225.8L1829 229L1830 232.1L1831 235.2L1832 238.1L1833 241L1834 243.9L1835 246.6L1836 249.2L1837 251.8L1838 254.2L1839 256.6L1840 258.9L1841 261L1842 263.1L1843 265.1L1844 267L1845 268.8L1846 270.5L1847 272.1L1848 273.7L1849 275.2L1850 276.6L1851 277.9L1852 279.2L1853 280.4L1854 281.5L1855 282.6L1856 283.6L1857 284.6L1858 285.5L1859 286.3L1860 287.2L1861 288L1862 288.7L1863 289.4L1864 290.1L1865 290.8L1866 291.4L1867 292L1868 292.6L1869 293.2L1870 293.7L1871 294.2L1872 294.8L1873 295.2L1874 295.7L1875 296.2L1876 296.6L1877 297.1L1878 297.5L1879 297.9L1880 298.3L1881 298.7L1882 299.1L1883 299.5L1884 299.9L1885 300.2L1886 300.6L1887 301L1888 301.3L1889 301.6L1890 302L1891 302.3L1892 302.7L1893 303L1894 303.3L1895 303.6L1896 303.9L1897 304.3L1898 304.6L1899 304.9L1900 305.2L1901 305.5L1902 305.8L1903 306.1L1904 306.3L1905 306.6L1906 306.9L1907 307.2L1908 307.5L1909 307.8L1910 308L1911 308.3L1912 308.6L1913 308.8L1914 309.1L1915 309.4L1916 309.6L1917 309.9L1918 310.2L1919 310.4L1920 310.7L1921 310.9L1922 311.2L1923 311.5L1924 311.7L1925 312L1926 312.2L1927 312.5L1928 312.7L1929 312.9L1930 313.2L1931 313.4L1932 313.7L1933 313.9L1934 314.2L1935 314.4L1936 314.6L1937 314.9L1938 315.1" fill="none" stroke="#e82020" stroke-width="2.8"/><path d="M1496 234.6L1497 234.8L1498 235L1499 235.2L1500 235.4L1501 235.6L1502 235.7L1503 235.9L1504 236.1L1505 236.3L1506 236.5L1507 236.7L1508 236.9L1509 237.1L1510 237.3L1511 237.5L1512 237.6L1513 237.8L1514 238L1515 238.2L1516 238.4L1517 238.6L1518 238.8L1519 239L1520 239.2L1521 239.4L1522 239.5L1523 239.7L1524 239.9L1525 240.1L1526 240.3L1527 240.5L1528 240.7L1529 240.9L1530 241.1L1531 241.3L1532 241.4L1533 241.6L1534 241.8L1535 242L1536 242.2L1537 242.4L1538 242.6L1539 242.8L1540 243L1541 243.2L1542 243.4L1543 243.5L1544 243.7L1545 243.9L1546 244.1L1547 244.3L1548 244.5L1549 244.7L1550 244.9L1551 245.1L1552 245.3L1553 245.4L1554 245.6L1555 245.8L1556 246L1557 246.2L1558 246.4L1559 246.6L1560 246.8L1561 247L1562 247.2L1563 247.3L1564 247.5L1565 247.7L1566 247.9L1567 248.1L1568 248.3L1569 248.5L1570 248.7L1571 248.9L1572 249.1L1573 249.2L1574 249.4L1575 249.6L1576 249.8L1577 250L1578 250.2L1579 250.4L1580 250.6L1581 250.8L1582 251L1583 251.2L1584 251.3L1585 251.5L1586 251.7L1587 251.9L1588 252.1L1589 252.3L1590 252.5L1591 252.7L1592 252.9L1593 253.1L1594 253.2L1595 253.4L1596 253.6L1597 253.8L1598 254L1599 254.2L1600 254.4L1601 254.6L1602 254.8L1603 255L1604 255.1L1605 255.3L1606 255.5L1607 255.7L1608 255.9L1609 256.1L1610 256.3L1611 256.5L1612 256.7L1613 256.9L1614 257L1615 257.2L1616 257.4L1617 257.6L1618 257.8L1619 258L1620 258.2L1621 258.4L1622 258.6L1623 258.8L1624 259L1625 259.1L1626 259.3L1627 259.5L1628 259.7L1629 259.9L1630 260.1L1631 260.3L1632 260.5L1633 260.7L1634 260.9L1635 261L1636 261.2L1637 261.4L1638 261.6L1639 261.8L1640 262L1641 262.2L1642 262.4L1643 262.6L1644 262.8L1645 262.9L1646 263.1L1647 263.3L1648 263.5L1649 263.7L1650 263.9L1651 264.1L1652 264.3L1653 264.5L1654 264.7L1655 264.8L1656 265L1657 265.2L1658 265.4L1659 265.6L1660 265.8L1661 266L1662 266.2L1663 266.4L1664 266.6L1665 266.8L1666 266.9L1667 267.1L1668 267.3L1669 267.5L1670 267.7L1671 267.9L1672 268.1L1673 268.3L1674 268.5L1675 268.7L1676 268.8L1677 269L1678 269.2L1679 269.4L1680 269.6L1681 269.8L1682 270L1683 270.2L1684 270.4L1685 270.6L1686 270.7L1687 270.9L1688 271.1L1689 271.3L1690 271.5L1691 271.7L1692 271.9L1693 272.1L1694 272.3L1695 272.5L1696 272.6L1697 272.8L1698 273L1699 273.2L1700 273.4L1701 273.6L1702 273.8L1703 274L1704 274.2L1705 274.4L1706 274.6L1707 274.7L1708 274.9L1709 275.1L1710 275.3L1711 275.5L1712 275.7L1713 275.9L1714 276.1L1715 276.3L1716 276.5L1717 276.6L1718 276.8L1719 277L1720 277.2L1721 277.4L1722 277.6L1723 277.8L1724 278L1725 278.2L1726 278.4L1727 278.5L1728 278.7L1729 278.9L1730 279.1L1731 279.3L1732 279.5L1733 279.7L1734 279.9L1735 280.1L1736 280.3L1737 280.4L1738 280.6L1739 280.8L1740 281L1741 281.2L1742 281.4L1743 281.6L1744 281.8L1745 282L1746 282.2L1747 282.4L1748 282.5L1749 282.7L1750 282.9L1751 283.1L1752 283.3L1753 283.5L1754 283.7L1755 283.9L1756 284.1L1757 284.3L1758 284.4L1759 284.6L1760 284.8L1761 285L1762 285.2L1763 285.4L1764 285.6L1765 285.8L1766 286L1767 286.2L1768 286.3L1769 286.5L1770 286.7L1771 286.9L1772 287.1L1773 287.3L1774 287.5L1775 287.7L1776 287.9L1777 288.1L1778 288.2L1779 288.4L1780 288.6L1781 288.8L1782 289L1783 289.2L1784 289.4L1785 289.6L1786 289.8L1787 290L1788 290.1L1789 290.3L1790 290.5L1791 290.7L1792 290.9L1793 291.1L1794 291.3L1795 291.5L1796 291.7L1797 291.9L1798 292.1L1799 292.2L1800 292.4L1801 292.6L1802 292.8L1803 293L1804 293.2L1805 293.4L1806 293.6L1807 293.8L1808 294L1809 294.1L1810 294.3L1811 294.5L1812 294.7L1813 294.9L1814 295.1L1815 295.3L1816 295.5L1817 295.7L1818 295.9L1819 296L1820 296.2L1821 296.4L1822 296.6L1823 296.8L1824 297L1825 297.2L1826 297.4L1827 297.6L1828 297.8L1829 297.9L1830 298.1L1831 298.3L1832 298.5L1833 298.7L1834 298.9L1835 299.1L1836 299.3L1837 299.5L1838 299.7L1839 299.9L1840 300L1841 300.2L1842 300.4L1843 300.6L1844 300.8L1845 301L1846 301.2L1847 301.4L1848 301.6L1849 301.8L1850 301.9L1851 302.1L1852 302.3L1853 302.5L1854 302.7L1855 302.9L1856 303.1L1857 303.3L1858 303.5L1859 303.7L1860 303.8L1861 304L1862 304.2L1863 304.4L1864 304.6L1865 304.8L1866 305L1867 305.2L1868 305.4L1869 305.6L1870 305.7L1871 305.9L1872 306.1L1873 306.3L1874 306.5L1875 306.7L1876 306.9L1877 307.1L1878 307.3L1879 307.5L1880 307.7L1881 307.8L1882 308L1883 308.2L1884 308.4L1885 308.6L1886 308.8L1887 309L1888 309.2L1889 309.4L1890 309.6L1891 309.7L1892 309.9L1893 310.1L1894 310.3L1895 310.5L1896 310.7L1897 310.9L1898 311.1L1899 311.3L1900 311.5L1901 311.6L1902 311.8L1903 312L1904 312.2L1905 312.4L1906 312.6L1907 312.8L1908 313L1909 313.2L1910 313.4L1911 313.5L1912 313.7L1913 313.9L1914 314.1L1915 314.3L1916 314.5L1917 314.7L1918 314.9L1919 315.1L1920 315.3L1921 315.5L1922 315.6L1923 315.8L1924 316L1925 316.2L1926 316.4L1927 316.6L1928 316.8L1929 317L1930 317.2L1931 317.4L1932 317.5L1933 317.7L1934 317.9L1935 318.1L1936 318.3L1937 318.5L1938 318.7" fill="none" stroke="#2aa6b4" stroke-width="3.2"/><line x1="1533.3" y1="101.5" x2="1568.3" y2="124.6" stroke="#007a00" stroke-width="3.8"/><path d="M1583 134.3L1561.1 127.6L1568.2 116.8Z" fill="#007a00"/><line x1="1690.7" y1="122.2" x2="1670.9" y2="167" stroke="#00f0f0" stroke-width="3.8"/><path d="M1663.8 183.1L1666.7 160.3L1678.6 165.6Z" fill="#00f0f0"/><line x1="1819.8" y1="91.1" x2="1799.3" y2="139.3" stroke="#ff00ff" stroke-width="3.8"/><path d="M1792.4 155.5L1795 132.7L1807 137.8Z" fill="#ff00ff"/><line x1="1919.8" y1="174.6" x2="1897.4" y2="228.9" stroke="#ff8000" stroke-width="3.8"/><path d="M1890.7 245.2L1893.1 222.4L1905.1 227.3Z" fill="#ff8000"/><text x="1479.4" y="91.8" font-size="23.36" font-weight="bold" text-anchor="start" fill="#000">710.2 eV</text><text x="1647.6" y="108" font-size="23.36" font-weight="bold" text-anchor="start" fill="#000">714.8 eV</text><text x="1783.8" y="82.4" font-size="22.89" font-weight="bold" text-anchor="start" fill="#000">723.7 eV</text><text x="1881.8" y="159.9" font-size="23.17" font-weight="bold" text-anchor="start" fill="#000">728.4 eV</text><text x="1903.1" y="43.8" font-size="29.83" font-weight="bold" text-anchor="start" fill="#000">Fe 2p</text><text x="1946.2" y="429.6" font-size="43.5" font-weight="bold" text-anchor="start" fill="#000">c</text><rect x="1441.4" y="8.8" width="552.6" height="445.2" fill="none" stroke="#000" stroke-width="3.2"/><line x1="1496.7" y1="454" x2="1496.7" y2="462.5" stroke="#000" stroke-width="3.0"/><line x1="1607.2" y1="454" x2="1607.2" y2="462.5" stroke="#000" stroke-width="3.0"/><line x1="1717.7" y1="454" x2="1717.7" y2="462.5" stroke="#000" stroke-width="3.0"/><line x1="1828.2" y1="454" x2="1828.2" y2="462.5" stroke="#000" stroke-width="3.0"/><line x1="1938.7" y1="454" x2="1938.7" y2="462.5" stroke="#000" stroke-width="3.0"/><line x1="1441.4" y1="454" x2="1441.4" y2="458.5" stroke="#000" stroke-width="3.0"/><line x1="1551.9" y1="454" x2="1551.9" y2="458.5" stroke="#000" stroke-width="3.0"/><line x1="1662.4" y1="454" x2="1662.4" y2="458.5" stroke="#000" stroke-width="3.0"/><line x1="1773" y1="454" x2="1773" y2="458.5" stroke="#000" stroke-width="3.0"/><line x1="1883.5" y1="454" x2="1883.5" y2="458.5" stroke="#000" stroke-width="3.0"/><line x1="1994" y1="454" x2="1994" y2="458.5" stroke="#000" stroke-width="3.0"/><text x="1496.7" y="491.3" font-size="29.9" font-weight="bold" text-anchor="middle" fill="#000">700</text><text x="1607.2" y="491.3" font-size="29.9" font-weight="bold" text-anchor="middle" fill="#000">710</text><text x="1717.7" y="491.3" font-size="29.9" font-weight="bold" text-anchor="middle" fill="#000">720</text><text x="1828.2" y="491.3" font-size="29.9" font-weight="bold" text-anchor="middle" fill="#000">730</text><text x="1938.7" y="491.3" font-size="29.9" font-weight="bold" text-anchor="middle" fill="#000">740</text><text x="1717.7" y="539.8" font-size="29.4" font-weight="bold" text-anchor="middle" fill="#000">Binding Energy (eV)</text><text x="0" y="0" font-size="29.4" font-weight="bold" text-anchor="middle" transform="translate(1405.4 222.4) rotate(-90)">Intensity (a.u.)</text><path d="M63 888.8L66.1 851.3L69.2 858.1L72.3 845.3L75.4 890.9L78.5 829.9L81.6 855.1L84.7 886.5L87.8 891L90.9 889.4L94 874.5L97.1 826.6L100.2 833.6L103.3 869.2L106.4 868.7L109.5 806.2L112.6 831.1L115.7 872.9L118.8 855.7L121.9 861.7L125 846.2L128.1 822.9L131.2 858.2L134.3 836.1L137.4 828.1L140.5 819.7L143.6 863.4L146.7 848.8L149.8 777.1L152.9 844.6L156 836.2L159.1 821.4L162.2 852.4L165.3 844.8L168.4 776.9L171.5 787.4L174.6 862.4L177.7 823.2L180.8 864.7L183.9 870.6L187 819.5L190.1 768.7L193.2 818L196.3 766L199.4 844.4L202.5 803.5L205.6 802.2L208.7 798.8L211.8 766.5L214.9 776.6L218 809.2L221.1 831.4L224.2 802.4L227.3 781.9L230.4 795L233.5 822.8L236.6 827.5L239.7 742.8L242.8 760.4L245.9 788.6L249 757.4L252.1 757.7L255.2 782.9L258.3 792.9L261.4 746.8L264.5 761.5L267.6 748.4L270.7 767.6L273.8 798L276.9 826.3L280 826.9L283.1 838.4L286.2 820L289.3 817L292.4 787.4L295.5 782.4L298.6 826.8L301.7 814.3L304.8 864.8L307.9 849.1L311 862.3L314.1 823.3L317.2 844.3L320.3 851.5L323.4 827.4L326.5 886.2L329.6 829.1L332.7 811.5L335.8 786.8L338.9 864.3L342 841.1L345.1 893.7L348.2 786.4L351.3 836.2L354.4 823.7L357.5 881.5L360.6 843L363.7 856.8L366.8 878.3L369.9 879.6L373 875L376.1 875L379.2 905.6L382.3 809L385.4 853.8L388.5 850.8L391.6 852.6L394.7 865.7L397.8 862.3L400.9 843.8L404 861.5L407.1 828.3L410.2 862.1L413.3 832.6L416.4 875L419.5 853.4L422.6 844.9L425.7 829.5L428.8 828.9L431.9 877.1L435 871.8L438.1 823.1L441.2 867.2L444.3 885.8L447.4 835.8L450.5 848.2L453.6 881.8L456.7 872.4L459.8 833.4L462.9 871.5L466 874.4L469.1 873.1L472.2 837.3L475.3 896.2L478.4 863.9L481.5 871.1L484.6 865.9L487.7 862L490.8 878.1L493.9 868.7L497 873.4L500.1 851.9L503.2 920.5L506.3 888.9L509.4 885.6L512.5 910.9L515.6 858.1L518.7 879.6L521.8 919.1L524.9 897.2L528 878.6L531.1 892.1L534.2 908.6L537.3 883.9L540.4 891.2L543.5 914.9L546.6 904.2L549.7 871.4L552.8 875.7L555.9 920.5L559 916.3L562.1 873.1L565.2 894.6L568.3 906.8L571.4 914.6L574.5 905.6L577.6 890.2L580.7 948.5L583.8 893.2L586.9 928.9L590 935.9L593.1 926L596.2 933.8L599.3 933.2L602.4 915L605.5 924.5L608.6 895.2L611.7 943.7L614.8 900.9L614.8 936L611.7 935.6L608.6 935.2L605.5 934.8L602.4 934.4L599.3 934L596.2 933.5L593.1 933.1L590 932.7L586.9 932.3L583.8 931.9L580.7 931.5L577.6 931.1L574.5 930.7L571.4 930.3L568.3 929.9L565.2 929.5L562.1 929.1L559 928.7L555.9 928.3L552.8 927.9L549.7 927.5L546.6 927.1L543.5 926.7L540.4 926.3L537.3 925.9L534.2 925.5L531.1 925.1L528 924.7L524.9 924.2L521.8 923.8L518.7 923.4L515.6 923L512.5 922.6L509.4 922.2L506.3 921.8L503.2 921.4L500.1 921L497 920.6L493.9 920.2L490.8 919.8L487.7 919.4L484.6 919L481.5 918.6L478.4 918.2L475.3 917.8L472.2 917.4L469.1 917L466 916.6L462.9 916.2L459.8 915.8L456.7 915.4L453.6 914.9L450.5 914.5L447.4 914.1L444.3 913.7L441.2 913.3L438.1 912.9L435 912.5L431.9 912.1L428.8 911.7L425.7 911.3L422.6 910.9L419.5 910.5L416.4 910.1L413.3 909.7L410.2 909.3L407.1 908.9L404 908.5L400.9 908.1L397.8 907.7L394.7 907.3L391.6 906.9L388.5 906.5L385.4 906.1L382.3 905.6L379.2 905.2L376.1 904.8L373 904.4L369.9 904L366.8 903.6L363.7 903.2L360.6 902.8L357.5 902.4L354.4 902L351.3 901.6L348.2 901.2L345.1 900.8L342 900.4L338.9 900L335.8 899.6L332.7 899.2L329.6 898.8L326.5 898.4L323.4 898L320.3 897.6L317.2 897.2L314.1 896.8L311 896.3L307.9 895.9L304.8 895.5L301.7 895.1L298.6 894.7L295.5 894.3L292.4 893.9L289.3 893.5L286.2 893.1L283.1 892.7L280 892.3L276.9 891.9L273.8 891.5L270.7 891.1L267.6 890.7L264.5 890.3L261.4 889.9L258.3 889.5L255.2 889.1L252.1 888.7L249 888.3L245.9 887.9L242.8 887.5L239.7 887L236.6 886.6L233.5 886.2L230.4 885.8L227.3 885.4L224.2 885L221.1 884.6L218 884.2L214.9 883.8L211.8 883.4L208.7 883L205.6 882.6L202.5 882.2L199.4 881.8L196.3 881.4L193.2 881L190.1 880.6L187 880.2L183.9 879.8L180.8 879.4L177.7 879L174.6 878.6L171.5 878.2L168.4 877.7L165.3 877.3L162.2 876.9L159.1 876.5L156 876.1L152.9 875.7L149.8 875.3L146.7 874.9L143.6 874.5L140.5 874.1L137.4 873.7L134.3 873.3L131.2 872.9L128.1 872.5L125 872.1L121.9 871.7L118.8 871.3L115.7 870.9L112.6 870.5L109.5 870.1L106.4 869.7L103.3 869.3L100.2 868.9L97.1 868.4L94 868L90.9 867.6L87.8 867.2L84.7 866.8L81.6 866.4L78.5 866L75.4 865.6L72.3 865.2L69.2 864.8L66.1 864.4L63 864Z" fill="#000000" stroke="#000" stroke-width="1.4"/><path d="M63 887.2L64 886.9L65 886.7L66 886.4L67 886.1L68 885.9L69 885.6L70 885.3L71 885L72 884.7L73 884.4L74 884.1L75 883.8L76 883.5L77 883.2L78 882.9L79 882.6L80 882.3L81 882L82 881.7L83 881.3L84 881L85 880.7L86 880.4L87 880L88 879.7L89 879.3L90 879L91 878.7L92 878.3L93 877.9L94 877.6L95 877.2L96 876.9L97 876.5L98 876.1L99 875.7L100 875.3L101 875L102 874.6L103 874.2L104 873.8L105 873.4L106 873L107 872.6L108 872.1L109 871.7L110 871.3L111 870.9L112 870.5L113 870L114 869.6L115 869.2L116 868.7L117 868.3L118 867.8L119 867.4L120 866.9L121 866.4L122 866L123 865.5L124 865L125 864.5L126 864L127 863.5L128 863L129 862.5L130 862L131 861.5L132 861L133 860.5L134 860L135 859.5L136 859L137 858.5L138 858L139 857.5L140 857L141 856.5L142 856L143 855.5L144 855L145 854.5L146 854L147 853.6L148 853.1L149 852.6L150 852.1L151 851.6L152 851.1L153 850.6L154 850.1L155 849.6L156 849.1L157 848.6L158 848.1L159 847.6L160 847.1L161 846.6L162 846.1L163 845.5L164 845L165 844.5L166 843.9L167 843.4L168 842.8L169 842.3L170 841.7L171 841.2L172 840.6L173 840L174 839.4L175 838.9L176 838.3L177 837.7L178 837.1L179 836.5L180 835.9L181 835.3L182 834.7L183 834.1L184 833.5L185 832.9L186 832.2L187 831.6L188 830.9L189 830.3L190 829.6L191 828.9L192 828.2L193 827.5L194 826.8L195 826L196 825.3L197 824.5L198 823.7L199 822.9L200 822.1L201 821.2L202 820.3L203 819.4L204 818.4L205 817.4L206 816.4L207 815.3L208 814.3L209 813.2L210 812.2L211 811.1L212 810.1L213 809L214 807.9L215 806.9L216 805.8L217 804.7L218 803.6L219 802.5L220 801.4L221 800.3L222 799.2L223 798.1L224 796.9L225 795.8L226 794.7L227 793.6L228 792.4L229 791.1L230 789.9L231 788.7L232 787.5L233 786.4L234 785.5L235 784.6L236 783.6L237 782.7L238 781.8L239 781.1L240 780.6L241 780.4L242 780.5L243 780.6L244 781L245 781.4L246 781.9L247 782.4L248 783L249 783.5L250 784.1L251 784.7L252 785.4L253 786.2L254 787L255 787.9L256 788.8L257 789.9L258 790.9L259 792.1L260 793.4L261 794.9L262 796.5L263 798.2L264 799.9L265 801.7L266 803.5L267 805.2L268 807L269 808.7L270 810.6L271 812.6L272 814.6L273 816.6L274 818.6L275 820.6L276 822.4L277 824.1L278 825.5L279 826.8L280 828L281 829.1L282 830.2L283 831.3L284 832.2L285 833.1L286 833.9L287 834.6L288 835.2L289 835.6L290 836L291 836.3L292 836.6L293 836.9L294 837.1L295 837.4L296 837.7L297 837.9L298 838.1L299 838.3L300 838.5L301 838.7L302 838.9L303 839L304 839.1L305 839.2L306 839.3L307 839.4L308 839.5L309 839.5L310 839.5L311 839.5L312 839.5L313 839.4L314 839.4L315 839.3L316 839.2L317 839.1L318 839L319 838.9L320 838.8L321 838.7L322 838.6L323 838.5L324 838.4L325 838.3L326 838.2L327 838.1L328 838.1L329 838L330 838L331 838L332 838L333 838.1L334 838.1L335 838.2L336 838.3L337 838.4L338 838.5L339 838.7L340 838.8L341 839L342 839.2L343 839.4L344 839.6L345 839.8L346 840L347 840.3L348 840.5L349 840.8L350 841L351 841.3L352 841.6L353 841.9L354 842.3L355 842.8L356 843.3L357 843.9L358 844.5L359 845.1L360 845.8L361 846.5L362 847.2L363 847.9L364 848.6L365 849.3L366 850L367 850.7L368 851.4L369 852.2L370 853L371 853.8L372 854.6L373 855.4L374 856.2L375 857L376 857.8L377 858.6L378 859.3L379 859.9L380 860.5L381 861.1L382 861.6L383 862.1L384 862.6L385 863.1L386 863.6L387 864L388 864.5L389 864.9L390 865.3L391 865.7L392 866.1L393 866.5L394 866.9L395 867.3L396 867.6L397 868L398 868.4L399 868.7L400 869.1L401 869.4L402 869.8L403 870.1L404 870.4L405 870.8L406 871L407 871.3L408 871.6L409 871.8L410 872L411 872.2L412 872.3L413 872.4L414 872.6L415 872.7L416 872.8L417 872.9L418 873L419 873.1L420 873.2L421 873.3L422 873.4L423 873.5L424 873.6L425 873.6L426 873.7L427 873.8L428 873.8L429 873.9L430 873.9L431 874L432 874L433 874L434 874.1L435 874.1L436 874.1L437 874.2L438 874.2L439 874.2L440 874.3L441 874.3L442 874.3L443 874.4L444 874.4L445 874.5L446 874.5L447 874.6L448 874.6L449 874.7L450 874.8L451 874.9L452 875L453 875.1L454 875.3L455 875.5L456 875.7L457 875.9L458 876.1L459 876.4L460 876.6L461 876.9L462 877.2L463 877.5L464 877.8L465 878.1L466 878.4L467 878.8L468 879.2L469 879.6L470 880L471 880.5L472 881L473 881.5L474 882.1L475 882.6L476 883.2L477 883.7L478 884.3L479 884.9L480 885.4L481 885.9L482 886.5L483 887L484 887.5L485 888.1L486 888.6L487 889.1L488 889.7L489 890.3L490 890.8L491 891.4L492 891.9L493 892.5L494 893L495 893.6L496 894.2L497 894.7L498 895.2L499 895.8L500 896.3L501 896.8L502 897.3L503 897.8L504 898.3L505 898.8L506 899.2L507 899.7L508 900.1L509 900.5L510 901L511 901.4L512 901.8L513 902.2L514 902.6L515 903L516 903.4L517 903.8L518 904.2L519 904.6L520 905L521 905.4L522 905.8L523 906.1L524 906.5L525 906.9L526 907.3L527 907.7L528 908L529 908.4L530 908.8L531 909.2L532 909.6L533 910L534 910.4L535 910.8L536 911.2L537 911.6L538 912L539 912.4L540 912.8L541 913.2L542 913.6L543 914.1L544 914.5L545 914.9L546 915.3L547 915.8L548 916.2L549 916.6L550 917.1L551 917.5L552 917.9L553 918.3L554 918.7L555 919.2L556 919.6L557 920L558 920.4L559 920.8L560 921.1L561 921.5L562 921.9L563 922.3L564 922.6L565 922.9L566 923.3L567 923.6L568 923.9L569 924.2L570 924.5L571 924.8L572 925.1L573 925.4L574 925.7L575 925.9L576 926.2L577 926.5L578 926.8L579 927L580 927.3L581 927.5L582 927.8L583 928L584 928.3L585 928.5L586 928.8L587 929L588 929.2L589 929.5L590 929.7L591 929.9L592 930.1L593 930.4L594 930.6L595 930.8L596 931L597 931.2L598 931.4L599 931.7L600 931.9L601 932.1L602 932.3L603 932.5L604 932.7L605 932.9L606 933L607 933.2L608 933.4L609 933.6L610 933.8L611 933.9L612 934.1L613 934.3L614 934.5L615 934.6L615 935.5L614 935.4L613 935.3L612 935.2L611 935.2L610 935.1L609 935L608 934.9L607 934.8L606 934.7L605 934.7L604 934.6L603 934.5L602 934.4L601 934.3L600 934.2L599 934.2L598 934.1L597 934L596 933.9L595 933.8L594 933.7L593 933.6L592 933.6L591 933.5L590 933.4L589 933.3L588 933.2L587 933.1L586 933.1L585 933L584 932.9L583 932.8L582 932.7L581 932.6L580 932.6L579 932.5L578 932.4L577 932.3L576 932.2L575 932.1L574 932L573 932L572 931.9L571 931.8L570 931.7L569 931.6L568 931.5L567 931.5L566 931.4L565 931.3L564 931.2L563 931.1L562 931L561 931L560 930.9L559 930.8L558 930.7L557 930.6L556 930.5L555 930.4L554 930.4L553 930.3L552 930.2L551 930.1L550 930L549 929.9L548 929.9L547 929.8L546 929.7L545 929.6L544 929.5L543 929.4L542 929.4L541 929.3L540 929.2L539 929.1L538 929L537 928.9L536 928.8L535 928.8L534 928.7L533 928.6L532 928.5L531 928.4L530 928.3L529 928.3L528 928.2L527 928.1L526 928L525 927.9L524 927.8L523 927.8L522 927.7L521 927.6L520 927.5L519 927.4L518 927.3L517 927.2L516 927.2L515 927.1L514 927L513 926.9L512 926.8L511 926.7L510 926.7L509 926.6L508 926.5L507 926.4L506 926.3L505 926.2L504 926.1L503 926.1L502 926L501 925.9L500 925.8L499 925.7L498 925.6L497 925.6L496 925.5L495 925.4L494 925.3L493 925.2L492 925.1L491 925.1L490 925L489 924.9L488 924.8L487 924.7L486 924.6L485 924.5L484 924.5L483 924.4L482 924.3L481 924.2L480 924.1L479 924L478 924L477 923.9L476 923.8L475 923.7L474 923.6L473 923.5L472 923.5L471 923.4L470 923.3L469 923.2L468 923.1L467 923L466 922.9L465 922.9L464 922.8L463 922.7L462 922.6L461 922.5L460 922.4L459 922.4L458 922.3L457 922.2L456 922.1L455 922L454 921.9L453 921.9L452 921.8L451 921.7L450 921.6L449 921.5L448 921.4L447 921.3L446 921.3L445 921.2L444 921.1L443 921L442 920.9L441 920.8L440 920.8L439 920.7L438 920.6L437 920.5L436 920.4L435 920.3L434 920.3L433 920.2L432 920.1L431 920L430 919.9L429 919.8L428 919.7L427 919.7L426 919.6L425 919.5L424 919.4L423 919.3L422 919.2L421 919.2L420 919.1L419 919L418 918.9L417 918.8L416 918.7L415 918.7L414 918.6L413 918.5L412 918.4L411 918.3L410 918.2L409 918.1L408 918.1L407 918L406 917.9L405 917.8L404 917.7L403 917.6L402 917.6L401 917.5L400 917.4L399 917.3L398 917.2L397 917.1L396 917.1L395 917L394 916.9L393 916.8L392 916.7L391 916.6L390 916.5L389 916.5L388 916.4L387 916.3L386 916.2L385 916.1L384 916L383 916L382 915.9L381 915.8L380 915.7L379 915.6L378 915.5L377 915.5L376 915.4L375 915.3L374 915.2L373 915.1L372 915L371 914.9L370 914.9L369 914.8L368 914.7L367 914.6L366 914.5L365 914.4L364 914.4L363 914.3L362 914.2L361 914.1L360 914L359 913.9L358 913.9L357 913.8L356 913.7L355 913.6L354 913.5L353 913.4L352 913.3L351 913.3L350 913.2L349 913.1L348 913L347 912.9L346 912.8L345 912.8L344 912.7L343 912.6L342 912.5L341 912.4L340 912.3L339 912.2L338 912.2L337 912.1L336 912L335 911.9L334 911.8L333 911.7L332 911.7L331 911.6L330 911.5L329 911.4L328 911.3L327 911.2L326 911.2L325 911.1L324 911L323 910.9L322 910.8L321 910.7L320 910.6L319 910.6L318 910.5L317 910.4L316 910.3L315 910.2L314 910.1L313 910.1L312 910L311 909.9L310 909.8L309 909.7L308 909.6L307 909.6L306 909.5L305 909.4L304 909.3L303 909.2L302 909.1L301 909L300 909L299 908.9L298 908.8L297 908.7L296 908.6L295 908.5L294 908.5L293 908.4L292 908.3L291 908.2L290 908.1L289 908L288 908L287 907.9L286 907.8L285 907.7L284 907.6L283 907.5L282 907.4L281 907.4L280 907.3L279 907.2L278 907.1L277 907L276 906.9L275 906.9L274 906.8L273 906.7L272 906.6L271 906.5L270 906.4L269 906.4L268 906.3L267 906.2L266 906.1L265 906L264 905.9L263 905.8L262 905.8L261 905.7L260 905.6L259 905.5L258 905.4L257 905.3L256 905.3L255 905.2L254 905.1L253 905L252 904.9L251 904.8L250 904.8L249 904.7L248 904.6L247 904.5L246 904.4L245 904.3L244 904.2L243 904.2L242 904.1L241 904L240 903.9L239 903.8L238 903.7L237 903.7L236 903.6L235 903.5L234 903.4L233 903.3L232 903.2L231 903.2L230 903.1L229 903L228 902.9L227 902.8L226 902.7L225 902.6L224 902.6L223 902.5L222 902.4L221 902.3L220 902.2L219 902.1L218 902.1L217 902L216 901.9L215 901.8L214 901.7L213 901.6L212 901.6L211 901.5L210 901.4L209 901.3L208 901.2L207 901.1L206 901L205 901L204 900.9L203 900.8L202 900.7L201 900.6L200 900.5L199 900.5L198 900.4L197 900.3L196 900.2L195 900.1L194 900L193 900L192 899.9L191 899.8L190 899.7L189 899.6L188 899.5L187 899.4L186 899.4L185 899.3L184 899.2L183 899.1L182 899L181 898.9L180 898.9L179 898.8L178 898.7L177 898.6L176 898.5L175 898.4L174 898.4L173 898.3L172 898.2L171 898.1L170 898L169 897.9L168 897.8L167 897.8L166 897.7L165 897.6L164 897.5L163 897.4L162 897.3L161 897.3L160 897.2L159 897.1L158 897L157 896.9L156 896.8L155 896.8L154 896.7L153 896.6L152 896.5L151 896.4L150 896.3L149 896.2L148 896.2L147 896.1L146 896L145 895.9L144 895.8L143 895.7L142 895.7L141 895.6L140 895.5L139 895.4L138 895.3L137 895.2L136 895.1L135 895.1L134 895L133 894.9L132 894.8L131 894.7L130 894.6L129 894.6L128 894.5L127 894.4L126 894.3L125 894.2L124 894.1L123 894.1L122 894L121 893.9L120 893.8L119 893.7L118 893.6L117 893.5L116 893.5L115 893.4L114 893.3L113 893.2L112 893.1L111 893L110 893L109 892.9L108 892.8L107 892.7L106 892.6L105 892.5L104 892.5L103 892.4L102 892.3L101 892.2L100 892.1L99 892L98 891.9L97 891.9L96 891.8L95 891.7L94 891.6L93 891.5L92 891.4L91 891.4L90 891.3L89 891.2L88 891.1L87 891L86 890.9L85 890.9L84 890.8L83 890.7L82 890.6L81 890.5L80 890.4L79 890.3L78 890.3L77 890.2L76 890.1L75 890L74 889.9L73 889.8L72 889.8L71 889.7L70 889.6L69 889.5L68 889.4L67 889.3L66 889.3L65 889.2L64 889.1L63 889Z" fill="#ff0000" fill-opacity="0.52"/><path d="M63 887.2L64 886.9L65 886.7L66 886.4L67 886.1L68 885.9L69 885.6L70 885.3L71 885L72 884.7L73 884.4L74 884.1L75 883.8L76 883.5L77 883.2L78 882.9L79 882.6L80 882.3L81 882L82 881.7L83 881.3L84 881L85 880.7L86 880.4L87 880L88 879.7L89 879.3L90 879L91 878.7L92 878.3L93 877.9L94 877.6L95 877.2L96 876.9L97 876.5L98 876.1L99 875.7L100 875.3L101 875L102 874.6L103 874.2L104 873.8L105 873.4L106 873L107 872.6L108 872.1L109 871.7L110 871.3L111 870.9L112 870.5L113 870L114 869.6L115 869.2L116 868.7L117 868.3L118 867.8L119 867.4L120 866.9L121 866.4L122 866L123 865.5L124 865L125 864.5L126 864L127 863.5L128 863L129 862.5L130 862L131 861.5L132 861L133 860.5L134 860L135 859.5L136 859L137 858.5L138 858L139 857.5L140 857L141 856.5L142 856L143 855.5L144 855L145 854.5L146 854L147 853.6L148 853.1L149 852.6L150 852.1L151 851.6L152 851.1L153 850.6L154 850.1L155 849.6L156 849.1L157 848.6L158 848.1L159 847.6L160 847.1L161 846.6L162 846.1L163 845.5L164 845L165 844.5L166 843.9L167 843.4L168 842.8L169 842.3L170 841.7L171 841.2L172 840.6L173 840L174 839.4L175 838.9L176 838.3L177 837.7L178 837.1L179 836.5L180 835.9L181 835.3L182 834.7L183 834.1L184 833.5L185 832.9L186 832.2L187 831.6L188 830.9L189 830.3L190 829.6L191 828.9L192 828.2L193 827.5L194 826.8L195 826L196 825.3L197 824.5L198 823.7L199 822.9L200 822.1L201 821.2L202 820.3L203 819.4L204 818.4L205 817.4L206 816.4L207 815.3L208 814.3L209 813.2L210 812.2L211 811.1L212 810.1L213 809L214 807.9L215 806.9L216 805.8L217 804.7L218 803.6L219 802.5L220 801.4L221 800.3L222 799.2L223 798.1L224 796.9L225 795.8L226 794.7L227 793.6L228 792.4L229 791.1L230 789.9L231 788.7L232 787.5L233 786.4L234 785.5L235 784.6L236 783.6L237 782.7L238 781.8L239 781.1L240 780.6L241 780.4L242 780.5L243 780.6L244 781L245 781.4L246 781.9L247 782.4L248 783L249 783.5L250 784.1L251 784.7L252 785.4L253 786.2L254 787L255 787.9L256 788.8L257 789.9L258 790.9L259 792.1L260 793.4L261 794.9L262 796.5L263 798.2L264 799.9L265 801.7L266 803.5L267 805.2L268 807L269 808.7L270 810.6L271 812.6L272 814.6L273 816.6L274 818.6L275 820.6L276 822.4L277 824.1L278 825.5L279 826.8L280 828L281 829.1L282 830.2L283 831.3L284 832.2L285 833.1L286 833.9L287 834.6L288 835.2L289 835.6L290 836L291 836.3L292 836.6L293 836.9L294 837.1L295 837.4L296 837.7L297 837.9L298 838.1L299 838.3L300 838.5L301 838.7L302 838.9L303 839L304 839.1L305 839.2L306 839.3L307 839.4L308 839.5L309 839.5L310 839.5L311 839.5L312 839.5L313 839.4L314 839.4L315 839.3L316 839.2L317 839.1L318 839L319 838.9L320 838.8L321 838.7L322 838.6L323 838.5L324 838.4L325 838.3L326 838.2L327 838.1L328 838.1L329 838L330 838L331 838L332 838L333 838.1L334 838.1L335 838.2L336 838.3L337 838.4L338 838.5L339 838.7L340 838.8L341 839L342 839.2L343 839.4L344 839.6L345 839.8L346 840L347 840.3L348 840.5L349 840.8L350 841L351 841.3L352 841.6L353 841.9L354 842.3L355 842.8L356 843.3L357 843.9L358 844.5L359 845.1L360 845.8L361 846.5L362 847.2L363 847.9L364 848.6L365 849.3L366 850L367 850.7L368 851.4L369 852.2L370 853L371 853.8L372 854.6L373 855.4L374 856.2L375 857L376 857.8L377 858.6L378 859.3L379 859.9L380 860.5L381 861.1L382 861.6L383 862.1L384 862.6L385 863.1L386 863.6L387 864L388 864.5L389 864.9L390 865.3L391 865.7L392 866.1L393 866.5L394 866.9L395 867.3L396 867.6L397 868L398 868.4L399 868.7L400 869.1L401 869.4L402 869.8L403 870.1L404 870.4L405 870.8L406 871L407 871.3L408 871.6L409 871.8L410 872L411 872.2L412 872.3L413 872.4L414 872.6L415 872.7L416 872.8L417 872.9L418 873L419 873.1L420 873.2L421 873.3L422 873.4L423 873.5L424 873.6L425 873.6L426 873.7L427 873.8L428 873.8L429 873.9L430 873.9L431 874L432 874L433 874L434 874.1L435 874.1L436 874.1L437 874.2L438 874.2L439 874.2L440 874.3L441 874.3L442 874.3L443 874.4L444 874.4L445 874.5L446 874.5L447 874.6L448 874.6L449 874.7L450 874.8L451 874.9L452 875L453 875.1L454 875.3L455 875.5L456 875.7L457 875.9L458 876.1L459 876.4L460 876.6L461 876.9L462 877.2L463 877.5L464 877.8L465 878.1L466 878.4L467 878.8L468 879.2L469 879.6L470 880L471 880.5L472 881L473 881.5L474 882.1L475 882.6L476 883.2L477 883.7L478 884.3L479 884.9L480 885.4L481 885.9L482 886.5L483 887L484 887.5L485 888.1L486 888.6L487 889.1L488 889.7L489 890.3L490 890.8L491 891.4L492 891.9L493 892.5L494 893L495 893.6L496 894.2L497 894.7L498 895.2L499 895.8L500 896.3L501 896.8L502 897.3L503 897.8L504 898.3L505 898.8L506 899.2L507 899.7L508 900.1L509 900.5L510 901L511 901.4L512 901.8L513 902.2L514 902.6L515 903L516 903.4L517 903.8L518 904.2L519 904.6L520 905L521 905.4L522 905.8L523 906.1L524 906.5L525 906.9L526 907.3L527 907.7L528 908L529 908.4L530 908.8L531 909.2L532 909.6L533 910L534 910.4L535 910.8L536 911.2L537 911.6L538 912L539 912.4L540 912.8L541 913.2L542 913.6L543 914.1L544 914.5L545 914.9L546 915.3L547 915.8L548 916.2L549 916.6L550 917.1L551 917.5L552 917.9L553 918.3L554 918.7L555 919.2L556 919.6L557 920L558 920.4L559 920.8L560 921.1L561 921.5L562 921.9L563 922.3L564 922.6L565 922.9L566 923.3L567 923.6L568 923.9L569 924.2L570 924.5L571 924.8L572 925.1L573 925.4L574 925.7L575 925.9L576 926.2L577 926.5L578 926.8L579 927L580 927.3L581 927.5L582 927.8L583 928L584 928.3L585 928.5L586 928.8L587 929L588 929.2L589 929.5L590 929.7L591 929.9L592 930.1L593 930.4L594 930.6L595 930.8L596 931L597 931.2L598 931.4L599 931.7L600 931.9L601 932.1L602 932.3L603 932.5L604 932.7L605 932.9L606 933L607 933.2L608 933.4L609 933.6L610 933.8L611 933.9L612 934.1L613 934.3L614 934.5L615 934.6" fill="none" stroke="#ff3535" stroke-width="1.6"/><path d="M63 896.2L64 896L65 895.8L66 895.7L67 895.5L68 895.3L69 895.1L70 894.9L71 894.8L72 894.6L73 894.4L74 894.2L75 894L76 893.9L77 893.7L78 893.5L79 893.3L80 893.2L81 893L82 892.8L83 892.7L84 892.5L85 892.3L86 892.2L87 892L88 891.8L89 891.7L90 891.5L91 891.3L92 891.2L93 891L94 890.8L95 890.7L96 890.5L97 890.3L98 890.2L99 890L100 889.9L101 889.7L102 889.5L103 889.4L104 889.2L105 889L106 888.9L107 888.7L108 888.6L109 888.4L110 888.3L111 888.1L112 888L113 887.8L114 887.7L115 887.5L116 887.4L117 887.2L118 887.1L119 887L120 886.8L121 886.7L122 886.6L123 886.5L124 886.4L125 886.2L126 886.1L127 886L128 885.9L129 885.7L130 885.6L131 885.5L132 885.3L133 885.2L134 885.1L135 884.9L136 884.8L137 884.7L138 884.6L139 884.5L140 884.3L141 884.2L142 884.1L143 884L144 883.9L145 883.8L146 883.7L147 883.6L148 883.6L149 883.5L150 883.4L151 883.4L152 883.3L153 883.3L154 883.2L155 883.2L156 883.2L157 883.2L158 883.2L159 883.2L160 883.3L161 883.3L162 883.3L163 883.4L164 883.5L165 883.6L166 883.7L167 883.8L168 883.9L169 884L170 884.1L171 884.2L172 884.4L173 884.5L174 884.6L175 884.8L176 884.9L177 885.1L178 885.2L179 885.4L180 885.5L181 885.7L182 885.8L183 886L184 886.2L185 886.4L186 886.6L187 886.9L188 887.1L189 887.4L190 887.6L191 887.9L192 888.2L193 888.4L194 888.7L195 889L196 889.3L197 889.6L198 889.9L199 890.2L200 890.5L201 890.8L202 891.1L203 891.4L204 891.8L205 892.1L206 892.5L207 892.8L208 893.2L209 893.6L210 894L211 894.4L212 894.8L213 895.2L214 895.6L215 896L215 911.5L214 911.4L213 911.3L212 911.3L211 911.2L210 911.1L209 911L208 910.9L207 910.9L206 910.8L205 910.7L204 910.6L203 910.5L202 910.5L201 910.4L200 910.3L199 910.2L198 910.1L197 910.1L196 910L195 909.9L194 909.8L193 909.7L192 909.7L191 909.6L190 909.5L189 909.4L188 909.3L187 909.3L186 909.2L185 909.1L184 909L183 908.9L182 908.9L181 908.8L180 908.7L179 908.6L178 908.5L177 908.5L176 908.4L175 908.3L174 908.2L173 908.1L172 908L171 908L170 907.9L169 907.8L168 907.7L167 907.6L166 907.6L165 907.5L164 907.4L163 907.3L162 907.2L161 907.2L160 907.1L159 907L158 906.9L157 906.8L156 906.8L155 906.7L154 906.6L153 906.5L152 906.4L151 906.4L150 906.3L149 906.2L148 906.1L147 906L146 906L145 905.9L144 905.8L143 905.7L142 905.6L141 905.6L140 905.5L139 905.4L138 905.3L137 905.2L136 905.2L135 905.1L134 905L133 904.9L132 904.8L131 904.8L130 904.7L129 904.6L128 904.5L127 904.4L126 904.4L125 904.3L124 904.2L123 904.1L122 904L121 904L120 903.9L119 903.8L118 903.7L117 903.6L116 903.6L115 903.5L114 903.4L113 903.3L112 903.2L111 903.2L110 903.1L109 903L108 902.9L107 902.8L106 902.8L105 902.7L104 902.6L103 902.5L102 902.4L101 902.4L100 902.3L99 902.2L98 902.1L97 902L96 901.9L95 901.9L94 901.8L93 901.7L92 901.6L91 901.5L90 901.5L89 901.4L88 901.3L87 901.2L86 901.1L85 901.1L84 901L83 900.9L82 900.8L81 900.7L80 900.7L79 900.6L78 900.5L77 900.4L76 900.3L75 900.3L74 900.2L73 900.1L72 900L71 899.9L70 899.9L69 899.8L68 899.7L67 899.6L66 899.5L65 899.5L64 899.4L63 899.3Z" fill="#0000ff"/><path d="M63 906.6L64 906.6L65 906.6L66 906.6L67 906.6L68 906.6L69 906.6L70 906.6L71 906.5L72 906.5L73 906.5L74 906.5L75 906.5L76 906.5L77 906.4L78 906.4L79 906.4L80 906.4L81 906.4L82 906.3L83 906.3L84 906.3L85 906.3L86 906.2L87 906.2L88 906.2L89 906.2L90 906.1L91 906.1L92 906.1L93 906.1L94 906L95 906L96 906L97 905.9L98 905.9L99 905.9L100 905.8L101 905.8L102 905.8L103 905.7L104 905.7L105 905.6L106 905.6L107 905.6L108 905.5L109 905.5L110 905.4L111 905.4L112 905.3L113 905.2L114 905.2L115 905.1L116 905.1L117 905L118 904.9L119 904.9L120 904.8L121 904.7L122 904.7L123 904.6L124 904.5L125 904.4L126 904.3L127 904.2L128 904.1L129 904L130 903.8L131 903.7L132 903.6L133 903.4L134 903.3L135 903.1L136 903L137 902.8L138 902.6L139 902.5L140 902.3L141 902.1L142 901.9L143 901.8L144 901.6L145 901.4L146 901.2L147 901L148 900.9L149 900.7L150 900.5L151 900.3L152 900.1L153 899.9L154 899.7L155 899.5L156 899.3L157 899.1L158 898.9L159 898.7L160 898.4L161 898.2L162 898L163 897.8L164 897.5L165 897.3L166 897.1L167 896.8L168 896.6L169 896.4L170 896.1L171 895.9L172 895.7L173 895.4L174 895.2L175 895L176 894.8L177 894.6L178 894.3L179 894.1L180 893.9L181 893.7L182 893.5L183 893.3L184 893.1L185 892.9L186 892.7L187 892.5L188 892.2L189 892L190 891.8L191 891.6L192 891.4L193 891.2L194 890.9L195 890.7L196 890.5L197 890.2L198 890L199 889.8L200 889.5L201 889.3L202 889L203 888.7L204 888.4L205 888.1L206 887.7L207 887.3L208 886.9L209 886.6L210 886.2L211 885.9L212 885.6L213 885.3L214 885.1L215 885L216 884.9L217 884.8L218 884.7L219 884.6L220 884.5L221 884.4L222 884.3L223 884.3L224 884.2L225 884.1L226 884.1L227 884.1L228 884L229 884L230 884L231 884L232 884L233 884.1L234 884.1L235 884.2L236 884.2L237 884.3L238 884.4L239 884.6L240 884.7L240 919L239 918.9L238 918.9L237 918.8L236 918.8L235 918.7L234 918.6L233 918.6L232 918.5L231 918.5L230 918.4L229 918.3L228 918.3L227 918.2L226 918.2L225 918.1L224 918.1L223 918L222 917.9L221 917.9L220 917.8L219 917.8L218 917.7L217 917.6L216 917.6L215 917.5L214 917.5L213 917.4L212 917.3L211 917.3L210 917.2L209 917.2L208 917.1L207 917.1L206 917L205 916.9L204 916.9L203 916.8L202 916.8L201 916.7L200 916.6L199 916.6L198 916.5L197 916.5L196 916.4L195 916.3L194 916.3L193 916.2L192 916.2L191 916.1L190 916.1L189 916L188 915.9L187 915.9L186 915.8L185 915.8L184 915.7L183 915.6L182 915.6L181 915.5L180 915.5L179 915.4L178 915.4L177 915.3L176 915.2L175 915.2L174 915.1L173 915.1L172 915L171 914.9L170 914.9L169 914.8L168 914.8L167 914.7L166 914.6L165 914.6L164 914.5L163 914.5L162 914.4L161 914.4L160 914.3L159 914.2L158 914.2L157 914.1L156 914.1L155 914L154 913.9L153 913.9L152 913.8L151 913.8L150 913.7L149 913.6L148 913.6L147 913.5L146 913.5L145 913.4L144 913.4L143 913.3L142 913.2L141 913.2L140 913.1L139 913.1L138 913L137 912.9L136 912.9L135 912.8L134 912.8L133 912.7L132 912.6L131 912.6L130 912.5L129 912.5L128 912.4L127 912.4L126 912.3L125 912.2L124 912.2L123 912.1L122 912.1L121 912L120 911.9L119 911.9L118 911.8L117 911.8L116 911.7L115 911.7L114 911.6L113 911.5L112 911.5L111 911.4L110 911.4L109 911.3L108 911.2L107 911.2L106 911.1L105 911.1L104 911L103 910.9L102 910.9L101 910.8L100 910.8L99 910.7L98 910.7L97 910.6L96 910.5L95 910.5L94 910.4L93 910.4L92 910.3L91 910.2L90 910.2L89 910.1L88 910.1L87 910L86 910L85 909.9L84 909.8L83 909.8L82 909.7L81 909.7L80 909.6L79 909.5L78 909.5L77 909.4L76 909.4L75 909.3L74 909.2L73 909.2L72 909.1L71 909.1L70 909L69 909L68 908.9L67 908.8L66 908.8L65 908.7L64 908.7L63 908.6Z" fill="#00ffff"/><path d="M63 909.9L64 909.9L65 910L66 910.1L67 910.1L68 910.2L69 910.2L70 910.3L71 910.3L72 910.4L73 910.4L74 910.5L75 910.5L76 910.6L77 910.6L78 910.7L79 910.7L80 910.8L81 910.8L82 910.9L83 911L84 911L85 911.1L86 911.1L87 911.2L88 911.2L89 911.3L90 911.3L91 911.4L92 911.4L93 911.5L94 911.5L95 911.6L96 911.6L97 911.7L98 911.7L99 911.8L100 911.8L101 911.9L102 911.9L103 912L104 912L105 912.1L106 912.1L107 912.2L108 912.2L109 912.3L110 912.3L111 912.4L112 912.4L113 912.5L114 912.5L115 912.6L116 912.6L117 912.7L118 912.7L119 912.8L120 912.8L121 912.9L122 912.9L123 912.9L124 913L125 913L126 913.1L127 913.1L128 913.2L129 913.2L130 913.3L131 913.3L132 913.3L133 913.4L134 913.4L135 913.5L136 913.5L137 913.5L138 913.6L139 913.6L140 913.6L141 913.7L142 913.7L143 913.7L144 913.8L145 913.8L146 913.8L147 913.8L148 913.8L149 913.9L150 913.9L151 913.9L152 913.9L153 913.9L154 913.9L155 913.9L156 913.8L157 913.8L158 913.8L159 913.8L160 913.7L161 913.7L162 913.6L163 913.5L164 913.5L165 913.4L166 913.3L167 913.1L168 913L169 912.9L170 912.7L171 912.5L172 912.3L173 912.1L174 911.9L175 911.6L176 911.3L177 911L178 910.7L179 910.4L180 910L181 909.6L182 909.1L183 908.7L184 908.2L185 907.6L186 907.1L187 906.5L188 905.8L189 905.2L190 904.4L191 903.7L192 902.9L193 902L194 901.2L195 900.2L196 899.3L197 898.3L198 897.2L199 896.1L200 895L201 893.8L202 892.6L203 891.3L204 890L205 888.7L206 887.3L207 885.9L208 884.5L209 883L210 881.5L211 880L212 878.4L213 876.8L214 875.2L215 873.6L216 872L217 870.4L218 868.8L219 867.2L220 865.5L221 863.9L222 862.3L223 860.8L224 859.2L225 857.7L226 856.2L227 854.8L228 853.4L229 852L230 850.7L231 849.5L232 848.3L233 847.2L234 846.2L235 845.3L236 844.4L237 843.6L238 843L239 842.4L240 841.9L241 841.5L242 841.2L243 841.1L244 841L245 841L246 841.2L247 841.5L248 841.8L249 842.4L250 843L251 843.7L252 844.6L253 845.5L254 846.5L255 847.7L256 848.9L257 850.2L258 851.6L259 853.1L260 854.6L261 856.2L262 857.8L263 859.5L264 861.2L265 863L266 864.8L267 866.6L268 868.4L269 870.3L270 872.1L271 874L272 875.8L273 877.6L274 879.5L275 881.3L276 883L277 884.8L278 886.5L279 888.2L280 889.9L281 891.5L282 893.1L283 894.6L284 896.1L285 897.6L286 899L287 900.3L288 901.6L289 902.9L290 904.1L291 905.3L292 906.4L293 907.5L294 908.5L295 909.4L296 910.4L297 911.3L298 912.1L299 912.9L300 913.6L301 914.4L302 915L303 915.7L304 916.3L305 916.8L306 917.4L307 917.9L308 918.4L309 918.8L310 919.2L311 919.6L312 920L313 920.3L314 920.7L315 921L316 921.2L317 921.5L318 921.8L319 922L320 922.2L321 922.4L322 922.6L323 922.8L324 923L325 923.2L326 923.3L327 923.5L328 923.6L329 923.7L330 923.9L331 924L332 924.1L333 924.2L334 924.3L335 924.4L336 924.5L337 924.6L338 924.7L339 924.8L340 924.9L341 925L342 925.1L343 925.1L344 925.2L345 925.3L346 925.4L347 925.5L348 925.5L349 925.6L350 925.7L351 925.8L352 925.8L353 925.9L354 926L355 926L356 926.1L357 926.2L358 926.3L359 926.3L360 926.4L361 926.5L362 926.5L363 926.6L364 926.7L365 926.7L366 926.8L367 926.9L368 926.9L369 927L370 927.1L371 927.1L372 927.2L373 927.3L374 927.3L375 927.4L376 927.4L377 927.5L378 927.6L379 927.6L380 927.7L381 927.8L382 927.8L383 927.9L384 928L385 928L386 928.1L387 928.1L388 928.2L389 928.3L390 928.3L391 928.4L392 928.5L393 928.5L394 928.6L395 928.6L396 928.7L397 928.8L398 928.8L399 928.9L400 928.9L401 929L402 929.1L403 929.1L404 929.2L405 929.2L406 929.3L407 929.4L408 929.4L409 929.5L410 929.6L411 929.6L412 929.7L413 929.7L414 929.8L415 929.9L416 929.9L417 930L418 930L419 930.1L420 930.2L420 930.4L419 930.4L418 930.3L417 930.3L416 930.2L415 930.2L414 930.1L413 930L412 930L411 929.9L410 929.9L409 929.8L408 929.8L407 929.7L406 929.6L405 929.6L404 929.5L403 929.5L402 929.4L401 929.4L400 929.3L399 929.3L398 929.2L397 929.1L396 929.1L395 929L394 929L393 928.9L392 928.9L391 928.8L390 928.7L389 928.7L388 928.6L387 928.6L386 928.5L385 928.5L384 928.4L383 928.3L382 928.3L381 928.2L380 928.2L379 928.1L378 928.1L377 928L376 927.9L375 927.9L374 927.8L373 927.8L372 927.7L371 927.7L370 927.6L369 927.6L368 927.5L367 927.4L366 927.4L365 927.3L364 927.3L363 927.2L362 927.2L361 927.1L360 927L359 927L358 926.9L357 926.9L356 926.8L355 926.8L354 926.7L353 926.6L352 926.6L351 926.5L350 926.5L349 926.4L348 926.4L347 926.3L346 926.2L345 926.2L344 926.1L343 926.1L342 926L341 926L340 925.9L339 925.9L338 925.8L337 925.7L336 925.7L335 925.6L334 925.6L333 925.5L332 925.5L331 925.4L330 925.3L329 925.3L328 925.2L327 925.2L326 925.1L325 925.1L324 925L323 924.9L322 924.9L321 924.8L320 924.8L319 924.7L318 924.7L317 924.6L316 924.5L315 924.5L314 924.4L313 924.4L312 924.3L311 924.3L310 924.2L309 924.1L308 924.1L307 924L306 924L305 923.9L304 923.9L303 923.8L302 923.8L301 923.7L300 923.6L299 923.6L298 923.5L297 923.5L296 923.4L295 923.4L294 923.3L293 923.2L292 923.2L291 923.1L290 923.1L289 923L288 923L287 922.9L286 922.8L285 922.8L284 922.7L283 922.7L282 922.6L281 922.6L280 922.5L279 922.4L278 922.4L277 922.3L276 922.3L275 922.2L274 922.2L273 922.1L272 922.1L271 922L270 921.9L269 921.9L268 921.8L267 921.8L266 921.7L265 921.7L264 921.6L263 921.5L262 921.5L261 921.4L260 921.4L259 921.3L258 921.3L257 921.2L256 921.1L255 921.1L254 921L253 921L252 920.9L251 920.9L250 920.8L249 920.7L248 920.7L247 920.6L246 920.6L245 920.5L244 920.5L243 920.4L242 920.3L241 920.3L240 920.2L239 920.2L238 920.1L237 920.1L236 920L235 920L234 919.9L233 919.8L232 919.8L231 919.7L230 919.7L229 919.6L228 919.6L227 919.5L226 919.4L225 919.4L224 919.3L223 919.3L222 919.2L221 919.2L220 919.1L219 919L218 919L217 918.9L216 918.9L215 918.8L214 918.8L213 918.7L212 918.6L211 918.6L210 918.5L209 918.5L208 918.4L207 918.4L206 918.3L205 918.3L204 918.2L203 918.1L202 918.1L201 918L200 918L199 917.9L198 917.9L197 917.8L196 917.7L195 917.7L194 917.6L193 917.6L192 917.5L191 917.5L190 917.4L189 917.3L188 917.3L187 917.2L186 917.2L185 917.1L184 917.1L183 917L182 916.9L181 916.9L180 916.8L179 916.8L178 916.7L177 916.7L176 916.6L175 916.6L174 916.5L173 916.4L172 916.4L171 916.3L170 916.3L169 916.2L168 916.2L167 916.1L166 916L165 916L164 915.9L163 915.9L162 915.8L161 915.8L160 915.7L159 915.6L158 915.6L157 915.5L156 915.5L155 915.4L154 915.4L153 915.3L152 915.2L151 915.2L150 915.1L149 915.1L148 915L147 915L146 914.9L145 914.8L144 914.8L143 914.7L142 914.7L141 914.6L140 914.6L139 914.5L138 914.5L137 914.4L136 914.3L135 914.3L134 914.2L133 914.2L132 914.1L131 914.1L130 914L129 913.9L128 913.9L127 913.8L126 913.8L125 913.7L124 913.7L123 913.6L122 913.5L121 913.5L120 913.4L119 913.4L118 913.3L117 913.3L116 913.2L115 913.1L114 913.1L113 913L112 913L111 912.9L110 912.9L109 912.8L108 912.8L107 912.7L106 912.6L105 912.6L104 912.5L103 912.5L102 912.4L101 912.4L100 912.3L99 912.2L98 912.2L97 912.1L96 912.1L95 912L94 912L93 911.9L92 911.8L91 911.8L90 911.7L89 911.7L88 911.6L87 911.6L86 911.5L85 911.4L84 911.4L83 911.3L82 911.3L81 911.2L80 911.2L79 911.1L78 911.1L77 911L76 910.9L75 910.9L74 910.8L73 910.8L72 910.7L71 910.7L70 910.6L69 910.5L68 910.5L67 910.4L66 910.4L65 910.3L64 910.3L63 910.2Z" fill="#ff00ff"/><path d="M63 911.4L64 911.4L65 911.5L66 911.6L67 911.6L68 911.7L69 911.7L70 911.8L71 911.9L72 911.9L73 912L74 912L75 912.1L76 912.1L77 912.2L78 912.3L79 912.3L80 912.4L81 912.4L82 912.5L83 912.5L84 912.6L85 912.7L86 912.7L87 912.8L88 912.8L89 912.9L90 912.9L91 913L92 913.1L93 913.1L94 913.2L95 913.2L96 913.3L97 913.3L98 913.4L99 913.5L100 913.5L101 913.6L102 913.6L103 913.7L104 913.7L105 913.8L106 913.9L107 913.9L108 914L109 914L110 914.1L111 914.1L112 914.2L113 914.2L114 914.3L115 914.4L116 914.4L117 914.5L118 914.5L119 914.6L120 914.6L121 914.7L122 914.7L123 914.8L124 914.8L125 914.9L126 914.9L127 915L128 915.1L129 915.1L130 915.2L131 915.2L132 915.3L133 915.3L134 915.4L135 915.4L136 915.5L137 915.5L138 915.6L139 915.6L140 915.7L141 915.7L142 915.8L143 915.8L144 915.9L145 915.9L146 916L147 916L148 916.1L149 916.1L150 916.2L151 916.2L152 916.3L153 916.3L154 916.4L155 916.4L156 916.5L157 916.5L158 916.6L159 916.6L160 916.7L161 916.7L162 916.8L163 916.8L164 916.9L165 916.9L166 917L167 917L168 917.1L169 917.1L170 917.1L171 917.2L172 917.2L173 917.3L174 917.3L175 917.4L176 917.4L177 917.5L178 917.5L179 917.5L180 917.6L181 917.6L182 917.7L183 917.7L184 917.7L185 917.8L186 917.8L187 917.9L188 917.9L189 917.9L190 918L191 918L192 918L193 918.1L194 918.1L195 918.1L196 918.2L197 918.2L198 918.2L199 918.3L200 918.3L201 918.3L202 918.4L203 918.4L204 918.4L205 918.4L206 918.5L207 918.5L208 918.5L209 918.5L210 918.5L211 918.6L212 918.6L213 918.6L214 918.6L215 918.6L216 918.6L217 918.6L218 918.6L219 918.6L220 918.6L221 918.6L222 918.6L223 918.6L224 918.6L225 918.6L226 918.6L227 918.5L228 918.5L229 918.5L230 918.5L231 918.4L232 918.4L233 918.3L234 918.3L235 918.2L236 918.2L237 918.1L238 918.1L239 918L240 917.9L241 917.8L242 917.7L243 917.6L244 917.5L245 917.4L246 917.3L247 917.2L248 917L249 916.9L250 916.7L251 916.6L252 916.4L253 916.2L254 916.1L255 915.9L256 915.7L257 915.4L258 915.2L259 915L260 914.7L261 914.5L262 914.2L263 913.9L264 913.6L265 913.3L266 913L267 912.6L268 912.3L269 911.9L270 911.5L271 911.2L272 910.8L273 910.3L274 909.9L275 909.5L276 909L277 908.5L278 908L279 907.5L280 907L281 906.5L282 905.9L283 905.4L284 904.8L285 904.2L286 903.6L287 903L288 902.4L289 901.7L290 901.1L291 900.4L292 899.8L293 899.1L294 898.4L295 897.7L296 897L297 896.2L298 895.5L299 894.8L300 894L301 893.3L302 892.5L303 891.8L304 891L305 890.3L306 889.5L307 888.7L308 888L309 887.2L310 886.5L311 885.8L312 885L313 884.3L314 883.6L315 882.9L316 882.2L317 881.6L318 880.9L319 880.3L320 879.7L321 879.2L322 878.6L323 878.1L324 877.6L325 877.2L326 876.7L327 876.4L328 876L329 875.7L330 875.5L331 875.2L332 875.1L333 874.9L334 874.9L335 874.8L336 874.8L337 874.9L338 875L339 875.1L340 875.3L341 875.6L342 875.9L343 876.2L344 876.6L345 877L346 877.5L347 878L348 878.5L349 879.1L350 879.8L351 880.4L352 881.1L353 881.8L354 882.5L355 883.3L356 884.1L357 884.9L358 885.7L359 886.5L360 887.4L361 888.3L362 889.1L363 890L364 890.9L365 891.8L366 892.7L367 893.6L368 894.5L369 895.4L370 896.3L371 897.2L372 898.1L373 899L374 899.9L375 900.8L376 901.6L377 902.5L378 903.3L379 904.2L380 905L381 905.8L382 906.6L383 907.4L384 908.2L385 909L386 909.8L387 910.5L388 911.2L389 911.9L390 912.6L391 913.3L392 914L393 914.7L394 915.3L395 915.9L396 916.6L397 917.1L398 917.7L399 918.3L400 918.9L401 919.4L402 919.9L403 920.4L404 920.9L405 921.4L406 921.9L407 922.3L408 922.8L409 923.2L410 923.6L411 924L412 924.4L413 924.8L414 925.2L415 925.5L416 925.9L417 926.2L418 926.5L419 926.8L420 927.1L421 927.4L422 927.7L423 928L424 928.3L425 928.5L426 928.8L427 929L428 929.3L429 929.5L430 929.7L431 929.9L432 930.1L433 930.3L434 930.5L435 930.7L436 930.9L437 931.1L438 931.3L439 931.4L440 931.6L441 931.8L442 931.9L443 932.1L444 932.2L445 932.4L446 932.5L447 932.7L448 932.8L449 932.9L450 933.1L451 933.2L452 933.3L453 933.5L454 933.6L455 933.7L456 933.8L457 933.9L458 934L459 934.2L460 934.3L461 934.4L462 934.5L463 934.6L464 934.7L465 934.8L466 934.9L467 935L468 935.1L469 935.2L470 935.3L471 935.4L472 935.5L473 935.6L474 935.7L475 935.8L476 935.9L477 936L478 936.1L479 936.2L480 936.3L481 936.3L482 936.4L483 936.5L484 936.6L485 936.7L486 936.8L487 936.9L488 937L489 937L490 937.1L491 937.2L492 937.3L493 937.4L494 937.5L495 937.6L496 937.6L497 937.7L498 937.8L499 937.9L500 938L501 938L502 938.1L503 938.2L504 938.3L505 938.4L506 938.4L507 938.5L508 938.6L509 938.7L510 938.8L511 938.8L512 938.9L513 939L514 939.1L515 939.1L516 939.2L517 939.3L518 939.4L519 939.5L520 939.5L521 939.6L522 939.7L523 939.8L524 939.8L525 939.9L526 940L527 940.1L528 940.1L529 940.2L530 940.3L531 940.4L532 940.4L533 940.5L534 940.6L535 940.7L536 940.7L537 940.8L538 940.9L539 941L540 941L541 941.1L542 941.2L543 941.2L544 941.3L545 941.4L546 941.5L547 941.5L548 941.6L549 941.7L550 941.7L551 941.8L552 941.9L553 942L554 942L555 942.1L556 942.2L557 942.2L558 942.3L559 942.4L560 942.5L561 942.5L562 942.6L563 942.7L564 942.7L565 942.8L566 942.9L567 942.9L568 943L569 943.1L570 943.2L571 943.2L572 943.3L573 943.4L574 943.4L575 943.5L576 943.6L577 943.6L578 943.7L579 943.8L580 943.9L581 943.9L582 944L583 944.1L584 944.1L585 944.2L586 944.3L587 944.3L588 944.4L589 944.5L590 944.5L591 944.6L592 944.7L593 944.7L594 944.8L595 944.9L596 944.9L597 945L598 945.1L599 945.2L600 945.2L601 945.3L602 945.4L603 945.4L604 945.5L605 945.6L606 945.6L607 945.7L608 945.8L609 945.8L610 945.9L611 946L612 946L613 946.1L614 946.2L615 946.2L615 946.8L614 946.7L613 946.7L612 946.6L611 946.5L610 946.5L609 946.4L608 946.4L607 946.3L606 946.2L605 946.2L604 946.1L603 946L602 946L601 945.9L600 945.9L599 945.8L598 945.7L597 945.7L596 945.6L595 945.5L594 945.5L593 945.4L592 945.3L591 945.3L590 945.2L589 945.2L588 945.1L587 945L586 945L585 944.9L584 944.8L583 944.8L582 944.7L581 944.7L580 944.6L579 944.5L578 944.5L577 944.4L576 944.3L575 944.3L574 944.2L573 944.2L572 944.1L571 944L570 944L569 943.9L568 943.8L567 943.8L566 943.7L565 943.6L564 943.6L563 943.5L562 943.5L561 943.4L560 943.3L559 943.3L558 943.2L557 943.1L556 943.1L555 943L554 943L553 942.9L552 942.8L551 942.8L550 942.7L549 942.6L548 942.6L547 942.5L546 942.4L545 942.4L544 942.3L543 942.3L542 942.2L541 942.1L540 942.1L539 942L538 941.9L537 941.9L536 941.8L535 941.8L534 941.7L533 941.6L532 941.6L531 941.5L530 941.4L529 941.4L528 941.3L527 941.3L526 941.2L525 941.1L524 941.1L523 941L522 940.9L521 940.9L520 940.8L519 940.7L518 940.7L517 940.6L516 940.6L515 940.5L514 940.4L513 940.4L512 940.3L511 940.2L510 940.2L509 940.1L508 940.1L507 940L506 939.9L505 939.9L504 939.8L503 939.7L502 939.7L501 939.6L500 939.5L499 939.5L498 939.4L497 939.4L496 939.3L495 939.2L494 939.2L493 939.1L492 939L491 939L490 938.9L489 938.9L488 938.8L487 938.7L486 938.7L485 938.6L484 938.5L483 938.5L482 938.4L481 938.4L480 938.3L479 938.2L478 938.2L477 938.1L476 938L475 938L474 937.9L473 937.8L472 937.8L471 937.7L470 937.7L469 937.6L468 937.5L467 937.5L466 937.4L465 937.3L464 937.3L463 937.2L462 937.2L461 937.1L460 937L459 937L458 936.9L457 936.8L456 936.8L455 936.7L454 936.6L453 936.6L452 936.5L451 936.5L450 936.4L449 936.3L448 936.3L447 936.2L446 936.1L445 936.1L444 936L443 936L442 935.9L441 935.8L440 935.8L439 935.7L438 935.6L437 935.6L436 935.5L435 935.5L434 935.4L433 935.3L432 935.3L431 935.2L430 935.1L429 935.1L428 935L427 934.9L426 934.9L425 934.8L424 934.8L423 934.7L422 934.6L421 934.6L420 934.5L419 934.4L418 934.4L417 934.3L416 934.3L415 934.2L414 934.1L413 934.1L412 934L411 933.9L410 933.9L409 933.8L408 933.8L407 933.7L406 933.6L405 933.6L404 933.5L403 933.4L402 933.4L401 933.3L400 933.2L399 933.2L398 933.1L397 933.1L396 933L395 932.9L394 932.9L393 932.8L392 932.7L391 932.7L390 932.6L389 932.6L388 932.5L387 932.4L386 932.4L385 932.3L384 932.2L383 932.2L382 932.1L381 932L380 932L379 931.9L378 931.9L377 931.8L376 931.7L375 931.7L374 931.6L373 931.5L372 931.5L371 931.4L370 931.4L369 931.3L368 931.2L367 931.2L366 931.1L365 931L364 931L363 930.9L362 930.9L361 930.8L360 930.7L359 930.7L358 930.6L357 930.5L356 930.5L355 930.4L354 930.3L353 930.3L352 930.2L351 930.2L350 930.1L349 930L348 930L347 929.9L346 929.8L345 929.8L344 929.7L343 929.7L342 929.6L341 929.5L340 929.5L339 929.4L338 929.3L337 929.3L336 929.2L335 929.1L334 929.1L333 929L332 929L331 928.9L330 928.8L329 928.8L328 928.7L327 928.6L326 928.6L325 928.5L324 928.5L323 928.4L322 928.3L321 928.3L320 928.2L319 928.1L318 928.1L317 928L316 927.9L315 927.9L314 927.8L313 927.8L312 927.7L311 927.6L310 927.6L309 927.5L308 927.4L307 927.4L306 927.3L305 927.3L304 927.2L303 927.1L302 927.1L301 927L300 926.9L299 926.9L298 926.8L297 926.8L296 926.7L295 926.6L294 926.6L293 926.5L292 926.4L291 926.4L290 926.3L289 926.2L288 926.2L287 926.1L286 926.1L285 926L284 925.9L283 925.9L282 925.8L281 925.7L280 925.7L279 925.6L278 925.6L277 925.5L276 925.4L275 925.4L274 925.3L273 925.2L272 925.2L271 925.1L270 925L269 925L268 924.9L267 924.9L266 924.8L265 924.7L264 924.7L263 924.6L262 924.5L261 924.5L260 924.4L259 924.4L258 924.3L257 924.2L256 924.2L255 924.1L254 924L253 924L252 923.9L251 923.9L250 923.8L249 923.7L248 923.7L247 923.6L246 923.5L245 923.5L244 923.4L243 923.3L242 923.3L241 923.2L240 923.2L239 923.1L238 923L237 923L236 922.9L235 922.8L234 922.8L233 922.7L232 922.7L231 922.6L230 922.5L229 922.5L228 922.4L227 922.3L226 922.3L225 922.2L224 922.1L223 922.1L222 922L221 922L220 921.9L219 921.8L218 921.8L217 921.7L216 921.6L215 921.6L214 921.5L213 921.5L212 921.4L211 921.3L210 921.3L209 921.2L208 921.1L207 921.1L206 921L205 921L204 920.9L203 920.8L202 920.8L201 920.7L200 920.6L199 920.6L198 920.5L197 920.4L196 920.4L195 920.3L194 920.3L193 920.2L192 920.1L191 920.1L190 920L189 919.9L188 919.9L187 919.8L186 919.8L185 919.7L184 919.6L183 919.6L182 919.5L181 919.4L180 919.4L179 919.3L178 919.2L177 919.2L176 919.1L175 919.1L174 919L173 918.9L172 918.9L171 918.8L170 918.7L169 918.7L168 918.6L167 918.6L166 918.5L165 918.4L164 918.4L163 918.3L162 918.2L161 918.2L160 918.1L159 918.1L158 918L157 917.9L156 917.9L155 917.8L154 917.7L153 917.7L152 917.6L151 917.5L150 917.5L149 917.4L148 917.4L147 917.3L146 917.2L145 917.2L144 917.1L143 917L142 917L141 916.9L140 916.9L139 916.8L138 916.7L137 916.7L136 916.6L135 916.5L134 916.5L133 916.4L132 916.4L131 916.3L130 916.2L129 916.2L128 916.1L127 916L126 916L125 915.9L124 915.8L123 915.8L122 915.7L121 915.7L120 915.6L119 915.5L118 915.5L117 915.4L116 915.3L115 915.3L114 915.2L113 915.2L112 915.1L111 915L110 915L109 914.9L108 914.8L107 914.8L106 914.7L105 914.6L104 914.6L103 914.5L102 914.5L101 914.4L100 914.3L99 914.3L98 914.2L97 914.1L96 914.1L95 914L94 914L93 913.9L92 913.8L91 913.8L90 913.7L89 913.6L88 913.6L87 913.5L86 913.5L85 913.4L84 913.3L83 913.3L82 913.2L81 913.1L80 913.1L79 913L78 912.9L77 912.9L76 912.8L75 912.8L74 912.7L73 912.6L72 912.6L71 912.5L70 912.4L69 912.4L68 912.3L67 912.3L66 912.2L65 912.1L64 912.1L63 912Z" fill="#ffff00"/><path d="M63 911.3L64 911.3L65 911.4L66 911.4L67 911.5L68 911.5L69 911.6L70 911.6L71 911.7L72 911.7L73 911.8L74 911.8L75 911.9L76 911.9L77 912L78 912L79 912.1L80 912.1L81 912.2L82 912.2L83 912.3L84 912.3L85 912.4L86 912.4L87 912.5L88 912.5L89 912.6L90 912.6L91 912.7L92 912.7L93 912.8L94 912.8L95 912.9L96 912.9L97 913L98 913L99 913.1L100 913.1L101 913.2L102 913.2L103 913.3L104 913.3L105 913.4L106 913.4L107 913.5L108 913.5L109 913.6L110 913.6L111 913.7L112 913.7L113 913.8L114 913.8L115 913.9L116 913.9L117 914L118 914L119 914.1L120 914.1L121 914.2L122 914.2L123 914.3L124 914.3L125 914.4L126 914.4L127 914.5L128 914.5L129 914.6L130 914.6L131 914.7L132 914.7L133 914.7L134 914.8L135 914.8L136 914.9L137 914.9L138 915L139 915L140 915.1L141 915.1L142 915.2L143 915.2L144 915.3L145 915.3L146 915.4L147 915.4L148 915.5L149 915.5L150 915.6L151 915.6L152 915.7L153 915.7L154 915.8L155 915.8L156 915.9L157 915.9L158 916L159 916L160 916.1L161 916.1L162 916.2L163 916.2L164 916.3L165 916.3L166 916.4L167 916.4L168 916.5L169 916.5L170 916.6L171 916.6L172 916.7L173 916.7L174 916.8L175 916.8L176 916.9L177 916.9L178 917L179 917L180 917.1L181 917.1L182 917.2L183 917.2L184 917.3L185 917.3L186 917.4L187 917.4L188 917.5L189 917.5L190 917.6L191 917.6L192 917.7L193 917.7L194 917.8L195 917.8L196 917.9L197 917.9L198 918L199 918L200 918.1L201 918.1L202 918.1L203 918.2L204 918.2L205 918.3L206 918.3L207 918.4L208 918.4L209 918.5L210 918.5L211 918.6L212 918.6L213 918.7L214 918.7L215 918.8L216 918.8L217 918.9L218 918.9L219 919L220 919L221 919.1L222 919.1L223 919.2L224 919.2L225 919.3L226 919.3L227 919.4L228 919.4L229 919.5L230 919.5L231 919.6L232 919.6L233 919.7L234 919.7L235 919.8L236 919.8L237 919.9L238 919.9L239 920L240 920L241 920.1L242 920.1L243 920.2L244 920.2L245 920.3L246 920.3L247 920.4L248 920.4L249 920.5L250 920.5L251 920.6L252 920.6L253 920.7L254 920.7L255 920.8L256 920.8L257 920.9L258 920.9L259 921L260 921L261 921.1L262 921.1L263 921.2L264 921.2L265 921.3L266 921.3L267 921.4L268 921.4L269 921.5L270 921.5L271 921.5L272 921.6L273 921.6L274 921.7L275 921.7L276 921.8L277 921.8L278 921.9L279 921.9L280 922L281 922L282 922.1L283 922.1L284 922.2L285 922.2L286 922.3L287 922.3L288 922.4L289 922.4L290 922.5L291 922.5L292 922.6L293 922.6L294 922.7L295 922.7L296 922.8L297 922.8L298 922.9L299 922.9L300 923L301 923L302 923.1L303 923.1L304 923.2L305 923.2L306 923.3L307 923.3L308 923.4L309 923.4L310 923.5L311 923.5L312 923.6L313 923.6L314 923.7L315 923.7L316 923.8L317 923.8L318 923.9L319 923.9L320 924L321 924L322 924.1L323 924.1L324 924.2L325 924.2L326 924.3L327 924.3L328 924.4L329 924.4L330 924.5L331 924.5L332 924.6L333 924.6L334 924.7L335 924.7L336 924.8L337 924.8L338 924.9L339 924.9L340 924.9L341 925L342 925L343 925.1L344 925.1L345 925.2L346 925.2L347 925.3L348 925.3L349 925.4L350 925.4L351 925.5L352 925.5L353 925.6L354 925.6L355 925.7L356 925.7L357 925.8L358 925.8L359 925.9L360 925.9L361 926L362 926L363 926.1L364 926.1L365 926.2L366 926.2L367 926.3L368 926.3L369 926.4L370 926.4L371 926.5L372 926.5L373 926.6L374 926.6L375 926.7L376 926.7L377 926.8L378 926.8L379 926.9L380 926.9L381 927L382 927L383 927.1L384 927.1L385 927.2L386 927.2L387 927.3L388 927.3L389 927.4L390 927.4L391 927.5L392 927.5L393 927.6L394 927.6L395 927.7L396 927.7L397 927.8L398 927.8L399 927.9L400 927.9L401 928L402 928L403 928.1L404 928.1L405 928.2L406 928.2L407 928.3L408 928.3L409 928.3L410 928.4L411 928.4L412 928.5L413 928.5L414 928.6L415 928.6L416 928.7L417 928.7L418 928.8L419 928.8L420 928.9L421 928.9L422 929L423 929L424 929.1L425 929.1L426 929.2L427 929.2L428 929.3L429 929.3L430 929.4L431 929.4L432 929.5L433 929.5L434 929.6L435 929.6L436 929.7L437 929.7L438 929.8L439 929.8L440 929.9L441 929.9L442 930L443 930L444 930.1L445 930.1L446 930.2L447 930.2L448 930.3L449 930.3L450 930.4L451 930.4L452 930.5L453 930.5L454 930.6L455 930.6L456 930.7L457 930.7L458 930.8L459 930.8L460 930.9L461 930.9L462 931L463 931L464 931.1L465 931.1L466 931.2L467 931.2L468 931.3L469 931.3L470 931.4L471 931.4L472 931.5L473 931.5L474 931.6L475 931.6L476 931.7L477 931.7L478 931.7L479 931.8L480 931.8L481 931.9L482 931.9L483 932L484 932L485 932.1L486 932.1L487 932.2L488 932.2L489 932.3L490 932.3L491 932.4L492 932.4L493 932.5L494 932.5L495 932.6L496 932.6L497 932.7L498 932.7L499 932.8L500 932.8L501 932.9L502 932.9L503 933L504 933L505 933.1L506 933.1L507 933.2L508 933.2L509 933.3L510 933.3L511 933.4L512 933.4L513 933.5L514 933.5L515 933.6L516 933.6L517 933.7L518 933.7L519 933.8L520 933.8L521 933.9L522 933.9L523 934L524 934L525 934.1L526 934.1L527 934.2L528 934.2L529 934.3L530 934.3L531 934.4L532 934.4L533 934.5L534 934.5L535 934.6L536 934.6L537 934.7L538 934.7L539 934.8L540 934.8L541 934.9L542 934.9L543 935L544 935L545 935.1L546 935.1L547 935.1L548 935.2L549 935.2L550 935.3L551 935.3L552 935.4L553 935.4L554 935.5L555 935.5L556 935.6L557 935.6L558 935.7L559 935.7L560 935.8L561 935.8L562 935.9L563 935.9L564 936L565 936L566 936.1L567 936.1L568 936.2L569 936.2L570 936.3L571 936.3L572 936.4L573 936.4L574 936.5L575 936.5L576 936.6L577 936.6L578 936.7L579 936.7L580 936.8L581 936.8L582 936.9L583 936.9L584 937L585 937L586 937.1L587 937.1L588 937.2L589 937.2L590 937.3L591 937.3L592 937.4L593 937.4L594 937.5L595 937.5L596 937.6L597 937.6L598 937.7L599 937.7L600 937.8L601 937.8L602 937.9L603 937.9L604 938L605 938L606 938.1L607 938.1L608 938.2L609 938.2L610 938.3L611 938.3L612 938.4L613 938.4L614 938.5L615 938.5L615 948.3L614 948.2L613 948.2L612 948.1L611 948L610 948L609 947.9L608 947.8L607 947.8L606 947.7L605 947.7L604 947.6L603 947.5L602 947.5L601 947.4L600 947.3L599 947.3L598 947.2L597 947.1L596 947.1L595 947L594 946.9L593 946.9L592 946.8L591 946.7L590 946.7L589 946.6L588 946.6L587 946.5L586 946.4L585 946.4L584 946.3L583 946.2L582 946.2L581 946.1L580 946L579 946L578 945.9L577 945.8L576 945.8L575 945.7L574 945.6L573 945.6L572 945.5L571 945.5L570 945.4L569 945.3L568 945.3L567 945.2L566 945.1L565 945.1L564 945L563 944.9L562 944.9L561 944.8L560 944.7L559 944.7L558 944.6L557 944.5L556 944.5L555 944.4L554 944.4L553 944.3L552 944.2L551 944.2L550 944.1L549 944L548 944L547 943.9L546 943.8L545 943.8L544 943.7L543 943.6L542 943.6L541 943.5L540 943.4L539 943.4L538 943.3L537 943.3L536 943.2L535 943.1L534 943.1L533 943L532 942.9L531 942.9L530 942.8L529 942.7L528 942.7L527 942.6L526 942.5L525 942.5L524 942.4L523 942.3L522 942.3L521 942.2L520 942.2L519 942.1L518 942L517 942L516 941.9L515 941.8L514 941.8L513 941.7L512 941.6L511 941.6L510 941.5L509 941.4L508 941.4L507 941.3L506 941.3L505 941.2L504 941.1L503 941.1L502 941L501 940.9L500 940.9L499 940.8L498 940.7L497 940.7L496 940.6L495 940.5L494 940.5L493 940.4L492 940.3L491 940.3L490 940.2L489 940.2L488 940.1L487 940L486 940L485 939.9L484 939.8L483 939.8L482 939.7L481 939.6L480 939.6L479 939.5L478 939.4L477 939.4L476 939.3L475 939.2L474 939.2L473 939.1L472 939.1L471 939L470 938.9L469 938.9L468 938.8L467 938.7L466 938.7L465 938.6L464 938.5L463 938.5L462 938.4L461 938.3L460 938.3L459 938.2L458 938.1L457 938.1L456 938L455 938L454 937.9L453 937.8L452 937.8L451 937.7L450 937.6L449 937.6L448 937.5L447 937.4L446 937.4L445 937.3L444 937.2L443 937.2L442 937.1L441 937L440 937L439 936.9L438 936.9L437 936.8L436 936.7L435 936.7L434 936.6L433 936.5L432 936.5L431 936.4L430 936.3L429 936.3L428 936.2L427 936.1L426 936.1L425 936L424 935.9L423 935.9L422 935.8L421 935.8L420 935.7L419 935.6L418 935.6L417 935.5L416 935.4L415 935.4L414 935.3L413 935.2L412 935.2L411 935.1L410 935L409 935L408 934.9L407 934.8L406 934.8L405 934.7L404 934.7L403 934.6L402 934.5L401 934.5L400 934.4L399 934.3L398 934.3L397 934.2L396 934.1L395 934.1L394 934L393 933.9L392 933.9L391 933.8L390 933.7L389 933.7L388 933.6L387 933.6L386 933.5L385 933.4L384 933.4L383 933.3L382 933.2L381 933.2L380 933.1L379 933L378 933L377 932.9L376 932.8L375 932.8L374 932.7L373 932.6L372 932.6L371 932.5L370 932.5L369 932.4L368 932.3L367 932.3L366 932.2L365 932.1L364 932.1L363 932L362 931.9L361 931.9L360 931.8L359 931.7L358 931.7L357 931.6L356 931.5L355 931.5L354 931.4L353 931.4L352 931.3L351 931.2L350 931.2L349 931.1L348 931L347 931L346 930.9L345 930.8L344 930.8L343 930.7L342 930.6L341 930.6L340 930.5L339 930.5L338 930.4L337 930.3L336 930.3L335 930.2L334 930.1L333 930.1L332 930L331 929.9L330 929.9L329 929.8L328 929.7L327 929.7L326 929.6L325 929.5L324 929.5L323 929.4L322 929.4L321 929.3L320 929.2L319 929.2L318 929.1L317 929L316 929L315 928.9L314 928.8L313 928.8L312 928.7L311 928.6L310 928.6L309 928.5L308 928.4L307 928.4L306 928.3L305 928.3L304 928.2L303 928.1L302 928.1L301 928L300 927.9L299 927.9L298 927.8L297 927.7L296 927.7L295 927.6L294 927.5L293 927.5L292 927.4L291 927.3L290 927.3L289 927.2L288 927.2L287 927.1L286 927L285 927L284 926.9L283 926.8L282 926.8L281 926.7L280 926.6L279 926.6L278 926.5L277 926.4L276 926.4L275 926.3L274 926.2L273 926.2L272 926.1L271 926.1L270 926L269 925.9L268 925.9L267 925.8L266 925.7L265 925.7L264 925.6L263 925.5L262 925.5L261 925.4L260 925.3L259 925.3L258 925.2L257 925.1L256 925.1L255 925L254 925L253 924.9L252 924.8L251 924.8L250 924.7L249 924.6L248 924.6L247 924.5L246 924.4L245 924.4L244 924.3L243 924.2L242 924.2L241 924.1L240 924L239 924L238 923.9L237 923.9L236 923.8L235 923.7L234 923.7L233 923.6L232 923.5L231 923.5L230 923.4L229 923.3L228 923.3L227 923.2L226 923.1L225 923.1L224 923L223 922.9L222 922.9L221 922.8L220 922.8L219 922.7L218 922.6L217 922.6L216 922.5L215 922.4L214 922.4L213 922.3L212 922.2L211 922.2L210 922.1L209 922L208 922L207 921.9L206 921.8L205 921.8L204 921.7L203 921.7L202 921.6L201 921.5L200 921.5L199 921.4L198 921.3L197 921.3L196 921.2L195 921.1L194 921.1L193 921L192 920.9L191 920.9L190 920.8L189 920.7L188 920.7L187 920.6L186 920.6L185 920.5L184 920.4L183 920.4L182 920.3L181 920.2L180 920.2L179 920.1L178 920L177 920L176 919.9L175 919.8L174 919.8L173 919.7L172 919.6L171 919.6L170 919.5L169 919.5L168 919.4L167 919.3L166 919.3L165 919.2L164 919.1L163 919.1L162 919L161 918.9L160 918.9L159 918.8L158 918.7L157 918.7L156 918.6L155 918.5L154 918.5L153 918.4L152 918.4L151 918.3L150 918.2L149 918.2L148 918.1L147 918L146 918L145 917.9L144 917.8L143 917.8L142 917.7L141 917.6L140 917.6L139 917.5L138 917.5L137 917.4L136 917.3L135 917.3L134 917.2L133 917.1L132 917.1L131 917L130 916.9L129 916.9L128 916.8L127 916.7L126 916.7L125 916.6L124 916.5L123 916.5L122 916.4L121 916.4L120 916.3L119 916.2L118 916.2L117 916.1L116 916L115 916L114 915.9L113 915.8L112 915.8L111 915.7L110 915.6L109 915.6L108 915.5L107 915.4L106 915.4L105 915.3L104 915.3L103 915.2L102 915.1L101 915.1L100 915L99 914.9L98 914.9L97 914.8L96 914.7L95 914.7L94 914.6L93 914.5L92 914.5L91 914.4L90 914.3L89 914.3L88 914.2L87 914.2L86 914.1L85 914L84 914L83 913.9L82 913.8L81 913.8L80 913.7L79 913.6L78 913.6L77 913.5L76 913.4L75 913.4L74 913.3L73 913.2L72 913.2L71 913.1L70 913.1L69 913L68 912.9L67 912.9L66 912.8L65 912.7L64 912.7L63 912.6Z" fill="#ffff00"/><path d="M63 911.2L64 911.2L65 911.3L66 911.3L67 911.4L68 911.4L69 911.5L70 911.5L71 911.6L72 911.6L73 911.7L74 911.7L75 911.8L76 911.8L77 911.9L78 911.9L79 912L80 912L81 912.1L82 912.1L83 912.2L84 912.2L85 912.3L86 912.3L87 912.4L88 912.4L89 912.4L90 912.5L91 912.5L92 912.6L93 912.6L94 912.7L95 912.7L96 912.8L97 912.8L98 912.9L99 912.9L100 913L101 913L102 913.1L103 913.1L104 913.2L105 913.2L106 913.3L107 913.3L108 913.4L109 913.4L110 913.5L111 913.5L112 913.6L113 913.6L114 913.7L115 913.7L116 913.8L117 913.8L118 913.9L119 913.9L120 914L121 914L122 914L123 914.1L124 914.1L125 914.2L126 914.2L127 914.3L128 914.3L129 914.4L130 914.4L131 914.5L132 914.5L133 914.6L134 914.6L135 914.7L136 914.7L137 914.8L138 914.8L139 914.9L140 914.9L141 915L142 915L143 915.1L144 915.1L145 915.2L146 915.2L147 915.3L148 915.3L149 915.3L150 915.4L151 915.4L152 915.5L153 915.5L154 915.6L155 915.6L156 915.7L157 915.7L158 915.8L159 915.8L160 915.9L161 915.9L162 916L163 916L164 916.1L165 916.1L166 916.2L167 916.2L168 916.3L169 916.3L170 916.4L171 916.4L172 916.5L173 916.5L174 916.5L175 916.6L176 916.6L177 916.7L178 916.7L179 916.8L180 916.8L181 916.9L182 916.9L183 917L184 917L185 917.1L186 917.1L187 917.2L188 917.2L189 917.3L190 917.3L191 917.4L192 917.4L193 917.5L194 917.5L195 917.5L196 917.6L197 917.6L198 917.7L199 917.7L200 917.8L201 917.8L202 917.9L203 917.9L204 918L205 918L206 918.1L207 918.1L208 918.2L209 918.2L210 918.3L211 918.3L212 918.3L213 918.4L214 918.4L215 918.5L216 918.5L217 918.6L218 918.6L219 918.7L220 918.7L221 918.8L222 918.8L223 918.9L224 918.9L225 919L226 919L227 919L228 919.1L229 919.1L230 919.2L231 919.2L232 919.3L233 919.3L234 919.4L235 919.4L236 919.5L237 919.5L238 919.5L239 919.6L240 919.6L241 919.7L242 919.7L243 919.8L244 919.8L245 919.9L246 919.9L247 919.9L248 920L249 920L250 920.1L251 920.1L252 920.2L253 920.2L254 920.2L255 920.3L256 920.3L257 920.4L258 920.4L259 920.4L260 920.5L261 920.5L262 920.6L263 920.6L264 920.6L265 920.7L266 920.7L267 920.8L268 920.8L269 920.8L270 920.9L271 920.9L272 920.9L273 921L274 921L275 921L276 921.1L277 921.1L278 921.1L279 921.2L280 921.2L281 921.2L282 921.2L283 921.3L284 921.3L285 921.3L286 921.3L287 921.4L288 921.4L289 921.4L290 921.4L291 921.4L292 921.5L293 921.5L294 921.5L295 921.5L296 921.5L297 921.5L298 921.5L299 921.5L300 921.5L301 921.5L302 921.5L303 921.5L304 921.5L305 921.5L306 921.5L307 921.5L308 921.5L309 921.4L310 921.4L311 921.4L312 921.4L313 921.4L314 921.3L315 921.3L316 921.3L317 921.2L318 921.2L319 921.1L320 921.1L321 921L322 921L323 920.9L324 920.8L325 920.8L326 920.7L327 920.6L328 920.5L329 920.5L330 920.4L331 920.3L332 920.2L333 920.1L334 920L335 919.9L336 919.7L337 919.6L338 919.5L339 919.4L340 919.2L341 919.1L342 918.9L343 918.8L344 918.6L345 918.5L346 918.3L347 918.1L348 918L349 917.8L350 917.6L351 917.4L352 917.2L353 917L354 916.8L355 916.5L356 916.3L357 916.1L358 915.8L359 915.6L360 915.3L361 915.1L362 914.8L363 914.5L364 914.3L365 914L366 913.7L367 913.4L368 913.1L369 912.8L370 912.5L371 912.2L372 911.9L373 911.5L374 911.2L375 910.9L376 910.5L377 910.2L378 909.8L379 909.4L380 909.1L381 908.7L382 908.3L383 908L384 907.6L385 907.2L386 906.8L387 906.4L388 906L389 905.6L390 905.2L391 904.8L392 904.4L393 904L394 903.6L395 903.2L396 902.8L397 902.3L398 901.9L399 901.5L400 901.1L401 900.7L402 900.2L403 899.8L404 899.4L405 899L406 898.6L407 898.2L408 897.8L409 897.4L410 896.9L411 896.5L412 896.1L413 895.8L414 895.4L415 895L416 894.6L417 894.2L418 893.9L419 893.5L420 893.1L421 892.8L422 892.4L423 892.1L424 891.8L425 891.5L426 891.1L427 890.8L428 890.6L429 890.3L430 890L431 889.7L432 889.5L433 889.2L434 889L435 888.8L436 888.6L437 888.4L438 888.2L439 888L440 887.9L441 887.7L442 887.6L443 887.5L444 887.4L445 887.3L446 887.2L447 887.2L448 887.1L449 887.1L450 887.1L451 887.1L452 887.1L453 887.1L454 887.2L455 887.2L456 887.3L457 887.4L458 887.5L459 887.6L460 887.7L461 887.8L462 887.9L463 888L464 888.2L465 888.4L466 888.5L467 888.7L468 888.9L469 889.1L470 889.3L471 889.5L472 889.7L473 890L474 890.2L475 890.5L476 890.7L477 891L478 891.3L479 891.6L480 891.9L481 892.2L482 892.5L483 892.8L484 893.1L485 893.5L486 893.8L487 894.2L488 894.5L489 894.9L490 895.2L491 895.6L492 896L493 896.4L494 896.8L495 897.1L496 897.5L497 897.9L498 898.4L499 898.8L500 899.2L501 899.6L502 900L503 900.4L504 900.9L505 901.3L506 901.7L507 902.1L508 902.6L509 903L510 903.5L511 903.9L512 904.3L513 904.8L514 905.2L515 905.7L516 906.1L517 906.6L518 907L519 907.4L520 907.9L521 908.3L522 908.8L523 909.2L524 909.7L525 910.1L526 910.5L527 911L528 911.4L529 911.8L530 912.3L531 912.7L532 913.1L533 913.6L534 914L535 914.4L536 914.8L537 915.2L538 915.6L539 916.1L540 916.5L541 916.9L542 917.3L543 917.7L544 918L545 918.4L546 918.8L547 919.2L548 919.6L549 920L550 920.3L551 920.7L552 921.1L553 921.4L554 921.8L555 922.1L556 922.5L557 922.8L558 923.2L559 923.5L560 923.8L561 924.1L562 924.5L563 924.8L564 925.1L565 925.4L566 925.7L567 926L568 926.3L569 926.6L570 926.9L571 927.2L572 927.4L573 927.7L574 928L575 928.2L576 928.5L577 928.8L578 929L579 929.3L580 929.5L581 929.8L582 930L583 930.2L584 930.4L585 930.7L586 930.9L587 931.1L588 931.3L589 931.5L590 931.7L591 931.9L592 932.1L593 932.3L594 932.5L595 932.7L596 932.9L597 933.1L598 933.3L599 933.4L600 933.6L601 933.8L602 933.9L603 934.1L604 934.2L605 934.4L606 934.6L607 934.7L608 934.9L609 935L610 935.1L611 935.3L612 935.4L613 935.6L614 935.7L615 935.8L615 938.5L614 938.5L613 938.4L612 938.4L611 938.3L610 938.3L609 938.2L608 938.2L607 938.1L606 938.1L605 938L604 938L603 937.9L602 937.9L601 937.8L600 937.8L599 937.7L598 937.7L597 937.6L596 937.6L595 937.5L594 937.5L593 937.4L592 937.4L591 937.3L590 937.3L589 937.2L588 937.2L587 937.1L586 937.1L585 937L584 937L583 936.9L582 936.9L581 936.8L580 936.8L579 936.7L578 936.7L577 936.6L576 936.6L575 936.5L574 936.5L573 936.4L572 936.4L571 936.3L570 936.3L569 936.2L568 936.2L567 936.1L566 936.1L565 936L564 936L563 935.9L562 935.9L561 935.8L560 935.8L559 935.7L558 935.7L557 935.6L556 935.6L555 935.5L554 935.5L553 935.4L552 935.4L551 935.3L550 935.3L549 935.2L548 935.2L547 935.1L546 935.1L545 935.1L544 935L543 935L542 934.9L541 934.9L540 934.8L539 934.8L538 934.7L537 934.7L536 934.6L535 934.6L534 934.5L533 934.5L532 934.4L531 934.4L530 934.3L529 934.3L528 934.2L527 934.2L526 934.1L525 934.1L524 934L523 934L522 933.9L521 933.9L520 933.8L519 933.8L518 933.7L517 933.7L516 933.6L515 933.6L514 933.5L513 933.5L512 933.4L511 933.4L510 933.3L509 933.3L508 933.2L507 933.2L506 933.1L505 933.1L504 933L503 933L502 932.9L501 932.9L500 932.8L499 932.8L498 932.7L497 932.7L496 932.6L495 932.6L494 932.5L493 932.5L492 932.4L491 932.4L490 932.3L489 932.3L488 932.2L487 932.2L486 932.1L485 932.1L484 932L483 932L482 931.9L481 931.9L480 931.8L479 931.8L478 931.7L477 931.7L476 931.7L475 931.6L474 931.6L473 931.5L472 931.5L471 931.4L470 931.4L469 931.3L468 931.3L467 931.2L466 931.2L465 931.1L464 931.1L463 931L462 931L461 930.9L460 930.9L459 930.8L458 930.8L457 930.7L456 930.7L455 930.6L454 930.6L453 930.5L452 930.5L451 930.4L450 930.4L449 930.3L448 930.3L447 930.2L446 930.2L445 930.1L444 930.1L443 930L442 930L441 929.9L440 929.9L439 929.8L438 929.8L437 929.7L436 929.7L435 929.6L434 929.6L433 929.5L432 929.5L431 929.4L430 929.4L429 929.3L428 929.3L427 929.2L426 929.2L425 929.1L424 929.1L423 929L422 929L421 928.9L420 928.9L419 928.8L418 928.8L417 928.7L416 928.7L415 928.6L414 928.6L413 928.5L412 928.5L411 928.4L410 928.4L409 928.3L408 928.3L407 928.3L406 928.2L405 928.2L404 928.1L403 928.1L402 928L401 928L400 927.9L399 927.9L398 927.8L397 927.8L396 927.7L395 927.7L394 927.6L393 927.6L392 927.5L391 927.5L390 927.4L389 927.4L388 927.3L387 927.3L386 927.2L385 927.2L384 927.1L383 927.1L382 927L381 927L380 926.9L379 926.9L378 926.8L377 926.8L376 926.7L375 926.7L374 926.6L373 926.6L372 926.5L371 926.5L370 926.4L369 926.4L368 926.3L367 926.3L366 926.2L365 926.2L364 926.1L363 926.1L362 926L361 926L360 925.9L359 925.9L358 925.8L357 925.8L356 925.7L355 925.7L354 925.6L353 925.6L352 925.5L351 925.5L350 925.4L349 925.4L348 925.3L347 925.3L346 925.2L345 925.2L344 925.1L343 925.1L342 925L341 925L340 924.9L339 924.9L338 924.9L337 924.8L336 924.8L335 924.7L334 924.7L333 924.6L332 924.6L331 924.5L330 924.5L329 924.4L328 924.4L327 924.3L326 924.3L325 924.2L324 924.2L323 924.1L322 924.1L321 924L320 924L319 923.9L318 923.9L317 923.8L316 923.8L315 923.7L314 923.7L313 923.6L312 923.6L311 923.5L310 923.5L309 923.4L308 923.4L307 923.3L306 923.3L305 923.2L304 923.2L303 923.1L302 923.1L301 923L300 923L299 922.9L298 922.9L297 922.8L296 922.8L295 922.7L294 922.7L293 922.6L292 922.6L291 922.5L290 922.5L289 922.4L288 922.4L287 922.3L286 922.3L285 922.2L284 922.2L283 922.1L282 922.1L281 922L280 922L279 921.9L278 921.9L277 921.8L276 921.8L275 921.7L274 921.7L273 921.6L272 921.6L271 921.5L270 921.5L269 921.5L268 921.4L267 921.4L266 921.3L265 921.3L264 921.2L263 921.2L262 921.1L261 921.1L260 921L259 921L258 920.9L257 920.9L256 920.8L255 920.8L254 920.7L253 920.7L252 920.6L251 920.6L250 920.5L249 920.5L248 920.4L247 920.4L246 920.3L245 920.3L244 920.2L243 920.2L242 920.1L241 920.1L240 920L239 920L238 919.9L237 919.9L236 919.8L235 919.8L234 919.7L233 919.7L232 919.6L231 919.6L230 919.5L229 919.5L228 919.4L227 919.4L226 919.3L225 919.3L224 919.2L223 919.2L222 919.1L221 919.1L220 919L219 919L218 918.9L217 918.9L216 918.8L215 918.8L214 918.7L213 918.7L212 918.6L211 918.6L210 918.5L209 918.5L208 918.4L207 918.4L206 918.3L205 918.3L204 918.2L203 918.2L202 918.1L201 918.1L200 918.1L199 918L198 918L197 917.9L196 917.9L195 917.8L194 917.8L193 917.7L192 917.7L191 917.6L190 917.6L189 917.5L188 917.5L187 917.4L186 917.4L185 917.3L184 917.3L183 917.2L182 917.2L181 917.1L180 917.1L179 917L178 917L177 916.9L176 916.9L175 916.8L174 916.8L173 916.7L172 916.7L171 916.6L170 916.6L169 916.5L168 916.5L167 916.4L166 916.4L165 916.3L164 916.3L163 916.2L162 916.2L161 916.1L160 916.1L159 916L158 916L157 915.9L156 915.9L155 915.8L154 915.8L153 915.7L152 915.7L151 915.6L150 915.6L149 915.5L148 915.5L147 915.4L146 915.4L145 915.3L144 915.3L143 915.2L142 915.2L141 915.1L140 915.1L139 915L138 915L137 914.9L136 914.9L135 914.8L134 914.8L133 914.7L132 914.7L131 914.7L130 914.6L129 914.6L128 914.5L127 914.5L126 914.4L125 914.4L124 914.3L123 914.3L122 914.2L121 914.2L120 914.1L119 914.1L118 914L117 914L116 913.9L115 913.9L114 913.8L113 913.8L112 913.7L111 913.7L110 913.6L109 913.6L108 913.5L107 913.5L106 913.4L105 913.4L104 913.3L103 913.3L102 913.2L101 913.2L100 913.1L99 913.1L98 913L97 913L96 912.9L95 912.9L94 912.8L93 912.8L92 912.7L91 912.7L90 912.6L89 912.6L88 912.5L87 912.5L86 912.4L85 912.4L84 912.3L83 912.3L82 912.2L81 912.2L80 912.1L79 912.1L78 912L77 912L76 911.9L75 911.9L74 911.8L73 911.8L72 911.7L71 911.7L70 911.6L69 911.6L68 911.5L67 911.5L66 911.4L65 911.4L64 911.3L63 911.3Z" fill="#808000"/><path d="M63 912.6L64 912.7L65 912.7L66 912.8L67 912.9L68 912.9L69 913L70 913.1L71 913.1L72 913.2L73 913.2L74 913.3L75 913.4L76 913.4L77 913.5L78 913.6L79 913.6L80 913.7L81 913.8L82 913.8L83 913.9L84 914L85 914L86 914.1L87 914.2L88 914.2L89 914.3L90 914.3L91 914.4L92 914.5L93 914.5L94 914.6L95 914.7L96 914.7L97 914.8L98 914.9L99 914.9L100 915L101 915.1L102 915.1L103 915.2L104 915.3L105 915.3L106 915.4L107 915.4L108 915.5L109 915.6L110 915.6L111 915.7L112 915.8L113 915.8L114 915.9L115 916L116 916L117 916.1L118 916.2L119 916.2L120 916.3L121 916.4L122 916.4L123 916.5L124 916.5L125 916.6L126 916.7L127 916.7L128 916.8L129 916.9L130 916.9L131 917L132 917.1L133 917.1L134 917.2L135 917.3L136 917.3L137 917.4L138 917.5L139 917.5L140 917.6L141 917.6L142 917.7L143 917.8L144 917.8L145 917.9L146 918L147 918L148 918.1L149 918.2L150 918.2L151 918.3L152 918.4L153 918.4L154 918.5L155 918.5L156 918.6L157 918.7L158 918.7L159 918.8L160 918.9L161 918.9L162 919L163 919.1L164 919.1L165 919.2L166 919.3L167 919.3L168 919.4L169 919.5L170 919.5L171 919.6L172 919.6L173 919.7L174 919.8L175 919.8L176 919.9L177 920L178 920L179 920.1L180 920.2L181 920.2L182 920.3L183 920.4L184 920.4L185 920.5L186 920.6L187 920.6L188 920.7L189 920.7L190 920.8L191 920.9L192 920.9L193 921L194 921.1L195 921.1L196 921.2L197 921.3L198 921.3L199 921.4L200 921.5L201 921.5L202 921.6L203 921.7L204 921.7L205 921.8L206 921.8L207 921.9L208 922L209 922L210 922.1L211 922.2L212 922.2L213 922.3L214 922.4L215 922.4L216 922.5L217 922.6L218 922.6L219 922.7L220 922.8L221 922.8L222 922.9L223 922.9L224 923L225 923.1L226 923.1L227 923.2L228 923.3L229 923.3L230 923.4L231 923.5L232 923.5L233 923.6L234 923.7L235 923.7L236 923.8L237 923.9L238 923.9L239 924L240 924L241 924.1L242 924.2L243 924.2L244 924.3L245 924.4L246 924.4L247 924.5L248 924.6L249 924.6L250 924.7L251 924.8L252 924.8L253 924.9L254 925L255 925L256 925.1L257 925.1L258 925.2L259 925.3L260 925.3L261 925.4L262 925.5L263 925.5L264 925.6L265 925.7L266 925.7L267 925.8L268 925.9L269 925.9L270 926L271 926.1L272 926.1L273 926.2L274 926.2L275 926.3L276 926.4L277 926.4L278 926.5L279 926.6L280 926.6L281 926.7L282 926.8L283 926.8L284 926.9L285 927L286 927L287 927.1L288 927.2L289 927.2L290 927.3L291 927.3L292 927.4L293 927.5L294 927.5L295 927.6L296 927.7L297 927.7L298 927.8L299 927.9L300 927.9L301 928L302 928.1L303 928.1L304 928.2L305 928.3L306 928.3L307 928.4L308 928.4L309 928.5L310 928.6L311 928.6L312 928.7L313 928.8L314 928.8L315 928.9L316 929L317 929L318 929.1L319 929.2L320 929.2L321 929.3L322 929.4L323 929.4L324 929.5L325 929.5L326 929.6L327 929.7L328 929.7L329 929.8L330 929.9L331 929.9L332 930L333 930.1L334 930.1L335 930.2L336 930.3L337 930.3L338 930.4L339 930.5L340 930.5L341 930.6L342 930.6L343 930.7L344 930.8L345 930.8L346 930.9L347 931L348 931L349 931.1L350 931.2L351 931.2L352 931.3L353 931.4L354 931.4L355 931.5L356 931.5L357 931.6L358 931.7L359 931.7L360 931.8L361 931.9L362 931.9L363 932L364 932.1L365 932.1L366 932.2L367 932.3L368 932.3L369 932.4L370 932.5L371 932.5L372 932.6L373 932.6L374 932.7L375 932.8L376 932.8L377 932.9L378 933L379 933L380 933.1L381 933.2L382 933.2L383 933.3L384 933.4L385 933.4L386 933.5L387 933.6L388 933.6L389 933.7L390 933.7L391 933.8L392 933.9L393 933.9L394 934L395 934.1L396 934.1L397 934.2L398 934.3L399 934.3L400 934.4L401 934.5L402 934.5L403 934.6L404 934.7L405 934.7L406 934.8L407 934.8L408 934.9L409 935L410 935L411 935.1L412 935.2L413 935.2L414 935.3L415 935.4L416 935.4L417 935.5L418 935.6L419 935.6L420 935.7L421 935.8L422 935.8L423 935.9L424 935.9L425 936L426 936.1L427 936.1L428 936.2L429 936.3L430 936.3L431 936.4L432 936.5L433 936.5L434 936.6L435 936.7L436 936.7L437 936.8L438 936.9L439 936.9L440 937L441 937L442 937.1L443 937.2L444 937.2L445 937.3L446 937.4L447 937.4L448 937.5L449 937.6L450 937.6L451 937.7L452 937.8L453 937.8L454 937.9L455 938L456 938L457 938.1L458 938.1L459 938.2L460 938.3L461 938.3L462 938.4L463 938.5L464 938.5L465 938.6L466 938.7L467 938.7L468 938.8L469 938.9L470 938.9L471 939L472 939.1L473 939.1L474 939.2L475 939.2L476 939.3L477 939.4L478 939.4L479 939.5L480 939.6L481 939.6L482 939.7L483 939.8L484 939.8L485 939.9L486 940L487 940L488 940.1L489 940.2L490 940.2L491 940.3L492 940.3L493 940.4L494 940.5L495 940.5L496 940.6L497 940.7L498 940.7L499 940.8L500 940.9L501 940.9L502 941L503 941.1L504 941.1L505 941.2L506 941.3L507 941.3L508 941.4L509 941.4L510 941.5L511 941.6L512 941.6L513 941.7L514 941.8L515 941.8L516 941.9L517 942L518 942L519 942.1L520 942.2L521 942.2L522 942.3L523 942.3L524 942.4L525 942.5L526 942.5L527 942.6L528 942.7L529 942.7L530 942.8L531 942.9L532 942.9L533 943L534 943.1L535 943.1L536 943.2L537 943.3L538 943.3L539 943.4L540 943.4L541 943.5L542 943.6L543 943.6L544 943.7L545 943.8L546 943.8L547 943.9L548 944L549 944L550 944.1L551 944.2L552 944.2L553 944.3L554 944.4L555 944.4L556 944.5L557 944.5L558 944.6L559 944.7L560 944.7L561 944.8L562 944.9L563 944.9L564 945L565 945.1L566 945.1L567 945.2L568 945.3L569 945.3L570 945.4L571 945.5L572 945.5L573 945.6L574 945.6L575 945.7L576 945.8L577 945.8L578 945.9L579 946L580 946L581 946.1L582 946.2L583 946.2L584 946.3L585 946.4L586 946.4L587 946.5L588 946.6L589 946.6L590 946.7L591 946.7L592 946.8L593 946.9L594 946.9L595 947L596 947.1L597 947.1L598 947.2L599 947.3L600 947.3L601 947.4L602 947.5L603 947.5L604 947.6L605 947.7L606 947.7L607 947.8L608 947.8L609 947.9L610 948L611 948L612 948.1L613 948.2L614 948.2L615 948.3" fill="none" stroke="#00ee00" stroke-width="2"/><line x1="126.7" y1="728.3" x2="134.9" y2="800.9" stroke="#0000ff" stroke-width="3.4"/><path d="M137.1 820L128.4 796.8L140.4 795.5Z" fill="#0000ff"/><line x1="188.8" y1="715.8" x2="186.7" y2="771.6" stroke="#00ffff" stroke-width="3.4"/><path d="M186 790.8L180.9 766.6L192.9 767Z" fill="#00ffff"/><line x1="249.9" y1="672.7" x2="244" y2="737.4" stroke="#ff00ff" stroke-width="3.4"/><path d="M242.3 756.5L238.5 732.1L250.4 733.1Z" fill="#ff00ff"/><line x1="353.8" y1="711" x2="350.1" y2="778.2" stroke="#ffff00" stroke-width="3.4"/><path d="M349 797.4L344.3 773.1L356.3 773.8Z" fill="#ffff00"/><line x1="467.7" y1="735.6" x2="467.7" y2="812.4" stroke="#808000" stroke-width="3.4"/><path d="M467.7 831.6L461.7 807.6L473.7 807.6Z" fill="#808000"/><text x="112.6" y="717" font-size="29.09" font-weight="bold" text-anchor="start" fill="#000">N1</text><text x="169.1" y="703.8" font-size="29.4" font-weight="bold" text-anchor="start" fill="#000">N2</text><text x="238.2" y="657.7" font-size="29.66" font-weight="bold" text-anchor="start" fill="#000">N3</text><text x="338.3" y="702.2" font-size="29.66" font-weight="bold" text-anchor="start" fill="#000">N4</text><text x="444" y="727" font-size="30.26" font-weight="bold" text-anchor="start" fill="#000">N5</text><text x="532.5" y="648.6" font-size="29.64" font-weight="bold" text-anchor="start" fill="#000">N 1S</text><text x="572.4" y="1026.3" font-size="43.0" font-weight="bold" text-anchor="start" fill="#000">d</text><rect x="63" y="606.5" width="552.7" height="445.4" fill="none" stroke="#000" stroke-width="3.2"/><line x1="63" y1="1051.9" x2="63" y2="1060.4" stroke="#000" stroke-width="3.0"/><line x1="247.2" y1="1051.9" x2="247.2" y2="1060.4" stroke="#000" stroke-width="3.0"/><line x1="431.5" y1="1051.9" x2="431.5" y2="1060.4" stroke="#000" stroke-width="3.0"/><line x1="615.7" y1="1051.9" x2="615.7" y2="1060.4" stroke="#000" stroke-width="3.0"/><line x1="155.1" y1="1051.9" x2="155.1" y2="1056.4" stroke="#000" stroke-width="3.0"/><line x1="339.4" y1="1051.9" x2="339.4" y2="1056.4" stroke="#000" stroke-width="3.0"/><line x1="523.6" y1="1051.9" x2="523.6" y2="1056.4" stroke="#000" stroke-width="3.0"/><text x="63" y="1089" font-size="29.9" font-weight="bold" text-anchor="middle" fill="#000">395</text><text x="247.2" y="1089" font-size="29.9" font-weight="bold" text-anchor="middle" fill="#000">400</text><text x="431.5" y="1089" font-size="29.9" font-weight="bold" text-anchor="middle" fill="#000">405</text><text x="615.7" y="1089" font-size="29.9" font-weight="bold" text-anchor="middle" fill="#000">410</text><text x="339.4" y="1137.5" font-size="29.4" font-weight="bold" text-anchor="middle" fill="#000">Binding Energy (eV)</text><text x="0" y="0" font-size="29.4" font-weight="bold" text-anchor="middle" transform="translate(27.1 820.3) rotate(-90)">Intensity(a.u.)</text><path d="M808.3 931L810.2 921.2L812.1 937.4L814 964.4L815.9 928.2L817.8 910.3L819.7 917.3L821.6 976.6L823.5 927.7L825.4 908.6L827.3 928.8L829.2 942.7L831.1 942.4L833 978.7L834.9 931.5L836.8 900.3L838.7 970.6L840.6 942.5L842.5 942.8L844.4 920.3L846.3 912.1L848.2 972.3L850.1 901.1L852 921.7L853.9 909.6L855.8 969.2L857.7 943.4L859.6 919.7L861.5 952.4L863.4 980.7L865.3 913.9L867.2 915.4L869.1 945.2L871 941.6L872.9 909.9L874.8 921.3L876.7 935.6L878.6 955.9L880.5 901.8L882.4 951.5L884.3 947.7L886.2 983.3L888.1 880.8L890 928.1L891.9 926.9L893.8 971.3L895.7 908.8L897.6 923.2L899.5 942L901.4 950.3L903.3 947.5L905.2 905.9L907.1 981.6L909 919.7L910.9 946.2L912.8 958.4L914.7 927.3L916.6 948.3L918.5 899.7L920.4 931.8L922.3 921.3L924.2 896.7L926.1 915.5L928 910L929.9 931.7L931.8 904.6L933.7 888.8L935.6 897.8L937.5 886.8L939.4 909.1L941.3 885.4L943.2 852.1L945.1 827.8L947 854.1L948.9 815.1L950.8 773.3L952.7 782.1L954.6 738.5L956.5 762.7L958.4 740.4L960.3 710.1L962.2 709.1L964.1 684.2L966 730.7L967.9 707.4L969.8 714.3L971.7 724.4L973.6 705.9L975.5 708.3L977.4 714.1L979.3 729.5L981.2 722.1L983.1 736.4L985 752L986.9 755.5L988.8 748.2L990.7 739.1L992.6 740.7L994.5 749.9L996.4 752.8L998.3 745.8L1000.2 722.6L1002.1 730.1L1004 723L1005.9 735.3L1007.8 705.7L1009.7 734.1L1011.6 728.5L1013.5 727.3L1015.4 767.5L1017.3 770.6L1019.2 739.1L1021.1 774.2L1023 795.6L1024.9 815.6L1026.8 800.8L1028.7 837.3L1030.6 847.5L1032.5 845.2L1034.4 876L1036.3 868.1L1038.2 882.5L1040.1 876.7L1042 900.2L1043.9 904.6L1045.8 897.5L1047.7 893.6L1049.6 907.6L1051.5 913.2L1053.4 914.2L1055.3 910.2L1057.2 928.2L1059.1 911.8L1061 923.9L1062.9 956.1L1064.8 907.1L1066.7 926.1L1068.6 931.8L1070.5 910.2L1072.4 897.2L1074.3 905.4L1076.2 880.9L1078.1 925L1080 923L1081.9 938.7L1083.8 962.9L1085.7 926.9L1087.6 926.9L1089.5 932.4L1091.4 911.2L1093.3 889L1095.2 904L1097.1 922.2L1099 917.6L1100.9 917.7L1102.8 902.8L1104.7 915L1106.6 905.4L1108.5 907.1L1110.4 881.8L1112.3 888.9L1114.2 905.4L1116.1 935.3L1118 904.3L1119.9 913.4L1121.8 938.8L1123.7 904.1L1125.6 890.9L1127.5 855.8L1129.4 889L1131.3 921.3L1133.2 875.5L1135.1 889.3L1137 893.5L1138.9 902.5L1140.8 876.9L1142.7 916.1L1144.6 912.5L1146.5 880.4L1148.4 854L1150.3 917.4L1152.2 909.9L1154.1 909.8L1156 873.5L1157.9 896.2L1159.8 909.5L1161.7 921.8L1163.6 916.5L1165.5 940.2L1167.4 898.5L1169.3 898.4L1171.2 924.1L1173.1 952L1175 901.3L1176.9 900.1L1178.8 966.8L1180.7 917.7L1182.6 936.4L1184.5 964.1L1186.4 915.7L1188.3 940.1L1190.2 949.5L1192.1 937L1194 934.5L1195.9 928.3L1197.8 934.8L1199.7 965.9L1201.6 899L1203.5 954.2L1205.4 946.2L1207.3 948.5L1209.2 949.2L1211.1 948.2L1213 962.4L1214.9 909.1L1216.8 966.8L1218.7 965.9L1220.6 953.6L1222.5 951L1224.4 972.4L1226.3 949" fill="none" stroke="#4d4d4d" stroke-width="2.3" stroke-linejoin="round"/><path d="M808.3 929.5L809.3 929.5L810.3 929.5L811.3 929.6L812.3 929.6L813.3 929.6L814.3 929.6L815.3 929.6L816.3 929.6L817.3 929.7L818.3 929.7L819.3 929.7L820.3 929.7L821.3 929.7L822.3 929.7L823.3 929.8L824.3 929.8L825.3 929.8L826.3 929.8L827.3 929.8L828.3 929.8L829.3 929.8L830.3 929.8L831.3 929.8L832.3 929.9L833.3 929.9L834.3 929.9L835.3 929.9L836.3 929.9L837.3 929.9L838.3 929.9L839.3 929.9L840.3 929.9L841.3 929.9L842.3 929.9L843.3 929.9L844.3 929.9L845.3 929.9L846.3 929.9L847.3 930L848.3 930L849.3 930L850.3 930L851.3 930L852.3 930L853.3 930L854.3 930L855.3 930L856.3 930L857.3 930L858.3 930L859.3 930L860.3 930L861.3 930L862.3 930L863.3 930L864.3 930L865.3 930L866.3 930L867.3 930L868.3 930L869.3 930L870.3 930L871.3 930L872.3 930L873.3 930L874.3 930L875.3 930L876.3 930L877.3 930L878.3 930L879.3 930L880.3 930L881.3 930L882.3 930L883.3 930L884.3 930L885.3 930L886.3 930L887.3 930L888.3 930L889.3 930L890.3 930L891.3 930L892.3 929.9L893.3 929.9L894.3 929.9L895.3 929.9L896.3 929.9L897.3 929.9L898.3 929.9L899.3 929.9L900.3 929.8L901.3 929.8L902.3 929.8L903.3 929.8L904.3 929.8L905.3 929.8L906.3 929.7L907.3 929.7L908.3 929.7L909.3 929.7L910.3 929.6L911.3 929.6L912.3 929.6L913.3 929.6L914.3 929.5L915.3 929.5L916.3 929.4L917.3 929.3L918.3 929.1L919.3 928.9L920.3 928.6L921.3 928.3L922.3 927.9L923.3 927.5L924.3 927L925.3 926.5L926.3 925.9L927.3 925.3L928.3 924.6L929.3 923.2L930.3 921.1L931.3 918.5L932.3 915.4L933.3 911.8L934.3 908L935.3 903.9L936.3 899.6L937.3 894.6L938.3 888.1L939.3 880.7L940.3 872.8L941.3 865L942.3 858L943.3 851.4L944.3 844.9L945.3 838.5L946.3 832.1L947.3 825.3L948.3 818.2L949.3 810.5L950.3 801.7L951.3 792.4L952.3 782.9L953.3 773.5L954.3 764.8L955.3 757L956.3 750.4L957.3 744.1L958.3 738L959.3 732.2L960.3 727L961.3 722.5L962.3 718.9L963.3 716.3L964.3 714.2L965.3 712.2L966.3 710.5L967.3 709.2L968.3 708.3L969.3 708L970.3 708.4L971.3 709.4L972.3 710.9L973.3 712.9L974.3 715.1L975.3 717.5L976.3 720.1L977.3 722.5L978.3 725L979.3 728.1L980.3 731.7L981.3 735.8L982.3 740.1L983.3 744.3L984.3 748.3L985.3 751.9L986.3 754.9L987.3 757L988.3 758.1L989.3 758L990.3 756.7L991.3 754.4L992.3 751.5L993.3 748.2L994.3 744.7L995.3 741.3L996.3 738.2L997.3 735.7L998.3 733.4L999.3 730.9L1000.3 728.4L1001.3 725.9L1002.3 723.6L1003.3 721.5L1004.3 719.8L1005.3 718.5L1006.3 717.8L1007.3 717.8L1008.3 718.5L1009.3 720L1010.3 722.1L1011.3 724.7L1012.3 727.5L1013.3 730.6L1014.3 733.8L1015.3 737.8L1016.3 742.8L1017.3 748.7L1018.3 755.2L1019.3 762L1020.3 769L1021.3 775.9L1022.3 782.7L1023.3 790.2L1024.3 798.1L1025.3 806.2L1026.3 814.5L1027.3 822.6L1028.3 830.5L1029.3 837.9L1030.3 844.7L1031.3 850.7L1032.3 856.2L1033.3 861.7L1034.3 867L1035.3 872.1L1036.3 877L1037.3 881.4L1038.3 885.5L1039.3 889.1L1040.3 892.1L1041.3 894.6L1042.3 896.8L1043.3 898.9L1044.3 900.9L1045.3 902.8L1046.3 904.5L1047.3 906.2L1048.3 907.7L1049.3 909.2L1050.3 910.5L1051.3 911.7L1052.3 912.8L1053.3 913.8L1054.3 914.7L1055.3 915.5L1056.3 916.3L1057.3 917L1058.3 917.8L1059.3 918.5L1060.3 919.2L1061.3 919.8L1062.3 920.4L1063.3 921L1064.3 921.5L1065.3 921.9L1066.3 922.3L1067.3 922.6L1068.3 922.8L1069.3 923L1070.3 923L1071.3 923L1072.3 922.9L1073.3 922.8L1074.3 922.7L1075.3 922.6L1076.3 922.4L1077.3 922.2L1078.3 922L1079.3 921.8L1080.3 921.6L1081.3 921.4L1082.3 921.2L1083.3 920.9L1084.3 920.7L1085.3 920.5L1086.3 920.2L1087.3 919.9L1088.3 919.6L1089.3 919.3L1090.3 919L1091.3 918.6L1092.3 918.2L1093.3 917.8L1094.3 917.4L1095.3 917L1096.3 916.5L1097.3 916.1L1098.3 915.6L1099.3 915.1L1100.3 914.5L1101.3 913.9L1102.3 913.2L1103.3 912.4L1104.3 911.6L1105.3 910.7L1106.3 909.8L1107.3 908.8L1108.3 907.9L1109.3 906.9L1110.3 905.9L1111.3 905L1112.3 904.1L1113.3 903.3L1114.3 902.5L1115.3 901.8L1116.3 901.1L1117.3 900.3L1118.3 899.6L1119.3 898.8L1120.3 898L1121.3 897.3L1122.3 896.6L1123.3 895.9L1124.3 895.3L1125.3 894.7L1126.3 894.2L1127.3 893.8L1128.3 893.5L1129.3 893.4L1130.3 893.3L1131.3 893.3L1132.3 893.4L1133.3 893.6L1134.3 893.8L1135.3 894L1136.3 894.3L1137.3 894.7L1138.3 895L1139.3 895.4L1140.3 895.8L1141.3 896.3L1142.3 896.7L1143.3 897.2L1144.3 897.7L1145.3 898.2L1146.3 898.7L1147.3 899.5L1148.3 900.3L1149.3 901.2L1150.3 902.2L1151.3 903.3L1152.3 904.4L1153.3 905.6L1154.3 906.8L1155.3 907.9L1156.3 909.1L1157.3 910.2L1158.3 911.3L1159.3 912.3L1160.3 913.3L1161.3 914.2L1162.3 915.1L1163.3 916L1164.3 917L1165.3 917.9L1166.3 918.8L1167.3 919.7L1168.3 920.6L1169.3 921.4L1170.3 922.3L1171.3 923.2L1172.3 924L1173.3 924.8L1174.3 925.7L1175.3 926.5L1176.3 927.3L1177.3 928L1178.3 928.8L1179.3 929.5L1180.3 930.2L1181.3 930.9L1182.3 931.6L1183.3 932.3L1184.3 933L1185.3 933.6L1186.3 934.3L1187.3 935L1188.3 935.6L1189.3 936.2L1190.3 936.8L1191.3 937.4L1192.3 938L1193.3 938.6L1194.3 939.2L1195.3 939.7L1196.3 940.2L1197.3 940.7L1198.3 941.2L1199.3 941.7L1200.3 942.1L1201.3 942.6L1202.3 943L1203.3 943.4L1204.3 943.9L1205.3 944.3L1206.3 944.7L1207.3 945.1L1208.3 945.5L1209.3 945.9L1210.3 946.3L1211.3 946.7L1212.3 947L1213.3 947.4L1214.3 947.8L1215.3 948.1L1216.3 948.4L1217.3 948.8L1218.3 949.1L1219.3 949.4L1220.3 949.7L1221.3 950L1222.3 950.2L1223.3 950.5L1224.3 950.7L1225.3 951L1226.3 951.2L1227.3 951.4L1227.3 953.4L1226.3 953.3L1225.3 953.3L1224.3 953.2L1223.3 953.1L1222.3 953.1L1221.3 953L1220.3 953L1219.3 952.9L1218.3 952.9L1217.3 952.8L1216.3 952.8L1215.3 952.7L1214.3 952.6L1213.3 952.6L1212.3 952.5L1211.3 952.5L1210.3 952.4L1209.3 952.4L1208.3 952.3L1207.3 952.3L1206.3 952.2L1205.3 952.1L1204.3 952.1L1203.3 952L1202.3 952L1201.3 951.9L1200.3 951.9L1199.3 951.8L1198.3 951.8L1197.3 951.7L1196.3 951.6L1195.3 951.6L1194.3 951.5L1193.3 951.5L1192.3 951.4L1191.3 951.4L1190.3 951.3L1189.3 951.3L1188.3 951.2L1187.3 951.1L1186.3 951.1L1185.3 951L1184.3 951L1183.3 950.9L1182.3 950.9L1181.3 950.8L1180.3 950.8L1179.3 950.7L1178.3 950.6L1177.3 950.6L1176.3 950.5L1175.3 950.5L1174.3 950.4L1173.3 950.4L1172.3 950.3L1171.3 950.2L1170.3 950.2L1169.3 950.1L1168.3 950.1L1167.3 950L1166.3 950L1165.3 949.9L1164.3 949.9L1163.3 949.8L1162.3 949.7L1161.3 949.7L1160.3 949.6L1159.3 949.6L1158.3 949.5L1157.3 949.5L1156.3 949.4L1155.3 949.4L1154.3 949.3L1153.3 949.2L1152.3 949.2L1151.3 949.1L1150.3 949.1L1149.3 949L1148.3 949L1147.3 948.9L1146.3 948.9L1145.3 948.8L1144.3 948.7L1143.3 948.7L1142.3 948.6L1141.3 948.6L1140.3 948.5L1139.3 948.5L1138.3 948.4L1137.3 948.4L1136.3 948.3L1135.3 948.2L1134.3 948.2L1133.3 948.1L1132.3 948.1L1131.3 948L1130.3 948L1129.3 947.9L1128.3 947.8L1127.3 947.8L1126.3 947.7L1125.3 947.7L1124.3 947.6L1123.3 947.6L1122.3 947.5L1121.3 947.5L1120.3 947.4L1119.3 947.3L1118.3 947.3L1117.3 947.2L1116.3 947.2L1115.3 947.1L1114.3 947.1L1113.3 947L1112.3 947L1111.3 946.9L1110.3 946.8L1109.3 946.8L1108.3 946.7L1107.3 946.7L1106.3 946.6L1105.3 946.6L1104.3 946.5L1103.3 946.5L1102.3 946.4L1101.3 946.3L1100.3 946.3L1099.3 946.2L1098.3 946.2L1097.3 946.1L1096.3 946.1L1095.3 946L1094.3 946L1093.3 945.9L1092.3 945.8L1091.3 945.8L1090.3 945.7L1089.3 945.7L1088.3 945.6L1087.3 945.6L1086.3 945.5L1085.3 945.5L1084.3 945.4L1083.3 945.3L1082.3 945.3L1081.3 945.2L1080.3 945.2L1079.3 945.1L1078.3 945.1L1077.3 945L1076.3 944.9L1075.3 944.9L1074.3 944.8L1073.3 944.8L1072.3 944.7L1071.3 944.7L1070.3 944.6L1069.3 944.6L1068.3 944.5L1067.3 944.4L1066.3 944.4L1065.3 944.3L1064.3 944.3L1063.3 944.2L1062.3 944.2L1061.3 944.1L1060.3 944.1L1059.3 944L1058.3 943.9L1057.3 943.9L1056.3 943.8L1055.3 943.8L1054.3 943.7L1053.3 943.7L1052.3 943.6L1051.3 943.6L1050.3 943.5L1049.3 943.4L1048.3 943.4L1047.3 943.3L1046.3 943.3L1045.3 943.2L1044.3 943.2L1043.3 943.1L1042.3 943.1L1041.3 943L1040.3 942.9L1039.3 942.9L1038.3 942.8L1037.3 942.8L1036.3 942.7L1035.3 942.7L1034.3 942.6L1033.3 942.6L1032.3 942.5L1031.3 942.4L1030.3 942.4L1029.3 942.3L1028.3 942.3L1027.3 942.2L1026.3 942.2L1025.3 942.1L1024.3 942L1023.3 942L1022.3 941.9L1021.3 941.9L1020.3 941.8L1019.3 941.8L1018.3 941.7L1017.3 941.7L1016.3 941.6L1015.3 941.5L1014.3 941.5L1013.3 941.4L1012.3 941.4L1011.3 941.3L1010.3 941.3L1009.3 941.2L1008.3 941.2L1007.3 941.1L1006.3 941L1005.3 941L1004.3 940.9L1003.3 940.9L1002.3 940.8L1001.3 940.8L1000.3 940.7L999.3 940.7L998.3 940.6L997.3 940.5L996.3 940.5L995.3 940.4L994.3 940.4L993.3 940.3L992.3 940.3L991.3 940.2L990.3 940.2L989.3 940.1L988.3 940L987.3 940L986.3 939.9L985.3 939.9L984.3 939.8L983.3 939.8L982.3 939.7L981.3 939.7L980.3 939.6L979.3 939.5L978.3 939.5L977.3 939.4L976.3 939.4L975.3 939.3L974.3 939.3L973.3 939.2L972.3 939.1L971.3 939.1L970.3 939L969.3 939L968.3 938.9L967.3 938.9L966.3 938.8L965.3 938.8L964.3 938.7L963.3 938.6L962.3 938.6L961.3 938.5L960.3 938.5L959.3 938.4L958.3 938.4L957.3 938.3L956.3 938.3L955.3 938.2L954.3 938.1L953.3 938.1L952.3 938L951.3 938L950.3 937.9L949.3 937.9L948.3 937.8L947.3 937.8L946.3 937.7L945.3 937.6L944.3 937.6L943.3 937.5L942.3 937.5L941.3 937.4L940.3 937.4L939.3 937.3L938.3 937.3L937.3 937.2L936.3 937.1L935.3 937.1L934.3 937L933.3 937L932.3 936.9L931.3 936.9L930.3 936.8L929.3 936.7L928.3 936.7L927.3 936.6L926.3 936.6L925.3 936.5L924.3 936.5L923.3 936.4L922.3 936.4L921.3 936.3L920.3 936.2L919.3 936.2L918.3 936.1L917.3 936.1L916.3 936L915.3 936L914.3 935.9L913.3 935.9L912.3 935.8L911.3 935.7L910.3 935.7L909.3 935.6L908.3 935.6L907.3 935.5L906.3 935.5L905.3 935.4L904.3 935.4L903.3 935.3L902.3 935.2L901.3 935.2L900.3 935.1L899.3 935.1L898.3 935L897.3 935L896.3 934.9L895.3 934.9L894.3 934.8L893.3 934.7L892.3 934.7L891.3 934.6L890.3 934.6L889.3 934.5L888.3 934.5L887.3 934.4L886.3 934.4L885.3 934.3L884.3 934.2L883.3 934.2L882.3 934.1L881.3 934.1L880.3 934L879.3 934L878.3 933.9L877.3 933.8L876.3 933.8L875.3 933.7L874.3 933.7L873.3 933.6L872.3 933.6L871.3 933.5L870.3 933.5L869.3 933.4L868.3 933.3L867.3 933.3L866.3 933.2L865.3 933.2L864.3 933.1L863.3 933.1L862.3 933L861.3 933L860.3 932.9L859.3 932.8L858.3 932.8L857.3 932.7L856.3 932.7L855.3 932.6L854.3 932.6L853.3 932.5L852.3 932.5L851.3 932.4L850.3 932.3L849.3 932.3L848.3 932.2L847.3 932.2L846.3 932.1L845.3 932.1L844.3 932L843.3 932L842.3 931.9L841.3 931.8L840.3 931.8L839.3 931.7L838.3 931.7L837.3 931.6L836.3 931.6L835.3 931.5L834.3 931.5L833.3 931.4L832.3 931.3L831.3 931.3L830.3 931.2L829.3 931.2L828.3 931.1L827.3 931.1L826.3 931L825.3 930.9L824.3 930.9L823.3 930.8L822.3 930.8L821.3 930.7L820.3 930.7L819.3 930.6L818.3 930.6L817.3 930.5L816.3 930.4L815.3 930.4L814.3 930.3L813.3 930.3L812.3 930.2L811.3 930.2L810.3 930.1L809.3 930.1L808.3 930Z" fill="#ff0000" fill-opacity="0.52"/><path d="M808.3 929.5L809.3 929.5L810.3 929.5L811.3 929.6L812.3 929.6L813.3 929.6L814.3 929.6L815.3 929.6L816.3 929.6L817.3 929.7L818.3 929.7L819.3 929.7L820.3 929.7L821.3 929.7L822.3 929.7L823.3 929.8L824.3 929.8L825.3 929.8L826.3 929.8L827.3 929.8L828.3 929.8L829.3 929.8L830.3 929.8L831.3 929.8L832.3 929.9L833.3 929.9L834.3 929.9L835.3 929.9L836.3 929.9L837.3 929.9L838.3 929.9L839.3 929.9L840.3 929.9L841.3 929.9L842.3 929.9L843.3 929.9L844.3 929.9L845.3 929.9L846.3 929.9L847.3 930L848.3 930L849.3 930L850.3 930L851.3 930L852.3 930L853.3 930L854.3 930L855.3 930L856.3 930L857.3 930L858.3 930L859.3 930L860.3 930L861.3 930L862.3 930L863.3 930L864.3 930L865.3 930L866.3 930L867.3 930L868.3 930L869.3 930L870.3 930L871.3 930L872.3 930L873.3 930L874.3 930L875.3 930L876.3 930L877.3 930L878.3 930L879.3 930L880.3 930L881.3 930L882.3 930L883.3 930L884.3 930L885.3 930L886.3 930L887.3 930L888.3 930L889.3 930L890.3 930L891.3 930L892.3 929.9L893.3 929.9L894.3 929.9L895.3 929.9L896.3 929.9L897.3 929.9L898.3 929.9L899.3 929.9L900.3 929.8L901.3 929.8L902.3 929.8L903.3 929.8L904.3 929.8L905.3 929.8L906.3 929.7L907.3 929.7L908.3 929.7L909.3 929.7L910.3 929.6L911.3 929.6L912.3 929.6L913.3 929.6L914.3 929.5L915.3 929.5L916.3 929.4L917.3 929.3L918.3 929.1L919.3 928.9L920.3 928.6L921.3 928.3L922.3 927.9L923.3 927.5L924.3 927L925.3 926.5L926.3 925.9L927.3 925.3L928.3 924.6L929.3 923.2L930.3 921.1L931.3 918.5L932.3 915.4L933.3 911.8L934.3 908L935.3 903.9L936.3 899.6L937.3 894.6L938.3 888.1L939.3 880.7L940.3 872.8L941.3 865L942.3 858L943.3 851.4L944.3 844.9L945.3 838.5L946.3 832.1L947.3 825.3L948.3 818.2L949.3 810.5L950.3 801.7L951.3 792.4L952.3 782.9L953.3 773.5L954.3 764.8L955.3 757L956.3 750.4L957.3 744.1L958.3 738L959.3 732.2L960.3 727L961.3 722.5L962.3 718.9L963.3 716.3L964.3 714.2L965.3 712.2L966.3 710.5L967.3 709.2L968.3 708.3L969.3 708L970.3 708.4L971.3 709.4L972.3 710.9L973.3 712.9L974.3 715.1L975.3 717.5L976.3 720.1L977.3 722.5L978.3 725L979.3 728.1L980.3 731.7L981.3 735.8L982.3 740.1L983.3 744.3L984.3 748.3L985.3 751.9L986.3 754.9L987.3 757L988.3 758.1L989.3 758L990.3 756.7L991.3 754.4L992.3 751.5L993.3 748.2L994.3 744.7L995.3 741.3L996.3 738.2L997.3 735.7L998.3 733.4L999.3 730.9L1000.3 728.4L1001.3 725.9L1002.3 723.6L1003.3 721.5L1004.3 719.8L1005.3 718.5L1006.3 717.8L1007.3 717.8L1008.3 718.5L1009.3 720L1010.3 722.1L1011.3 724.7L1012.3 727.5L1013.3 730.6L1014.3 733.8L1015.3 737.8L1016.3 742.8L1017.3 748.7L1018.3 755.2L1019.3 762L1020.3 769L1021.3 775.9L1022.3 782.7L1023.3 790.2L1024.3 798.1L1025.3 806.2L1026.3 814.5L1027.3 822.6L1028.3 830.5L1029.3 837.9L1030.3 844.7L1031.3 850.7L1032.3 856.2L1033.3 861.7L1034.3 867L1035.3 872.1L1036.3 877L1037.3 881.4L1038.3 885.5L1039.3 889.1L1040.3 892.1L1041.3 894.6L1042.3 896.8L1043.3 898.9L1044.3 900.9L1045.3 902.8L1046.3 904.5L1047.3 906.2L1048.3 907.7L1049.3 909.2L1050.3 910.5L1051.3 911.7L1052.3 912.8L1053.3 913.8L1054.3 914.7L1055.3 915.5L1056.3 916.3L1057.3 917L1058.3 917.8L1059.3 918.5L1060.3 919.2L1061.3 919.8L1062.3 920.4L1063.3 921L1064.3 921.5L1065.3 921.9L1066.3 922.3L1067.3 922.6L1068.3 922.8L1069.3 923L1070.3 923L1071.3 923L1072.3 922.9L1073.3 922.8L1074.3 922.7L1075.3 922.6L1076.3 922.4L1077.3 922.2L1078.3 922L1079.3 921.8L1080.3 921.6L1081.3 921.4L1082.3 921.2L1083.3 920.9L1084.3 920.7L1085.3 920.5L1086.3 920.2L1087.3 919.9L1088.3 919.6L1089.3 919.3L1090.3 919L1091.3 918.6L1092.3 918.2L1093.3 917.8L1094.3 917.4L1095.3 917L1096.3 916.5L1097.3 916.1L1098.3 915.6L1099.3 915.1L1100.3 914.5L1101.3 913.9L1102.3 913.2L1103.3 912.4L1104.3 911.6L1105.3 910.7L1106.3 909.8L1107.3 908.8L1108.3 907.9L1109.3 906.9L1110.3 905.9L1111.3 905L1112.3 904.1L1113.3 903.3L1114.3 902.5L1115.3 901.8L1116.3 901.1L1117.3 900.3L1118.3 899.6L1119.3 898.8L1120.3 898L1121.3 897.3L1122.3 896.6L1123.3 895.9L1124.3 895.3L1125.3 894.7L1126.3 894.2L1127.3 893.8L1128.3 893.5L1129.3 893.4L1130.3 893.3L1131.3 893.3L1132.3 893.4L1133.3 893.6L1134.3 893.8L1135.3 894L1136.3 894.3L1137.3 894.7L1138.3 895L1139.3 895.4L1140.3 895.8L1141.3 896.3L1142.3 896.7L1143.3 897.2L1144.3 897.7L1145.3 898.2L1146.3 898.7L1147.3 899.5L1148.3 900.3L1149.3 901.2L1150.3 902.2L1151.3 903.3L1152.3 904.4L1153.3 905.6L1154.3 906.8L1155.3 907.9L1156.3 909.1L1157.3 910.2L1158.3 911.3L1159.3 912.3L1160.3 913.3L1161.3 914.2L1162.3 915.1L1163.3 916L1164.3 917L1165.3 917.9L1166.3 918.8L1167.3 919.7L1168.3 920.6L1169.3 921.4L1170.3 922.3L1171.3 923.2L1172.3 924L1173.3 924.8L1174.3 925.7L1175.3 926.5L1176.3 927.3L1177.3 928L1178.3 928.8L1179.3 929.5L1180.3 930.2L1181.3 930.9L1182.3 931.6L1183.3 932.3L1184.3 933L1185.3 933.6L1186.3 934.3L1187.3 935L1188.3 935.6L1189.3 936.2L1190.3 936.8L1191.3 937.4L1192.3 938L1193.3 938.6L1194.3 939.2L1195.3 939.7L1196.3 940.2L1197.3 940.7L1198.3 941.2L1199.3 941.7L1200.3 942.1L1201.3 942.6L1202.3 943L1203.3 943.4L1204.3 943.9L1205.3 944.3L1206.3 944.7L1207.3 945.1L1208.3 945.5L1209.3 945.9L1210.3 946.3L1211.3 946.7L1212.3 947L1213.3 947.4L1214.3 947.8L1215.3 948.1L1216.3 948.4L1217.3 948.8L1218.3 949.1L1219.3 949.4L1220.3 949.7L1221.3 950L1222.3 950.2L1223.3 950.5L1224.3 950.7L1225.3 951L1226.3 951.2L1227.3 951.4" fill="none" stroke="#e03030" stroke-width="1.3" stroke-opacity="0.8"/><path d="M925.3 933.9L926.3 933.7L927.3 933.5L928.3 933.2L929.3 932.8L930.3 932.4L931.3 931.8L932.3 931.2L933.3 930.4L934.3 929.4L935.3 928.3L936.3 927L937.3 925.5L938.3 923.7L939.3 921.6L940.3 919.3L941.3 916.5L942.3 913.5L943.3 910L944.3 906.1L945.3 901.8L946.3 897L947.3 891.8L948.3 886.1L949.3 879.9L950.3 873.3L951.3 866.3L952.3 858.9L953.3 851.1L954.3 843.1L955.3 834.8L956.3 826.4L957.3 818L958.3 809.5L959.3 801.3L960.3 793.2L961.3 785.6L962.3 778.4L963.3 771.8L964.3 765.9L965.3 760.9L966.3 756.7L967.3 753.6L968.3 751.5L969.3 750.6L970.3 750.7L971.3 752L972.3 754.4L973.3 757.9L974.3 762.3L975.3 767.7L976.3 773.8L977.3 780.6L978.3 788L979.3 795.9L980.3 804.1L981.3 812.5L982.3 821L983.3 829.6L984.3 838.1L985.3 846.4L986.3 854.5L987.3 862.3L988.3 869.8L989.3 876.8L990.3 883.5L991.3 889.6L992.3 895.4L993.3 900.6L994.3 905.4L995.3 909.8L996.3 913.7L997.3 917.2L998.3 920.3L999.3 923.1L1000.3 925.5L1001.3 927.6L1002.3 929.4L1003.3 931L1004.3 932.4L1005.3 933.6L1006.3 934.6L1007.3 935.5L1008.3 936.2L1009.3 936.9L1010.3 937.4L1011.3 937.9L1012.3 938.3L1013.3 938.6L1014.3 938.9L1014.3 941.5L1013.3 941.4L1012.3 941.4L1011.3 941.3L1010.3 941.3L1009.3 941.2L1008.3 941.2L1007.3 941.1L1006.3 941L1005.3 941L1004.3 940.9L1003.3 940.9L1002.3 940.8L1001.3 940.8L1000.3 940.7L999.3 940.7L998.3 940.6L997.3 940.5L996.3 940.5L995.3 940.4L994.3 940.4L993.3 940.3L992.3 940.3L991.3 940.2L990.3 940.2L989.3 940.1L988.3 940L987.3 940L986.3 939.9L985.3 939.9L984.3 939.8L983.3 939.8L982.3 939.7L981.3 939.7L980.3 939.6L979.3 939.5L978.3 939.5L977.3 939.4L976.3 939.4L975.3 939.3L974.3 939.3L973.3 939.2L972.3 939.1L971.3 939.1L970.3 939L969.3 939L968.3 938.9L967.3 938.9L966.3 938.8L965.3 938.8L964.3 938.7L963.3 938.6L962.3 938.6L961.3 938.5L960.3 938.5L959.3 938.4L958.3 938.4L957.3 938.3L956.3 938.3L955.3 938.2L954.3 938.1L953.3 938.1L952.3 938L951.3 938L950.3 937.9L949.3 937.9L948.3 937.8L947.3 937.8L946.3 937.7L945.3 937.6L944.3 937.6L943.3 937.5L942.3 937.5L941.3 937.4L940.3 937.4L939.3 937.3L938.3 937.3L937.3 937.2L936.3 937.1L935.3 937.1L934.3 937L933.3 937L932.3 936.9L931.3 936.9L930.3 936.8L929.3 936.7L928.3 936.7L927.3 936.6L926.3 936.6L925.3 936.5Z" fill="#7fa8a8" stroke="#3fd0d0" stroke-width="1.5"/><path d="M920.3 935.5L921.3 935.4L922.3 935.3L923.3 935.2L924.3 935L925.3 934.7L926.3 934.4L927.3 934L928.3 933.5L929.3 932.9L930.3 932.1L931.3 931.1L932.3 930L933.3 928.7L934.3 927.2L935.3 925.4L936.3 923.5L937.3 921.3L938.3 918.9L939.3 916.3L940.3 913.5L941.3 910.6L942.3 907.7L943.3 904.7L944.3 901.7L945.3 898.9L946.3 896.2L947.3 893.8L948.3 891.8L949.3 890.1L950.3 888.9L951.3 888.2L952.3 888L953.3 888.4L954.3 889.3L955.3 890.7L956.3 892.6L957.3 894.9L958.3 897.4L959.3 900.3L960.3 903.2L961.3 906.3L962.3 909.4L963.3 912.5L964.3 915.4L965.3 918.3L966.3 920.9L967.3 923.4L968.3 925.7L969.3 927.7L970.3 929.5L971.3 931.1L972.3 932.5L973.3 933.7L974.3 934.7L975.3 935.6L976.3 936.3L977.3 936.9L978.3 937.4L979.3 937.8L980.3 938.2L981.3 938.4L982.3 938.7L983.3 938.9L984.3 939L984.3 939.8L983.3 939.8L982.3 939.7L981.3 939.7L980.3 939.6L979.3 939.5L978.3 939.5L977.3 939.4L976.3 939.4L975.3 939.3L974.3 939.3L973.3 939.2L972.3 939.1L971.3 939.1L970.3 939L969.3 939L968.3 938.9L967.3 938.9L966.3 938.8L965.3 938.8L964.3 938.7L963.3 938.6L962.3 938.6L961.3 938.5L960.3 938.5L959.3 938.4L958.3 938.4L957.3 938.3L956.3 938.3L955.3 938.2L954.3 938.1L953.3 938.1L952.3 938L951.3 938L950.3 937.9L949.3 937.9L948.3 937.8L947.3 937.8L946.3 937.7L945.3 937.6L944.3 937.6L943.3 937.5L942.3 937.5L941.3 937.4L940.3 937.4L939.3 937.3L938.3 937.3L937.3 937.2L936.3 937.1L935.3 937.1L934.3 937L933.3 937L932.3 936.9L931.3 936.9L930.3 936.8L929.3 936.7L928.3 936.7L927.3 936.6L926.3 936.6L925.3 936.5L924.3 936.5L923.3 936.4L922.3 936.4L921.3 936.3L920.3 936.2Z" fill="#007676" stroke="#3fd0d0" stroke-width="1.5"/><path d="M960.3 936.2L961.3 936.2L962.3 936.1L963.3 936L964.3 935.9L965.3 935.8L966.3 935.7L967.3 935.5L968.3 935.3L969.3 935L970.3 934.6L971.3 934.2L972.3 933.7L973.3 933.1L974.3 932.3L975.3 931.4L976.3 930.3L977.3 929L978.3 927.4L979.3 925.6L980.3 923.4L981.3 920.9L982.3 918L983.3 914.7L984.3 911L985.3 906.9L986.3 902.2L987.3 897.1L988.3 891.6L989.3 885.6L990.3 879.3L991.3 872.6L992.3 865.6L993.3 858.5L994.3 851.2L995.3 844L996.3 837L997.3 830.2L998.3 823.8L999.3 818.1L1000.3 813L1001.3 808.9L1002.3 805.8L1003.3 803.8L1004.3 803L1005.3 803.5L1006.3 805.4L1007.3 808.6L1008.3 813.1L1009.3 818.6L1010.3 825L1011.3 832.1L1012.3 839.6L1013.3 847.4L1014.3 855.4L1015.3 863.3L1016.3 871.1L1017.3 878.6L1018.3 885.7L1019.3 892.4L1020.3 898.5L1021.3 904.2L1022.3 909.3L1023.3 913.9L1024.3 917.9L1025.3 921.5L1026.3 924.5L1027.3 927.2L1028.3 929.5L1029.3 931.4L1030.3 933L1031.3 934.4L1032.3 935.5L1033.3 936.4L1034.3 937.2L1035.3 937.9L1036.3 938.4L1037.3 938.9L1038.3 939.3L1039.3 939.6L1040.3 939.9L1041.3 940.2L1042.3 940.4L1043.3 940.6L1044.3 940.8L1045.3 941L1046.3 941.1L1047.3 941.3L1048.3 941.4L1049.3 941.6L1049.3 943.4L1048.3 943.4L1047.3 943.3L1046.3 943.3L1045.3 943.2L1044.3 943.2L1043.3 943.1L1042.3 943.1L1041.3 943L1040.3 942.9L1039.3 942.9L1038.3 942.8L1037.3 942.8L1036.3 942.7L1035.3 942.7L1034.3 942.6L1033.3 942.6L1032.3 942.5L1031.3 942.4L1030.3 942.4L1029.3 942.3L1028.3 942.3L1027.3 942.2L1026.3 942.2L1025.3 942.1L1024.3 942L1023.3 942L1022.3 941.9L1021.3 941.9L1020.3 941.8L1019.3 941.8L1018.3 941.7L1017.3 941.7L1016.3 941.6L1015.3 941.5L1014.3 941.5L1013.3 941.4L1012.3 941.4L1011.3 941.3L1010.3 941.3L1009.3 941.2L1008.3 941.2L1007.3 941.1L1006.3 941L1005.3 941L1004.3 940.9L1003.3 940.9L1002.3 940.8L1001.3 940.8L1000.3 940.7L999.3 940.7L998.3 940.6L997.3 940.5L996.3 940.5L995.3 940.4L994.3 940.4L993.3 940.3L992.3 940.3L991.3 940.2L990.3 940.2L989.3 940.1L988.3 940L987.3 940L986.3 939.9L985.3 939.9L984.3 939.8L983.3 939.8L982.3 939.7L981.3 939.7L980.3 939.6L979.3 939.5L978.3 939.5L977.3 939.4L976.3 939.4L975.3 939.3L974.3 939.3L973.3 939.2L972.3 939.1L971.3 939.1L970.3 939L969.3 939L968.3 938.9L967.3 938.9L966.3 938.8L965.3 938.8L964.3 938.7L963.3 938.6L962.3 938.6L961.3 938.5L960.3 938.5Z" fill="#ff00ff"/><path d="M808.3 931.2L809.3 931.3L810.3 931.3L811.3 931.4L812.3 931.4L813.3 931.5L814.3 931.5L815.3 931.6L816.3 931.6L817.3 931.7L818.3 931.7L819.3 931.8L820.3 931.9L821.3 931.9L822.3 932L823.3 932L824.3 932.1L825.3 932.1L826.3 932.2L827.3 932.2L828.3 932.3L829.3 932.3L830.3 932.4L831.3 932.4L832.3 932.5L833.3 932.5L834.3 932.6L835.3 932.6L836.3 932.7L837.3 932.7L838.3 932.8L839.3 932.8L840.3 932.9L841.3 932.9L842.3 933L843.3 933L844.3 933.1L845.3 933.2L846.3 933.2L847.3 933.3L848.3 933.3L849.3 933.4L850.3 933.4L851.3 933.5L852.3 933.5L853.3 933.6L854.3 933.6L855.3 933.7L856.3 933.7L857.3 933.8L858.3 933.8L859.3 933.9L860.3 933.9L861.3 934L862.3 934L863.3 934.1L864.3 934.1L865.3 934.2L866.3 934.2L867.3 934.2L868.3 934.3L869.3 934.3L870.3 934.4L871.3 934.4L872.3 934.5L873.3 934.5L874.3 934.6L875.3 934.6L876.3 934.7L877.3 934.7L878.3 934.8L879.3 934.8L880.3 934.9L881.3 934.9L882.3 935L883.3 935L884.3 935.1L885.3 935.1L886.3 935.1L887.3 935.2L888.3 935.2L889.3 935.3L890.3 935.3L891.3 935.4L892.3 935.4L893.3 935.5L894.3 935.5L895.3 935.5L896.3 935.6L897.3 935.6L898.3 935.7L899.3 935.7L900.3 935.7L901.3 935.8L902.3 935.8L903.3 935.9L904.3 935.9L905.3 935.9L906.3 936L907.3 936L908.3 936.1L909.3 936.1L910.3 936.1L911.3 936.2L912.3 936.2L913.3 936.2L914.3 936.3L915.3 936.3L916.3 936.3L917.3 936.4L918.3 936.4L919.3 936.4L920.3 936.5L921.3 936.5L922.3 936.5L923.3 936.6L924.3 936.6L925.3 936.6L926.3 936.6L927.3 936.7L928.3 936.7L929.3 936.7L930.3 936.7L931.3 936.7L932.3 936.8L933.3 936.8L934.3 936.8L935.3 936.8L936.3 936.8L937.3 936.8L938.3 936.8L939.3 936.9L940.3 936.9L941.3 936.9L942.3 936.9L943.3 936.9L944.3 936.9L945.3 936.9L946.3 936.9L947.3 936.9L948.3 936.8L949.3 936.8L950.3 936.8L951.3 936.8L952.3 936.8L953.3 936.7L954.3 936.7L955.3 936.7L956.3 936.6L957.3 936.6L958.3 936.5L959.3 936.5L960.3 936.4L961.3 936.3L962.3 936.3L963.3 936.2L964.3 936.1L965.3 936L966.3 935.9L967.3 935.7L968.3 935.6L969.3 935.4L970.3 935.2L971.3 935L972.3 934.8L973.3 934.5L974.3 934.2L975.3 933.8L976.3 933.4L977.3 933L978.3 932.5L979.3 931.9L980.3 931.3L981.3 930.6L982.3 929.8L983.3 928.9L984.3 927.9L985.3 926.8L986.3 925.6L987.3 924.2L988.3 922.8L989.3 921.1L990.3 919.3L991.3 917.4L992.3 915.3L993.3 913.1L994.3 910.6L995.3 908.1L996.3 905.3L997.3 902.4L998.3 899.3L999.3 896.2L1000.3 892.8L1001.3 889.4L1002.3 885.9L1003.3 882.3L1004.3 878.7L1005.3 875.1L1006.3 871.5L1007.3 868L1008.3 864.7L1009.3 861.5L1010.3 858.6L1011.3 855.9L1012.3 853.7L1013.3 851.8L1014.3 850.4L1015.3 849.5L1016.3 849.1L1017.3 849.3L1018.3 849.8L1019.3 850.8L1020.3 852.2L1021.3 854L1022.3 856.1L1023.3 858.4L1024.3 861.1L1025.3 863.9L1026.3 867L1027.3 870.1L1028.3 873.4L1029.3 876.7L1030.3 880L1031.3 883.3L1032.3 886.7L1033.3 889.9L1034.3 893.1L1035.3 896.3L1036.3 899.3L1037.3 902.2L1038.3 905L1039.3 907.7L1040.3 910.3L1041.3 912.7L1042.3 915.1L1043.3 917.2L1044.3 919.3L1045.3 921.2L1046.3 923L1047.3 924.7L1048.3 926.2L1049.3 927.6L1050.3 929L1051.3 930.2L1052.3 931.3L1053.3 932.3L1054.3 933.3L1055.3 934.1L1056.3 934.9L1057.3 935.7L1058.3 936.3L1059.3 937L1060.3 937.5L1061.3 938L1062.3 938.5L1063.3 938.9L1064.3 939.3L1065.3 939.7L1066.3 940L1067.3 940.4L1068.3 940.7L1069.3 940.9L1070.3 941.2L1071.3 941.5L1072.3 941.7L1073.3 941.9L1074.3 942.1L1075.3 942.3L1076.3 942.5L1077.3 942.7L1078.3 942.9L1079.3 943L1080.3 943.2L1081.3 943.4L1082.3 943.5L1083.3 943.7L1084.3 943.8L1085.3 943.9L1086.3 944.1L1087.3 944.2L1088.3 944.3L1089.3 944.5L1090.3 944.6L1091.3 944.7L1092.3 944.8L1093.3 945L1094.3 945.1L1095.3 945.2L1096.3 945.3L1097.3 945.4L1098.3 945.5L1099.3 945.6L1100.3 945.7L1101.3 945.8L1102.3 945.9L1103.3 946L1104.3 946.1L1105.3 946.2L1106.3 946.3L1107.3 946.4L1108.3 946.5L1109.3 946.6L1110.3 946.7L1111.3 946.8L1112.3 946.9L1113.3 946.9L1114.3 947L1115.3 947.1L1116.3 947.2L1117.3 947.3L1118.3 947.4L1119.3 947.4L1120.3 947.5L1121.3 947.6L1122.3 947.7L1123.3 947.8L1124.3 947.8L1125.3 947.9L1126.3 948L1127.3 948.1L1128.3 948.2L1129.3 948.2L1130.3 948.3L1131.3 948.4L1132.3 948.5L1133.3 948.5L1134.3 948.6L1135.3 948.7L1136.3 948.8L1137.3 948.8L1138.3 948.9L1139.3 949L1140.3 949L1141.3 949.1L1142.3 949.2L1143.3 949.3L1144.3 949.3L1145.3 949.4L1146.3 949.5L1147.3 949.5L1148.3 949.6L1149.3 949.7L1150.3 949.7L1151.3 949.8L1152.3 949.9L1153.3 949.9L1154.3 950L1155.3 950.1L1156.3 950.1L1157.3 950.2L1158.3 950.3L1159.3 950.3L1160.3 950.4L1161.3 950.5L1162.3 950.5L1163.3 950.6L1164.3 950.7L1165.3 950.7L1166.3 950.8L1167.3 950.9L1168.3 950.9L1169.3 951L1170.3 951.1L1171.3 951.1L1172.3 951.2L1173.3 951.2L1174.3 951.3L1175.3 951.4L1176.3 951.4L1177.3 951.5L1178.3 951.6L1179.3 951.6L1180.3 951.7L1181.3 951.8L1182.3 951.8L1183.3 951.9L1184.3 951.9L1185.3 952L1186.3 952.1L1187.3 952.1L1188.3 952.2L1189.3 952.2L1190.3 952.3L1191.3 952.4L1192.3 952.4L1193.3 952.5L1194.3 952.6L1195.3 952.6L1196.3 952.7L1197.3 952.7L1198.3 952.8L1199.3 952.9L1200.3 952.9L1201.3 953L1202.3 953L1203.3 953.1L1204.3 953.2L1205.3 953.2L1206.3 953.3L1207.3 953.3L1208.3 953.4L1209.3 953.5L1210.3 953.5L1211.3 953.6L1212.3 953.6L1213.3 953.7L1214.3 953.8L1215.3 953.8L1216.3 953.9L1217.3 953.9L1218.3 954L1219.3 954.1L1220.3 954.1L1221.3 954.2L1222.3 954.2L1223.3 954.3L1224.3 954.4L1225.3 954.4L1226.3 954.5L1227.3 954.5L1227.3 954.9L1226.3 954.8L1225.3 954.8L1224.3 954.7L1223.3 954.6L1222.3 954.6L1221.3 954.5L1220.3 954.5L1219.3 954.4L1218.3 954.4L1217.3 954.3L1216.3 954.3L1215.3 954.2L1214.3 954.1L1213.3 954.1L1212.3 954L1211.3 954L1210.3 953.9L1209.3 953.9L1208.3 953.8L1207.3 953.8L1206.3 953.7L1205.3 953.6L1204.3 953.6L1203.3 953.5L1202.3 953.5L1201.3 953.4L1200.3 953.4L1199.3 953.3L1198.3 953.3L1197.3 953.2L1196.3 953.1L1195.3 953.1L1194.3 953L1193.3 953L1192.3 952.9L1191.3 952.9L1190.3 952.8L1189.3 952.8L1188.3 952.7L1187.3 952.6L1186.3 952.6L1185.3 952.5L1184.3 952.5L1183.3 952.4L1182.3 952.4L1181.3 952.3L1180.3 952.3L1179.3 952.2L1178.3 952.1L1177.3 952.1L1176.3 952L1175.3 952L1174.3 951.9L1173.3 951.9L1172.3 951.8L1171.3 951.7L1170.3 951.7L1169.3 951.6L1168.3 951.6L1167.3 951.5L1166.3 951.5L1165.3 951.4L1164.3 951.4L1163.3 951.3L1162.3 951.2L1161.3 951.2L1160.3 951.1L1159.3 951.1L1158.3 951L1157.3 951L1156.3 950.9L1155.3 950.9L1154.3 950.8L1153.3 950.7L1152.3 950.7L1151.3 950.6L1150.3 950.6L1149.3 950.5L1148.3 950.5L1147.3 950.4L1146.3 950.4L1145.3 950.3L1144.3 950.2L1143.3 950.2L1142.3 950.1L1141.3 950.1L1140.3 950L1139.3 950L1138.3 949.9L1137.3 949.9L1136.3 949.8L1135.3 949.7L1134.3 949.7L1133.3 949.6L1132.3 949.6L1131.3 949.5L1130.3 949.5L1129.3 949.4L1128.3 949.3L1127.3 949.3L1126.3 949.2L1125.3 949.2L1124.3 949.1L1123.3 949.1L1122.3 949L1121.3 949L1120.3 948.9L1119.3 948.8L1118.3 948.8L1117.3 948.7L1116.3 948.7L1115.3 948.6L1114.3 948.6L1113.3 948.5L1112.3 948.5L1111.3 948.4L1110.3 948.3L1109.3 948.3L1108.3 948.2L1107.3 948.2L1106.3 948.1L1105.3 948.1L1104.3 948L1103.3 948L1102.3 947.9L1101.3 947.8L1100.3 947.8L1099.3 947.7L1098.3 947.7L1097.3 947.6L1096.3 947.6L1095.3 947.5L1094.3 947.5L1093.3 947.4L1092.3 947.3L1091.3 947.3L1090.3 947.2L1089.3 947.2L1088.3 947.1L1087.3 947.1L1086.3 947L1085.3 947L1084.3 946.9L1083.3 946.8L1082.3 946.8L1081.3 946.7L1080.3 946.7L1079.3 946.6L1078.3 946.6L1077.3 946.5L1076.3 946.4L1075.3 946.4L1074.3 946.3L1073.3 946.3L1072.3 946.2L1071.3 946.2L1070.3 946.1L1069.3 946.1L1068.3 946L1067.3 945.9L1066.3 945.9L1065.3 945.8L1064.3 945.8L1063.3 945.7L1062.3 945.7L1061.3 945.6L1060.3 945.6L1059.3 945.5L1058.3 945.4L1057.3 945.4L1056.3 945.3L1055.3 945.3L1054.3 945.2L1053.3 945.2L1052.3 945.1L1051.3 945.1L1050.3 945L1049.3 944.9L1048.3 944.9L1047.3 944.8L1046.3 944.8L1045.3 944.7L1044.3 944.7L1043.3 944.6L1042.3 944.6L1041.3 944.5L1040.3 944.4L1039.3 944.4L1038.3 944.3L1037.3 944.3L1036.3 944.2L1035.3 944.2L1034.3 944.1L1033.3 944.1L1032.3 944L1031.3 943.9L1030.3 943.9L1029.3 943.8L1028.3 943.8L1027.3 943.7L1026.3 943.7L1025.3 943.6L1024.3 943.5L1023.3 943.5L1022.3 943.4L1021.3 943.4L1020.3 943.3L1019.3 943.3L1018.3 943.2L1017.3 943.2L1016.3 943.1L1015.3 943L1014.3 943L1013.3 942.9L1012.3 942.9L1011.3 942.8L1010.3 942.8L1009.3 942.7L1008.3 942.7L1007.3 942.6L1006.3 942.5L1005.3 942.5L1004.3 942.4L1003.3 942.4L1002.3 942.3L1001.3 942.3L1000.3 942.2L999.3 942.2L998.3 942.1L997.3 942L996.3 942L995.3 941.9L994.3 941.9L993.3 941.8L992.3 941.8L991.3 941.7L990.3 941.7L989.3 941.6L988.3 941.5L987.3 941.5L986.3 941.4L985.3 941.4L984.3 941.3L983.3 941.3L982.3 941.2L981.3 941.2L980.3 941.1L979.3 941L978.3 941L977.3 940.9L976.3 940.9L975.3 940.8L974.3 940.8L973.3 940.7L972.3 940.6L971.3 940.6L970.3 940.5L969.3 940.5L968.3 940.4L967.3 940.4L966.3 940.3L965.3 940.3L964.3 940.2L963.3 940.1L962.3 940.1L961.3 940L960.3 940L959.3 939.9L958.3 939.9L957.3 939.8L956.3 939.8L955.3 939.7L954.3 939.6L953.3 939.6L952.3 939.5L951.3 939.5L950.3 939.4L949.3 939.4L948.3 939.3L947.3 939.3L946.3 939.2L945.3 939.1L944.3 939.1L943.3 939L942.3 939L941.3 938.9L940.3 938.9L939.3 938.8L938.3 938.8L937.3 938.7L936.3 938.6L935.3 938.6L934.3 938.5L933.3 938.5L932.3 938.4L931.3 938.4L930.3 938.3L929.3 938.2L928.3 938.2L927.3 938.1L926.3 938.1L925.3 938L924.3 938L923.3 937.9L922.3 937.9L921.3 937.8L920.3 937.7L919.3 937.7L918.3 937.6L917.3 937.6L916.3 937.5L915.3 937.5L914.3 937.4L913.3 937.4L912.3 937.3L911.3 937.2L910.3 937.2L909.3 937.1L908.3 937.1L907.3 937L906.3 937L905.3 936.9L904.3 936.9L903.3 936.8L902.3 936.7L901.3 936.7L900.3 936.6L899.3 936.6L898.3 936.5L897.3 936.5L896.3 936.4L895.3 936.4L894.3 936.3L893.3 936.2L892.3 936.2L891.3 936.1L890.3 936.1L889.3 936L888.3 936L887.3 935.9L886.3 935.9L885.3 935.8L884.3 935.7L883.3 935.7L882.3 935.6L881.3 935.6L880.3 935.5L879.3 935.5L878.3 935.4L877.3 935.3L876.3 935.3L875.3 935.2L874.3 935.2L873.3 935.1L872.3 935.1L871.3 935L870.3 935L869.3 934.9L868.3 934.8L867.3 934.8L866.3 934.7L865.3 934.7L864.3 934.6L863.3 934.6L862.3 934.5L861.3 934.5L860.3 934.4L859.3 934.3L858.3 934.3L857.3 934.2L856.3 934.2L855.3 934.1L854.3 934.1L853.3 934L852.3 934L851.3 933.9L850.3 933.8L849.3 933.8L848.3 933.7L847.3 933.7L846.3 933.6L845.3 933.6L844.3 933.5L843.3 933.5L842.3 933.4L841.3 933.3L840.3 933.3L839.3 933.2L838.3 933.2L837.3 933.1L836.3 933.1L835.3 933L834.3 933L833.3 932.9L832.3 932.8L831.3 932.8L830.3 932.7L829.3 932.7L828.3 932.6L827.3 932.6L826.3 932.5L825.3 932.4L824.3 932.4L823.3 932.3L822.3 932.3L821.3 932.2L820.3 932.2L819.3 932.1L818.3 932.1L817.3 932L816.3 931.9L815.3 931.9L814.3 931.8L813.3 931.8L812.3 931.7L811.3 931.7L810.3 931.6L809.3 931.6L808.3 931.5Z" fill="#ffff00"/><path d="M1000.3 941L1001.3 941.1L1002.3 941.1L1003.3 941.2L1004.3 941.2L1005.3 941.2L1006.3 941.3L1007.3 941.3L1008.3 941.4L1009.3 941.4L1010.3 941.5L1011.3 941.5L1012.3 941.6L1013.3 941.6L1014.3 941.7L1015.3 941.7L1016.3 941.8L1017.3 941.8L1018.3 941.8L1019.3 941.9L1020.3 941.9L1021.3 942L1022.3 942L1023.3 942.1L1024.3 942.1L1025.3 942.1L1026.3 942.2L1027.3 942.2L1028.3 942.3L1029.3 942.3L1030.3 942.4L1031.3 942.4L1032.3 942.4L1033.3 942.5L1034.3 942.5L1035.3 942.5L1036.3 942.6L1037.3 942.6L1038.3 942.7L1039.3 942.7L1040.3 942.7L1041.3 942.8L1042.3 942.8L1043.3 942.8L1044.3 942.9L1045.3 942.9L1046.3 942.9L1047.3 942.9L1048.3 943L1049.3 943L1050.3 943L1051.3 943L1052.3 943.1L1053.3 943.1L1054.3 943.1L1055.3 943.1L1056.3 943.1L1057.3 943.1L1058.3 943.2L1059.3 943.2L1060.3 943.2L1061.3 943.2L1062.3 943.1L1063.3 943.1L1064.3 943.1L1065.3 943.1L1066.3 943.1L1067.3 943L1068.3 943L1069.3 942.9L1070.3 942.8L1071.3 942.8L1072.3 942.7L1073.3 942.6L1074.3 942.5L1075.3 942.3L1076.3 942.2L1077.3 942L1078.3 941.8L1079.3 941.6L1080.3 941.4L1081.3 941.1L1082.3 940.8L1083.3 940.5L1084.3 940.1L1085.3 939.7L1086.3 939.3L1087.3 938.9L1088.3 938.4L1089.3 937.9L1090.3 937.3L1091.3 936.7L1092.3 936L1093.3 935.3L1094.3 934.6L1095.3 933.8L1096.3 932.9L1097.3 932L1098.3 931.1L1099.3 930.1L1100.3 929.1L1101.3 928L1102.3 926.9L1103.3 925.7L1104.3 924.5L1105.3 923.3L1106.3 922L1107.3 920.7L1108.3 919.4L1109.3 918L1110.3 916.7L1111.3 915.3L1112.3 913.9L1113.3 912.5L1114.3 911.2L1115.3 909.9L1116.3 908.5L1117.3 907.3L1118.3 906L1119.3 904.9L1120.3 903.8L1121.3 902.7L1122.3 901.8L1123.3 900.9L1124.3 900.1L1125.3 899.5L1126.3 899L1127.3 898.6L1128.3 898.3L1129.3 898.2L1130.3 898.2L1131.3 898.3L1132.3 898.5L1133.3 898.8L1134.3 899.3L1135.3 899.8L1136.3 900.5L1137.3 901.2L1138.3 902L1139.3 902.9L1140.3 903.9L1141.3 904.9L1142.3 906L1143.3 907.1L1144.3 908.3L1145.3 909.5L1146.3 910.8L1147.3 912.1L1148.3 913.4L1149.3 914.7L1150.3 916L1151.3 917.3L1152.3 918.6L1153.3 920L1154.3 921.3L1155.3 922.6L1156.3 923.8L1157.3 925.1L1158.3 926.3L1159.3 927.5L1160.3 928.7L1161.3 929.8L1162.3 931L1163.3 932L1164.3 933.1L1165.3 934.1L1166.3 935.1L1167.3 936L1168.3 936.9L1169.3 937.8L1170.3 938.6L1171.3 939.4L1172.3 940.1L1173.3 940.8L1174.3 941.5L1175.3 942.1L1176.3 942.8L1177.3 943.3L1178.3 943.9L1179.3 944.4L1180.3 944.9L1181.3 945.3L1182.3 945.8L1183.3 946.2L1184.3 946.6L1185.3 946.9L1186.3 947.3L1187.3 947.6L1188.3 947.9L1189.3 948.2L1190.3 948.4L1191.3 948.7L1192.3 948.9L1193.3 949.1L1194.3 949.3L1195.3 949.5L1196.3 949.7L1197.3 949.9L1198.3 950.1L1199.3 950.2L1200.3 950.4L1201.3 950.5L1202.3 950.7L1203.3 950.8L1204.3 950.9L1205.3 951L1206.3 951.2L1207.3 951.3L1208.3 951.4L1209.3 951.5L1210.3 951.6L1211.3 951.7L1212.3 951.8L1213.3 951.9L1214.3 952L1215.3 952.1L1216.3 952.2L1217.3 952.3L1218.3 952.3L1219.3 952.4L1220.3 952.5L1221.3 952.6L1222.3 952.7L1223.3 952.8L1224.3 952.8L1225.3 952.9L1226.3 953L1227.3 953.1L1227.3 954.2L1226.3 954.1L1225.3 954.1L1224.3 954L1223.3 953.9L1222.3 953.9L1221.3 953.8L1220.3 953.8L1219.3 953.7L1218.3 953.7L1217.3 953.6L1216.3 953.6L1215.3 953.5L1214.3 953.4L1213.3 953.4L1212.3 953.3L1211.3 953.3L1210.3 953.2L1209.3 953.2L1208.3 953.1L1207.3 953.1L1206.3 953L1205.3 952.9L1204.3 952.9L1203.3 952.8L1202.3 952.8L1201.3 952.7L1200.3 952.7L1199.3 952.6L1198.3 952.6L1197.3 952.5L1196.3 952.4L1195.3 952.4L1194.3 952.3L1193.3 952.3L1192.3 952.2L1191.3 952.2L1190.3 952.1L1189.3 952.1L1188.3 952L1187.3 951.9L1186.3 951.9L1185.3 951.8L1184.3 951.8L1183.3 951.7L1182.3 951.7L1181.3 951.6L1180.3 951.6L1179.3 951.5L1178.3 951.4L1177.3 951.4L1176.3 951.3L1175.3 951.3L1174.3 951.2L1173.3 951.2L1172.3 951.1L1171.3 951L1170.3 951L1169.3 950.9L1168.3 950.9L1167.3 950.8L1166.3 950.8L1165.3 950.7L1164.3 950.7L1163.3 950.6L1162.3 950.5L1161.3 950.5L1160.3 950.4L1159.3 950.4L1158.3 950.3L1157.3 950.3L1156.3 950.2L1155.3 950.2L1154.3 950.1L1153.3 950L1152.3 950L1151.3 949.9L1150.3 949.9L1149.3 949.8L1148.3 949.8L1147.3 949.7L1146.3 949.7L1145.3 949.6L1144.3 949.5L1143.3 949.5L1142.3 949.4L1141.3 949.4L1140.3 949.3L1139.3 949.3L1138.3 949.2L1137.3 949.2L1136.3 949.1L1135.3 949L1134.3 949L1133.3 948.9L1132.3 948.9L1131.3 948.8L1130.3 948.8L1129.3 948.7L1128.3 948.6L1127.3 948.6L1126.3 948.5L1125.3 948.5L1124.3 948.4L1123.3 948.4L1122.3 948.3L1121.3 948.3L1120.3 948.2L1119.3 948.1L1118.3 948.1L1117.3 948L1116.3 948L1115.3 947.9L1114.3 947.9L1113.3 947.8L1112.3 947.8L1111.3 947.7L1110.3 947.6L1109.3 947.6L1108.3 947.5L1107.3 947.5L1106.3 947.4L1105.3 947.4L1104.3 947.3L1103.3 947.3L1102.3 947.2L1101.3 947.1L1100.3 947.1L1099.3 947L1098.3 947L1097.3 946.9L1096.3 946.9L1095.3 946.8L1094.3 946.8L1093.3 946.7L1092.3 946.6L1091.3 946.6L1090.3 946.5L1089.3 946.5L1088.3 946.4L1087.3 946.4L1086.3 946.3L1085.3 946.3L1084.3 946.2L1083.3 946.1L1082.3 946.1L1081.3 946L1080.3 946L1079.3 945.9L1078.3 945.9L1077.3 945.8L1076.3 945.7L1075.3 945.7L1074.3 945.6L1073.3 945.6L1072.3 945.5L1071.3 945.5L1070.3 945.4L1069.3 945.4L1068.3 945.3L1067.3 945.2L1066.3 945.2L1065.3 945.1L1064.3 945.1L1063.3 945L1062.3 945L1061.3 944.9L1060.3 944.9L1059.3 944.8L1058.3 944.7L1057.3 944.7L1056.3 944.6L1055.3 944.6L1054.3 944.5L1053.3 944.5L1052.3 944.4L1051.3 944.4L1050.3 944.3L1049.3 944.2L1048.3 944.2L1047.3 944.1L1046.3 944.1L1045.3 944L1044.3 944L1043.3 943.9L1042.3 943.9L1041.3 943.8L1040.3 943.7L1039.3 943.7L1038.3 943.6L1037.3 943.6L1036.3 943.5L1035.3 943.5L1034.3 943.4L1033.3 943.4L1032.3 943.3L1031.3 943.2L1030.3 943.2L1029.3 943.1L1028.3 943.1L1027.3 943L1026.3 943L1025.3 942.9L1024.3 942.8L1023.3 942.8L1022.3 942.7L1021.3 942.7L1020.3 942.6L1019.3 942.6L1018.3 942.5L1017.3 942.5L1016.3 942.4L1015.3 942.3L1014.3 942.3L1013.3 942.2L1012.3 942.2L1011.3 942.1L1010.3 942.1L1009.3 942L1008.3 942L1007.3 941.9L1006.3 941.8L1005.3 941.8L1004.3 941.7L1003.3 941.7L1002.3 941.6L1001.3 941.6L1000.3 941.5Z" fill="#808000"/><path d="M808.3 932.5L809.3 932.6L810.3 932.6L811.3 932.7L812.3 932.7L813.3 932.8L814.3 932.8L815.3 932.9L816.3 932.9L817.3 933L818.3 933.1L819.3 933.1L820.3 933.2L821.3 933.2L822.3 933.3L823.3 933.3L824.3 933.4L825.3 933.4L826.3 933.5L827.3 933.6L828.3 933.6L829.3 933.7L830.3 933.7L831.3 933.8L832.3 933.8L833.3 933.9L834.3 934L835.3 934L836.3 934.1L837.3 934.1L838.3 934.2L839.3 934.2L840.3 934.3L841.3 934.3L842.3 934.4L843.3 934.5L844.3 934.5L845.3 934.6L846.3 934.6L847.3 934.7L848.3 934.7L849.3 934.8L850.3 934.8L851.3 934.9L852.3 935L853.3 935L854.3 935.1L855.3 935.1L856.3 935.2L857.3 935.2L858.3 935.3L859.3 935.3L860.3 935.4L861.3 935.5L862.3 935.5L863.3 935.6L864.3 935.6L865.3 935.7L866.3 935.7L867.3 935.8L868.3 935.8L869.3 935.9L870.3 936L871.3 936L872.3 936.1L873.3 936.1L874.3 936.2L875.3 936.2L876.3 936.3L877.3 936.3L878.3 936.4L879.3 936.5L880.3 936.5L881.3 936.6L882.3 936.6L883.3 936.7L884.3 936.7L885.3 936.8L886.3 936.9L887.3 936.9L888.3 937L889.3 937L890.3 937.1L891.3 937.1L892.3 937.2L893.3 937.2L894.3 937.3L895.3 937.4L896.3 937.4L897.3 937.5L898.3 937.5L899.3 937.6L900.3 937.6L901.3 937.7L902.3 937.7L903.3 937.8L904.3 937.9L905.3 937.9L906.3 938L907.3 938L908.3 938.1L909.3 938.1L910.3 938.2L911.3 938.2L912.3 938.3L913.3 938.4L914.3 938.4L915.3 938.5L916.3 938.5L917.3 938.6L918.3 938.6L919.3 938.7L920.3 938.7L921.3 938.8L922.3 938.9L923.3 938.9L924.3 939L925.3 939L926.3 939.1L927.3 939.1L928.3 939.2L929.3 939.2L930.3 939.3L931.3 939.4L932.3 939.4L933.3 939.5L934.3 939.5L935.3 939.6L936.3 939.6L937.3 939.7L938.3 939.8L939.3 939.8L940.3 939.9L941.3 939.9L942.3 940L943.3 940L944.3 940.1L945.3 940.1L946.3 940.2L947.3 940.3L948.3 940.3L949.3 940.4L950.3 940.4L951.3 940.5L952.3 940.5L953.3 940.6L954.3 940.6L955.3 940.7L956.3 940.8L957.3 940.8L958.3 940.9L959.3 940.9L960.3 941L961.3 941L962.3 941.1L963.3 941.1L964.3 941.2L965.3 941.3L966.3 941.3L967.3 941.4L968.3 941.4L969.3 941.5L970.3 941.5L971.3 941.6L972.3 941.6L973.3 941.7L974.3 941.8L975.3 941.8L976.3 941.9L977.3 941.9L978.3 942L979.3 942L980.3 942.1L981.3 942.2L982.3 942.2L983.3 942.3L984.3 942.3L985.3 942.4L986.3 942.4L987.3 942.5L988.3 942.5L989.3 942.6L990.3 942.7L991.3 942.7L992.3 942.8L993.3 942.8L994.3 942.9L995.3 942.9L996.3 943L997.3 943L998.3 943.1L999.3 943.2L1000.3 943.2L1001.3 943.3L1002.3 943.3L1003.3 943.4L1004.3 943.4L1005.3 943.5L1006.3 943.5L1007.3 943.6L1008.3 943.7L1009.3 943.7L1010.3 943.8L1011.3 943.8L1012.3 943.9L1013.3 943.9L1014.3 944L1015.3 944L1016.3 944.1L1017.3 944.2L1018.3 944.2L1019.3 944.3L1020.3 944.3L1021.3 944.4L1022.3 944.4L1023.3 944.5L1024.3 944.5L1025.3 944.6L1026.3 944.7L1027.3 944.7L1028.3 944.8L1029.3 944.8L1030.3 944.9L1031.3 944.9L1032.3 945L1033.3 945.1L1034.3 945.1L1035.3 945.2L1036.3 945.2L1037.3 945.3L1038.3 945.3L1039.3 945.4L1040.3 945.4L1041.3 945.5L1042.3 945.6L1043.3 945.6L1044.3 945.7L1045.3 945.7L1046.3 945.8L1047.3 945.8L1048.3 945.9L1049.3 945.9L1050.3 946L1051.3 946.1L1052.3 946.1L1053.3 946.2L1054.3 946.2L1055.3 946.3L1056.3 946.3L1057.3 946.4L1058.3 946.4L1059.3 946.5L1060.3 946.6L1061.3 946.6L1062.3 946.7L1063.3 946.7L1064.3 946.8L1065.3 946.8L1066.3 946.9L1067.3 946.9L1068.3 947L1069.3 947.1L1070.3 947.1L1071.3 947.2L1072.3 947.2L1073.3 947.3L1074.3 947.3L1075.3 947.4L1076.3 947.4L1077.3 947.5L1078.3 947.6L1079.3 947.6L1080.3 947.7L1081.3 947.7L1082.3 947.8L1083.3 947.8L1084.3 947.9L1085.3 948L1086.3 948L1087.3 948.1L1088.3 948.1L1089.3 948.2L1090.3 948.2L1091.3 948.3L1092.3 948.3L1093.3 948.4L1094.3 948.5L1095.3 948.5L1096.3 948.6L1097.3 948.6L1098.3 948.7L1099.3 948.7L1100.3 948.8L1101.3 948.8L1102.3 948.9L1103.3 949L1104.3 949L1105.3 949.1L1106.3 949.1L1107.3 949.2L1108.3 949.2L1109.3 949.3L1110.3 949.3L1111.3 949.4L1112.3 949.5L1113.3 949.5L1114.3 949.6L1115.3 949.6L1116.3 949.7L1117.3 949.7L1118.3 949.8L1119.3 949.8L1120.3 949.9L1121.3 950L1122.3 950L1123.3 950.1L1124.3 950.1L1125.3 950.2L1126.3 950.2L1127.3 950.3L1128.3 950.3L1129.3 950.4L1130.3 950.5L1131.3 950.5L1132.3 950.6L1133.3 950.6L1134.3 950.7L1135.3 950.7L1136.3 950.8L1137.3 950.9L1138.3 950.9L1139.3 951L1140.3 951L1141.3 951.1L1142.3 951.1L1143.3 951.2L1144.3 951.2L1145.3 951.3L1146.3 951.4L1147.3 951.4L1148.3 951.5L1149.3 951.5L1150.3 951.6L1151.3 951.6L1152.3 951.7L1153.3 951.7L1154.3 951.8L1155.3 951.9L1156.3 951.9L1157.3 952L1158.3 952L1159.3 952.1L1160.3 952.1L1161.3 952.2L1162.3 952.2L1163.3 952.3L1164.3 952.4L1165.3 952.4L1166.3 952.5L1167.3 952.5L1168.3 952.6L1169.3 952.6L1170.3 952.7L1171.3 952.7L1172.3 952.8L1173.3 952.9L1174.3 952.9L1175.3 953L1176.3 953L1177.3 953.1L1178.3 953.1L1179.3 953.2L1180.3 953.3L1181.3 953.3L1182.3 953.4L1183.3 953.4L1184.3 953.5L1185.3 953.5L1186.3 953.6L1187.3 953.6L1188.3 953.7L1189.3 953.8L1190.3 953.8L1191.3 953.9L1192.3 953.9L1193.3 954L1194.3 954L1195.3 954.1L1196.3 954.1L1197.3 954.2L1198.3 954.3L1199.3 954.3L1200.3 954.4L1201.3 954.4L1202.3 954.5L1203.3 954.5L1204.3 954.6L1205.3 954.6L1206.3 954.7L1207.3 954.8L1208.3 954.8L1209.3 954.9L1210.3 954.9L1211.3 955L1212.3 955L1213.3 955.1L1214.3 955.1L1215.3 955.2L1216.3 955.3L1217.3 955.3L1218.3 955.4L1219.3 955.4L1220.3 955.5L1221.3 955.5L1222.3 955.6L1223.3 955.6L1224.3 955.7L1225.3 955.8L1226.3 955.8L1227.3 955.9" fill="none" stroke="#e0d000" stroke-width="1.6"/><line x1="888.8" y1="870.5" x2="915.2" y2="893.5" stroke="#0000ff" stroke-width="3.4"/><path d="M927.8 904.6L907.4 896L916.6 885.5Z" fill="#0000ff"/><line x1="922.6" y1="715.1" x2="948.1" y2="739.9" stroke="#00ffff" stroke-width="3.4"/><path d="M960.2 751.6L940.3 742L950 732Z" fill="#00ffff"/><line x1="1049.7" y1="731.6" x2="1018" y2="774.5" stroke="#ff00ff" stroke-width="3.4"/><path d="M1008 788L1014.9 767L1026.1 775.3Z" fill="#ff00ff"/><line x1="1080.6" y1="817.2" x2="1048.6" y2="859.6" stroke="#ffff00" stroke-width="3.4"/><path d="M1038.5 873L1045.6 852L1056.7 860.5Z" fill="#ffff00"/><line x1="1182.8" y1="829.6" x2="1151.1" y2="871.6" stroke="#a0a000" stroke-width="3.4"/><path d="M1141 885L1148.1 864L1159.2 872.5Z" fill="#a0a000"/><text x="861.9" y="862.7" font-size="28.09" font-weight="bold" text-anchor="start" fill="#000">N1</text><text x="894.9" y="698.3" font-size="28.88" font-weight="bold" text-anchor="start" fill="#000">N2</text><text x="1057.4" y="731" font-size="28.8" font-weight="bold" text-anchor="start" fill="#000">N3</text><text x="1089" y="827.6" font-size="29.41" font-weight="bold" text-anchor="start" fill="#000">N4</text><text x="1188.2" y="824.9" font-size="29.49" font-weight="bold" text-anchor="start" fill="#000">N5</text><text x="1226.1" y="644" font-size="29.62" font-weight="bold" text-anchor="start" fill="#000">N 1s</text><text x="1256.2" y="1030.1" font-size="43.5" font-weight="bold" text-anchor="start" fill="#000">e</text><rect x="748.5" y="606.7" width="553" height="445.2" fill="none" stroke="#000" stroke-width="3.2"/><line x1="748.5" y1="1051.9" x2="748.5" y2="1060.4" stroke="#000" stroke-width="3.0"/><line x1="859.1" y1="1051.9" x2="859.1" y2="1060.4" stroke="#000" stroke-width="3.0"/><line x1="969.7" y1="1051.9" x2="969.7" y2="1060.4" stroke="#000" stroke-width="3.0"/><line x1="1080.3" y1="1051.9" x2="1080.3" y2="1060.4" stroke="#000" stroke-width="3.0"/><line x1="1190.9" y1="1051.9" x2="1190.9" y2="1060.4" stroke="#000" stroke-width="3.0"/><line x1="1301.5" y1="1051.9" x2="1301.5" y2="1060.4" stroke="#000" stroke-width="3.0"/><line x1="803.8" y1="1051.9" x2="803.8" y2="1056.4" stroke="#000" stroke-width="3.0"/><line x1="914.4" y1="1051.9" x2="914.4" y2="1056.4" stroke="#000" stroke-width="3.0"/><line x1="1025" y1="1051.9" x2="1025" y2="1056.4" stroke="#000" stroke-width="3.0"/><line x1="1135.6" y1="1051.9" x2="1135.6" y2="1056.4" stroke="#000" stroke-width="3.0"/><line x1="1246.2" y1="1051.9" x2="1246.2" y2="1056.4" stroke="#000" stroke-width="3.0"/><text x="748.5" y="1089" font-size="29.9" font-weight="bold" text-anchor="middle" fill="#000">390</text><text x="859.1" y="1089" font-size="29.9" font-weight="bold" text-anchor="middle" fill="#000">395</text><text x="969.7" y="1089" font-size="29.9" font-weight="bold" text-anchor="middle" fill="#000">400</text><text x="1080.3" y="1089" font-size="29.9" font-weight="bold" text-anchor="middle" fill="#000">405</text><text x="1190.9" y="1089" font-size="29.9" font-weight="bold" text-anchor="middle" fill="#000">410</text><text x="1301.5" y="1089" font-size="29.9" font-weight="bold" text-anchor="middle" fill="#000">415</text><text x="1025" y="1137.5" font-size="29.4" font-weight="bold" text-anchor="middle" fill="#000">Binding Energy (eV)</text><text x="0" y="0" font-size="29.4" font-weight="bold" text-anchor="middle" transform="translate(712.3 819.8) rotate(-90)">Intensity (a.u.)</text><path d="M1502.1 1041.6L1502.9 1037.8L1503.7 1037.3L1504.5 1035.5L1505.3 1033L1506.1 1032L1506.2 1032.1L1506.9 1029L1507.7 1029.7L1508.5 1030.6L1509.3 1029L1510.1 1029.5L1510.9 1031.3L1511 1029.5L1511.7 1028.9L1512.5 1029.1L1513.3 1027.4L1514.1 1027.2L1514.9 1027.4L1515.7 1025.2L1516.5 1029.7L1516.9 1025.4L1517.3 1026.1L1518.1 1025.3L1518.9 1022.2L1519.7 1024.5L1520.5 1022.7L1521.3 1024.1L1522.1 1023.1L1522.8 1022L1522.9 1020.2L1523.7 1013.9L1523.7 1014.6L1524.5 1016.9L1525.3 1018.9L1526.1 1022.2L1526.9 1022.1L1527.5 1024L1527.7 1025.8L1528.5 1023.1L1529.3 1025.7L1530.1 1022.3L1530.9 1022.6L1531.7 1020.8L1532.5 1022L1533.3 1021.6L1534.1 1020.6L1534.9 1017.3L1535.7 1019.2L1536.5 1017.5L1537.3 1017.6L1538.1 1014.8L1538.5 1017.3L1538.9 1018L1539.7 1017.6L1540.5 1018L1541.3 1019.4L1542.1 1019.9L1542.9 1019.2L1543.7 1019.5L1544.5 1019.8L1545.3 1016.9L1546.1 1015.7L1546.9 1017.4L1547.7 1019.8L1548.5 1020.4L1549.3 1017.1L1550.1 1020.7L1550.9 1021.5L1551.7 1018.4L1552.5 1019.1L1553.3 1019.5L1554.1 1020.7L1554.6 1020L1554.9 1019.6L1555.7 1018.9L1556.5 1017.9L1557.3 1021L1558.1 1019.6L1558.9 1019.5L1559.7 1019.5L1560.5 1019.2L1561.3 1020.8L1562.1 1020.1L1562.9 1019.5L1563.7 1022.2L1564.5 1022.3L1565.3 1022.2L1566.1 1020.3L1566.9 1021.4L1567.7 1023.3L1568.1 1021.4L1568.5 1001.1L1569.3 960.4L1570 923.1L1570.1 926.3L1570.9 964.1L1571.7 998.9L1572.1 1017.3L1572.5 1016L1573.3 1012.5L1574.1 1008.5L1574.9 1005.3L1575.7 1002L1576.2 999.8L1576.5 999.3L1577.3 1000.5L1578.1 1002.1L1578.9 999.2L1579.7 1000.3L1580.5 999.8L1581.3 1002.1L1582.1 1001.6L1582.9 1001.5L1583.7 1000.6L1584.5 1001.5L1585.3 1002.2L1586.1 1000.1L1586.9 1000.1L1587.7 1002.5L1588.5 1001.6L1589.3 1002.4L1590.1 1002.1L1590.9 1001.6L1591 1002.5L1591.7 987.8L1592.5 969L1593.1 955.4L1593.3 960.7L1594.1 979L1594.9 997.6L1595 999L1595.7 992.6L1596.5 992L1597.3 985L1597.5 985L1598.1 950.5L1598.9 904.8L1599 898.9L1599.7 940.6L1600.4 982.3L1600.5 981.9L1601.3 968.5L1601.7 959.4L1602.1 963L1602.9 967.5L1603.7 972.3L1604.4 976.9L1604.5 976.9L1605.3 979.6L1606.1 975.6L1606.9 977.4L1607.7 978L1608.5 976.3L1609.3 978.4L1610.1 978.2L1610.9 976.2L1611.7 976L1612.5 978.7L1613.3 978L1614.1 976.6L1614.9 976.7L1615.7 977.4L1616.5 979.5L1616.5 978.3L1617.3 976.3L1618.1 974.5L1618.9 969.6L1619.2 970.2L1619.7 975L1620.5 975.1L1621 978L1621.3 978.9L1622.1 979L1622.9 977.8L1623.7 977.4L1624.5 978L1625.3 974.8L1626.1 976.9L1626.9 975.7L1627.7 977.8L1628.5 975L1629.3 975.6L1630 976L1630.1 973.5L1630.9 974.9L1631.7 976.1L1632.5 977.9L1633.3 977L1634.1 976.9L1634.9 977.1L1635.7 976.4L1636.5 975.2L1636.5 975L1637.3 970.1L1638 969L1638.1 967.8L1638.9 971.1L1639.7 976.6L1640 977L1640.5 977.7L1641.3 976.5L1642.1 977.8L1642.9 976.6L1643.7 978.6L1644.5 977.8L1645.3 979.7L1646.1 978L1646.9 977L1647.7 977.9L1648.5 980L1649.3 979.4L1650.1 979.3L1650.9 979.6L1651.5 979.6L1651.7 978.6L1652.5 980.2L1653.3 981.8L1654.1 977.3L1654.9 979.4L1655.7 978.6L1656.5 980.4L1657.3 980.6L1658.1 980.2L1658.9 980.3L1659.7 978.9L1660.5 980.4L1661.3 982.7L1662.1 981.6L1662.9 982.3L1663.7 980.3L1664.5 981.9L1665 981L1665.3 978.4L1666.1 972.1L1666.9 963L1667.7 959.4L1668.2 954.1L1668.5 960.7L1669.3 968.6L1670.1 977.5L1670.2 979L1670.9 978.6L1671.7 976.9L1672.5 978.9L1673.3 976L1674.1 974.3L1674.9 974.7L1675.7 975.5L1676.5 973.4L1677.1 974.2L1677.3 962.3L1678.1 916.3L1678.9 869.1L1679 863.9L1679.7 895.7L1680.5 930.9L1681.2 960.8L1681.3 959.7L1682.1 957.6L1682.9 952.5L1683.7 946.2L1683.9 947.3L1684.5 948.2L1685.3 944.3L1686.1 940L1686.9 937.4L1687.7 937.4L1688.5 938.2L1689.2 933.9L1689.3 936.9L1690.1 938.5L1690.5 941.2L1690.9 939.3L1691.7 937.3L1692.5 938.9L1693.3 937.1L1693.5 938L1694.1 921.8L1694.9 896.4L1695.2 889.2L1695.7 897L1696.5 913L1697.2 926L1697.3 921.6L1698.1 906.3L1698.3 901.7L1698.9 906.3L1699.7 913.9L1700.4 920.4L1700.5 919.3L1701.3 920.9L1702.1 919.7L1702.9 920.2L1703.7 917.5L1704.5 919.2L1705.3 922.1L1706.1 921.1L1706.7 921.5L1706.9 921.6L1707.7 922.2L1708.5 919.5L1709.3 923.3L1710.1 922.7L1710.9 921.3L1711.7 923.4L1712.5 926L1713.3 924.8L1714.1 924.1L1714.9 927.2L1715.7 922.8L1716.5 926.3L1717.3 925.4L1718.1 927.9L1718.9 927.5L1719.7 926.8L1720.5 929.6L1721.2 928.8L1721.3 928.8L1722.1 929.4L1722.9 926.1L1723.7 932.2L1724.5 932.1L1725.3 929.8L1726.1 929.8L1726.9 931.8L1727.7 933.5L1728.5 932.9L1729.3 932.2L1730.1 935.1L1730.9 933.4L1731.7 936.1L1731.7 935L1732.5 935.2L1733.3 932.8L1734.1 932.3L1734.9 931.8L1735.7 932.7L1736.5 931.3L1736.9 930.8L1737.3 921.4L1738.1 909.3L1738.9 892.6L1739 890.2L1739.7 892.8L1740.5 896.2L1741 899.6L1741.3 901L1742.1 898.8L1742.9 895.6L1743.7 892.9L1744.2 893.3L1744.5 890.9L1745.3 892.8L1746.1 894.8L1746.9 893.7L1747.7 894.5L1748.5 896L1749.3 895.7L1750.1 896.6L1750.9 894.6L1751.7 896.5L1752.5 898L1752.5 896.5L1753.3 896.1L1754.1 896.4L1754.9 896.3L1755.7 894.5L1756.5 894.8L1757.3 895.6L1758.1 892.7L1758.9 894.9L1759.7 892.7L1760.5 894.2L1761.3 890.2L1762.1 893L1762.9 889.9L1762.9 890.2L1763.7 892.3L1764.5 891.3L1765.3 896.1L1766.1 895.3L1766.9 896.4L1767.7 901L1768.5 899.8L1769.2 900.6L1769.3 899.4L1770.1 903.2L1770.9 899.5L1771.7 900.5L1772.5 899.6L1773.3 901.1L1774.1 900.4L1774.9 899.3L1775.7 897.4L1776.5 900L1777.3 898.8L1777.5 899.6L1778.1 898.5L1778.9 895.6L1779.7 893L1780.5 889.6L1781.3 887.1L1781.7 885L1782.1 885L1782.9 886.5L1783.7 886.6L1784.5 886.1L1785.3 886.4L1786.1 883.8L1786.9 885.8L1787.7 885.4L1788.5 887.4L1789.3 887L1790 887.1L1790.1 885.5L1790.9 885.9L1791.7 888L1792.5 887.9L1793.3 889L1794.1 889.8L1794.9 885.4L1795.7 885.9L1796.2 888.1L1796.5 888.3L1797.3 883.5L1798.1 880.1L1798.9 879.5L1799.4 876.7L1799.7 877.3L1800.5 876.7L1801.3 878.3L1802.1 875.7L1802.9 876.9L1803.7 876.8L1804.5 877.7L1805.3 875.3L1806.1 874.1L1806.7 875.6L1806.9 875.7L1807.7 875.4L1808.5 875.9L1809.3 877.9L1810.1 879.1L1810.9 879.1L1811.7 879.9L1812.5 879.1L1813.3 879.5L1814.1 881.5L1814.9 882.3L1815 881.9L1815.7 883L1816.5 882.7L1817.3 882.7L1818.1 881.7L1818.1 884L1818.9 882.5L1819.7 884L1820.5 879.1L1821.3 876.6L1822.1 877.7L1822.9 875L1823.3 873.5L1823.7 869.9L1824.5 864.9L1825.3 858.9L1826.1 856.6L1826.9 849.9L1826.9 850.6L1827.7 855.6L1828.5 863.7L1829.2 868.3L1829.3 867.2L1830.1 863.5L1830.9 859.6L1831.7 860.3L1832.5 856L1833.3 852.8L1833.8 852.7L1834.1 853.8L1834.9 852.2L1835.7 855.9L1836.5 853.2L1837.3 855.3L1838.1 855.5L1838.9 858.8L1839.7 858L1840 857.9L1840.5 857.3L1841.3 859.1L1842.1 858.7L1842.9 858.9L1843.7 859.7L1844.5 860L1845.3 860.4L1846.1 861.9L1846.9 861.3L1847.7 863.2L1848.5 864.6L1849.3 863.7L1850.1 866.3L1850.9 869.1L1851.7 867.5L1852.5 869.2L1852.5 868.3L1853.3 869L1854.1 870.7L1854.9 870.5L1855.7 872.4L1856.5 872.8L1856.7 872.5L1857.3 862L1857.7 854.8L1858.1 859.8L1858.9 869.6L1859.2 874.6L1859.7 875.2L1860.5 875.6L1861.3 875.6L1862.1 876.8L1862.9 880.8L1863.7 877.6L1864.5 881.4L1865.3 878.4L1866.1 879.5L1866.9 881.3L1867.7 883.4L1868.5 881.5L1869.3 883.4L1870.1 883.2L1870.9 884.5L1871.2 885L1871.7 885L1872.5 884.3L1873.3 887.8L1874.1 890.1L1874.9 887.5L1875.7 890.4L1876.5 890L1877.3 891L1878.1 892.6L1878.9 893.7L1879.7 893.1L1880.5 892.8L1881.3 896.2L1882.1 897.2L1882.9 895.8L1883.7 897.6L1884.5 898.1L1885.3 900L1886.1 899.1L1886.9 901.2L1887.7 901.1L1887.9 901.7L1888.5 903.3L1889.3 904.2L1890.1 901.6L1890.9 905.7L1891.7 906.5L1892.5 906.5L1893.3 905.2L1894.1 907.5L1894.9 908.2L1895.7 908.7L1896.5 908.1L1897.3 909.5L1898.1 909.3L1898.9 911L1899.7 912.5L1900.5 914.2L1901.3 913.5L1902.1 914.1L1902.9 912.7L1903.5 914.2L1903.7 912.5L1904.5 909.4L1905.3 907L1906.1 903.6L1906.9 895L1907.7 891.4L1907.7 892.3L1908.5 892L1909.3 896.7L1910.1 899.8L1910.8 899.6L1910.9 901.2L1911.7 899.1L1912.5 902.5L1913.3 901.5L1914.1 904.7L1914.9 903.8L1915.7 904.4L1916.5 903.1L1917.3 907.3L1918.1 907L1918.9 910L1919.2 909L1919.7 910L1920.5 908L1921.3 912.4L1922.1 912.5L1922.9 911.1L1923.7 913.7L1924.5 917.6L1925.3 916.1L1926.1 915.1L1926.9 915.4L1927.5 917.3L1927.7 917.2L1928.5 917.4L1929.3 916.6L1930.1 916.5L1930.9 917.3L1931.7 914.9L1932.5 916.3L1932.7 915.2L1933.3 913.7L1934.1 910.5L1934.2 907.9L1934.9 913.1L1935.7 915.5L1935.8 918.3L1936.5 918.2L1937.3 916L1938.1 914.5L1938.9 912.5L1939.7 911.6L1940 910L1940.5 908.8L1941.3 908.9L1942.1 907.4L1942.9 910.7L1943.7 908.2L1944.5 909.4L1945.3 906.5L1946.1 906.9L1946.9 909.2L1947.7 908.6L1948.5 907L1949.3 904.4L1950.1 907.3L1950.4 905.8" fill="none" stroke="#e63c3c" stroke-width="2.2" stroke-linejoin="round"/><path d="M1502.1 933.9L1502.9 932L1503.7 934.2L1504.5 930.9L1505.3 929.5L1506.1 932.1L1506.2 931.2L1506.9 929L1507.7 928.4L1508.5 931.7L1509.3 925.7L1510.1 925.3L1510.2 925.8L1510.9 926.3L1511.7 926.9L1512.5 925.3L1512.8 924L1513.3 917.7L1513.7 912.3L1514.1 917.7L1514.9 926.1L1515 926.5L1515.7 926.8L1516.5 924.7L1517.3 925.5L1518.1 924.6L1518.9 925.1L1519.7 920.9L1520.5 924.5L1521.3 921.7L1522.1 924.7L1522.3 923.1L1522.9 922.2L1523.7 921.7L1524.5 922.7L1525.3 923.5L1526.1 922.1L1526.9 921.5L1527.7 921.5L1528.5 920.9L1529.3 920.8L1530.1 919.5L1530.4 920.4L1530.9 922.2L1531.7 921.6L1532.5 917.8L1533.3 919.6L1534.1 919.9L1534.9 918.8L1535.7 918.5L1536.5 919.2L1537.3 920.4L1537.6 919L1538.1 913.9L1538.5 909.6L1538.9 912.9L1539.6 919L1539.7 918.6L1540.5 916L1541.3 916.1L1542.1 916.5L1542.9 916.6L1543.7 914.6L1544.5 915.9L1545.2 912.3L1545.3 912.6L1546.1 913.4L1546.9 918.5L1547.7 916.7L1548 917.5L1548.5 918L1549.3 916.6L1550.1 917.9L1550.9 915L1551.7 918.1L1552.5 918L1553.3 916.1L1553.6 916.5L1554.1 912.6L1554.6 908.3L1554.9 909.2L1555.7 914.1L1556 916L1556.5 916.8L1557.3 915.8L1558.1 916.3L1558.9 916.1L1559.7 915.2L1560.5 915.5L1561.3 912.2L1562.1 915.8L1562.9 916.7L1563.7 916.4L1564.5 914.9L1565.3 917.6L1566.1 917.1L1566.9 914.2L1567.7 915.2L1568.5 914.6L1569.3 914L1570.1 916.4L1570.8 915L1570.9 914.1L1571.7 914.8L1572.5 915.5L1573.3 914.6L1574.1 916.3L1574.9 915.5L1575.7 915.5L1576.5 913L1577.3 916.6L1578.1 912.1L1578.9 914.9L1579.7 916.4L1580.5 915.1L1581.3 914L1582.1 914.4L1582.9 913.4L1583.7 916.6L1584.2 915L1584.5 913.8L1585.3 917.4L1586.1 914.4L1586.9 915.6L1587.7 912.7L1588.5 915.1L1589.3 916L1590.1 915.4L1590.9 914.2L1591.7 916.7L1592.5 913.9L1593.3 917.1L1594.1 915.2L1594.9 915.3L1595.7 916L1596.4 915.5L1596.5 917L1597.3 906.1L1597.7 901.5L1598.1 863.4L1598.9 784.7L1599 776.3L1599.7 835.7L1600.4 896.2L1600.5 897.9L1601.3 897.2L1602.1 897.3L1602.9 897.6L1603.1 898.9L1603.7 889L1604.5 877.5L1605.3 865L1605.8 857.1L1606.1 857.4L1606.9 869.6L1607.7 877.9L1608.5 882.4L1608.5 885.4L1609.3 885.5L1610.1 883.8L1610.9 886.2L1611.7 884.3L1612.5 885.8L1613.3 886.9L1614.1 887.7L1614.9 887.7L1615.7 886.3L1616.5 883.8L1616.5 886.7L1617.3 885.5L1617.9 884L1618.1 865.3L1618.7 808.7L1618.9 819.3L1619.7 863L1619.8 870L1620.5 870.8L1621.3 876.7L1621.4 877.3L1622.1 875.4L1622.9 877.8L1623.7 872.6L1624.5 876.2L1625.3 873.2L1626.1 873.9L1626.9 874.2L1627.7 874.2L1628.5 870.5L1629.3 872.6L1630 871.9L1630.1 872.1L1630.9 871.6L1631.7 872.4L1632.5 870.7L1633.3 871.7L1634.1 870.6L1634.9 872.2L1635.7 873.3L1636.5 873.1L1637.3 872.1L1638.1 873.9L1638.9 873.2L1639.7 874.2L1640.5 873.1L1641.3 872.3L1642.1 873.4L1642.9 874.3L1643.7 872.6L1644.5 873.4L1645.3 872L1646.1 874.4L1646.9 872.3L1647.7 870.7L1648.5 874.4L1648.9 873.3L1649.3 865.6L1649.7 854.4L1650.1 858.1L1650.9 869.2L1651 871.9L1651.7 871.2L1652.5 872.8L1653.3 870.5L1654.1 873L1654.9 872.1L1655.7 872L1656.5 876.3L1657.3 870.1L1658.1 873L1658.9 869.8L1659.7 871.4L1660.5 870.5L1661.3 871.1L1662.1 872L1662.9 870.2L1663.7 872.6L1664.5 870.7L1665.3 873L1666.1 871L1666.9 871.6L1667.7 871.9L1667.7 871.9L1668.5 873.4L1669.3 876.2L1670.1 872.5L1670.9 872L1671.7 873L1672.5 873.7L1673.3 872.7L1674.1 877L1674.9 872.4L1675.7 874.4L1676.5 872.6L1677.3 875.6L1677.9 874.6L1678.1 871.9L1678.9 864.5L1679.3 860L1679.7 659.3L1679.8 606.5L1680.5 606.6L1680.6 606.5L1681.2 840L1681.3 843.5L1681.7 861.2L1682.1 856.1L1682.9 851.9L1683.7 846.5L1684.5 838.2L1685.2 834.2L1685.3 832.4L1686.1 829L1686.9 825.7L1687.7 823.7L1687.9 822.1L1688.5 825.2L1689.3 821.5L1690 826.7L1690.1 828.6L1690.9 825.8L1691.7 828.6L1692.5 826.4L1693.3 830.3L1694.1 823.9L1694.9 828.4L1695.7 828.8L1696.5 828.4L1697.3 824.7L1698.1 828.2L1698.3 826.7L1698.9 827.1L1699.7 828.9L1700.5 828.7L1701.3 828.4L1702.1 828.8L1702.9 829.1L1703.7 826.6L1704.5 826.3L1704.6 828.8L1705.3 829.4L1706.1 829.7L1706.9 830.9L1707.7 832.5L1708.5 832.4L1709.3 832.2L1710.1 834.6L1710.8 835L1710.9 834.5L1711.7 835.4L1712.5 833.9L1713.3 835.2L1714.1 835.4L1714.9 835.3L1715.7 834.8L1716.5 835L1717.3 835.6L1718.1 837.4L1718.9 836.6L1719.7 834.1L1720.5 835.1L1721.2 835L1721.3 834.3L1722.1 835L1722.9 836.4L1723.7 836.3L1724.5 838L1725.3 836.8L1726.1 837.6L1726.9 835.6L1727.7 837.3L1728.5 837L1729.3 839.5L1730.1 836.9L1730.9 836.9L1731.7 837.7L1731.7 839.2L1732.5 839.3L1733.3 841.5L1734.1 844.5L1734.8 842.3L1734.9 840.5L1735.7 841L1736.5 840.6L1737.3 840.8L1737.6 838L1738.1 832.7L1738.3 826.7L1738.9 831.5L1739.5 837L1739.7 836.7L1740.5 835.1L1741.3 831.6L1742.1 831L1742.9 828.2L1743.7 828.5L1744.2 827.7L1744.5 829.1L1745.3 829.6L1746.1 829.9L1746.9 832L1747 833L1747.7 832.3L1748.5 834.6L1749.3 831.7L1750.1 831.6L1750.9 832.8L1751.7 831.4L1752.5 833.1L1752.5 832.9L1753.3 832.8L1754.1 832.5L1754.9 833.1L1755.7 831.9L1756.5 832.9L1757.3 831.5L1758.1 831.1L1758.9 832.5L1759.7 833.5L1760.5 831.2L1761.3 831.1L1762.1 830.8L1762.9 831.8L1762.9 831.9L1763.7 832.4L1764.5 832.3L1765.3 834.6L1766.1 834.4L1766.9 833.7L1767.7 835.2L1768.5 836.4L1769.3 837.4L1770.1 838.2L1770.9 835.7L1771.7 837.7L1772.5 837.6L1773.3 840.6L1773.3 838.1L1774.1 836.7L1774.9 836.6L1775.7 836L1776.5 834.8L1777.3 835.5L1778.1 834L1778.9 832.8L1779.7 833.4L1780.5 832.8L1781.3 830.3L1781.7 832.9L1782.1 832.3L1782.9 831.6L1783.7 834.7L1784.5 834.5L1785.3 832.2L1786.1 834.1L1786.9 833.4L1787.7 830.6L1788.5 832.7L1789.3 834.7L1790.1 833.5L1790.9 833.3L1791.7 834.8L1792.5 834.7L1793.3 834.7L1794.1 832.7L1794.2 834L1794.9 833.1L1795.7 832.3L1796.5 830.4L1797.3 831.4L1798.1 831.9L1798.9 828L1799.7 833.8L1800.5 831.7L1801.3 831.7L1802.1 832L1802.5 829.8L1802.9 829L1803.7 833.9L1804.5 831.4L1805.3 835.8L1806.1 836L1806.7 835L1806.9 836.3L1807.7 834.3L1808.5 836.1L1809.3 835L1810.1 836.5L1810.9 834.8L1811.7 835L1812.5 837.5L1813.3 833.7L1814.1 837L1814.9 834.8L1815 837.1L1815.7 833.9L1816.5 836.6L1817.3 837.8L1818.1 836.3L1818.9 837.7L1819.7 838.7L1820.5 837.1L1821.2 838.1L1821.3 837L1822.1 830.7L1822.9 824.8L1823.3 822.5L1823.7 819.2L1824.5 808.3L1825.3 799.3L1826.1 790.4L1826.9 782.1L1826.9 781.9L1827.7 791.4L1828.5 801.9L1829.3 811.5L1829.6 816.2L1830.1 814.7L1830.9 810.9L1831.7 806.8L1832.5 803.7L1833.3 800.5L1833.8 798.5L1834.1 798L1834.9 801.7L1835.7 804.9L1836.5 804.8L1836.9 807.9L1837.3 807.3L1838.1 804.5L1838.9 804.2L1839.7 801L1840.5 798.8L1841 797.5L1841.3 796.8L1842.1 801.2L1842.9 802.8L1843.7 809.5L1844.2 810L1844.5 811.1L1845.3 810.7L1846.1 808.7L1846.9 805.8L1847.7 808L1848.5 806.1L1849.3 805.4L1849.4 804.8L1850.1 807.4L1850.9 807.1L1851.7 807.6L1852.5 809.3L1853.3 807.9L1854.1 811L1854.9 814.9L1855.7 812.9L1856.5 815.9L1856.7 816.2L1857.3 817.1L1858.1 817.7L1858.9 817.7L1859.7 818.8L1860.5 819.3L1861.3 818.2L1862.1 819.8L1862.9 819.7L1863.7 820.6L1864.5 820.4L1865.3 821.4L1866.1 821L1866.9 820.6L1867 821.5L1867.7 821.4L1868.5 823.8L1869.3 822.7L1870.1 825.5L1870.9 823.1L1871.7 825.6L1872.5 821.7L1873.3 825.6L1874.1 825.4L1874.9 825.1L1875.7 827.4L1876.5 825.2L1877.3 828.8L1877.5 826.7L1878.1 827L1878.9 826L1879.7 828.3L1880.5 827.6L1881.3 828.7L1882.1 828.9L1882.9 829.7L1883.7 828.3L1884.5 829.4L1885.3 830.6L1886.1 831.2L1886.9 830.6L1887.7 831L1888 831.9L1888.5 831.1L1889.3 833.6L1890.1 835.1L1890.9 833.5L1891.7 834.4L1892.5 831.6L1893.3 837.5L1894.1 836.9L1894.9 833.8L1895.2 837.1L1895.7 835.3L1896.5 831.7L1897.3 826.5L1898.1 825.1L1898.3 824.6L1898.9 825.5L1899.7 828.8L1900.5 828.4L1900.5 829L1901.3 826.1L1902.1 819L1902.9 817.2L1903.5 814.2L1903.7 815.6L1904.5 812.8L1905.3 812.2L1906.1 808.2L1906.9 809.3L1907.7 807.7L1908.5 804.8L1908.8 806.9L1909.3 808.4L1910.1 807.1L1910.9 808.5L1911.7 811.3L1912.5 812.4L1913.3 814.6L1914.1 812.6L1914.9 814.6L1915 816.2L1915.7 814.6L1916.5 814.9L1917.3 818.5L1918.1 817.8L1918.9 821.1L1919.2 819.4L1919.7 820L1920.5 819.9L1921.3 820.6L1922.1 821.3L1922.9 821.8L1923.7 819.6L1924.5 822L1925.3 819.6L1926.1 819.8L1926.9 821.4L1927.5 822.5L1927.7 823.9L1928.5 823.6L1929.3 820.9L1930.1 820.2L1930.9 820.9L1931.7 821.6L1932.5 821.3L1932.7 821.5L1933.3 809.3L1934.1 793.2L1934.2 792.3L1934.9 805.1L1935.7 817.3L1935.8 819L1936.5 819.7L1937.3 817.8L1938.1 814.7L1938.9 816.5L1939.7 817.6L1940 816.2L1940.5 814.7L1941.3 813.8L1942.1 812.3L1942.9 814.8L1943.7 812.7L1944.5 811.9L1945.3 811.7L1946.1 808.4L1946.9 806.8L1947.7 806.7L1948.5 807L1949.3 805.1L1950.1 805.6L1950.4 804.8" fill="none" stroke="#1f6fdc" stroke-width="2.2" stroke-linejoin="round"/><line x1="1688.1" y1="634.9" x2="1756.4" y2="634.9" stroke="#e63c3c" stroke-width="2.2"/><line x1="1688.1" y1="671.9" x2="1756.4" y2="671.9" stroke="#1f6fdc" stroke-width="2.2"/><text x="1764.3" y="646.2" font-size="29.54" font-weight="bold" text-anchor="start" fill="#000">After adsorption</text><text x="1764" y="683.2" font-size="29.61" font-weight="bold" text-anchor="start" fill="#000">Before adsorption</text><text x="1690.7" y="623.6" font-size="15.0" font-weight="bold" text-anchor="start" fill="#000">O 1s</text><text x="1584.8" y="766.7" font-size="15.47" font-weight="bold" text-anchor="start" fill="#000">C 1s</text><text x="1637.2" y="843.6" font-size="14.84" font-weight="bold" text-anchor="start" fill="#000">N 1s</text><text x="1685.6" y="807.5" font-size="15.51" font-weight="bold" text-anchor="start" fill="#000">Cr 2p</text><text x="1733.5" y="817" font-size="14.67" font-weight="bold" text-anchor="start" fill="#000">Fe 2p</text><text x="1959.6" y="1029.2" font-size="43.0" font-weight="bold" text-anchor="start" fill="#000">f</text><rect x="1438.9" y="606.5" width="560" height="445.4" fill="none" stroke="#000" stroke-width="3.2"/><line x1="1438.9" y1="1051.9" x2="1438.9" y2="1060.4" stroke="#000" stroke-width="3.0"/><line x1="1504.8" y1="1051.9" x2="1504.8" y2="1060.4" stroke="#000" stroke-width="3.0"/><line x1="1570.7" y1="1051.9" x2="1570.7" y2="1060.4" stroke="#000" stroke-width="3.0"/><line x1="1636.5" y1="1051.9" x2="1636.5" y2="1060.4" stroke="#000" stroke-width="3.0"/><line x1="1702.4" y1="1051.9" x2="1702.4" y2="1060.4" stroke="#000" stroke-width="3.0"/><line x1="1768.3" y1="1051.9" x2="1768.3" y2="1060.4" stroke="#000" stroke-width="3.0"/><line x1="1834.2" y1="1051.9" x2="1834.2" y2="1060.4" stroke="#000" stroke-width="3.0"/><line x1="1900.1" y1="1051.9" x2="1900.1" y2="1060.4" stroke="#000" stroke-width="3.0"/><line x1="1966" y1="1051.9" x2="1966" y2="1060.4" stroke="#000" stroke-width="3.0"/><line x1="1471.8" y1="1051.9" x2="1471.8" y2="1056.4" stroke="#000" stroke-width="3.0"/><line x1="1537.7" y1="1051.9" x2="1537.7" y2="1056.4" stroke="#000" stroke-width="3.0"/><line x1="1603.6" y1="1051.9" x2="1603.6" y2="1056.4" stroke="#000" stroke-width="3.0"/><line x1="1669.5" y1="1051.9" x2="1669.5" y2="1056.4" stroke="#000" stroke-width="3.0"/><line x1="1735.4" y1="1051.9" x2="1735.4" y2="1056.4" stroke="#000" stroke-width="3.0"/><line x1="1801.3" y1="1051.9" x2="1801.3" y2="1056.4" stroke="#000" stroke-width="3.0"/><line x1="1867.1" y1="1051.9" x2="1867.1" y2="1056.4" stroke="#000" stroke-width="3.0"/><line x1="1933" y1="1051.9" x2="1933" y2="1056.4" stroke="#000" stroke-width="3.0"/><text x="1438.9" y="1089" font-size="29.9" font-weight="bold" text-anchor="middle" fill="#000">-200</text><text x="1504.8" y="1089" font-size="29.9" font-weight="bold" text-anchor="middle" fill="#000">0</text><text x="1570.7" y="1089" font-size="29.9" font-weight="bold" text-anchor="middle" fill="#000">200</text><text x="1636.5" y="1089" font-size="29.9" font-weight="bold" text-anchor="middle" fill="#000">400</text><text x="1702.4" y="1089" font-size="29.9" font-weight="bold" text-anchor="middle" fill="#000">600</text><text x="1768.3" y="1089" font-size="29.9" font-weight="bold" text-anchor="middle" fill="#000">800</text><text x="1834.2" y="1089" font-size="29.9" font-weight="bold" text-anchor="middle" fill="#000">1000</text><text x="1900.1" y="1089" font-size="29.9" font-weight="bold" text-anchor="middle" fill="#000">1200</text><text x="1966" y="1089" font-size="29.9" font-weight="bold" text-anchor="middle" fill="#000">1400</text><text x="1718.9" y="1137.5" font-size="29.4" font-weight="bold" text-anchor="middle" fill="#000">Binding Energy (eV)</text><text x="0" y="0" font-size="29.4" font-weight="bold" text-anchor="middle" transform="translate(1402.3 820.3) rotate(-90)">Intensity(a.u.)</text></svg></body></html>
